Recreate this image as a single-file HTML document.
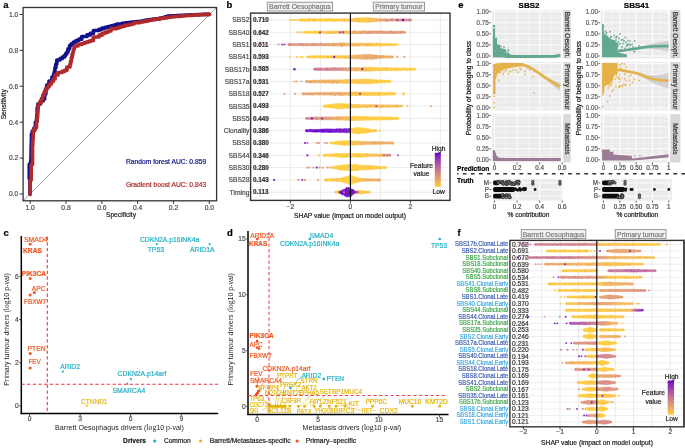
<!DOCTYPE html>
<html><head><meta charset="utf-8"><style>
html,body{margin:0;padding:0;background:#fff;}
svg{display:block;font-family:"Liberation Sans",sans-serif;will-change:transform;}
</style></head><body>
<svg width="685" height="448" viewBox="0 0 685 448">
<rect width="685" height="448" fill="#fff"/>
<text x="3.2" y="8.12" font-size="9.5" stroke="#000" stroke-width="0.2" font-weight="bold">a</text>
<line x1="23.1" y1="200.8" x2="216.6" y2="7.5" stroke="#a0a0a0" stroke-width="1" />
<path d="M30,194 L30,191.67 L30,191.67 L30,189.33 L30,189.33 L30,187 L30,187 L30,184.67 L30,184.67 L30,182.33 L30,182.33 L30,180 L30,180 L30,178.5 L29.3,178.5 L29.3,175.8 L29.3,175.8 L29.3,173.1 L29.3,173.1 L29.3,170.4 L29.3,170.4 L29.3,167.7 L29.3,167.7 L29.3,165 L29.3,165 L29.3,164 L30.8,164 L30.8,160 L31,160 L31,158 L31.04,158 L31.04,156 L31.08,156 L31.08,154 L31.12,154 L31.12,152 L31.16,152 L31.16,150 L31.2,150 L31.2,148 L31.26,148 L31.26,146 L31.32,146 L31.32,144 L31.38,144 L31.38,142 L31.44,142 L31.44,140 L31.5,140 L31.5,134 L32.3,134 L32.3,131 L34,131 L34,128 L35.5,128 L35.5,122 L36.5,122 L36.5,119.33 L36.73,119.33 L36.73,116.67 L36.97,116.67 L36.97,114 L37.2,114 L37.2,108 L37.8,108 L37.8,104 L40.5,104 L40.5,101 L43,101 L43,99 L44.6,99 L44.6,94 L45.8,94 L45.8,88.5 L46.8,88.5 L46.8,85 L49,85 L49,81 L52,81 L52,77 L53.5,77 L53.5,75 L54,75 L54,73 L54.5,73 L54.5,71 L55,71 L55,67.5 L55.9,67.5 L55.9,64 L56.8,64 L56.8,60 L60,60 L60,58.5 L62.3,58.5 L62.3,57 L64.6,57 L64.6,55.33 L65.73,55.33 L65.73,53.67 L66.87,53.67 L66.87,52 L68,52 L68,48.75 L69.6,48.75 L69.6,45.5 L71.2,45.5 L71.2,43.75 L73.6,43.75 L73.6,42 L76,42 L76,40.6 L78.85,40.6 L78.85,39.2 L81.7,39.2 L81.7,36.5 L87,36.5 L87,34.95 L90.2,34.95 L90.2,33.4 L93.4,33.4 L93.4,30.5 L99,30.5 L99,29.3 L102,29.3 L102,28.1 L105,28.1 L105,27.3 L108,27.3 L108,26.5 L111,26.5 L111,25.85 L113.85,25.85 L113.85,25.2 L116.7,25.2 L116.7,24 L122,24 L122,23.4 L125.2,23.4 L125.2,22.8 L128.4,22.8 L128.4,22.5 L131.2,22.5 L131.2,22.2 L134,22.2 L134,21.95 L137,21.95 L137,21.7 L140,21.7 L140,21.25 L142.35,21.25 L142.35,20.8 L144.7,20.8 L144.7,20.35 L147.05,20.35 L147.05,19.9 L149.4,19.9 L149.4,19.53 L152.93,19.53 L152.93,19.17 L156.47,19.17 L156.47,18.8 L160,18.8 L160,18.15 L162.5,18.15 L162.5,17.5 L165,17.5 L165,16.85 L167.5,16.85 L167.5,16.2 L170,16.2 L170,15.97 L173.33,15.97 L173.33,15.73 L176.67,15.73 L176.67,15.5 L180,15.5 L180,15.38 L182.5,15.38 L182.5,15.25 L185,15.25 L185,15.12 L187.5,15.12 L187.5,15 L190,15 L190,14.87 L193.33,14.87 L193.33,14.73 L196.67,14.73 L196.67,14.6 L200,14.6 L200,14.5 L203.17,14.5 L203.17,14.4 L206.33,14.4 L206.33,14.3 L209.5,14.3" stroke="#10108c" stroke-width="3.7" fill="none" stroke-linejoin="round" stroke-linecap="round"/>
<path d="M30.2,194.3 L30.2,190.98 L30.2,190.98 L30.2,187.65 L30.2,187.65 L30.2,184.32 L30.2,184.32 L30.2,181 L30.2,181 L30.2,180 L31.2,180 L31.2,176.5 L31.2,176.5 L31.2,173 L31.2,173 L31.2,169.5 L31.2,169.5 L31.2,166 L31.2,166 L31.2,164.5 L32.5,164.5 L32.5,160.88 L32.5,160.88 L32.5,157.25 L32.5,157.25 L32.5,153.62 L32.5,153.62 L32.5,150 L32.5,150 L32.5,145.5 L32.75,145.5 L32.75,141 L33,141 L33,139 L33.08,139 L33.08,137 L33.15,137 L33.15,135 L33.22,135 L33.22,133 L33.3,133 L33.3,130 L35,130 L35,127.5 L36.5,127.5 L36.5,122 L37,122 L37,118 L37.5,118 L37.5,116 L37.64,116 L37.64,114 L37.78,114 L37.78,112 L37.92,112 L37.92,110 L38.06,110 L38.06,108 L38.2,108 L38.2,104 L40,104 L40,102 L41.5,102 L41.5,98.5 L42.75,98.5 L42.75,95 L44,95 L44,92.5 L45,92.5 L45,90.25 L46.5,90.25 L46.5,88 L48,88 L48,86 L49.65,86 L49.65,84 L51.3,84 L51.3,81.5 L53.15,81.5 L53.15,79 L55,79 L55,75 L58,75 L58,72.5 L62,72.5 L62,71.4 L64.45,71.4 L64.45,70.3 L66.9,70.3 L66.9,67 L70,67 L70,64.15 L70.65,64.15 L70.65,61.3 L71.3,61.3 L71.3,57.65 L72.15,57.65 L72.15,54 L73,54 L73,51.8 L73.57,51.8 L73.57,49.6 L74.13,49.6 L74.13,47.4 L74.7,47.4 L74.7,46 L78,46 L78,44.5 L81.7,44.5 L81.7,43.5 L84.35,43.5 L84.35,42.5 L87,42.5 L87,41.8 L89.13,41.8 L89.13,41.1 L91.27,41.1 L91.27,40.4 L93.4,40.4 L93.4,37 L99,37 L99,35.2 L102,35.2 L102,33.4 L105,33.4 L105,32.2 L108,32.2 L108,31 L111,31 L111,28.7 L116.7,28.7 L116.7,27.85 L119.35,27.85 L119.35,27 L122,27 L122,26.1 L125.2,26.1 L125.2,25.2 L128.4,25.2 L128.4,24.6 L131.2,24.6 L131.2,24 L134,24 L134,22.6 L140,22.6 L140,22 L142.93,22 L142.93,21.4 L145.85,21.4 L145.85,20.8 L148.77,20.8 L148.77,20.2 L151.7,20.2 L151.7,19.6 L155.6,19.6 L155.6,19 L159.5,19 L159.5,18.4 L163.4,18.4 L163.4,17.83 L167.27,17.83 L167.27,17.27 L171.13,17.27 L171.13,16.7 L175,16.7 L175,16.5 L177.34,16.5 L177.34,16.3 L179.68,16.3 L179.68,16.1 L182.02,16.1 L182.02,15.9 L184.36,15.9 L184.36,15.7 L186.7,15.7 L186.7,15.5 L189.62,15.5 L189.62,15.3 L192.55,15.3 L192.55,15.1 L195.47,15.1 L195.47,14.9 L198.4,14.9 L198.4,14.78 L200.62,14.78 L200.62,14.66 L202.84,14.66 L202.84,14.54 L205.06,14.54 L205.06,14.42 L207.28,14.42 L207.28,14.3 L209.5,14.3" stroke="#b0292b" stroke-width="3.7" fill="none" stroke-linejoin="round" stroke-linecap="round"/>
<rect x="23.1" y="7.5" width="193.5" height="193.3" fill="none" stroke="#333" stroke-width="1.3" />
<line x1="19.6" y1="194" x2="23.1" y2="194" stroke="#333" stroke-width="1" />
<text x="18.2" y="196.41" font-size="6.7" text-anchor="end" fill="#4d4d4d" stroke="#4d4d4d" stroke-width="0.2">0.0</text>
<line x1="19.6" y1="158.08" x2="23.1" y2="158.08" stroke="#333" stroke-width="1" />
<text x="18.2" y="160.49" font-size="6.7" text-anchor="end" fill="#4d4d4d" stroke="#4d4d4d" stroke-width="0.2">0.2</text>
<line x1="19.6" y1="122.16" x2="23.1" y2="122.16" stroke="#333" stroke-width="1" />
<text x="18.2" y="124.57" font-size="6.7" text-anchor="end" fill="#4d4d4d" stroke="#4d4d4d" stroke-width="0.2">0.4</text>
<line x1="19.6" y1="86.24" x2="23.1" y2="86.24" stroke="#333" stroke-width="1" />
<text x="18.2" y="88.65" font-size="6.7" text-anchor="end" fill="#4d4d4d" stroke="#4d4d4d" stroke-width="0.2">0.6</text>
<line x1="19.6" y1="50.32" x2="23.1" y2="50.32" stroke="#333" stroke-width="1" />
<text x="18.2" y="52.73" font-size="6.7" text-anchor="end" fill="#4d4d4d" stroke="#4d4d4d" stroke-width="0.2">0.8</text>
<line x1="19.6" y1="14.4" x2="23.1" y2="14.4" stroke="#333" stroke-width="1" />
<text x="18.2" y="16.81" font-size="6.7" text-anchor="end" fill="#4d4d4d" stroke="#4d4d4d" stroke-width="0.2">1.0</text>
<line x1="30.2" y1="200.8" x2="30.2" y2="203.9" stroke="#333" stroke-width="1" />
<text x="30.2" y="210.11" font-size="6.7" text-anchor="middle" fill="#4d4d4d" stroke="#4d4d4d" stroke-width="0.2">1.0</text>
<line x1="66.02" y1="200.8" x2="66.02" y2="203.9" stroke="#333" stroke-width="1" />
<text x="66.02" y="210.11" font-size="6.7" text-anchor="middle" fill="#4d4d4d" stroke="#4d4d4d" stroke-width="0.2">0.8</text>
<line x1="101.84" y1="200.8" x2="101.84" y2="203.9" stroke="#333" stroke-width="1" />
<text x="101.84" y="210.11" font-size="6.7" text-anchor="middle" fill="#4d4d4d" stroke="#4d4d4d" stroke-width="0.2">0.6</text>
<line x1="137.66" y1="200.8" x2="137.66" y2="203.9" stroke="#333" stroke-width="1" />
<text x="137.66" y="210.11" font-size="6.7" text-anchor="middle" fill="#4d4d4d" stroke="#4d4d4d" stroke-width="0.2">0.4</text>
<line x1="173.48" y1="200.8" x2="173.48" y2="203.9" stroke="#333" stroke-width="1" />
<text x="173.48" y="210.11" font-size="6.7" text-anchor="middle" fill="#4d4d4d" stroke="#4d4d4d" stroke-width="0.2">0.2</text>
<line x1="209.3" y1="200.8" x2="209.3" y2="203.9" stroke="#333" stroke-width="1" />
<text x="209.3" y="210.11" font-size="6.7" text-anchor="middle" fill="#4d4d4d" stroke="#4d4d4d" stroke-width="0.2">0.0</text>
<text x="121" y="217.21" font-size="6.7" text-anchor="middle" fill="#222" stroke="#222" stroke-width="0.2">Specificity</text>
<text transform="translate(3.3,104.3) rotate(-90)" x="0" y="2.41" font-size="6.7" text-anchor="middle" fill="#222" stroke="#222" stroke-width="0.2">Sensitivity</text>
<text x="125.9" y="164.11" font-size="6.7" fill="#10108c" stroke="#10108c" stroke-width="0.2" textLength="80.3" lengthAdjust="spacingAndGlyphs">Random forest AUC: 0.859</text>
<text x="125.9" y="187.31" font-size="6.7" fill="#b0292b" stroke="#b0292b" stroke-width="0.2" textLength="80.3" lengthAdjust="spacingAndGlyphs">Gradient boost AUC: 0.843</text>
<text x="226.5" y="8.12" font-size="9.5" stroke="#000" stroke-width="0.2" font-weight="bold">b</text>
<line x1="260.4" y1="13.1" x2="260.4" y2="200.4" stroke="#e3e3e3" stroke-width="0.7" />
<line x1="290.4" y1="13.1" x2="290.4" y2="200.4" stroke="#e3e3e3" stroke-width="0.7" />
<line x1="320.4" y1="13.1" x2="320.4" y2="200.4" stroke="#e3e3e3" stroke-width="0.7" />
<line x1="350.4" y1="13.1" x2="350.4" y2="200.4" stroke="#e3e3e3" stroke-width="0.7" />
<line x1="380.4" y1="13.1" x2="380.4" y2="200.4" stroke="#e3e3e3" stroke-width="0.7" />
<line x1="410.4" y1="13.1" x2="410.4" y2="200.4" stroke="#e3e3e3" stroke-width="0.7" />
<line x1="440.4" y1="13.1" x2="440.4" y2="200.4" stroke="#e3e3e3" stroke-width="0.7" />
<line x1="250.6" y1="20" x2="450" y2="20" stroke="#e3e3e3" stroke-width="0.7" />
<line x1="250.6" y1="32.3" x2="450" y2="32.3" stroke="#e3e3e3" stroke-width="0.7" />
<line x1="250.6" y1="44.6" x2="450" y2="44.6" stroke="#e3e3e3" stroke-width="0.7" />
<line x1="250.6" y1="56.9" x2="450" y2="56.9" stroke="#e3e3e3" stroke-width="0.7" />
<line x1="250.6" y1="69.2" x2="450" y2="69.2" stroke="#e3e3e3" stroke-width="0.7" />
<line x1="250.6" y1="81.5" x2="450" y2="81.5" stroke="#e3e3e3" stroke-width="0.7" />
<line x1="250.6" y1="93.8" x2="450" y2="93.8" stroke="#e3e3e3" stroke-width="0.7" />
<line x1="250.6" y1="106.1" x2="450" y2="106.1" stroke="#e3e3e3" stroke-width="0.7" />
<line x1="250.6" y1="118.4" x2="450" y2="118.4" stroke="#e3e3e3" stroke-width="0.7" />
<line x1="250.6" y1="130.7" x2="450" y2="130.7" stroke="#e3e3e3" stroke-width="0.7" />
<line x1="250.6" y1="143" x2="450" y2="143" stroke="#e3e3e3" stroke-width="0.7" />
<line x1="250.6" y1="155.3" x2="450" y2="155.3" stroke="#e3e3e3" stroke-width="0.7" />
<line x1="250.6" y1="167.6" x2="450" y2="167.6" stroke="#e3e3e3" stroke-width="0.7" />
<line x1="250.6" y1="179.9" x2="450" y2="179.9" stroke="#e3e3e3" stroke-width="0.7" />
<line x1="250.6" y1="192.2" x2="450" y2="192.2" stroke="#e3e3e3" stroke-width="0.7" />
<rect x="267.3" y="2.2" width="65.3" height="8.8" fill="#f2f2f2" stroke="#8c8c8c" stroke-width="0.9" />
<text x="299.95" y="9.28" font-size="6.9" text-anchor="middle" fill="#7a7a7a" stroke="#7a7a7a" stroke-width="0.2">Barrett Oesophagus</text>
<rect x="373.3" y="2.2" width="51.2" height="8.8" fill="#f2f2f2" stroke="#8c8c8c" stroke-width="0.9" />
<text x="398.9" y="9.28" font-size="6.9" text-anchor="middle" fill="#7a7a7a" stroke="#7a7a7a" stroke-width="0.2">Primary tumour</text>
<circle cx="289.9" cy="20" r="1.1" fill="#fdc83a" fill-opacity="0.85"/>
<circle cx="292" cy="20" r="1.1" fill="#fdc83a" fill-opacity="0.85"/>
<circle cx="294" cy="20" r="1.1" fill="#fdc83a" fill-opacity="0.85"/>
<circle cx="296" cy="20" r="1.1" fill="#fdc83a" fill-opacity="0.85"/>
<circle cx="298" cy="20" r="1.1" fill="#fdc83a" fill-opacity="0.85"/>
<linearGradient id="g1" x1="300" x2="411" y1="0" y2="0" gradientUnits="userSpaceOnUse"><stop offset="0" stop-color="#ffcc33"/><stop offset="0.44" stop-color="#fdc83a"/><stop offset="0.47" stop-color="#f7bd4a"/><stop offset="0.59" stop-color="#fbc53f"/><stop offset="0.71" stop-color="#f4b653"/><stop offset="0.74" stop-color="#e19673"/><stop offset="0.9" stop-color="#d58482"/><stop offset="1" stop-color="#ce7b89"/></linearGradient>
<path d="M300,18.89 300.99,18.72 301.98,18.78 302.97,19.02 303.96,19.03 304.96,19.02 305.95,18.84 306.94,18.99 307.93,18.74 308.92,18.76 309.91,18.56 310.9,18.62 311.89,18.98 312.88,18.9 313.88,18.96 314.87,18.73 315.86,18.78 316.85,19.02 317.84,18.71 318.83,18.89 319.82,18.82 320.81,18.65 321.8,18.93 322.79,18.79 323.79,18.69 324.78,18.56 325.77,18.84 326.76,18.97 327.75,19.03 328.74,18.67 329.73,18.61 330.72,18.7 331.71,18.76 332.71,18.63 333.7,18.81 334.69,19.02 335.68,18.73 336.67,18.64 337.66,18.86 338.65,19.04 339.64,18.97 340.63,19.02 341.62,18.99 342.62,18.85 343.61,19.01 344.6,18.78 345.59,18.64 346.58,18.91 347.57,18.87 348.56,18.57 349.55,18.93 350.54,18.72 351.54,18.38 352.53,18.64 353.52,18.44 354.51,18.1 355.5,18.26 356.49,18.1 357.48,17.9 358.47,17.82 359.46,17.96 360.46,18 361.45,17.93 362.44,17.78 363.43,17.65 364.42,17.78 365.41,17.7 366.4,17.74 367.39,17.47 368.38,17.71 369.38,17.74 370.37,17.6 371.36,17.92 372.35,18.24 373.34,18.24 374.33,18.12 375.32,18.64 376.31,18.47 377.3,18.53 378.29,18.58 379.29,18.43 380.28,18.87 381.27,19.11 382.26,18.98 383.25,19.09 384.24,18.84 385.23,18.82 386.22,18.84 387.21,19.14 388.21,19.07 389.2,19.24 390.19,19.12 391.18,18.77 392.17,18.78 393.16,18.77 394.15,19.14 395.14,19.15 396.13,18.94 397.12,18.83 398.12,18.92 399.11,19.21 400.1,18.8 401.09,18.88 402.08,19.17 403.07,19.1 404.06,18.79 405.05,19.09 406.04,18.95 407.04,19.26 408.03,18.88 409.02,19.27 410.01,18.86 411,19.17 411,20.92 410.01,20.98 409.02,21.07 408.03,21.07 407.04,20.75 406.04,20.78 405.05,21.18 404.06,20.92 403.07,21.13 402.08,21.14 401.09,20.99 400.1,21.14 399.11,21.08 398.12,21.15 397.12,20.99 396.13,21.2 395.14,20.85 394.15,20.86 393.16,20.93 392.17,21.24 391.18,20.97 390.19,21.1 389.2,20.89 388.21,20.76 387.21,21.01 386.22,21.12 385.23,21.15 384.24,21.24 383.25,20.86 382.26,21.14 381.27,21.19 380.28,21.18 379.29,21.49 378.29,21.65 377.3,21.21 376.31,21.34 375.32,21.83 374.33,21.55 373.34,21.72 372.35,21.77 371.36,22.09 370.37,22.47 369.38,22.14 368.38,22.33 367.39,22.29 366.4,22.68 365.41,22.43 364.42,22.3 363.43,22.2 362.44,22.19 361.45,22.07 360.46,22.26 359.46,22.05 358.47,22.15 357.48,22.04 356.49,21.59 355.5,21.79 354.51,21.76 353.52,21.66 352.53,21.56 351.54,21.46 350.54,21.4 349.55,21.1 348.56,21.03 347.57,21.39 346.58,21.16 345.59,21.38 344.6,21.39 343.61,21.17 342.62,21.39 341.62,21.07 340.63,21.33 339.64,21.01 338.65,21.18 337.66,21.28 336.67,21.09 335.68,21.45 334.69,21.3 333.7,21.28 332.71,21.42 331.71,21.18 330.72,21.25 329.73,21.11 328.74,21.24 327.75,21.28 326.76,21.19 325.77,21.33 324.78,21.01 323.79,21.09 322.79,21.39 321.8,21.24 320.81,21.3 319.82,21.1 318.83,21.24 317.84,21.16 316.85,21.05 315.86,20.98 314.87,21.14 313.88,21.24 312.88,21.36 311.89,21.01 310.9,21.09 309.91,20.97 308.92,21.15 307.93,21.42 306.94,21.06 305.95,21.36 304.96,21 303.96,21.17 302.97,21.2 301.98,21.13 300.99,20.99 300,21.03Z" fill="url(#g1)" fill-opacity="0.9" stroke="url(#g1)" stroke-width="0.6" stroke-linejoin="round"/>
<circle cx="300" cy="20" r="1.2" fill="#ffcc33" />
<circle cx="411" cy="20" r="0.9" fill="#ce7b89" />
<circle cx="314.54" cy="19.01" r="0.95" fill="#f4b653" fill-opacity="0.6"/>
<circle cx="358.45" cy="21.47" r="0.95" fill="#fbc53f" fill-opacity="0.6"/>
<circle cx="348.15" cy="20.76" r="0.95" fill="#fbc441" fill-opacity="0.6"/>
<circle cx="327.95" cy="19.58" r="0.95" fill="#ffcc33" fill-opacity="0.6"/>
<circle cx="326.7" cy="20.18" r="0.95" fill="#fecb35" fill-opacity="0.6"/>
<circle cx="314.55" cy="20.84" r="0.95" fill="#f7bc4c" fill-opacity="0.6"/>
<circle cx="339.27" cy="19.91" r="0.95" fill="#ffcc33" fill-opacity="0.6"/>
<circle cx="346.69" cy="20.85" r="0.95" fill="#ffcc33" fill-opacity="0.6"/>
<circle cx="355.68" cy="20.09" r="0.95" fill="#fac243" fill-opacity="0.6"/>
<circle cx="348.85" cy="19.35" r="0.95" fill="#fdc939" fill-opacity="0.6"/>
<circle cx="300.44" cy="20.61" r="0.95" fill="#fbc440" fill-opacity="0.6"/>
<circle cx="380.5" cy="20.12" r="0.95" fill="#e29871" fill-opacity="0.6"/>
<circle cx="336.18" cy="20.04" r="0.95" fill="#ffcc33" fill-opacity="0.6"/>
<circle cx="311.78" cy="20.12" r="0.95" fill="#ffcc33" fill-opacity="0.6"/>
<circle cx="327.58" cy="19.54" r="0.95" fill="#fdc73b" fill-opacity="0.6"/>
<circle cx="362.35" cy="21.04" r="0.95" fill="#ffcc33" fill-opacity="0.6"/>
<circle cx="401.29" cy="19.9" r="0.95" fill="#dd9078" fill-opacity="0.6"/>
<circle cx="356.85" cy="20.6" r="0.95" fill="#ffcb34" fill-opacity="0.6"/>
<circle cx="350.21" cy="20.08" r="0.95" fill="#ffcc33" fill-opacity="0.6"/>
<circle cx="377.61" cy="20.92" r="0.95" fill="#f2b356" fill-opacity="0.6"/>
<circle cx="404.58" cy="19.61" r="0.95" fill="#e7a06a" fill-opacity="0.6"/>
<circle cx="393.24" cy="19.38" r="0.95" fill="#e19772" fill-opacity="0.6"/>
<circle cx="313.5" cy="19.88" r="0.95" fill="#fac145" fill-opacity="0.6"/>
<circle cx="308.12" cy="20.35" r="0.95" fill="#fcc73c" fill-opacity="0.6"/>
<circle cx="387.02" cy="20.67" r="0.95" fill="#d58482" fill-opacity="0.6"/>
<circle cx="373.29" cy="18.88" r="0.95" fill="#ecaa60" fill-opacity="0.6"/>
<circle cx="397.99" cy="20.79" r="0.95" fill="#d27f85" fill-opacity="0.6"/>
<circle cx="344.21" cy="19.97" r="0.95" fill="#eaa664" fill-opacity="0.6"/>
<circle cx="409.88" cy="20.51" r="0.95" fill="#c9748e" fill-opacity="0.6"/>
<circle cx="357.23" cy="19.49" r="0.95" fill="#f2b356" fill-opacity="0.6"/>
<circle cx="321.73" cy="19.63" r="0.95" fill="#fecb35" fill-opacity="0.6"/>
<circle cx="361.5" cy="19.77" r="0.95" fill="#fcc53f" fill-opacity="0.6"/>
<circle cx="302.01" cy="19.66" r="0.95" fill="#ffcc33" fill-opacity="0.6"/>
<circle cx="307.14" cy="20.99" r="0.95" fill="#ffcc33" fill-opacity="0.6"/>
<circle cx="387.51" cy="20.8" r="0.95" fill="#d7877f" fill-opacity="0.6"/>
<circle cx="304.39" cy="20.57" r="0.95" fill="#fbc53f" fill-opacity="0.6"/>
<circle cx="330.02" cy="19.24" r="0.95" fill="#ffcc33" fill-opacity="0.6"/>
<circle cx="390.91" cy="19.59" r="0.95" fill="#d17e86" fill-opacity="0.6"/>
<circle cx="316.58" cy="20.86" r="0.95" fill="#ffcc33" fill-opacity="0.6"/>
<circle cx="309.93" cy="19.1" r="0.95" fill="#ffcc33" fill-opacity="0.6"/>
<circle cx="376.39" cy="19.81" r="0.95" fill="#e39a6f" fill-opacity="0.6"/>
<circle cx="370.42" cy="21.14" r="0.95" fill="#f1b159" fill-opacity="0.6"/>
<circle cx="309.3" cy="20.73" r="0.95" fill="#f1b159" fill-opacity="0.6"/>
<circle cx="350.37" cy="19.62" r="0.95" fill="#f4b851" fill-opacity="0.6"/>
<circle cx="403" cy="20" r="1.3" fill="#6600cc" fill-opacity="0.85"/>
<circle cx="397" cy="20" r="1.1" fill="#9839b5" fill-opacity="0.85"/>
<circle cx="297.6" cy="32.3" r="1.1" fill="#fac342" fill-opacity="0.85"/>
<circle cx="299.5" cy="32.3" r="1.1" fill="#fac342" fill-opacity="0.85"/>
<circle cx="301.5" cy="32.3" r="1.1" fill="#fac342" fill-opacity="0.85"/>
<linearGradient id="g2" x1="304" x2="405" y1="0" y2="0" gradientUnits="userSpaceOnUse"><stop offset="0" stop-color="#ffcc33"/><stop offset="0.21" stop-color="#fac342"/><stop offset="0.46" stop-color="#f1b159"/><stop offset="0.65" stop-color="#e19673"/><stop offset="0.9" stop-color="#de9276"/><stop offset="1" stop-color="#e19673"/></linearGradient>
<path d="M304,31.27 304.99,31.41 305.98,31.28 306.97,31.49 307.96,31.51 308.95,31.37 309.94,31.13 310.93,31.25 311.92,31.31 312.91,31.35 313.9,31.09 314.89,31.35 315.88,30.96 316.87,31.01 317.86,31.15 318.85,31.19 319.84,31.03 320.83,31.2 321.82,31.01 322.81,31.15 323.8,31.32 324.79,31.31 325.78,31.22 326.77,31.31 327.76,30.91 328.75,31.2 329.75,31.19 330.74,31.26 331.73,31.2 332.72,30.84 333.71,31.2 334.7,31.16 335.69,31.31 336.68,31.07 337.67,31.2 338.66,31.29 339.65,31.24 340.64,31.26 341.63,31.12 342.62,30.98 343.61,30.89 344.6,30.9 345.59,31.06 346.58,30.76 347.57,30.89 348.56,31.23 349.55,30.8 350.54,30.88 351.53,31.18 352.52,31 353.51,30.85 354.5,30.96 355.49,30.91 356.48,31.14 357.47,31.18 358.46,31.2 359.45,30.97 360.44,30.94 361.43,31.01 362.42,30.85 363.41,31 364.4,30.92 365.39,30.88 366.38,31.21 367.37,30.89 368.36,30.88 369.35,31 370.34,31.01 371.33,30.87 372.32,30.93 373.31,31.18 374.3,30.89 375.29,30.99 376.28,31.25 377.27,30.95 378.26,30.96 379.25,31.05 380.25,31.09 381.24,30.89 382.23,30.86 383.22,31.35 384.21,30.96 385.2,31.16 386.19,31.29 387.18,31.3 388.17,31.34 389.16,30.95 390.15,31.02 391.14,31 392.13,31.33 393.12,31.2 394.11,31.45 395.1,31.22 396.09,31.38 397.08,31.3 398.07,31.47 399.06,31.07 400.05,31.04 401.04,31.07 402.03,31.34 403.02,31.04 404.01,31.37 405,31.41 405,33.07 404.01,33.27 403.02,33.35 402.03,33.27 401.04,33.23 400.05,33.46 399.06,33.17 398.07,33.5 397.08,33.56 396.09,33.32 395.1,33.3 394.11,33.4 393.12,33.17 392.13,33.61 391.14,33.51 390.15,33.42 389.16,33.24 388.17,33.45 387.18,33.49 386.19,33.68 385.2,33.35 384.21,33.71 383.22,33.47 382.23,33.72 381.24,33.37 380.25,33.34 379.25,33.52 378.26,33.45 377.27,33.66 376.28,33.45 375.29,33.33 374.3,33.49 373.31,33.47 372.32,33.38 371.33,33.66 370.34,33.69 369.35,33.54 368.36,33.84 367.37,33.45 366.38,33.48 365.39,33.48 364.4,33.38 363.41,33.62 362.42,33.72 361.43,33.35 360.44,33.69 359.45,33.66 358.46,33.77 357.47,33.53 356.48,33.37 355.49,33.7 354.5,33.8 353.51,33.76 352.52,33.77 351.53,33.61 350.54,33.76 349.55,33.66 348.56,33.77 347.57,33.67 346.58,33.42 345.59,33.51 344.6,33.78 343.61,33.66 342.62,33.59 341.63,33.44 340.64,33.33 339.65,33.51 338.66,33.44 337.67,33.55 336.68,33.55 335.69,33.48 334.7,33.46 333.71,33.76 332.72,33.55 331.73,33.75 330.74,33.49 329.75,33.49 328.75,33.38 327.76,33.59 326.77,33.67 325.78,33.33 324.79,33.62 323.8,33.31 322.81,33.42 321.82,33.56 320.83,33.65 319.84,33.71 318.85,33.46 317.86,33.62 316.87,33.4 315.88,33.22 314.89,33.39 313.9,33.42 312.91,33.13 311.92,33.12 310.93,33.19 309.94,33.23 308.95,33.23 307.96,33.17 306.97,33.14 305.98,33.17 304.99,33.12 304,33.51Z" fill="url(#g2)" fill-opacity="0.9" stroke="url(#g2)" stroke-width="0.6" stroke-linejoin="round"/>
<circle cx="304" cy="32.3" r="1" fill="#ffcc33" />
<circle cx="405" cy="32.3" r="1" fill="#e19673" />
<circle cx="314.27" cy="32.92" r="0.95" fill="#ffcc33" fill-opacity="0.6"/>
<circle cx="329.18" cy="31.82" r="0.95" fill="#e69f6b" fill-opacity="0.6"/>
<circle cx="355.61" cy="31.61" r="0.95" fill="#fac343" fill-opacity="0.6"/>
<circle cx="393.31" cy="32.88" r="0.95" fill="#cd798a" fill-opacity="0.6"/>
<circle cx="367.72" cy="33.21" r="0.95" fill="#d8887e" fill-opacity="0.6"/>
<circle cx="376.68" cy="31.33" r="0.95" fill="#e49b6e" fill-opacity="0.6"/>
<circle cx="377.97" cy="32.2" r="0.95" fill="#e09474" fill-opacity="0.6"/>
<circle cx="332.91" cy="31.36" r="0.95" fill="#ffcc33" fill-opacity="0.6"/>
<circle cx="397.6" cy="31.61" r="0.95" fill="#e7a06a" fill-opacity="0.6"/>
<circle cx="334.07" cy="32.8" r="0.95" fill="#f6ba4e" fill-opacity="0.6"/>
<circle cx="402.61" cy="31.89" r="0.95" fill="#e49c6e" fill-opacity="0.6"/>
<circle cx="360.29" cy="32.07" r="0.95" fill="#eead5d" fill-opacity="0.6"/>
<circle cx="320.9" cy="31.62" r="0.95" fill="#f7bc4b" fill-opacity="0.6"/>
<circle cx="354.2" cy="31.68" r="0.95" fill="#db8d7a" fill-opacity="0.6"/>
<circle cx="395.53" cy="33.23" r="0.95" fill="#e39a6f" fill-opacity="0.6"/>
<circle cx="323.43" cy="31.47" r="0.95" fill="#f9c145" fill-opacity="0.6"/>
<circle cx="338.54" cy="31.43" r="0.95" fill="#f5b850" fill-opacity="0.6"/>
<circle cx="361.53" cy="33.16" r="0.95" fill="#e19673" fill-opacity="0.6"/>
<circle cx="379.72" cy="32.12" r="0.95" fill="#e9a366" fill-opacity="0.6"/>
<circle cx="342.06" cy="31.95" r="0.95" fill="#efae5c" fill-opacity="0.6"/>
<circle cx="310.27" cy="31.91" r="0.95" fill="#fac244" fill-opacity="0.6"/>
<circle cx="354.84" cy="32.59" r="0.95" fill="#eeac5e" fill-opacity="0.6"/>
<circle cx="391.15" cy="31.76" r="0.95" fill="#e09474" fill-opacity="0.6"/>
<circle cx="344.38" cy="32.18" r="0.95" fill="#edaa60" fill-opacity="0.6"/>
<circle cx="400.35" cy="32.92" r="0.95" fill="#de9276" fill-opacity="0.6"/>
<circle cx="307.26" cy="32.66" r="0.95" fill="#ffcc33" fill-opacity="0.6"/>
<circle cx="394.47" cy="32.25" r="0.95" fill="#de9376" fill-opacity="0.6"/>
<circle cx="343.54" cy="33.23" r="0.95" fill="#f3b653" fill-opacity="0.6"/>
<circle cx="387.38" cy="32.99" r="0.95" fill="#d8897e" fill-opacity="0.6"/>
<circle cx="315.01" cy="31.65" r="0.95" fill="#fec938" fill-opacity="0.6"/>
<circle cx="356.76" cy="32.7" r="0.95" fill="#de9276" fill-opacity="0.6"/>
<circle cx="369.38" cy="32.89" r="0.95" fill="#e69f6b" fill-opacity="0.6"/>
<circle cx="350.19" cy="32.41" r="0.95" fill="#e29871" fill-opacity="0.6"/>
<circle cx="327.49" cy="33.16" r="0.95" fill="#f6bb4d" fill-opacity="0.6"/>
<circle cx="369.2" cy="31.87" r="0.95" fill="#dc8f78" fill-opacity="0.6"/>
<circle cx="368.27" cy="32.74" r="0.95" fill="#dd9078" fill-opacity="0.6"/>
<circle cx="315.33" cy="31.49" r="0.95" fill="#ffcc33" fill-opacity="0.6"/>
<circle cx="343.2" cy="31.7" r="0.95" fill="#f5b950" fill-opacity="0.6"/>
<circle cx="364.71" cy="31.22" r="0.95" fill="#e8a268" fill-opacity="0.6"/>
<circle cx="400.85" cy="32.55" r="0.95" fill="#d68581" fill-opacity="0.6"/>
<circle cx="320" cy="32.3" r="1.1" fill="#8223c0" fill-opacity="0.85"/>
<circle cx="340" cy="32.3" r="1.1" fill="#8223c0" fill-opacity="0.85"/>
<circle cx="343" cy="32.3" r="1.1" fill="#9839b5" fill-opacity="0.85"/>
<circle cx="278.5" cy="44.6" r="1.1" fill="#db8d7a" fill-opacity="0.85"/>
<circle cx="282.4" cy="44.6" r="1.1" fill="#8223c0" fill-opacity="0.85"/>
<circle cx="284.6" cy="44.6" r="1.1" fill="#aa4da9" fill-opacity="0.85"/>
<linearGradient id="g3" x1="288.7" x2="396" y1="0" y2="0" gradientUnits="userSpaceOnUse"><stop offset="0" stop-color="#d7877f"/><stop offset="0.29" stop-color="#de9276"/><stop offset="0.52" stop-color="#f1b159"/><stop offset="0.8" stop-color="#f9c145"/><stop offset="1" stop-color="#fdc83a"/></linearGradient>
<path d="M288.7,43.41 289.69,43.73 290.69,43.37 291.68,43.69 292.67,43.59 293.67,43.63 294.66,43.5 295.65,43.71 296.65,43.65 297.64,43.47 298.64,43.41 299.63,43.54 300.62,43.3 301.62,43.37 302.61,43.66 303.6,43.61 304.6,43.5 305.59,43.63 306.58,43.4 307.58,43.64 308.57,43.6 309.56,43.63 310.56,43.66 311.55,43.23 312.54,43.31 313.54,43.2 314.53,43.57 315.52,43.29 316.52,43.32 317.51,43.47 318.51,43.57 319.5,43.51 320.49,43.17 321.49,43.17 322.48,43.47 323.47,43.23 324.47,43.61 325.46,43.44 326.45,43.52 327.45,43.16 328.44,43.39 329.43,43.2 330.43,43.56 331.42,43.1 332.41,43.18 333.41,43.37 334.4,43.05 335.4,43.38 336.39,43.34 337.38,43.49 338.38,43.02 339.37,43 340.36,43.35 341.36,42.98 342.35,43.26 343.34,43.24 344.34,42.99 345.33,43.05 346.32,43.04 347.32,43.15 348.31,43.29 349.3,43.06 350.3,43.36 351.29,43.34 352.29,43.45 353.28,43.3 354.27,43.03 355.27,43.34 356.26,43.43 357.25,43.13 358.25,43.37 359.24,43.19 360.23,43.13 361.23,43.17 362.22,43.09 363.21,43.23 364.21,43.15 365.2,43.4 366.19,43.45 367.19,43.25 368.18,43.34 369.18,43.29 370.17,43.14 371.16,43.05 372.16,43.31 373.15,43.13 374.14,43.53 375.14,43.49 376.13,43.07 377.12,43.09 378.12,43.13 379.11,43.45 380.1,43.12 381.1,43.31 382.09,43.52 383.08,43.58 384.08,43.54 385.07,43.36 386.06,43.71 387.06,43.4 388.05,43.6 389.05,43.38 390.04,43.76 391.03,43.61 392.03,43.5 393.02,43.75 394.01,43.64 395.01,43.69 396,43.69 396,45.63 395.01,45.83 394.01,45.5 393.02,45.71 392.03,45.42 391.03,45.66 390.04,45.46 389.05,45.7 388.05,45.55 387.06,45.56 386.06,45.65 385.07,45.61 384.08,45.83 383.08,45.66 382.09,45.76 381.1,45.9 380.1,45.66 379.11,46.01 378.12,45.86 377.12,45.83 376.13,45.94 375.14,45.74 374.14,45.8 373.15,46.11 372.16,46.06 371.16,45.71 370.17,45.98 369.18,45.77 368.18,46.16 367.19,45.83 366.19,46.11 365.2,45.8 364.21,45.78 363.21,45.87 362.22,45.84 361.23,45.75 360.23,46.12 359.24,46.04 358.25,45.92 357.25,45.94 356.26,45.97 355.27,45.77 354.27,46.22 353.28,46.22 352.29,46.01 351.29,45.77 350.3,46.12 349.3,45.78 348.31,45.93 347.32,45.91 346.32,46.14 345.33,46.12 344.34,45.84 343.34,45.99 342.35,45.87 341.36,46.22 340.36,45.97 339.37,45.74 338.38,46.03 337.38,46.09 336.39,45.83 335.4,46.04 334.4,45.98 333.41,45.8 332.41,46.1 331.42,45.76 330.43,45.66 329.43,45.63 328.44,46.01 327.45,45.61 326.45,45.76 325.46,46.03 324.47,45.8 323.47,45.78 322.48,45.97 321.49,45.66 320.49,45.61 319.5,45.73 318.51,45.55 317.51,45.71 316.52,45.73 315.52,45.56 314.53,46 313.54,45.69 312.54,46.02 311.55,45.96 310.56,45.71 309.56,45.53 308.57,45.98 307.58,45.68 306.58,45.95 305.59,45.67 304.6,45.55 303.6,45.92 302.61,45.81 301.62,45.54 300.62,45.57 299.63,45.51 298.64,45.77 297.64,45.49 296.65,45.59 295.65,45.39 294.66,45.83 293.67,45.49 292.67,45.7 291.68,45.37 290.69,45.7 289.69,45.47 288.7,45.59Z" fill="url(#g3)" fill-opacity="0.9" stroke="url(#g3)" stroke-width="0.6" stroke-linejoin="round"/>
<circle cx="288.7" cy="44.6" r="1" fill="#d7877f" />
<circle cx="396" cy="44.6" r="1" fill="#fdc83a" />
<circle cx="327.03" cy="44.42" r="0.95" fill="#ce7b89" fill-opacity="0.6"/>
<circle cx="327.73" cy="43.96" r="0.95" fill="#f9c046" fill-opacity="0.6"/>
<circle cx="366.82" cy="43.94" r="0.95" fill="#e59e6c" fill-opacity="0.6"/>
<circle cx="334.17" cy="45.32" r="0.95" fill="#e8a268" fill-opacity="0.6"/>
<circle cx="332.29" cy="45.44" r="0.95" fill="#ecaa60" fill-opacity="0.6"/>
<circle cx="290.29" cy="44.69" r="0.95" fill="#d68680" fill-opacity="0.6"/>
<circle cx="357.44" cy="45.55" r="0.95" fill="#eba764" fill-opacity="0.6"/>
<circle cx="328.49" cy="44.61" r="0.95" fill="#de9276" fill-opacity="0.6"/>
<circle cx="304.35" cy="44.19" r="0.95" fill="#efad5d" fill-opacity="0.6"/>
<circle cx="300.37" cy="44.58" r="0.95" fill="#dd9078" fill-opacity="0.6"/>
<circle cx="375.06" cy="45.63" r="0.95" fill="#f8bf48" fill-opacity="0.6"/>
<circle cx="389.89" cy="45.46" r="0.95" fill="#f8bf48" fill-opacity="0.6"/>
<circle cx="340.5" cy="43.55" r="0.95" fill="#e69e6b" fill-opacity="0.6"/>
<circle cx="385.72" cy="44.83" r="0.95" fill="#ffcb34" fill-opacity="0.6"/>
<circle cx="377.17" cy="43.85" r="0.95" fill="#f9bf47" fill-opacity="0.6"/>
<circle cx="332.1" cy="45.36" r="0.95" fill="#edab5f" fill-opacity="0.6"/>
<circle cx="377.67" cy="43.91" r="0.95" fill="#f8bf48" fill-opacity="0.6"/>
<circle cx="344.27" cy="44.32" r="0.95" fill="#e8a268" fill-opacity="0.6"/>
<circle cx="301.9" cy="44.14" r="0.95" fill="#dd9177" fill-opacity="0.6"/>
<circle cx="293.11" cy="44.71" r="0.95" fill="#eba763" fill-opacity="0.6"/>
<circle cx="369.98" cy="43.57" r="0.95" fill="#f6bb4d" fill-opacity="0.6"/>
<circle cx="353.03" cy="44.72" r="0.95" fill="#f6bb4d" fill-opacity="0.6"/>
<circle cx="355.98" cy="44.15" r="0.95" fill="#fdc83b" fill-opacity="0.6"/>
<circle cx="334.38" cy="44.96" r="0.95" fill="#e49b6f" fill-opacity="0.6"/>
<circle cx="336.64" cy="44.46" r="0.95" fill="#df9376" fill-opacity="0.6"/>
<circle cx="341.22" cy="43.97" r="0.95" fill="#eca961" fill-opacity="0.6"/>
<circle cx="370.63" cy="45.22" r="0.95" fill="#fdc83b" fill-opacity="0.6"/>
<circle cx="339.48" cy="43.68" r="0.95" fill="#eba862" fill-opacity="0.6"/>
<circle cx="302.48" cy="44.47" r="0.95" fill="#d27f85" fill-opacity="0.6"/>
<circle cx="343.44" cy="43.51" r="0.95" fill="#eba664" fill-opacity="0.6"/>
<circle cx="356.99" cy="43.63" r="0.95" fill="#f6ba4e" fill-opacity="0.6"/>
<circle cx="343.58" cy="43.54" r="0.95" fill="#fdc83a" fill-opacity="0.6"/>
<circle cx="342.77" cy="44.31" r="0.95" fill="#eba763" fill-opacity="0.6"/>
<circle cx="380.66" cy="45.65" r="0.95" fill="#fcc53e" fill-opacity="0.6"/>
<circle cx="367.25" cy="45.3" r="0.95" fill="#efaf5b" fill-opacity="0.6"/>
<circle cx="341.48" cy="45.68" r="0.95" fill="#d68680" fill-opacity="0.6"/>
<circle cx="386.99" cy="43.96" r="0.95" fill="#f7bd4a" fill-opacity="0.6"/>
<circle cx="295.73" cy="44.34" r="0.95" fill="#edaa60" fill-opacity="0.6"/>
<circle cx="369.84" cy="43.84" r="0.95" fill="#f3b554" fill-opacity="0.6"/>
<circle cx="376.22" cy="43.81" r="0.95" fill="#fdc939" fill-opacity="0.6"/>
<circle cx="342.59" cy="45.6" r="0.95" fill="#edab5f" fill-opacity="0.6"/>
<circle cx="342.99" cy="44.17" r="0.95" fill="#e9a366" fill-opacity="0.6"/>
<circle cx="398" cy="44.6" r="1.1" fill="#fdc83a" fill-opacity="0.85"/>
<circle cx="289.9" cy="56.9" r="1.1" fill="#fdc83a" fill-opacity="0.85"/>
<circle cx="296.9" cy="56.9" r="1.1" fill="#fdc83a" fill-opacity="0.85"/>
<circle cx="300.4" cy="56.9" r="1.1" fill="#fdc83a" fill-opacity="0.85"/>
<circle cx="302.7" cy="56.9" r="1.1" fill="#fdc83a" fill-opacity="0.85"/>
<linearGradient id="g4" x1="307.4" x2="392.7" y1="0" y2="0" gradientUnits="userSpaceOnUse"><stop offset="0" stop-color="#ffcc33"/><stop offset="0.44" stop-color="#fbc53f"/><stop offset="0.52" stop-color="#f1b159"/><stop offset="0.71" stop-color="#e9a466"/><stop offset="0.87" stop-color="#eba862"/><stop offset="1" stop-color="#eeab5f"/></linearGradient>
<path d="M307.4,56.13 308.39,56.07 309.38,55.81 310.38,56.06 311.37,56.08 312.36,55.82 313.35,55.7 314.34,55.84 315.33,56.07 316.33,55.8 317.32,55.7 318.31,55.6 319.3,55.9 320.29,55.85 321.29,55.69 322.28,55.64 323.27,55.72 324.26,55.73 325.25,55.86 326.25,55.98 327.24,55.68 328.23,55.72 329.22,55.9 330.21,55.62 331.2,55.94 332.2,55.87 333.19,55.81 334.18,55.61 335.17,55.59 336.16,55.82 337.16,55.76 338.15,55.83 339.14,55.43 340.13,55.66 341.12,55.85 342.12,55.57 343.11,55.53 344.1,55.38 345.09,55.73 346.08,55.8 347.07,55.57 348.07,55.66 349.06,55.59 350.05,55.05 351.04,55.37 352.03,55.2 353.03,55.04 354.02,55.27 355.01,55.37 356,54.96 356.99,55.29 357.98,54.86 358.98,54.8 359.97,54.99 360.96,54.92 361.95,54.8 362.94,54.56 363.94,54.5 364.93,54.53 365.92,54.38 366.91,54.63 367.9,54.27 368.9,54.32 369.89,54.67 370.88,54.49 371.87,54.57 372.86,54.61 373.85,55.04 374.85,54.97 375.84,55.07 376.83,55.28 377.82,55.28 378.81,55.5 379.81,55.5 380.8,55.72 381.79,55.81 382.78,55.78 383.77,55.82 384.77,55.72 385.76,55.92 386.75,55.63 387.74,55.67 388.73,56.03 389.72,55.91 390.72,55.72 391.71,56.11 392.7,55.69 392.7,58.12 391.71,58.09 390.72,58.12 389.72,58.11 388.73,58.04 387.74,58.15 386.75,58.14 385.76,57.89 384.77,57.97 383.77,58.39 382.78,57.96 381.79,58.41 380.8,58.28 379.81,58.17 378.81,58.45 377.82,58.6 376.83,58.7 375.84,58.89 374.85,58.87 373.85,59.09 372.86,58.92 371.87,59.02 370.88,59.41 369.89,59.12 368.9,59.05 367.9,59.16 366.91,59.36 365.92,59.28 364.93,59.21 363.94,59.08 362.94,59.31 361.95,59.21 360.96,58.79 359.97,58.75 358.98,58.86 357.98,58.8 356.99,58.93 356,58.81 355.01,58.85 354.02,58.53 353.03,58.44 352.03,58.67 351.04,58.64 350.05,58.35 349.06,58.48 348.07,58.5 347.07,58.15 346.08,58.24 345.09,58.4 344.1,58.32 343.11,58.17 342.12,58.12 341.12,58.26 340.13,58.07 339.14,58.32 338.15,58.25 337.16,57.99 336.16,58.38 335.17,58.14 334.18,57.99 333.19,58.17 332.2,58.05 331.2,58.04 330.21,57.86 329.22,57.95 328.23,58.27 327.24,58.03 326.25,57.88 325.25,57.79 324.26,58.11 323.27,58.26 322.28,57.88 321.29,57.76 320.29,57.82 319.3,58.1 318.31,58 317.32,57.83 316.33,57.89 315.33,58.18 314.34,58.12 313.35,57.95 312.36,57.84 311.37,57.92 310.38,58.05 309.38,58.1 308.39,58.12 307.4,57.74Z" fill="url(#g4)" fill-opacity="0.9" stroke="url(#g4)" stroke-width="0.6" stroke-linejoin="round"/>
<circle cx="307.4" cy="56.9" r="1" fill="#ffcc33" />
<circle cx="392.7" cy="56.9" r="1" fill="#eeab5f" />
<circle cx="316.54" cy="56.38" r="0.95" fill="#fdc73b" fill-opacity="0.6"/>
<circle cx="379.71" cy="57.63" r="0.95" fill="#eaa565" fill-opacity="0.6"/>
<circle cx="361.49" cy="58.09" r="0.95" fill="#f1b158" fill-opacity="0.6"/>
<circle cx="315.92" cy="56.19" r="0.95" fill="#ffcc33" fill-opacity="0.6"/>
<circle cx="372" cy="55.8" r="0.95" fill="#eeac5e" fill-opacity="0.6"/>
<circle cx="309.18" cy="56.49" r="0.95" fill="#f8be49" fill-opacity="0.6"/>
<circle cx="331.51" cy="57.35" r="0.95" fill="#ffcc33" fill-opacity="0.6"/>
<circle cx="389.63" cy="56.91" r="0.95" fill="#e7a169" fill-opacity="0.6"/>
<circle cx="380.02" cy="57.17" r="0.95" fill="#e29970" fill-opacity="0.6"/>
<circle cx="344.63" cy="57.5" r="0.95" fill="#fac244" fill-opacity="0.6"/>
<circle cx="336.98" cy="57.34" r="0.95" fill="#ffcc33" fill-opacity="0.6"/>
<circle cx="380.95" cy="55.99" r="0.95" fill="#edaa60" fill-opacity="0.6"/>
<circle cx="377.33" cy="56.02" r="0.95" fill="#e59d6d" fill-opacity="0.6"/>
<circle cx="372.41" cy="58.65" r="0.95" fill="#eaa565" fill-opacity="0.6"/>
<circle cx="307.77" cy="56.88" r="0.95" fill="#ffcc33" fill-opacity="0.6"/>
<circle cx="323.14" cy="56.89" r="0.95" fill="#fdc83b" fill-opacity="0.6"/>
<circle cx="337.01" cy="57.62" r="0.95" fill="#fdc939" fill-opacity="0.6"/>
<circle cx="331.6" cy="56.31" r="0.95" fill="#eaa565" fill-opacity="0.6"/>
<circle cx="367.07" cy="56.89" r="0.95" fill="#e09574" fill-opacity="0.6"/>
<circle cx="314.3" cy="57.4" r="0.95" fill="#f7bd4a" fill-opacity="0.6"/>
<circle cx="366.87" cy="58.07" r="0.95" fill="#efae5b" fill-opacity="0.6"/>
<circle cx="341.63" cy="56.67" r="0.95" fill="#ffcc33" fill-opacity="0.6"/>
<circle cx="383.35" cy="55.99" r="0.95" fill="#eaa664" fill-opacity="0.6"/>
<circle cx="324.98" cy="56.44" r="0.95" fill="#fecb35" fill-opacity="0.6"/>
<circle cx="384.27" cy="56.9" r="0.95" fill="#f8be49" fill-opacity="0.6"/>
<circle cx="327.32" cy="56.82" r="0.95" fill="#f2b456" fill-opacity="0.6"/>
<circle cx="352.74" cy="57.64" r="0.95" fill="#f0b05a" fill-opacity="0.6"/>
<circle cx="337.13" cy="56.53" r="0.95" fill="#ffcc33" fill-opacity="0.6"/>
<circle cx="320.65" cy="57.53" r="0.95" fill="#ffcc33" fill-opacity="0.6"/>
<circle cx="321.86" cy="56.79" r="0.95" fill="#ffcc33" fill-opacity="0.6"/>
<circle cx="373.37" cy="57.18" r="0.95" fill="#e39a6f" fill-opacity="0.6"/>
<circle cx="382.9" cy="56.32" r="0.95" fill="#e59d6d" fill-opacity="0.6"/>
<circle cx="323.74" cy="56.52" r="0.95" fill="#ffcc33" fill-opacity="0.6"/>
<circle cx="320.59" cy="56.27" r="0.95" fill="#ffcc33" fill-opacity="0.6"/>
<circle cx="334.3" cy="56.9" r="1.1" fill="#6600cc" fill-opacity="0.85"/>
<circle cx="397.3" cy="56.9" r="1.1" fill="#e69f6b" fill-opacity="0.85"/>
<circle cx="404.3" cy="56.9" r="1.1" fill="#e69f6b" fill-opacity="0.85"/>
<circle cx="294.5" cy="69.2" r="1.3" fill="#6600cc" fill-opacity="0.85"/>
<linearGradient id="g5" x1="314.4" x2="414.9" y1="0" y2="0" gradientUnits="userSpaceOnUse"><stop offset="0" stop-color="#c8728f"/><stop offset="0.25" stop-color="#d58482"/><stop offset="0.37" stop-color="#eeab5f"/><stop offset="0.53" stop-color="#f9c145"/><stop offset="0.67" stop-color="#fdc83a"/><stop offset="1" stop-color="#ffcc33"/></linearGradient>
<path d="M314.4,68.23 315.4,68.09 316.39,68.18 317.39,67.86 318.38,68.29 319.38,68.28 320.37,67.83 321.37,67.95 322.36,68.21 323.36,68.24 324.35,68.09 325.35,68.07 326.34,67.91 327.34,67.93 328.33,68.17 329.33,68.02 330.32,67.76 331.32,67.91 332.31,67.98 333.31,67.82 334.3,67.79 335.3,67.74 336.29,67.84 337.29,68 338.28,68.1 339.28,67.76 340.27,67.83 341.27,67.93 342.26,67.81 343.26,67.76 344.25,67.97 345.25,67.64 346.24,67.75 347.24,67.93 348.23,67.84 349.23,67.42 350.22,67.82 351.22,67.58 352.21,67.59 353.21,67.43 354.2,67.63 355.2,67.72 356.19,67.61 357.19,67.72 358.18,67.57 359.18,67.59 360.17,67.69 361.17,67.46 362.16,67.46 363.16,67.5 364.15,67.12 365.15,67.46 366.14,67.36 367.14,67.49 368.13,67.15 369.13,67.32 370.12,67.46 371.12,67.43 372.11,67.24 373.11,67.46 374.1,67.48 375.1,67.39 376.09,67.44 377.09,67.72 378.08,67.75 379.08,68 380.07,67.89 381.07,67.89 382.06,67.84 383.06,67.72 384.05,67.59 385.05,68.03 386.04,67.61 387.04,68 388.03,67.77 389.03,68.09 390.02,67.78 391.02,68.07 392.01,68.02 393.01,67.98 394,67.72 395,68.1 395.99,67.9 396.99,67.89 397.98,67.85 398.98,68.16 399.97,68.01 400.97,68.08 401.96,68.04 402.96,68.22 403.95,68.1 404.95,68.13 405.94,68.14 406.94,68.13 407.93,68.4 408.93,68.18 409.92,68.1 410.92,68.25 411.91,67.96 412.91,68.13 413.9,68.43 414.9,68.11 414.9,70.42 413.9,70.26 412.91,70.27 411.91,70 410.92,70.17 409.92,70.39 408.93,70.26 407.93,70.41 406.94,70.44 405.94,70.27 404.95,70.11 403.95,70.08 402.96,70.14 401.96,70.22 400.97,70.54 399.97,70.49 398.98,70.49 397.98,70.58 396.99,70.62 395.99,70.59 395,70.66 394,70.63 393.01,70.33 392.01,70.65 391.02,70.35 390.02,70.42 389.03,70.78 388.03,70.33 387.04,70.74 386.04,70.73 385.05,70.76 384.05,70.77 383.06,70.53 382.06,70.67 381.07,70.6 380.07,70.5 379.08,70.76 378.08,70.53 377.09,70.61 376.09,70.67 375.1,70.77 374.1,70.71 373.11,70.85 372.11,71.16 371.12,71.11 370.12,71.3 369.13,71.12 368.13,71.17 367.14,71.24 366.14,70.95 365.15,71.23 364.15,71.07 363.16,71.16 362.16,70.89 361.17,71.08 360.17,70.91 359.18,70.88 358.18,70.68 357.19,71.11 356.19,70.98 355.2,70.92 354.2,71.04 353.21,70.82 352.21,70.87 351.22,70.91 350.22,70.82 349.23,70.77 348.23,70.87 347.24,70.72 346.24,70.9 345.25,70.56 344.25,70.66 343.26,70.77 342.26,70.48 341.27,70.49 340.27,70.38 339.28,70.61 338.28,70.46 337.29,70.56 336.29,70.47 335.3,70.57 334.3,70.58 333.31,70.66 332.31,70.32 331.32,70.57 330.32,70.4 329.33,70.55 328.33,70.47 327.34,70.38 326.34,70.39 325.35,70.52 324.35,70.13 323.36,70.21 322.36,70.41 321.37,70.3 320.37,70.47 319.38,70.26 318.38,70.54 317.39,70.42 316.39,70.15 315.4,70.13 314.4,70.21Z" fill="url(#g5)" fill-opacity="0.9" stroke="url(#g5)" stroke-width="0.6" stroke-linejoin="round"/>
<circle cx="314.4" cy="69.2" r="1.1" fill="#c8728f" />
<circle cx="414.9" cy="69.2" r="1" fill="#ffcc33" />
<circle cx="347.61" cy="70.44" r="0.95" fill="#efad5d" fill-opacity="0.6"/>
<circle cx="404.6" cy="68.34" r="0.95" fill="#ffcc33" fill-opacity="0.6"/>
<circle cx="386.58" cy="69.49" r="0.95" fill="#ffcc33" fill-opacity="0.6"/>
<circle cx="351.2" cy="69.13" r="0.95" fill="#dd9077" fill-opacity="0.6"/>
<circle cx="367.22" cy="70.07" r="0.95" fill="#f7bc4b" fill-opacity="0.6"/>
<circle cx="356.85" cy="69.35" r="0.95" fill="#e9a367" fill-opacity="0.6"/>
<circle cx="397.49" cy="68.77" r="0.95" fill="#fac342" fill-opacity="0.6"/>
<circle cx="365.03" cy="68.47" r="0.95" fill="#feca36" fill-opacity="0.6"/>
<circle cx="365.3" cy="70.72" r="0.95" fill="#ffcc33" fill-opacity="0.6"/>
<circle cx="347.66" cy="68.73" r="0.95" fill="#f1b258" fill-opacity="0.6"/>
<circle cx="344.47" cy="69.4" r="0.95" fill="#e9a367" fill-opacity="0.6"/>
<circle cx="318.43" cy="69.62" r="0.95" fill="#d7887f" fill-opacity="0.6"/>
<circle cx="403.4" cy="69.29" r="0.95" fill="#f8bf48" fill-opacity="0.6"/>
<circle cx="315.02" cy="68.62" r="0.95" fill="#c56f92" fill-opacity="0.6"/>
<circle cx="407" cy="69.39" r="0.95" fill="#ffcc33" fill-opacity="0.6"/>
<circle cx="405.84" cy="69.4" r="0.95" fill="#ffcc33" fill-opacity="0.6"/>
<circle cx="376.38" cy="69.54" r="0.95" fill="#ffcc33" fill-opacity="0.6"/>
<circle cx="382.84" cy="68.52" r="0.95" fill="#ffcc33" fill-opacity="0.6"/>
<circle cx="381.43" cy="69.1" r="0.95" fill="#fdc73b" fill-opacity="0.6"/>
<circle cx="332.62" cy="68.21" r="0.95" fill="#d68581" fill-opacity="0.6"/>
<circle cx="392.24" cy="70.12" r="0.95" fill="#ffcc33" fill-opacity="0.6"/>
<circle cx="397.07" cy="69.8" r="0.95" fill="#ffcc33" fill-opacity="0.6"/>
<circle cx="370.89" cy="68.44" r="0.95" fill="#fdc73b" fill-opacity="0.6"/>
<circle cx="346.41" cy="69.03" r="0.95" fill="#d98b7c" fill-opacity="0.6"/>
<circle cx="378.9" cy="70.28" r="0.95" fill="#f3b554" fill-opacity="0.6"/>
<circle cx="318.36" cy="68.48" r="0.95" fill="#c56e92" fill-opacity="0.6"/>
<circle cx="395.84" cy="69.36" r="0.95" fill="#f7bc4b" fill-opacity="0.6"/>
<circle cx="315.82" cy="68.99" r="0.95" fill="#ce7a89" fill-opacity="0.6"/>
<circle cx="373.89" cy="70.47" r="0.95" fill="#f2b455" fill-opacity="0.6"/>
<circle cx="355.85" cy="68.09" r="0.95" fill="#f2b357" fill-opacity="0.6"/>
<circle cx="379.17" cy="68.49" r="0.95" fill="#fcc53e" fill-opacity="0.6"/>
<circle cx="314.88" cy="69.54" r="0.95" fill="#c77091" fill-opacity="0.6"/>
<circle cx="326.63" cy="70.15" r="0.95" fill="#bb619b" fill-opacity="0.6"/>
<circle cx="327.36" cy="68.21" r="0.95" fill="#c36c94" fill-opacity="0.6"/>
<circle cx="386.69" cy="68.6" r="0.95" fill="#feca37" fill-opacity="0.6"/>
<circle cx="319.44" cy="69.72" r="0.95" fill="#d17f86" fill-opacity="0.6"/>
<circle cx="386.11" cy="70.04" r="0.95" fill="#feca37" fill-opacity="0.6"/>
<circle cx="377.58" cy="69.74" r="0.95" fill="#ffcc33" fill-opacity="0.6"/>
<circle cx="360.69" cy="70.5" r="0.95" fill="#f5b851" fill-opacity="0.6"/>
<circle cx="386.48" cy="68.05" r="0.95" fill="#e9a366" fill-opacity="0.6"/>
<circle cx="362.3" cy="69.2" r="1.1" fill="#6600cc" fill-opacity="0.85"/>
<circle cx="294.5" cy="81.5" r="1.1" fill="#e69f6b" fill-opacity="0.85"/>
<circle cx="296.9" cy="81.5" r="1.1" fill="#e69f6b" fill-opacity="0.85"/>
<circle cx="301.5" cy="81.5" r="1.1" fill="#e69f6b" fill-opacity="0.85"/>
<linearGradient id="g6" x1="306.2" x2="390.3" y1="0" y2="0" gradientUnits="userSpaceOnUse"><stop offset="0" stop-color="#e9a466"/><stop offset="0.34" stop-color="#f1b159"/><stop offset="0.52" stop-color="#fac342"/><stop offset="0.7" stop-color="#fdc83a"/><stop offset="0.94" stop-color="#ffcc33"/><stop offset="1" stop-color="#ffcc33"/></linearGradient>
<path d="M306.2,80.64 307.19,80.24 308.18,80.49 309.17,80.56 310.16,80.39 311.15,80.44 312.14,80.39 313.13,80.52 314.12,80.4 315.1,80.25 316.09,80.35 317.08,80.05 318.07,80.22 319.06,80.45 320.05,80.11 321.04,80.27 322.03,79.93 323.02,80.1 324.01,80.16 325,80.17 325.99,80.04 326.98,79.92 327.97,80.31 328.96,80.08 329.95,79.87 330.94,80.25 331.92,79.86 332.91,79.97 333.9,79.83 334.89,79.91 335.88,80.07 336.87,79.96 337.86,80.11 338.85,79.72 339.84,79.85 340.83,79.89 341.82,79.95 342.81,79.64 343.8,79.95 344.79,79.57 345.78,79.63 346.77,79.45 347.76,79.63 348.74,79.76 349.73,79.76 350.72,79.67 351.71,79.64 352.7,79.74 353.69,79.29 354.68,79.71 355.67,79.33 356.66,79.39 357.65,79.38 358.64,79.59 359.63,79.13 360.62,79.24 361.61,79.11 362.6,79 363.59,79.05 364.58,79.32 365.56,79.35 366.55,79.42 367.54,79.21 368.53,79.3 369.52,79.12 370.51,79.33 371.5,79.63 372.49,79.63 373.48,79.51 374.47,79.57 375.46,79.76 376.45,79.58 377.44,80.03 378.43,80.08 379.42,79.82 380.41,79.91 381.4,79.98 382.38,80.09 383.37,80.41 384.36,80.07 385.35,80.11 386.34,80.2 387.33,80.52 388.32,80.53 389.31,80.48 390.3,80.63 390.3,82.32 389.31,82.36 388.32,82.4 387.33,82.59 386.34,82.88 385.35,82.7 384.36,83.02 383.37,82.64 382.38,83.08 381.4,82.98 380.41,82.7 379.42,83.18 378.43,82.97 377.44,82.88 376.45,83.43 375.46,83.09 374.47,83.29 373.48,83.65 372.49,83.52 371.5,83.79 370.51,83.57 369.52,83.46 368.53,83.95 367.54,83.95 366.55,83.56 365.56,83.64 364.58,83.57 363.59,84.02 362.6,83.91 361.61,83.71 360.62,83.6 359.63,83.68 358.64,83.89 357.65,83.37 356.66,83.49 355.67,83.35 354.68,83.56 353.69,83.39 352.7,83.2 351.71,83.42 350.72,83.43 349.73,83.5 348.74,83.24 347.76,83.42 346.77,83.37 345.78,83.53 344.79,83.16 343.8,83.41 342.81,83.19 341.82,83.3 340.83,82.98 339.84,83.18 338.85,82.93 337.86,83.16 336.87,83.16 335.88,82.8 334.89,83.21 333.9,83.15 332.91,82.88 331.92,83.17 330.94,83.15 329.95,83.16 328.96,83 327.97,82.83 326.98,82.82 325.99,83.11 325,82.98 324.01,83.07 323.02,82.76 322.03,83 321.04,82.86 320.05,82.95 319.06,83 318.07,82.64 317.08,82.87 316.09,82.85 315.1,82.65 314.12,82.74 313.13,82.8 312.14,82.73 311.15,82.67 310.16,82.4 309.17,82.79 308.18,82.72 307.19,82.39 306.2,82.68Z" fill="url(#g6)" fill-opacity="0.9" stroke="url(#g6)" stroke-width="0.6" stroke-linejoin="round"/>
<circle cx="306.2" cy="81.5" r="1.1" fill="#e9a466" />
<circle cx="390.3" cy="81.5" r="1" fill="#ffcc33" />
<circle cx="363.19" cy="79.61" r="0.95" fill="#feca37" fill-opacity="0.6"/>
<circle cx="309.23" cy="82.31" r="0.95" fill="#efaf5b" fill-opacity="0.6"/>
<circle cx="324.75" cy="82.52" r="0.95" fill="#e29871" fill-opacity="0.6"/>
<circle cx="317.95" cy="81.39" r="0.95" fill="#f9c047" fill-opacity="0.6"/>
<circle cx="314.36" cy="82.36" r="0.95" fill="#e59d6d" fill-opacity="0.6"/>
<circle cx="344.24" cy="81.02" r="0.95" fill="#ffcc33" fill-opacity="0.6"/>
<circle cx="375.42" cy="81.43" r="0.95" fill="#ffcc33" fill-opacity="0.6"/>
<circle cx="324.84" cy="80.45" r="0.95" fill="#f1b258" fill-opacity="0.6"/>
<circle cx="366.22" cy="81.71" r="0.95" fill="#f4b752" fill-opacity="0.6"/>
<circle cx="328.6" cy="81.28" r="0.95" fill="#e19772" fill-opacity="0.6"/>
<circle cx="319.29" cy="81.01" r="0.95" fill="#e9a367" fill-opacity="0.6"/>
<circle cx="320.31" cy="81.48" r="0.95" fill="#f3b554" fill-opacity="0.6"/>
<circle cx="332.95" cy="82.52" r="0.95" fill="#de9276" fill-opacity="0.6"/>
<circle cx="310.98" cy="82.26" r="0.95" fill="#da8c7b" fill-opacity="0.6"/>
<circle cx="362.4" cy="80.38" r="0.95" fill="#ffcc33" fill-opacity="0.6"/>
<circle cx="327.88" cy="80.77" r="0.95" fill="#eeac5e" fill-opacity="0.6"/>
<circle cx="336.84" cy="82.76" r="0.95" fill="#de9276" fill-opacity="0.6"/>
<circle cx="314.41" cy="81.08" r="0.95" fill="#eca862" fill-opacity="0.6"/>
<circle cx="381.57" cy="80.47" r="0.95" fill="#ffcc33" fill-opacity="0.6"/>
<circle cx="388.5" cy="80.61" r="0.95" fill="#ffcc33" fill-opacity="0.6"/>
<circle cx="374.07" cy="80.99" r="0.95" fill="#fec938" fill-opacity="0.6"/>
<circle cx="376.19" cy="81.58" r="0.95" fill="#feca37" fill-opacity="0.6"/>
<circle cx="321.83" cy="81.35" r="0.95" fill="#e8a268" fill-opacity="0.6"/>
<circle cx="354.25" cy="80.29" r="0.95" fill="#feca37" fill-opacity="0.6"/>
<circle cx="321.35" cy="82.11" r="0.95" fill="#eead5d" fill-opacity="0.6"/>
<circle cx="312.87" cy="80.69" r="0.95" fill="#f0b059" fill-opacity="0.6"/>
<circle cx="357.38" cy="81.48" r="0.95" fill="#fdc73c" fill-opacity="0.6"/>
<circle cx="357.71" cy="82.24" r="0.95" fill="#f7bc4c" fill-opacity="0.6"/>
<circle cx="374.45" cy="81.76" r="0.95" fill="#fdc939" fill-opacity="0.6"/>
<circle cx="367.82" cy="81.15" r="0.95" fill="#fbc441" fill-opacity="0.6"/>
<circle cx="366.89" cy="79.78" r="0.95" fill="#fbc441" fill-opacity="0.6"/>
<circle cx="377" cy="82.52" r="0.95" fill="#ffcc33" fill-opacity="0.6"/>
<circle cx="347.66" cy="79.95" r="0.95" fill="#f1b258" fill-opacity="0.6"/>
<circle cx="284.5" cy="93.8" r="1.1" fill="#e19673" fill-opacity="0.85"/>
<circle cx="295.2" cy="93.8" r="1.1" fill="#e19673" fill-opacity="0.85"/>
<linearGradient id="g7" x1="302.7" x2="395" y1="0" y2="0" gradientUnits="userSpaceOnUse"><stop offset="0" stop-color="#e69f6b"/><stop offset="0.46" stop-color="#eba862"/><stop offset="0.57" stop-color="#fbc53f"/><stop offset="0.78" stop-color="#fdc83a"/><stop offset="1" stop-color="#ffcc33"/></linearGradient>
<path d="M302.7,92.51 303.69,92.86 304.68,92.76 305.68,92.76 306.67,92.94 307.66,92.72 308.65,92.88 309.65,92.52 310.64,92.76 311.63,92.73 312.62,92.88 313.62,92.43 314.61,92.64 315.6,92.62 316.59,92.39 317.59,92.78 318.58,92.73 319.57,92.83 320.56,92.49 321.56,92.82 322.55,92.53 323.54,92.45 324.53,92.36 325.53,92.76 326.52,92.52 327.51,92.62 328.5,92.55 329.5,92.44 330.49,92.66 331.48,92.35 332.47,92.3 333.47,92.51 334.46,92.27 335.45,92.49 336.44,92.29 337.44,92.55 338.43,92.45 339.42,92.26 340.41,92.25 341.41,92.63 342.4,92.17 343.39,92.53 344.38,92.33 345.38,92.38 346.37,92.42 347.36,92.6 348.35,92.09 349.35,92.06 350.34,92.08 351.33,92 352.32,92.08 353.32,92.03 354.31,92.08 355.3,92.04 356.29,92.09 357.29,91.88 358.28,92.2 359.27,92.3 360.26,91.89 361.26,92.24 362.25,92.11 363.24,92.32 364.23,92.25 365.23,92.26 366.22,92.37 367.21,92 368.2,92.14 369.2,92.33 370.19,92.21 371.18,92.13 372.17,92.29 373.17,92.34 374.16,92.26 375.15,92.44 376.14,92.02 377.14,92.19 378.13,92.34 379.12,92.36 380.11,92.46 381.11,92.14 382.1,92.59 383.09,92.44 384.08,92.65 385.08,92.27 386.07,92.72 387.06,92.67 388.05,92.58 389.05,92.52 390.04,92.59 391.03,92.61 392.02,92.63 393.02,92.58 394.01,92.61 395,92.67 395,94.84 394.01,94.56 393.02,94.63 392.02,94.94 391.03,94.84 390.04,95.01 389.05,94.93 388.05,95.14 387.06,95.09 386.07,94.97 385.08,95.22 384.08,95.01 383.09,95.31 382.1,95.18 381.11,95.24 380.11,95.09 379.12,95.48 378.13,95.61 377.14,95.38 376.14,95.26 375.15,95.33 374.16,95.44 373.17,95.41 372.17,95.28 371.18,95.39 370.19,95.44 369.2,95.52 368.2,95.5 367.21,95.49 366.22,95.46 365.23,95.32 364.23,95.41 363.24,95.28 362.25,95.3 361.26,95.46 360.26,95.49 359.27,95.54 358.28,95.57 357.29,95.39 356.29,95.47 355.3,95.38 354.31,95.71 353.32,95.37 352.32,95.33 351.33,95.18 350.34,95.56 349.35,95.39 348.35,95.41 347.36,95.06 346.37,95.22 345.38,94.99 344.38,95.13 343.39,95.16 342.4,95.41 341.41,95.2 340.41,95.37 339.42,95.39 338.43,95.42 337.44,95.09 336.44,95.09 335.45,95.38 334.46,95.17 333.47,95.11 332.47,95.36 331.48,94.96 330.49,95.16 329.5,95.29 328.5,94.92 327.51,94.9 326.52,95.08 325.53,94.88 324.53,95.17 323.54,94.85 322.55,95.05 321.56,95.07 320.56,94.86 319.57,94.8 318.58,95.15 317.59,94.78 316.59,94.83 315.6,94.72 314.61,94.97 313.62,94.94 312.62,95.13 311.63,95.06 310.64,95.03 309.65,95.1 308.65,95.02 307.66,94.92 306.67,94.92 305.68,94.95 304.68,94.73 303.69,95.07 302.7,94.78Z" fill="url(#g7)" fill-opacity="0.9" stroke="url(#g7)" stroke-width="0.6" stroke-linejoin="round"/>
<circle cx="302.7" cy="93.8" r="1.1" fill="#e69f6b" />
<circle cx="395" cy="93.8" r="1" fill="#ffcc33" />
<circle cx="348.65" cy="94.97" r="0.95" fill="#f6bb4d" fill-opacity="0.6"/>
<circle cx="355.49" cy="93.56" r="0.95" fill="#f8bf48" fill-opacity="0.6"/>
<circle cx="358.76" cy="93.45" r="0.95" fill="#ffcc33" fill-opacity="0.6"/>
<circle cx="344.45" cy="93.7" r="0.95" fill="#edaa60" fill-opacity="0.6"/>
<circle cx="338.76" cy="93.93" r="0.95" fill="#f1b257" fill-opacity="0.6"/>
<circle cx="338.19" cy="93.38" r="0.95" fill="#e7a06a" fill-opacity="0.6"/>
<circle cx="348.81" cy="93.66" r="0.95" fill="#ffcc33" fill-opacity="0.6"/>
<circle cx="319.7" cy="93.4" r="0.95" fill="#e19772" fill-opacity="0.6"/>
<circle cx="356.38" cy="92.61" r="0.95" fill="#f3b653" fill-opacity="0.6"/>
<circle cx="387.63" cy="93.45" r="0.95" fill="#f6bb4d" fill-opacity="0.6"/>
<circle cx="391.19" cy="93.27" r="0.95" fill="#ffcc33" fill-opacity="0.6"/>
<circle cx="342.06" cy="94.77" r="0.95" fill="#e8a367" fill-opacity="0.6"/>
<circle cx="354.84" cy="93.79" r="0.95" fill="#fbc441" fill-opacity="0.6"/>
<circle cx="387.64" cy="94.35" r="0.95" fill="#ffcc33" fill-opacity="0.6"/>
<circle cx="350.46" cy="93.85" r="0.95" fill="#fbc441" fill-opacity="0.6"/>
<circle cx="365.95" cy="93.49" r="0.95" fill="#ffcc33" fill-opacity="0.6"/>
<circle cx="335.11" cy="94.84" r="0.95" fill="#e19772" fill-opacity="0.6"/>
<circle cx="365.14" cy="93.87" r="0.95" fill="#f6bb4d" fill-opacity="0.6"/>
<circle cx="339.7" cy="93.94" r="0.95" fill="#e69f6b" fill-opacity="0.6"/>
<circle cx="355.69" cy="94.9" r="0.95" fill="#f3b555" fill-opacity="0.6"/>
<circle cx="343.33" cy="94.1" r="0.95" fill="#edab5f" fill-opacity="0.6"/>
<circle cx="394.64" cy="93.53" r="0.95" fill="#ffcc33" fill-opacity="0.6"/>
<circle cx="318.46" cy="93.43" r="0.95" fill="#eba763" fill-opacity="0.6"/>
<circle cx="393.01" cy="94.36" r="0.95" fill="#ffcc33" fill-opacity="0.6"/>
<circle cx="385.26" cy="94.22" r="0.95" fill="#fecb35" fill-opacity="0.6"/>
<circle cx="378.44" cy="95.1" r="0.95" fill="#f7bd4a" fill-opacity="0.6"/>
<circle cx="317.14" cy="93.38" r="0.95" fill="#eeac5e" fill-opacity="0.6"/>
<circle cx="349.92" cy="93.81" r="0.95" fill="#f1b257" fill-opacity="0.6"/>
<circle cx="360.86" cy="94.09" r="0.95" fill="#f7bd4a" fill-opacity="0.6"/>
<circle cx="335.3" cy="94.94" r="0.95" fill="#eca962" fill-opacity="0.6"/>
<circle cx="340.67" cy="94.48" r="0.95" fill="#edaa60" fill-opacity="0.6"/>
<circle cx="331.01" cy="94.23" r="0.95" fill="#e29871" fill-opacity="0.6"/>
<circle cx="380.43" cy="94.02" r="0.95" fill="#fec938" fill-opacity="0.6"/>
<circle cx="364.37" cy="92.95" r="0.95" fill="#ffcc33" fill-opacity="0.6"/>
<circle cx="327.25" cy="94.12" r="0.95" fill="#e9a466" fill-opacity="0.6"/>
<circle cx="351.76" cy="95.18" r="0.95" fill="#fdc939" fill-opacity="0.6"/>
<circle cx="403.6" cy="93.8" r="1.5" fill="#fcc73d" fill-opacity="0.85"/>
<circle cx="360" cy="93.8" r="1.1" fill="#8223c0" fill-opacity="0.85"/>
<linearGradient id="g8" x1="324.2" x2="402" y1="0" y2="0" gradientUnits="userSpaceOnUse"><stop offset="0" stop-color="#ffcc33"/><stop offset="0.2" stop-color="#ffcc33"/><stop offset="0.33" stop-color="#fcc73d"/><stop offset="0.49" stop-color="#f7bd4a"/><stop offset="1" stop-color="#f6ba4e"/></linearGradient>
<path d="M324.2,105.09 325.2,104.76 326.19,105.05 327.19,104.77 328.19,104.63 329.19,104.8 330.18,104.32 331.18,104.22 332.18,104.35 333.18,104.25 334.17,103.88 335.17,103.82 336.17,103.92 337.17,103.57 338.16,103.58 339.16,103.64 340.16,103.28 341.16,103.61 342.15,103.41 343.15,103.58 344.15,103.72 345.15,103.94 346.14,103.8 347.14,104.08 348.14,104.06 349.14,104.22 350.13,104.17 351.13,103.88 352.13,104.11 353.13,104.18 354.12,104.31 355.12,104.52 356.12,104.48 357.12,104.64 358.11,104.69 359.11,104.54 360.11,104.84 361.11,104.9 362.1,104.53 363.1,104.73 364.1,104.55 365.09,104.78 366.09,104.77 367.09,104.86 368.09,104.72 369.08,104.75 370.08,104.64 371.08,104.55 372.08,104.83 373.07,104.72 374.07,104.6 375.07,104.79 376.07,104.92 377.06,104.88 378.06,104.81 379.06,104.91 380.06,105.03 381.05,104.97 382.05,105.1 383.05,104.99 384.05,105.03 385.04,105.04 386.04,105.15 387.04,105.09 388.04,104.79 389.03,104.81 390.03,105.2 391.03,105.27 392.03,104.96 393.02,105.1 394.02,104.96 395.02,104.9 396.02,105.01 397.01,105.28 398.01,104.97 399.01,105.32 400.01,105.27 401,105.2 402,105.33 402,107.01 401,107.04 400.01,106.95 399.01,106.88 398.01,107.22 397.01,107.32 396.02,106.96 395.02,107.06 394.02,107.01 393.02,107.23 392.03,107.08 391.03,107.26 390.03,107.07 389.03,107.38 388.04,107.35 387.04,107.17 386.04,107.35 385.04,107.12 384.05,107.05 383.05,107.28 382.05,107.33 381.05,107.4 380.06,107.51 379.06,107.14 378.06,107.27 377.06,107.45 376.07,107.53 375.07,107.42 374.07,107.23 373.07,107.29 372.08,107.31 371.08,107.5 370.08,107.34 369.08,107.29 368.09,107.34 367.09,107.71 366.09,107.72 365.09,107.61 364.1,107.33 363.1,107.67 362.1,107.31 361.11,107.39 360.11,107.64 359.11,107.5 358.11,107.41 357.12,107.61 356.12,107.66 355.12,108.03 354.12,107.72 353.13,107.95 352.13,107.86 351.13,107.98 350.13,107.94 349.14,107.95 348.14,108.3 347.14,108.4 346.14,108.16 345.15,108.33 344.15,108.7 343.15,108.79 342.15,108.54 341.16,108.88 340.16,108.88 339.16,108.46 338.16,108.71 337.17,108.82 336.17,108.7 335.17,108.34 334.17,108.21 333.18,108.35 332.18,107.89 331.18,107.8 330.18,107.65 329.19,107.37 328.19,107.66 327.19,107.58 326.19,107.19 325.2,107.12 324.2,107.13Z" fill="url(#g8)" fill-opacity="0.9" stroke="url(#g8)" stroke-width="0.6" stroke-linejoin="round"/>
<circle cx="324.2" cy="106.1" r="1.2" fill="#ffcc33" />
<circle cx="402" cy="106.1" r="1" fill="#f6ba4e" />
<circle cx="373.86" cy="105.38" r="0.95" fill="#fac342" fill-opacity="0.6"/>
<circle cx="389.51" cy="106.23" r="0.95" fill="#f7bd4a" fill-opacity="0.6"/>
<circle cx="358.04" cy="106.58" r="0.95" fill="#ffcb34" fill-opacity="0.6"/>
<circle cx="351.36" cy="104.42" r="0.95" fill="#f5b950" fill-opacity="0.6"/>
<circle cx="346.48" cy="104.42" r="0.95" fill="#ffcc33" fill-opacity="0.6"/>
<circle cx="390.65" cy="106.3" r="0.95" fill="#f0b059" fill-opacity="0.6"/>
<circle cx="332.85" cy="107.09" r="0.95" fill="#fdc939" fill-opacity="0.6"/>
<circle cx="340.55" cy="107.93" r="0.95" fill="#ffcc34" fill-opacity="0.6"/>
<circle cx="378.25" cy="105.87" r="0.95" fill="#fac243" fill-opacity="0.6"/>
<circle cx="382.36" cy="106.77" r="0.95" fill="#f7bd4a" fill-opacity="0.6"/>
<circle cx="397.83" cy="105.97" r="0.95" fill="#f2b455" fill-opacity="0.6"/>
<circle cx="396.57" cy="106.43" r="0.95" fill="#f7bc4b" fill-opacity="0.6"/>
<circle cx="373.07" cy="105.99" r="0.95" fill="#ffcc33" fill-opacity="0.6"/>
<circle cx="328.42" cy="106.58" r="0.95" fill="#ffcc33" fill-opacity="0.6"/>
<circle cx="396.41" cy="105.45" r="0.95" fill="#f2b357" fill-opacity="0.6"/>
<circle cx="383.48" cy="105.19" r="0.95" fill="#fbc342" fill-opacity="0.6"/>
<circle cx="344.52" cy="106.28" r="0.95" fill="#ffcc33" fill-opacity="0.6"/>
<circle cx="399.62" cy="106.33" r="0.95" fill="#fbc53f" fill-opacity="0.6"/>
<circle cx="328.82" cy="105.74" r="0.95" fill="#ffcc33" fill-opacity="0.6"/>
<circle cx="356.23" cy="105.25" r="0.95" fill="#fbc53f" fill-opacity="0.6"/>
<circle cx="379.2" cy="106.46" r="0.95" fill="#f3b555" fill-opacity="0.6"/>
<circle cx="342.71" cy="105" r="0.95" fill="#ffcc33" fill-opacity="0.6"/>
<circle cx="397.01" cy="105.84" r="0.95" fill="#f7bc4c" fill-opacity="0.6"/>
<circle cx="347.49" cy="107.47" r="0.95" fill="#f7bc4b" fill-opacity="0.6"/>
<circle cx="350.15" cy="107.17" r="0.95" fill="#f4b851" fill-opacity="0.6"/>
<circle cx="366.85" cy="106.71" r="0.95" fill="#f2b357" fill-opacity="0.6"/>
<circle cx="370.78" cy="106.01" r="0.95" fill="#edaa60" fill-opacity="0.6"/>
<circle cx="383.81" cy="106.76" r="0.95" fill="#f1b257" fill-opacity="0.6"/>
<circle cx="352.25" cy="105.13" r="0.95" fill="#f7bd4a" fill-opacity="0.6"/>
<circle cx="328.89" cy="105.55" r="0.95" fill="#fbc540" fill-opacity="0.6"/>
<circle cx="359.06" cy="105.12" r="0.95" fill="#edaa60" fill-opacity="0.6"/>
<circle cx="376.3" cy="106.1" r="1.1" fill="#9839b5" fill-opacity="0.85"/>
<circle cx="407.4" cy="106.1" r="1.1" fill="#fac342" fill-opacity="0.85"/>
<circle cx="431" cy="106.1" r="1.1" fill="#e69f6b" fill-opacity="0.85"/>
<linearGradient id="g9" x1="306.2" x2="397.3" y1="0" y2="0" gradientUnits="userSpaceOnUse"><stop offset="0" stop-color="#ce7b89"/><stop offset="0.26" stop-color="#e69f6b"/><stop offset="0.54" stop-color="#fdc83a"/><stop offset="0.86" stop-color="#ffcc33"/><stop offset="1" stop-color="#ffcc33"/></linearGradient>
<path d="M306.2,117.49 307.19,117.47 308.18,117.61 309.17,117.14 310.16,117.58 311.15,117.12 312.14,117.54 313.13,117.35 314.12,117.28 315.11,117.07 316.1,117.19 317.09,117.15 318.08,117.33 319.07,117.41 320.06,116.98 321.05,117.28 322.04,116.93 323.03,117.24 324.02,116.89 325.01,117.13 326,116.86 326.99,117.08 327.98,117.07 328.98,117.13 329.97,116.97 330.96,116.84 331.95,116.79 332.94,116.98 333.93,117.14 334.92,116.9 335.91,116.83 336.9,116.92 337.89,117.07 338.88,116.86 339.87,116.69 340.86,116.59 341.85,116.58 342.84,116.8 343.83,116.64 344.82,116.69 345.81,116.5 346.8,116.34 347.79,116.62 348.78,116.46 349.77,116.61 350.76,116.53 351.75,116.19 352.74,116.23 353.73,116.17 354.72,116.24 355.71,116.31 356.7,116.51 357.69,116.18 358.68,116.34 359.67,116.51 360.66,116.68 361.65,116.37 362.64,116.68 363.63,116.56 364.62,116.56 365.61,116.51 366.6,116.76 367.59,116.39 368.58,116.81 369.57,116.76 370.56,116.65 371.55,116.7 372.54,116.85 373.53,116.93 374.52,116.72 375.52,116.83 376.51,116.84 377.5,116.8 378.49,116.72 379.48,116.61 380.47,117.07 381.46,116.94 382.45,116.66 383.44,116.76 384.43,116.76 385.42,117.03 386.41,117.16 387.4,117.09 388.39,116.88 389.38,116.85 390.37,116.91 391.36,116.95 392.35,117.39 393.34,117.36 394.33,117.24 395.32,117.56 396.31,117.27 397.3,117.29 397.3,119.17 396.31,119.63 395.32,119.37 394.33,119.63 393.34,119.65 392.35,119.7 391.36,119.82 390.37,119.73 389.38,119.82 388.39,119.78 387.4,119.75 386.41,119.93 385.42,119.83 384.43,119.68 383.44,119.72 382.45,119.94 381.46,119.75 380.47,120.09 379.48,120.05 378.49,119.76 377.5,120.08 376.51,120.17 375.52,119.8 374.52,119.83 373.53,120.07 372.54,120.12 371.55,120.14 370.56,120.01 369.57,119.96 368.58,120.37 367.59,120.24 366.6,120.08 365.61,120.21 364.62,120.3 363.63,120.35 362.64,120.4 361.65,120.32 360.66,120.2 359.67,120.56 358.68,120.28 357.69,120.38 356.7,120.43 355.71,120.45 354.72,120.18 353.73,120.46 352.74,120.63 351.75,120.58 350.76,120.34 349.77,120.13 348.78,120.24 347.79,120.26 346.8,120.09 345.81,120.38 344.82,120.16 343.83,120.11 342.84,120.19 341.85,120.04 340.86,120.22 339.87,119.75 338.88,119.81 337.89,119.71 336.9,120.14 335.91,119.71 334.92,119.65 333.93,119.74 332.94,119.82 331.95,120.03 330.96,119.9 329.97,119.86 328.98,119.57 327.98,119.96 326.99,119.81 326,119.68 325.01,119.6 324.02,119.86 323.03,119.86 322.04,119.91 321.05,119.75 320.06,119.55 319.07,119.76 318.08,119.42 317.09,119.45 316.1,119.77 315.11,119.6 314.12,119.25 313.13,119.32 312.14,119.45 311.15,119.47 310.16,119.54 309.17,119.54 308.18,119.16 307.19,119.24 306.2,119.38Z" fill="url(#g9)" fill-opacity="0.9" stroke="url(#g9)" stroke-width="0.6" stroke-linejoin="round"/>
<circle cx="306.2" cy="118.4" r="1" fill="#ce7b89" />
<circle cx="397.3" cy="118.4" r="1" fill="#ffcc33" />
<circle cx="361.21" cy="117.07" r="0.95" fill="#ffcc33" fill-opacity="0.6"/>
<circle cx="316.49" cy="119.24" r="0.95" fill="#de9276" fill-opacity="0.6"/>
<circle cx="367.71" cy="117.65" r="0.95" fill="#fbc440" fill-opacity="0.6"/>
<circle cx="382.56" cy="118.61" r="0.95" fill="#f7bd4a" fill-opacity="0.6"/>
<circle cx="316.55" cy="117.46" r="0.95" fill="#cb778c" fill-opacity="0.6"/>
<circle cx="323.08" cy="118.52" r="0.95" fill="#d58482" fill-opacity="0.6"/>
<circle cx="332.62" cy="118.85" r="0.95" fill="#eca961" fill-opacity="0.6"/>
<circle cx="385.95" cy="118.5" r="0.95" fill="#fcc73d" fill-opacity="0.6"/>
<circle cx="369.02" cy="119.33" r="0.95" fill="#fdc83b" fill-opacity="0.6"/>
<circle cx="337.39" cy="117.5" r="0.95" fill="#eeac5e" fill-opacity="0.6"/>
<circle cx="351.91" cy="119.65" r="0.95" fill="#fac244" fill-opacity="0.6"/>
<circle cx="322.81" cy="119.11" r="0.95" fill="#e29871" fill-opacity="0.6"/>
<circle cx="368.1" cy="118.07" r="0.95" fill="#ffcc33" fill-opacity="0.6"/>
<circle cx="383.19" cy="118.13" r="0.95" fill="#fecb36" fill-opacity="0.6"/>
<circle cx="385.73" cy="118.68" r="0.95" fill="#f9c046" fill-opacity="0.6"/>
<circle cx="325.91" cy="119.32" r="0.95" fill="#df9376" fill-opacity="0.6"/>
<circle cx="359.88" cy="116.87" r="0.95" fill="#fac243" fill-opacity="0.6"/>
<circle cx="348.81" cy="118.65" r="0.95" fill="#f1b258" fill-opacity="0.6"/>
<circle cx="341.54" cy="117.99" r="0.95" fill="#e69f6b" fill-opacity="0.6"/>
<circle cx="336.61" cy="117.18" r="0.95" fill="#eca961" fill-opacity="0.6"/>
<circle cx="348.05" cy="119.97" r="0.95" fill="#f3b554" fill-opacity="0.6"/>
<circle cx="367.33" cy="117.7" r="0.95" fill="#fdc83b" fill-opacity="0.6"/>
<circle cx="331.1" cy="118.4" r="0.95" fill="#e8a268" fill-opacity="0.6"/>
<circle cx="354.31" cy="119.95" r="0.95" fill="#f3b455" fill-opacity="0.6"/>
<circle cx="396.59" cy="117.6" r="0.95" fill="#ffcc33" fill-opacity="0.6"/>
<circle cx="385.67" cy="119.1" r="0.95" fill="#ffcc33" fill-opacity="0.6"/>
<circle cx="363.88" cy="118.83" r="0.95" fill="#ffcc33" fill-opacity="0.6"/>
<circle cx="378.65" cy="119.38" r="0.95" fill="#fac243" fill-opacity="0.6"/>
<circle cx="391.71" cy="118.77" r="0.95" fill="#ffcc33" fill-opacity="0.6"/>
<circle cx="373.57" cy="118.43" r="0.95" fill="#f2b356" fill-opacity="0.6"/>
<circle cx="364.07" cy="117.92" r="0.95" fill="#ffcc33" fill-opacity="0.6"/>
<circle cx="311.71" cy="118.11" r="0.95" fill="#d7887f" fill-opacity="0.6"/>
<circle cx="335.64" cy="119.62" r="0.95" fill="#f3b653" fill-opacity="0.6"/>
<circle cx="328.38" cy="117.77" r="0.95" fill="#e49b6f" fill-opacity="0.6"/>
<circle cx="338.02" cy="117.45" r="0.95" fill="#dc8f79" fill-opacity="0.6"/>
<circle cx="347.48" cy="118.23" r="0.95" fill="#f6ba4e" fill-opacity="0.6"/>
<circle cx="398.5" cy="118.4" r="1.1" fill="#fcc73d" fill-opacity="0.85"/>
<circle cx="312" cy="118.4" r="1.1" fill="#6600cc" fill-opacity="0.85"/>
<circle cx="322" cy="118.4" r="1.1" fill="#8223c0" fill-opacity="0.85"/>
<linearGradient id="g10" x1="306.2" x2="376.3" y1="0" y2="0" gradientUnits="userSpaceOnUse"><stop offset="0" stop-color="#6600cc"/><stop offset="0.34" stop-color="#6600cc"/><stop offset="0.62" stop-color="#6f0ec9"/><stop offset="0.63" stop-color="#fac342"/><stop offset="0.72" stop-color="#ffcc33"/><stop offset="1" stop-color="#fdc83a"/></linearGradient>
<path d="M306.2,129.57 307.19,129.76 308.17,129.69 309.16,129.47 310.15,129.35 311.14,129.34 312.12,129.74 313.11,129.46 314.1,129.55 315.09,129.48 316.07,129.63 317.06,129.18 318.05,129.47 319.04,129.49 320.02,129.19 321.01,129.31 322,129.18 322.98,129.13 323.97,129.06 324.96,129.1 325.95,128.98 326.93,129.2 327.92,129.27 328.91,128.91 329.9,128.89 330.88,129.18 331.87,129.02 332.86,128.99 333.85,129.28 334.83,129.27 335.82,129.1 336.81,128.94 337.79,128.98 338.78,128.72 339.77,128.66 340.76,128.81 341.74,128.92 342.73,128.98 343.72,128.65 344.71,128.6 345.69,128.72 346.68,128.69 347.67,128.66 348.65,128.58 349.64,128.59 350.63,128.56 351.62,128.48 352.6,128.44 353.59,128.13 354.58,128.05 355.57,127.65 356.55,127.38 357.54,127.26 358.53,127.41 359.52,127.83 360.5,127.89 361.49,127.75 362.48,127.69 363.46,128.23 364.45,128.1 365.44,128.55 366.43,128.42 367.41,128.5 368.4,128.84 369.39,128.92 370.38,129.32 371.36,129.56 372.35,129.7 373.34,129.62 374.33,129.86 375.31,129.73 376.3,129.48 376.3,131.76 375.31,131.92 374.33,131.79 373.34,132.01 372.35,131.99 371.36,132.15 370.38,132.37 369.39,132.31 368.4,132.41 367.41,132.66 366.43,132.71 365.44,132.78 364.45,133.4 363.46,133.18 362.48,133.42 361.49,133.46 360.5,133.73 359.52,133.63 358.53,133.66 357.54,133.76 356.55,133.82 355.57,133.84 354.58,133.29 353.59,133.47 352.6,132.87 351.62,133.02 350.63,132.61 349.64,132.83 348.65,132.58 347.67,132.61 346.68,132.76 345.69,132.71 344.71,132.6 343.72,132.41 342.73,132.41 341.74,132.36 340.76,132.64 339.77,132.28 338.78,132.5 337.79,132.19 336.81,132.29 335.82,132.38 334.83,132.42 333.85,132.29 332.86,132.24 331.87,132.26 330.88,132.43 329.9,132.16 328.91,132.37 327.92,132.31 326.93,132.1 325.95,132.45 324.96,132.04 323.97,132.46 322.98,132.05 322,132.36 321.01,131.99 320.02,131.97 319.04,131.96 318.05,131.81 317.06,131.9 316.07,131.98 315.09,132.14 314.1,132.06 313.11,132.14 312.12,131.71 311.14,131.89 310.15,131.75 309.16,131.84 308.17,131.71 307.19,131.59 306.2,131.7Z" fill="url(#g10)" fill-opacity="0.9" stroke="url(#g10)" stroke-width="0.6" stroke-linejoin="round"/>
<circle cx="306.2" cy="130.7" r="1.1" fill="#6600cc" />
<circle cx="376.3" cy="130.7" r="1" fill="#fdc83a" />
<circle cx="321.91" cy="130.08" r="0.95" fill="#6803cb" fill-opacity="0.6"/>
<circle cx="322.42" cy="129.95" r="0.95" fill="#6600cc" fill-opacity="0.6"/>
<circle cx="359.42" cy="131.46" r="0.95" fill="#ffcc33" fill-opacity="0.6"/>
<circle cx="321.38" cy="130.87" r="0.95" fill="#6600cc" fill-opacity="0.6"/>
<circle cx="317.19" cy="131.51" r="0.95" fill="#6600cc" fill-opacity="0.6"/>
<circle cx="358.88" cy="132.43" r="0.95" fill="#ffcc33" fill-opacity="0.6"/>
<circle cx="326.01" cy="130.25" r="0.95" fill="#9133b8" fill-opacity="0.6"/>
<circle cx="317.53" cy="131.11" r="0.95" fill="#6600cc" fill-opacity="0.6"/>
<circle cx="348.09" cy="130.54" r="0.95" fill="#9234b8" fill-opacity="0.6"/>
<circle cx="320.91" cy="131.64" r="0.95" fill="#7d1ec3" fill-opacity="0.6"/>
<circle cx="331.46" cy="131.46" r="0.95" fill="#6600cc" fill-opacity="0.6"/>
<circle cx="366.76" cy="132.45" r="0.95" fill="#ffcc33" fill-opacity="0.6"/>
<circle cx="327.06" cy="129.42" r="0.95" fill="#6600cc" fill-opacity="0.6"/>
<circle cx="306.86" cy="131.47" r="0.95" fill="#6600cc" fill-opacity="0.6"/>
<circle cx="316.77" cy="131.22" r="0.95" fill="#6600cc" fill-opacity="0.6"/>
<circle cx="354.06" cy="128.83" r="0.95" fill="#fac342" fill-opacity="0.6"/>
<circle cx="330" cy="131.84" r="0.95" fill="#7110c8" fill-opacity="0.6"/>
<circle cx="374.87" cy="129.88" r="0.95" fill="#ffcc33" fill-opacity="0.6"/>
<circle cx="322.65" cy="131.44" r="0.95" fill="#6904cb" fill-opacity="0.6"/>
<circle cx="341.59" cy="129.85" r="0.95" fill="#7211c8" fill-opacity="0.6"/>
<circle cx="336.38" cy="129.56" r="0.95" fill="#6600cc" fill-opacity="0.6"/>
<circle cx="328.39" cy="131.73" r="0.95" fill="#6600cc" fill-opacity="0.6"/>
<circle cx="314.64" cy="130.67" r="0.95" fill="#6600cc" fill-opacity="0.6"/>
<circle cx="318.75" cy="131.13" r="0.95" fill="#6600cc" fill-opacity="0.6"/>
<circle cx="316.57" cy="131.23" r="0.95" fill="#7211c7" fill-opacity="0.6"/>
<circle cx="330.99" cy="130.69" r="0.95" fill="#6701cc" fill-opacity="0.6"/>
<circle cx="370.6" cy="130.33" r="0.95" fill="#f9c145" fill-opacity="0.6"/>
<circle cx="368.11" cy="131.42" r="0.95" fill="#eaa565" fill-opacity="0.6"/>
<circle cx="379.8" cy="130.7" r="1.1" fill="#fac342" fill-opacity="0.85"/>
<circle cx="305" cy="143" r="1.1" fill="#6600cc" fill-opacity="0.85"/>
<circle cx="307.4" cy="143" r="1.1" fill="#ba609c" fill-opacity="0.85"/>
<circle cx="316.7" cy="143" r="1.1" fill="#db8d7a" fill-opacity="0.85"/>
<circle cx="319" cy="143" r="1.1" fill="#db8d7a" fill-opacity="0.85"/>
<circle cx="325" cy="143" r="1.1" fill="#e19673" fill-opacity="0.85"/>
<circle cx="327.2" cy="143" r="1.1" fill="#e19673" fill-opacity="0.85"/>
<linearGradient id="g11" x1="330.7" x2="393" y1="0" y2="0" gradientUnits="userSpaceOnUse"><stop offset="0" stop-color="#ffcc33"/><stop offset="0.23" stop-color="#ffcc33"/><stop offset="0.34" stop-color="#f9c145"/><stop offset="0.63" stop-color="#eeab5f"/><stop offset="1" stop-color="#eba862"/></linearGradient>
<path d="M330.7,142.11 331.69,142.1 332.68,142.17 333.67,141.91 334.66,141.84 335.64,141.56 336.63,141.5 337.62,141.29 338.61,141.05 339.6,141.16 340.59,141.02 341.58,140.93 342.57,140.84 343.56,140.48 344.54,140.65 345.53,140.83 346.52,140.8 347.51,140.94 348.5,140.68 349.49,140.71 350.48,140.87 351.47,140.92 352.46,141.09 353.44,141.26 354.43,140.85 355.42,141.01 356.41,141.22 357.4,141 358.39,141.06 359.38,141.2 360.37,141.18 361.36,141.25 362.34,141.51 363.33,141.54 364.32,141.48 365.31,141.49 366.3,141.68 367.29,141.35 368.28,141.57 369.27,141.44 370.26,141.76 371.24,141.62 372.23,141.45 373.22,141.44 374.21,141.69 375.2,141.49 376.19,141.84 377.18,141.89 378.17,141.56 379.16,141.76 380.14,141.82 381.13,141.69 382.12,141.83 383.11,141.71 384.1,141.78 385.09,141.88 386.08,141.98 387.07,142 388.06,142.11 389.04,142.19 390.03,141.87 391.02,142.08 392.01,141.83 393,141.93 393,144.18 392.01,143.8 391.02,143.88 390.03,143.9 389.04,143.87 388.06,144.08 387.07,143.82 386.08,144 385.09,143.97 384.1,144.06 383.11,143.98 382.12,144.33 381.13,144.18 380.14,144.49 379.16,144.06 378.17,144.3 377.18,144.24 376.19,144.21 375.2,144.16 374.21,144.53 373.22,144.15 372.23,144.59 371.24,144.47 370.26,144.56 369.27,144.27 368.28,144.43 367.29,144.45 366.3,144.28 365.31,144.48 364.32,144.65 363.33,144.79 362.34,144.69 361.36,144.7 360.37,144.64 359.38,144.84 358.39,144.78 357.4,144.82 356.41,144.98 355.42,145.2 354.43,144.98 353.44,145.11 352.46,145.23 351.47,145.03 350.48,144.95 349.49,144.86 348.5,145.29 347.51,145.02 346.52,145.14 345.53,145.35 344.54,145.51 343.56,145.02 342.57,145.03 341.58,145.07 340.59,145.25 339.6,144.8 338.61,144.87 337.62,144.86 336.63,144.5 335.64,144.42 334.66,143.99 333.67,144.16 332.68,144.06 331.69,143.8 330.7,143.84Z" fill="url(#g11)" fill-opacity="0.9" stroke="url(#g11)" stroke-width="0.6" stroke-linejoin="round"/>
<circle cx="330.7" cy="143" r="1" fill="#ffcc33" />
<circle cx="393" cy="143" r="1" fill="#eba862" />
<circle cx="343.26" cy="142.71" r="0.95" fill="#fcc73c" fill-opacity="0.6"/>
<circle cx="353.85" cy="141.46" r="0.95" fill="#ffcc33" fill-opacity="0.6"/>
<circle cx="358.27" cy="142.59" r="0.95" fill="#f7bc4b" fill-opacity="0.6"/>
<circle cx="356.11" cy="143.49" r="0.95" fill="#fdc83a" fill-opacity="0.6"/>
<circle cx="381.21" cy="142.7" r="0.95" fill="#f4b851" fill-opacity="0.6"/>
<circle cx="388.32" cy="142.45" r="0.95" fill="#e49c6d" fill-opacity="0.6"/>
<circle cx="391.22" cy="143.36" r="0.95" fill="#f4b752" fill-opacity="0.6"/>
<circle cx="351.22" cy="141.53" r="0.95" fill="#f2b356" fill-opacity="0.6"/>
<circle cx="377.8" cy="142.73" r="0.95" fill="#f6bb4d" fill-opacity="0.6"/>
<circle cx="386.85" cy="143.47" r="0.95" fill="#eeab5f" fill-opacity="0.6"/>
<circle cx="332.29" cy="143.16" r="0.95" fill="#ffcc33" fill-opacity="0.6"/>
<circle cx="383.01" cy="142.83" r="0.95" fill="#eaa664" fill-opacity="0.6"/>
<circle cx="360.21" cy="144.16" r="0.95" fill="#fcc73c" fill-opacity="0.6"/>
<circle cx="362.58" cy="143.89" r="0.95" fill="#efae5c" fill-opacity="0.6"/>
<circle cx="372.46" cy="143.57" r="0.95" fill="#efae5b" fill-opacity="0.6"/>
<circle cx="373.05" cy="143.13" r="0.95" fill="#eca962" fill-opacity="0.6"/>
<circle cx="378.62" cy="143.59" r="0.95" fill="#e8a367" fill-opacity="0.6"/>
<circle cx="335.51" cy="143.72" r="0.95" fill="#fbc53f" fill-opacity="0.6"/>
<circle cx="337.04" cy="141.93" r="0.95" fill="#ffcc34" fill-opacity="0.6"/>
<circle cx="334.13" cy="143.36" r="0.95" fill="#ffcc33" fill-opacity="0.6"/>
<circle cx="375" cy="142.96" r="0.95" fill="#e19673" fill-opacity="0.6"/>
<circle cx="356.74" cy="143.27" r="0.95" fill="#f2b455" fill-opacity="0.6"/>
<circle cx="392.88" cy="143.54" r="0.95" fill="#e8a268" fill-opacity="0.6"/>
<circle cx="351.53" cy="143.06" r="0.95" fill="#fdc83b" fill-opacity="0.6"/>
<circle cx="307.4" cy="155.3" r="1.1" fill="#6600cc" fill-opacity="0.85"/>
<circle cx="319" cy="155.3" r="1.1" fill="#fcc73d" fill-opacity="0.85"/>
<linearGradient id="g12" x1="323.7" x2="390.3" y1="0" y2="0" gradientUnits="userSpaceOnUse"><stop offset="0" stop-color="#ffcc33"/><stop offset="0.32" stop-color="#ffcc33"/><stop offset="0.55" stop-color="#fdc83a"/><stop offset="0.85" stop-color="#f4b653"/><stop offset="1" stop-color="#db8d7a"/></linearGradient>
<path d="M323.7,154.55 324.69,154.41 325.69,154.37 326.68,154.08 327.68,154.22 328.67,154.41 329.66,153.95 330.66,153.9 331.65,154.17 332.65,153.94 333.64,153.91 334.63,153.79 335.63,153.61 336.62,153.49 337.62,153.87 338.61,153.57 339.6,153.5 340.6,153.6 341.59,153.56 342.59,153.28 343.58,153.43 344.57,153.43 345.57,153.62 346.56,153.33 347.56,153.23 348.55,153.37 349.54,153.21 350.54,153.28 351.53,153.35 352.53,153.55 353.52,153.29 354.51,153.26 355.51,153.68 356.5,153.35 357.5,153.54 358.49,153.62 359.49,153.41 360.48,153.72 361.47,153.74 362.47,153.63 363.46,153.51 364.46,153.55 365.45,153.41 366.44,153.49 367.44,153.56 368.43,153.82 369.43,153.88 370.42,154.01 371.41,154.13 372.41,153.87 373.4,153.94 374.4,153.91 375.39,153.9 376.38,153.93 377.38,154.28 378.37,154.06 379.37,153.98 380.36,154.21 381.35,154.16 382.35,154.42 383.34,154.34 384.34,154.07 385.33,154.04 386.32,154.22 387.32,154.36 388.31,154.21 389.31,154.38 390.3,154.43 390.3,156.42 389.31,156.28 388.31,156.08 387.32,156.54 386.32,156.57 385.33,156.11 384.34,156.23 383.34,156.57 382.35,156.21 381.35,156.42 380.36,156.58 379.37,156.2 378.37,156.41 377.38,156.35 376.38,156.47 375.39,156.74 374.4,156.34 373.4,156.38 372.41,156.59 371.41,156.66 370.42,156.75 369.43,156.85 368.43,156.6 367.44,157.13 366.44,156.76 365.45,156.89 364.46,156.84 363.46,156.96 362.47,156.94 361.47,157.26 360.48,157.2 359.49,156.93 358.49,157.31 357.5,157.19 356.5,157.34 355.51,156.92 354.51,156.98 353.52,156.96 352.53,157.01 351.53,157.25 350.54,157.17 349.54,157.21 348.55,157.03 347.56,156.98 346.56,156.97 345.57,157.17 344.57,157.39 343.58,157.41 342.59,157.22 341.59,157.25 340.6,157.26 339.6,156.98 338.61,156.97 337.62,156.87 336.62,156.93 335.63,156.68 334.63,156.7 333.64,156.7 332.65,156.58 331.65,156.35 330.66,156.4 329.66,156.61 328.67,156.32 327.68,156.34 326.68,156.37 325.69,156.2 324.69,156.19 323.7,156.54Z" fill="url(#g12)" fill-opacity="0.9" stroke="url(#g12)" stroke-width="0.6" stroke-linejoin="round"/>
<circle cx="323.7" cy="155.3" r="1" fill="#ffcc33" />
<circle cx="390.3" cy="155.3" r="1" fill="#db8d7a" />
<circle cx="335.61" cy="156.05" r="0.95" fill="#ffcc33" fill-opacity="0.6"/>
<circle cx="360.94" cy="154.07" r="0.95" fill="#fac243" fill-opacity="0.6"/>
<circle cx="360.43" cy="156.18" r="0.95" fill="#ffcc33" fill-opacity="0.6"/>
<circle cx="325.95" cy="155.32" r="0.95" fill="#ffcc33" fill-opacity="0.6"/>
<circle cx="330.18" cy="155.6" r="0.95" fill="#f8bf48" fill-opacity="0.6"/>
<circle cx="347.2" cy="154.9" r="0.95" fill="#f7bd4a" fill-opacity="0.6"/>
<circle cx="367.87" cy="154.41" r="0.95" fill="#f0b159" fill-opacity="0.6"/>
<circle cx="345.79" cy="156.41" r="0.95" fill="#efae5c" fill-opacity="0.6"/>
<circle cx="381.87" cy="155.26" r="0.95" fill="#edab5f" fill-opacity="0.6"/>
<circle cx="382.25" cy="154.59" r="0.95" fill="#eca862" fill-opacity="0.6"/>
<circle cx="356.74" cy="155.41" r="0.95" fill="#f7bd4a" fill-opacity="0.6"/>
<circle cx="334.62" cy="155.39" r="0.95" fill="#f9c145" fill-opacity="0.6"/>
<circle cx="357.45" cy="154.89" r="0.95" fill="#fbc440" fill-opacity="0.6"/>
<circle cx="337.25" cy="154.26" r="0.95" fill="#f8be49" fill-opacity="0.6"/>
<circle cx="339.68" cy="156.42" r="0.95" fill="#ffcc33" fill-opacity="0.6"/>
<circle cx="324.71" cy="156.06" r="0.95" fill="#ffcc33" fill-opacity="0.6"/>
<circle cx="356.23" cy="156.2" r="0.95" fill="#ffcc33" fill-opacity="0.6"/>
<circle cx="338.97" cy="156.04" r="0.95" fill="#ffcc33" fill-opacity="0.6"/>
<circle cx="333.93" cy="154.73" r="0.95" fill="#f8be49" fill-opacity="0.6"/>
<circle cx="358.21" cy="154.66" r="0.95" fill="#fcc63d" fill-opacity="0.6"/>
<circle cx="383.01" cy="154.54" r="0.95" fill="#f2b356" fill-opacity="0.6"/>
<circle cx="363.35" cy="156.15" r="0.95" fill="#feca36" fill-opacity="0.6"/>
<circle cx="371.04" cy="154.26" r="0.95" fill="#f8be49" fill-opacity="0.6"/>
<circle cx="389.16" cy="154.52" r="0.95" fill="#d17e86" fill-opacity="0.6"/>
<circle cx="364.88" cy="155.86" r="0.95" fill="#f8bf48" fill-opacity="0.6"/>
<circle cx="377.68" cy="155.23" r="0.95" fill="#fbc540" fill-opacity="0.6"/>
<circle cx="384" cy="155.3" r="1.1" fill="#c16996" fill-opacity="0.85"/>
<circle cx="387" cy="155.3" r="1.1" fill="#c8728f" fill-opacity="0.85"/>
<circle cx="398" cy="155.3" r="1.1" fill="#aa4da9" fill-opacity="0.85"/>
<circle cx="307.4" cy="167.6" r="1.1" fill="#e19673" fill-opacity="0.85"/>
<circle cx="309.3" cy="167.6" r="1.1" fill="#e19673" fill-opacity="0.85"/>
<circle cx="313.2" cy="167.6" r="1.1" fill="#e19673" fill-opacity="0.85"/>
<circle cx="316.7" cy="167.6" r="1.1" fill="#6600cc" fill-opacity="0.85"/>
<circle cx="319.5" cy="167.6" r="1.1" fill="#e19673" fill-opacity="0.85"/>
<circle cx="322.6" cy="167.6" r="1.1" fill="#e19673" fill-opacity="0.85"/>
<circle cx="327.2" cy="167.6" r="1.1" fill="#e39970" fill-opacity="0.85"/>
<circle cx="329.6" cy="167.6" r="1.1" fill="#e69f6b" fill-opacity="0.85"/>
<linearGradient id="g13" x1="331.9" x2="385.7" y1="0" y2="0" gradientUnits="userSpaceOnUse"><stop offset="0" stop-color="#fcc73d"/><stop offset="0.19" stop-color="#ffcc33"/><stop offset="0.34" stop-color="#ffcc33"/><stop offset="0.62" stop-color="#fdc83a"/><stop offset="1" stop-color="#fcc73d"/></linearGradient>
<path d="M331.9,166.39 332.9,166.35 333.89,166.52 334.89,166.45 335.89,166.04 336.88,165.99 337.88,165.85 338.87,165.59 339.87,165.1 340.87,165.25 341.86,165.06 342.86,165.05 343.86,165.25 344.85,164.8 345.85,165.03 346.84,164.75 347.84,164.3 348.84,164.32 349.83,164.24 350.83,164.21 351.83,164.27 352.82,164.44 353.82,164.39 354.81,164.45 355.81,164.5 356.81,164.6 357.8,164.7 358.8,165.16 359.8,165.27 360.79,165.24 361.79,165.29 362.79,165.25 363.78,165.44 364.78,165.25 365.77,165.18 366.77,165.47 367.77,165.38 368.76,165.58 369.76,165.38 370.76,165.86 371.75,165.93 372.75,165.61 373.74,165.8 374.74,166.03 375.74,166.11 376.73,166.07 377.73,166.42 378.73,166.19 379.72,166.29 380.72,166.63 381.71,166.72 382.71,166.7 383.71,166.34 384.7,166.73 385.7,166.54 385.7,168.8 384.7,168.8 383.71,168.56 382.71,168.55 381.71,168.87 380.72,168.85 379.72,168.98 378.73,168.88 377.73,168.87 376.73,168.97 375.74,169.34 374.74,169.11 373.74,169.32 372.75,169.39 371.75,169.32 370.76,169.58 369.76,169.8 368.76,169.75 367.77,169.92 366.77,169.57 365.77,169.96 364.78,169.89 363.78,169.96 362.79,169.96 361.79,170.11 360.79,169.85 359.8,169.92 358.8,170.33 357.8,170.41 356.81,170.18 355.81,170.49 354.81,170.47 353.82,170.79 352.82,170.68 351.83,170.91 350.83,170.91 349.83,171.02 348.84,170.58 347.84,170.75 346.84,170.36 345.85,170.48 344.85,170.37 343.86,170.16 342.86,170.09 341.86,170.2 340.87,169.96 339.87,170 338.87,169.93 337.88,169.36 336.88,169.11 335.89,168.9 334.89,169 333.89,168.52 332.9,168.59 331.9,168.36Z" fill="url(#g13)" fill-opacity="0.9" stroke="url(#g13)" stroke-width="0.6" stroke-linejoin="round"/>
<circle cx="331.9" cy="167.6" r="1" fill="#fcc73d" />
<circle cx="385.7" cy="167.6" r="1" fill="#fcc73d" />
<circle cx="353.12" cy="167.6" r="0.95" fill="#f6bb4d" fill-opacity="0.6"/>
<circle cx="385.08" cy="167.07" r="0.95" fill="#ffcb34" fill-opacity="0.6"/>
<circle cx="376.59" cy="166.75" r="0.95" fill="#fdc83b" fill-opacity="0.6"/>
<circle cx="341.33" cy="169.4" r="0.95" fill="#ffcc34" fill-opacity="0.6"/>
<circle cx="356.36" cy="169.08" r="0.95" fill="#fecb36" fill-opacity="0.6"/>
<circle cx="337.33" cy="167.76" r="0.95" fill="#f7bc4c" fill-opacity="0.6"/>
<circle cx="378.29" cy="167.63" r="0.95" fill="#ffcc33" fill-opacity="0.6"/>
<circle cx="379.99" cy="167.94" r="0.95" fill="#f0b05a" fill-opacity="0.6"/>
<circle cx="335.98" cy="167.91" r="0.95" fill="#ffcc33" fill-opacity="0.6"/>
<circle cx="351.37" cy="168.47" r="0.95" fill="#f8bf48" fill-opacity="0.6"/>
<circle cx="365.9" cy="167.14" r="0.95" fill="#ffcc33" fill-opacity="0.6"/>
<circle cx="380.71" cy="167.6" r="0.95" fill="#feca37" fill-opacity="0.6"/>
<circle cx="351.47" cy="170.17" r="0.95" fill="#f1b258" fill-opacity="0.6"/>
<circle cx="368.67" cy="167.81" r="0.95" fill="#f8be49" fill-opacity="0.6"/>
<circle cx="355.99" cy="168.82" r="0.95" fill="#f5b850" fill-opacity="0.6"/>
<circle cx="372.24" cy="166.12" r="0.95" fill="#ffcc33" fill-opacity="0.6"/>
<circle cx="349.4" cy="165.63" r="0.95" fill="#efaf5b" fill-opacity="0.6"/>
<circle cx="339.68" cy="167.93" r="0.95" fill="#ffcc33" fill-opacity="0.6"/>
<circle cx="362.93" cy="165.87" r="0.95" fill="#ffcc33" fill-opacity="0.6"/>
<circle cx="366.41" cy="166.79" r="0.95" fill="#f5b94f" fill-opacity="0.6"/>
<circle cx="372.92" cy="166.96" r="0.95" fill="#ffcc33" fill-opacity="0.6"/>
<circle cx="274.2" cy="179.9" r="1.1" fill="#6600cc" fill-opacity="0.85"/>
<circle cx="298.5" cy="179.9" r="1.1" fill="#db8d7a" fill-opacity="0.85"/>
<circle cx="302.2" cy="179.9" r="1.1" fill="#8d2fbb" fill-opacity="0.85"/>
<circle cx="305" cy="179.9" r="1.1" fill="#db8d7a" fill-opacity="0.85"/>
<circle cx="317.9" cy="179.9" r="1.1" fill="#e19673" fill-opacity="0.85"/>
<linearGradient id="g14" x1="324.9" x2="379.8" y1="0" y2="0" gradientUnits="userSpaceOnUse"><stop offset="0" stop-color="#fcc73d"/><stop offset="0.24" stop-color="#fdc83a"/><stop offset="0.38" stop-color="#ffcc33"/><stop offset="0.47" stop-color="#ffcc33"/><stop offset="0.55" stop-color="#fdc83a"/><stop offset="0.68" stop-color="#fac342"/><stop offset="0.75" stop-color="#f1b159"/><stop offset="1" stop-color="#eba862"/></linearGradient>
<path d="M324.9,178.66 325.9,178.74 326.9,178.93 327.89,178.73 328.89,178.91 329.89,178.7 330.89,178.54 331.89,178.8 332.89,178.38 333.88,178.39 334.88,178.56 335.88,178.53 336.88,178.18 337.88,178.56 338.87,178.13 339.87,178.3 340.87,178.17 341.87,177.74 342.87,177.17 343.87,177.3 344.86,177 345.86,176.83 346.86,176.82 347.86,176.04 348.86,175.46 349.85,174.87 350.85,175 351.85,175.3 352.85,175.9 353.85,176.46 354.85,176.73 355.84,177.03 356.84,177.28 357.84,177.68 358.84,177.69 359.84,178.2 360.83,178.59 361.83,178.43 362.83,178.45 363.83,178.45 364.83,178.44 365.83,178.78 366.82,178.55 367.82,178.87 368.82,178.7 369.82,178.65 370.82,178.94 371.81,178.99 372.81,178.8 373.81,178.74 374.81,178.89 375.81,178.97 376.81,178.73 377.8,179.06 378.8,178.77 379.8,178.7 379.8,181.1 378.8,180.9 377.8,181 376.81,181.09 375.81,181.11 374.81,180.99 373.81,181.02 372.81,181.18 371.81,180.98 370.82,180.97 369.82,181.27 368.82,181.09 367.82,181.28 366.82,181.02 365.83,181.05 364.83,181.26 363.83,181.16 362.83,181.38 361.83,181.54 360.83,181.31 359.84,181.8 358.84,182.07 357.84,182.36 356.84,182.51 355.84,183.06 354.85,182.94 353.85,182.98 352.85,183.71 351.85,184.38 350.85,185.08 349.85,184.69 348.86,184.4 347.86,183.61 346.86,182.9 345.86,183.04 344.86,183 343.87,182.86 342.87,182.28 341.87,182.05 340.87,181.71 339.87,181.56 338.87,181.29 337.88,181.3 336.88,181.62 335.88,181.31 334.88,181.11 333.88,181.12 332.89,181.07 331.89,181.18 330.89,181.04 329.89,181.22 328.89,180.84 327.89,181.06 326.9,181.16 325.9,181 324.9,180.97Z" fill="url(#g14)" fill-opacity="0.9" stroke="url(#g14)" stroke-width="0.6" stroke-linejoin="round"/>
<circle cx="324.9" cy="179.9" r="1" fill="#fcc73d" />
<circle cx="379.8" cy="179.9" r="1" fill="#eba862" />
<circle cx="365.69" cy="180.56" r="0.95" fill="#f4b653" fill-opacity="0.6"/>
<circle cx="360.52" cy="180.91" r="0.95" fill="#f3b554" fill-opacity="0.6"/>
<circle cx="363.54" cy="180.16" r="0.95" fill="#eeab5f" fill-opacity="0.6"/>
<circle cx="340" cy="178.63" r="0.95" fill="#ffcc33" fill-opacity="0.6"/>
<circle cx="339.89" cy="179.07" r="0.95" fill="#ffcc33" fill-opacity="0.6"/>
<circle cx="337.19" cy="178.87" r="0.95" fill="#ffcc33" fill-opacity="0.6"/>
<circle cx="368.94" cy="179.62" r="0.95" fill="#ffcc33" fill-opacity="0.6"/>
<circle cx="363.3" cy="178.92" r="0.95" fill="#f4b653" fill-opacity="0.6"/>
<circle cx="325.09" cy="180.12" r="0.95" fill="#ffcc33" fill-opacity="0.6"/>
<circle cx="332.52" cy="179.4" r="0.95" fill="#f5b950" fill-opacity="0.6"/>
<circle cx="355.36" cy="181.46" r="0.95" fill="#fac243" fill-opacity="0.6"/>
<circle cx="327.07" cy="180.48" r="0.95" fill="#f8bf48" fill-opacity="0.6"/>
<circle cx="359.46" cy="179.39" r="0.95" fill="#f8be49" fill-opacity="0.6"/>
<circle cx="343.07" cy="180.2" r="0.95" fill="#fcc53e" fill-opacity="0.6"/>
<circle cx="336.37" cy="180.75" r="0.95" fill="#f0af5b" fill-opacity="0.6"/>
<circle cx="369.3" cy="179.97" r="0.95" fill="#e19673" fill-opacity="0.6"/>
<circle cx="326.46" cy="179.91" r="0.95" fill="#fac244" fill-opacity="0.6"/>
<circle cx="348.17" cy="176.97" r="0.95" fill="#ffcc33" fill-opacity="0.6"/>
<circle cx="357.01" cy="179.44" r="0.95" fill="#ffcc33" fill-opacity="0.6"/>
<circle cx="353.01" cy="180.48" r="0.95" fill="#fcc63e" fill-opacity="0.6"/>
<circle cx="379.56" cy="180.42" r="0.95" fill="#da8b7c" fill-opacity="0.6"/>
<linearGradient id="g15" x1="335.4" x2="369.3" y1="0" y2="0" gradientUnits="userSpaceOnUse"><stop offset="0" stop-color="#fcc73d"/><stop offset="0.14" stop-color="#fac342"/><stop offset="0.49" stop-color="#fac342"/><stop offset="0.73" stop-color="#fcc73d"/><stop offset="1" stop-color="#fdc83a"/></linearGradient>
<path d="M335.4,190.97 336.4,190.91 337.39,191.05 338.39,190.93 339.39,190.71 340.39,190.88 341.38,190.84 342.38,190.93 343.38,190.76 344.37,190.89 345.37,190.87 346.37,190.66 347.36,190.43 348.36,190.42 349.36,190.51 350.36,190.83 351.35,190.84 352.35,190.49 353.35,190.72 354.34,190.77 355.34,190.35 356.34,190.83 357.34,190.67 358.33,190.45 359.33,190.8 360.33,190.77 361.32,190.64 362.32,190.48 363.32,190.78 364.31,191.05 365.31,190.93 366.31,191.2 367.31,191.37 368.3,191.08 369.3,190.96 369.3,193.17 368.3,193.44 367.31,193.47 366.31,193.22 365.31,193.44 364.31,193.34 363.32,193.79 362.32,193.86 361.32,194.02 360.33,193.94 359.33,193.6 358.33,193.78 357.34,194 356.34,193.64 355.34,193.7 354.34,193.87 353.35,193.73 352.35,193.87 351.35,193.98 350.36,193.64 349.36,193.89 348.36,193.97 347.36,193.86 346.37,193.81 345.37,193.57 344.37,193.76 343.38,193.61 342.38,193.74 341.38,193.5 340.39,193.45 339.39,193.56 338.39,193.58 337.39,193.18 336.4,193.03 335.4,193.11Z" fill="url(#g15)" fill-opacity="0.9" stroke="url(#g15)" stroke-width="0.6" stroke-linejoin="round"/>
<circle cx="335.4" cy="192.2" r="1" fill="#fcc73d" />
<circle cx="369.3" cy="192.2" r="1" fill="#fdc83a" />
<circle cx="360.23" cy="191.89" r="0.95" fill="#f7bc4c" fill-opacity="0.6"/>
<circle cx="339.94" cy="191.04" r="0.95" fill="#ffcc33" fill-opacity="0.6"/>
<circle cx="342.66" cy="192.41" r="0.95" fill="#fbc440" fill-opacity="0.6"/>
<circle cx="363.55" cy="192.89" r="0.95" fill="#fcc63e" fill-opacity="0.6"/>
<circle cx="351.12" cy="190.96" r="0.95" fill="#f3b554" fill-opacity="0.6"/>
<circle cx="337.81" cy="191.84" r="0.95" fill="#ffcc33" fill-opacity="0.6"/>
<circle cx="356.57" cy="193.25" r="0.95" fill="#ffcc33" fill-opacity="0.6"/>
<circle cx="342.37" cy="191.58" r="0.95" fill="#f9c145" fill-opacity="0.6"/>
<circle cx="366.11" cy="191.97" r="0.95" fill="#f5b850" fill-opacity="0.6"/>
<circle cx="339.68" cy="191.49" r="0.95" fill="#f4b751" fill-opacity="0.6"/>
<circle cx="350.87" cy="192.43" r="0.95" fill="#ffcc33" fill-opacity="0.6"/>
<circle cx="350.3" cy="191.03" r="0.95" fill="#ffcc33" fill-opacity="0.6"/>
<circle cx="359.96" cy="190.99" r="0.95" fill="#ffcc33" fill-opacity="0.6"/>
<linearGradient id="g16" x1="339.5" x2="355.5" y1="0" y2="0" gradientUnits="userSpaceOnUse"><stop offset="0" stop-color="#7515c6"/><stop offset="0.22" stop-color="#6600cc"/><stop offset="0.5" stop-color="#6600cc"/><stop offset="0.69" stop-color="#6600cc"/><stop offset="0.84" stop-color="#6600cc"/><stop offset="1" stop-color="#7515c6"/></linearGradient>
<path d="M339.5,191.19 340.44,191.41 341.38,190.16 342.32,190.19 343.26,189.46 344.21,189.56 345.15,188.95 346.09,187.62 347.03,187.4 347.97,188.08 348.91,187.11 349.85,188.41 350.79,188.28 351.74,189.17 352.68,189.21 353.62,189.53 354.56,191.32 355.5,191.09 355.5,192.52 354.56,192.92 353.62,194.09 352.68,194.84 351.74,195.77 350.79,196.95 349.85,196 348.91,197.08 347.97,196.39 347.03,197.13 346.09,196.82 345.15,195.65 344.21,195.73 343.26,194.29 342.32,195.13 341.38,193.97 340.44,193.48 339.5,193.26Z" fill="url(#g16)" fill-opacity="0.9" stroke="url(#g16)" stroke-width="0.6" stroke-linejoin="round"/>
<circle cx="339.5" cy="192.2" r="0.9" fill="#7515c6" />
<circle cx="355.5" cy="192.2" r="0.9" fill="#7515c6" />
<circle cx="355.07" cy="192.53" r="0.95" fill="#6e0dc9" fill-opacity="0.6"/>
<circle cx="342.49" cy="193.51" r="0.95" fill="#6600cc" fill-opacity="0.6"/>
<circle cx="341.19" cy="193.01" r="0.95" fill="#6600cc" fill-opacity="0.6"/>
<circle cx="356" cy="192.2" r="1.1" fill="#9839b5" fill-opacity="0.85"/>
<circle cx="358" cy="192.2" r="1.1" fill="#aa4da9" fill-opacity="0.85"/>
<circle cx="344" cy="192.2" r="1" fill="#e19673" fill-opacity="0.85"/>
<line x1="350.4" y1="13.1" x2="350.4" y2="200.4" stroke="#000" stroke-width="1.1" />
<rect x="250.6" y="13.1" width="199.4" height="187.3" fill="none" stroke="#333" stroke-width="1.4" />
<text x="249.4" y="22.41" font-size="6.7" text-anchor="end" fill="#4d4d4d" stroke="#4d4d4d" stroke-width="0.2">SBS2</text>
<text x="253" y="22.27" font-size="6.3" fill="#333" stroke="#333" stroke-width="0.2" font-weight="bold">0.710</text>
<text x="249.4" y="34.71" font-size="6.7" text-anchor="end" fill="#4d4d4d" stroke="#4d4d4d" stroke-width="0.2">SBS40</text>
<text x="253" y="34.57" font-size="6.3" fill="#333" stroke="#333" stroke-width="0.2" font-weight="bold">0.642</text>
<text x="249.4" y="47.01" font-size="6.7" text-anchor="end" fill="#4d4d4d" stroke="#4d4d4d" stroke-width="0.2">SBS1</text>
<text x="253" y="46.87" font-size="6.3" fill="#333" stroke="#333" stroke-width="0.2" font-weight="bold">0.611</text>
<text x="249.4" y="59.31" font-size="6.7" text-anchor="end" fill="#4d4d4d" stroke="#4d4d4d" stroke-width="0.2">SBS41</text>
<text x="253" y="59.17" font-size="6.3" fill="#333" stroke="#333" stroke-width="0.2" font-weight="bold">0.593</text>
<text x="249.4" y="71.61" font-size="6.7" text-anchor="end" fill="#4d4d4d" stroke="#4d4d4d" stroke-width="0.2">SBS17b</text>
<text x="253" y="71.47" font-size="6.3" fill="#333" stroke="#333" stroke-width="0.2" font-weight="bold">0.585</text>
<text x="249.4" y="83.91" font-size="6.7" text-anchor="end" fill="#4d4d4d" stroke="#4d4d4d" stroke-width="0.2">SBS17a</text>
<text x="253" y="83.77" font-size="6.3" fill="#333" stroke="#333" stroke-width="0.2" font-weight="bold">0.531</text>
<text x="249.4" y="96.21" font-size="6.7" text-anchor="end" fill="#4d4d4d" stroke="#4d4d4d" stroke-width="0.2">SBS18</text>
<text x="253" y="96.07" font-size="6.3" fill="#333" stroke="#333" stroke-width="0.2" font-weight="bold">0.527</text>
<text x="249.4" y="108.51" font-size="6.7" text-anchor="end" fill="#4d4d4d" stroke="#4d4d4d" stroke-width="0.2">SBS35</text>
<text x="253" y="108.37" font-size="6.3" fill="#333" stroke="#333" stroke-width="0.2" font-weight="bold">0.493</text>
<text x="249.4" y="120.81" font-size="6.7" text-anchor="end" fill="#4d4d4d" stroke="#4d4d4d" stroke-width="0.2">SBS5</text>
<text x="253" y="120.67" font-size="6.3" fill="#333" stroke="#333" stroke-width="0.2" font-weight="bold">0.449</text>
<text x="249.4" y="133.11" font-size="6.7" text-anchor="end" fill="#4d4d4d" stroke="#4d4d4d" stroke-width="0.2">Clonality</text>
<text x="253" y="132.97" font-size="6.3" fill="#333" stroke="#333" stroke-width="0.2" font-weight="bold">0.386</text>
<text x="249.4" y="145.41" font-size="6.7" text-anchor="end" fill="#4d4d4d" stroke="#4d4d4d" stroke-width="0.2">SBS8</text>
<text x="253" y="145.27" font-size="6.3" fill="#333" stroke="#333" stroke-width="0.2" font-weight="bold">0.380</text>
<text x="249.4" y="157.71" font-size="6.7" text-anchor="end" fill="#4d4d4d" stroke="#4d4d4d" stroke-width="0.2">SBS44</text>
<text x="253" y="157.57" font-size="6.3" fill="#333" stroke="#333" stroke-width="0.2" font-weight="bold">0.346</text>
<text x="249.4" y="170.01" font-size="6.7" text-anchor="end" fill="#4d4d4d" stroke="#4d4d4d" stroke-width="0.2">SBS30</text>
<text x="253" y="169.87" font-size="6.3" fill="#333" stroke="#333" stroke-width="0.2" font-weight="bold">0.280</text>
<text x="249.4" y="182.31" font-size="6.7" text-anchor="end" fill="#4d4d4d" stroke="#4d4d4d" stroke-width="0.2">SBS28</text>
<text x="253" y="182.17" font-size="6.3" fill="#333" stroke="#333" stroke-width="0.2" font-weight="bold">0.143</text>
<text x="249.4" y="194.61" font-size="6.7" text-anchor="end" fill="#4d4d4d" stroke="#4d4d4d" stroke-width="0.2">Timing</text>
<text x="253" y="194.47" font-size="6.3" fill="#333" stroke="#333" stroke-width="0.2" font-weight="bold">0.113</text>
<circle cx="258.8" cy="44.6" r="1.1" fill="#ba609c" fill-opacity="0.85"/>
<circle cx="263.6" cy="44.6" r="1.1" fill="#db8d7a" fill-opacity="0.85"/>
<circle cx="265.6" cy="44.6" r="1.1" fill="#ce7b89" fill-opacity="0.85"/>
<line x1="290.4" y1="200.4" x2="290.4" y2="203.4" stroke="#333" stroke-width="0.9" />
<text x="290.4" y="209.01" font-size="6.7" text-anchor="middle" fill="#4d4d4d" stroke="#4d4d4d" stroke-width="0.2">−2</text>
<line x1="350.4" y1="200.4" x2="350.4" y2="203.4" stroke="#333" stroke-width="0.9" />
<text x="350.4" y="209.01" font-size="6.7" text-anchor="middle" fill="#4d4d4d" stroke="#4d4d4d" stroke-width="0.2">0</text>
<line x1="410.4" y1="200.4" x2="410.4" y2="203.4" stroke="#333" stroke-width="0.9" />
<text x="410.4" y="209.01" font-size="6.7" text-anchor="middle" fill="#4d4d4d" stroke="#4d4d4d" stroke-width="0.2">2</text>
<text x="350" y="217.61" font-size="6.7" text-anchor="middle" fill="#222" stroke="#222" stroke-width="0.2">SHAP value (impact on model output)</text>
<linearGradient id="cb" x1="0" y1="0" x2="0" y2="1"><stop offset="0.0" stop-color="#6600cc"/><stop offset="0.1" stop-color="#8223c0"/><stop offset="0.2" stop-color="#9839b5"/><stop offset="0.3" stop-color="#aa4da9"/><stop offset="0.4" stop-color="#ba609c"/><stop offset="0.5" stop-color="#c8728f"/><stop offset="0.6" stop-color="#d58482"/><stop offset="0.7" stop-color="#e19673"/><stop offset="0.8" stop-color="#eba862"/><stop offset="0.9" stop-color="#f6ba4e"/><stop offset="1.0" stop-color="#ffcc33"/></linearGradient>
<rect x="434.8" y="152.8" width="6" height="34" fill="url(#cb)" />
<text x="438.6" y="151.11" font-size="6.7" text-anchor="middle" fill="#222" stroke="#222" stroke-width="0.2">High</text>
<text x="438.6" y="193.91" font-size="6.7" text-anchor="middle" fill="#222" stroke="#222" stroke-width="0.2">Low</text>
<text x="421.5" y="167.81" font-size="6.7" text-anchor="middle" fill="#222" stroke="#222" stroke-width="0.2">Feature</text>
<text x="421.5" y="175.81" font-size="6.7" text-anchor="middle" fill="#222" stroke="#222" stroke-width="0.2">value</text>
<text x="458.2" y="8.12" font-size="9.5" stroke="#000" stroke-width="0.2" font-weight="bold">e</text>
<text x="529" y="7.68" font-size="8" text-anchor="middle" stroke="#000" stroke-width="0.2" font-weight="bold">SBS2</text>
<text x="636.5" y="7.68" font-size="8" text-anchor="middle" stroke="#000" stroke-width="0.2" font-weight="bold">SBS41</text>
<rect x="491.6" y="10.1" width="69.7" height="48.4" fill="#ebebeb" />
<line x1="491.6" y1="50.46" x2="561.3" y2="50.46" stroke="#fff" stroke-width="0.45" />
<line x1="491.6" y1="39.39" x2="561.3" y2="39.39" stroke="#fff" stroke-width="0.45" />
<line x1="491.6" y1="28.31" x2="561.3" y2="28.31" stroke="#fff" stroke-width="0.45" />
<line x1="491.6" y1="17.24" x2="561.3" y2="17.24" stroke="#fff" stroke-width="0.45" />
<line x1="505.78" y1="10.1" x2="505.78" y2="58.5" stroke="#fff" stroke-width="0.45" />
<line x1="528.34" y1="10.1" x2="528.34" y2="58.5" stroke="#fff" stroke-width="0.45" />
<line x1="550.9" y1="10.1" x2="550.9" y2="58.5" stroke="#fff" stroke-width="0.45" />
<line x1="491.6" y1="56" x2="561.3" y2="56" stroke="#fff" stroke-width="0.9" />
<line x1="491.6" y1="44.92" x2="561.3" y2="44.92" stroke="#fff" stroke-width="0.9" />
<line x1="491.6" y1="33.85" x2="561.3" y2="33.85" stroke="#fff" stroke-width="0.9" />
<line x1="491.6" y1="22.78" x2="561.3" y2="22.78" stroke="#fff" stroke-width="0.9" />
<line x1="491.6" y1="11.7" x2="561.3" y2="11.7" stroke="#fff" stroke-width="0.9" />
<line x1="494.5" y1="10.1" x2="494.5" y2="58.5" stroke="#fff" stroke-width="0.9" />
<line x1="517.06" y1="10.1" x2="517.06" y2="58.5" stroke="#fff" stroke-width="0.9" />
<line x1="539.62" y1="10.1" x2="539.62" y2="58.5" stroke="#fff" stroke-width="0.9" />
<line x1="562.18" y1="10.1" x2="562.18" y2="58.5" stroke="#fff" stroke-width="0.9" />
<rect x="563.2" y="10.1" width="7.6" height="48.4" fill="#d9d9d9" />
<text transform="translate(567.2,34.9) rotate(90)" x="0" y="2.38" font-size="6.6" text-anchor="middle" fill="#333" stroke="#333" stroke-width="0.2">Barrett Oesoph.</text>
<line x1="489.1" y1="56" x2="490.9" y2="56" stroke="#444" stroke-width="0.8" />
<text x="488.7" y="58.27" font-size="6.3" text-anchor="end" fill="#5e5e5e" stroke="#5e5e5e" stroke-width="0.2">0.00</text>
<line x1="489.1" y1="44.92" x2="490.9" y2="44.92" stroke="#444" stroke-width="0.8" />
<text x="488.7" y="47.19" font-size="6.3" text-anchor="end" fill="#5e5e5e" stroke="#5e5e5e" stroke-width="0.2">0.25</text>
<line x1="489.1" y1="33.85" x2="490.9" y2="33.85" stroke="#444" stroke-width="0.8" />
<text x="488.7" y="36.12" font-size="6.3" text-anchor="end" fill="#5e5e5e" stroke="#5e5e5e" stroke-width="0.2">0.50</text>
<line x1="489.1" y1="22.78" x2="490.9" y2="22.78" stroke="#444" stroke-width="0.8" />
<text x="488.7" y="25.04" font-size="6.3" text-anchor="end" fill="#5e5e5e" stroke="#5e5e5e" stroke-width="0.2">0.75</text>
<line x1="489.1" y1="11.7" x2="490.9" y2="11.7" stroke="#444" stroke-width="0.8" />
<text x="488.7" y="13.97" font-size="6.3" text-anchor="end" fill="#5e5e5e" stroke="#5e5e5e" stroke-width="0.2">1.00</text>
<rect x="600.8" y="10.1" width="68.2" height="48.4" fill="#ebebeb" />
<line x1="600.8" y1="50.46" x2="669" y2="50.46" stroke="#fff" stroke-width="0.45" />
<line x1="600.8" y1="39.39" x2="669" y2="39.39" stroke="#fff" stroke-width="0.45" />
<line x1="600.8" y1="28.31" x2="669" y2="28.31" stroke="#fff" stroke-width="0.45" />
<line x1="600.8" y1="17.24" x2="669" y2="17.24" stroke="#fff" stroke-width="0.45" />
<line x1="611.66" y1="10.1" x2="611.66" y2="58.5" stroke="#fff" stroke-width="0.45" />
<line x1="627.99" y1="10.1" x2="627.99" y2="58.5" stroke="#fff" stroke-width="0.45" />
<line x1="644.31" y1="10.1" x2="644.31" y2="58.5" stroke="#fff" stroke-width="0.45" />
<line x1="660.64" y1="10.1" x2="660.64" y2="58.5" stroke="#fff" stroke-width="0.45" />
<line x1="600.8" y1="56" x2="669" y2="56" stroke="#fff" stroke-width="0.9" />
<line x1="600.8" y1="44.92" x2="669" y2="44.92" stroke="#fff" stroke-width="0.9" />
<line x1="600.8" y1="33.85" x2="669" y2="33.85" stroke="#fff" stroke-width="0.9" />
<line x1="600.8" y1="22.78" x2="669" y2="22.78" stroke="#fff" stroke-width="0.9" />
<line x1="600.8" y1="11.7" x2="669" y2="11.7" stroke="#fff" stroke-width="0.9" />
<line x1="603.5" y1="10.1" x2="603.5" y2="58.5" stroke="#fff" stroke-width="0.9" />
<line x1="619.83" y1="10.1" x2="619.83" y2="58.5" stroke="#fff" stroke-width="0.9" />
<line x1="636.15" y1="10.1" x2="636.15" y2="58.5" stroke="#fff" stroke-width="0.9" />
<line x1="652.48" y1="10.1" x2="652.48" y2="58.5" stroke="#fff" stroke-width="0.9" />
<line x1="668.8" y1="10.1" x2="668.8" y2="58.5" stroke="#fff" stroke-width="0.9" />
<rect x="670.2" y="10.1" width="10.2" height="48.4" fill="#d9d9d9" />
<text transform="translate(675.5,34.9) rotate(90)" x="0" y="2.38" font-size="6.6" text-anchor="middle" fill="#333" stroke="#333" stroke-width="0.2">Barrett Oesoph.</text>
<line x1="598.4" y1="56" x2="600.2" y2="56" stroke="#444" stroke-width="0.8" />
<text x="598" y="58.27" font-size="6.3" text-anchor="end" fill="#5e5e5e" stroke="#5e5e5e" stroke-width="0.2">0.00</text>
<line x1="598.4" y1="44.92" x2="600.2" y2="44.92" stroke="#444" stroke-width="0.8" />
<text x="598" y="47.19" font-size="6.3" text-anchor="end" fill="#5e5e5e" stroke="#5e5e5e" stroke-width="0.2">0.25</text>
<line x1="598.4" y1="33.85" x2="600.2" y2="33.85" stroke="#444" stroke-width="0.8" />
<text x="598" y="36.12" font-size="6.3" text-anchor="end" fill="#5e5e5e" stroke="#5e5e5e" stroke-width="0.2">0.50</text>
<line x1="598.4" y1="22.78" x2="600.2" y2="22.78" stroke="#444" stroke-width="0.8" />
<text x="598" y="25.04" font-size="6.3" text-anchor="end" fill="#5e5e5e" stroke="#5e5e5e" stroke-width="0.2">0.75</text>
<line x1="598.4" y1="11.7" x2="600.2" y2="11.7" stroke="#444" stroke-width="0.8" />
<text x="598" y="13.97" font-size="6.3" text-anchor="end" fill="#5e5e5e" stroke="#5e5e5e" stroke-width="0.2">1.00</text>
<rect x="491.6" y="62.1" width="69.7" height="48.4" fill="#ebebeb" />
<line x1="491.6" y1="102.36" x2="561.3" y2="102.36" stroke="#fff" stroke-width="0.45" />
<line x1="491.6" y1="91.29" x2="561.3" y2="91.29" stroke="#fff" stroke-width="0.45" />
<line x1="491.6" y1="80.21" x2="561.3" y2="80.21" stroke="#fff" stroke-width="0.45" />
<line x1="491.6" y1="69.14" x2="561.3" y2="69.14" stroke="#fff" stroke-width="0.45" />
<line x1="505.78" y1="62.1" x2="505.78" y2="110.5" stroke="#fff" stroke-width="0.45" />
<line x1="528.34" y1="62.1" x2="528.34" y2="110.5" stroke="#fff" stroke-width="0.45" />
<line x1="550.9" y1="62.1" x2="550.9" y2="110.5" stroke="#fff" stroke-width="0.45" />
<line x1="491.6" y1="107.9" x2="561.3" y2="107.9" stroke="#fff" stroke-width="0.9" />
<line x1="491.6" y1="96.83" x2="561.3" y2="96.83" stroke="#fff" stroke-width="0.9" />
<line x1="491.6" y1="85.75" x2="561.3" y2="85.75" stroke="#fff" stroke-width="0.9" />
<line x1="491.6" y1="74.68" x2="561.3" y2="74.68" stroke="#fff" stroke-width="0.9" />
<line x1="491.6" y1="63.6" x2="561.3" y2="63.6" stroke="#fff" stroke-width="0.9" />
<line x1="494.5" y1="62.1" x2="494.5" y2="110.5" stroke="#fff" stroke-width="0.9" />
<line x1="517.06" y1="62.1" x2="517.06" y2="110.5" stroke="#fff" stroke-width="0.9" />
<line x1="539.62" y1="62.1" x2="539.62" y2="110.5" stroke="#fff" stroke-width="0.9" />
<line x1="562.18" y1="62.1" x2="562.18" y2="110.5" stroke="#fff" stroke-width="0.9" />
<rect x="563.2" y="62.1" width="7.6" height="48.4" fill="#d9d9d9" />
<text transform="translate(567.2,86.9) rotate(90)" x="0" y="2.38" font-size="6.6" text-anchor="middle" fill="#333" stroke="#333" stroke-width="0.2">Primary tumour</text>
<line x1="489.1" y1="107.9" x2="490.9" y2="107.9" stroke="#444" stroke-width="0.8" />
<text x="488.7" y="110.17" font-size="6.3" text-anchor="end" fill="#5e5e5e" stroke="#5e5e5e" stroke-width="0.2">0.00</text>
<line x1="489.1" y1="96.83" x2="490.9" y2="96.83" stroke="#444" stroke-width="0.8" />
<text x="488.7" y="99.09" font-size="6.3" text-anchor="end" fill="#5e5e5e" stroke="#5e5e5e" stroke-width="0.2">0.25</text>
<line x1="489.1" y1="85.75" x2="490.9" y2="85.75" stroke="#444" stroke-width="0.8" />
<text x="488.7" y="88.02" font-size="6.3" text-anchor="end" fill="#5e5e5e" stroke="#5e5e5e" stroke-width="0.2">0.50</text>
<line x1="489.1" y1="74.68" x2="490.9" y2="74.68" stroke="#444" stroke-width="0.8" />
<text x="488.7" y="76.94" font-size="6.3" text-anchor="end" fill="#5e5e5e" stroke="#5e5e5e" stroke-width="0.2">0.75</text>
<line x1="489.1" y1="63.6" x2="490.9" y2="63.6" stroke="#444" stroke-width="0.8" />
<text x="488.7" y="65.87" font-size="6.3" text-anchor="end" fill="#5e5e5e" stroke="#5e5e5e" stroke-width="0.2">1.00</text>
<rect x="600.8" y="62.1" width="68.2" height="48.4" fill="#ebebeb" />
<line x1="600.8" y1="102.36" x2="669" y2="102.36" stroke="#fff" stroke-width="0.45" />
<line x1="600.8" y1="91.29" x2="669" y2="91.29" stroke="#fff" stroke-width="0.45" />
<line x1="600.8" y1="80.21" x2="669" y2="80.21" stroke="#fff" stroke-width="0.45" />
<line x1="600.8" y1="69.14" x2="669" y2="69.14" stroke="#fff" stroke-width="0.45" />
<line x1="611.66" y1="62.1" x2="611.66" y2="110.5" stroke="#fff" stroke-width="0.45" />
<line x1="627.99" y1="62.1" x2="627.99" y2="110.5" stroke="#fff" stroke-width="0.45" />
<line x1="644.31" y1="62.1" x2="644.31" y2="110.5" stroke="#fff" stroke-width="0.45" />
<line x1="660.64" y1="62.1" x2="660.64" y2="110.5" stroke="#fff" stroke-width="0.45" />
<line x1="600.8" y1="107.9" x2="669" y2="107.9" stroke="#fff" stroke-width="0.9" />
<line x1="600.8" y1="96.83" x2="669" y2="96.83" stroke="#fff" stroke-width="0.9" />
<line x1="600.8" y1="85.75" x2="669" y2="85.75" stroke="#fff" stroke-width="0.9" />
<line x1="600.8" y1="74.68" x2="669" y2="74.68" stroke="#fff" stroke-width="0.9" />
<line x1="600.8" y1="63.6" x2="669" y2="63.6" stroke="#fff" stroke-width="0.9" />
<line x1="603.5" y1="62.1" x2="603.5" y2="110.5" stroke="#fff" stroke-width="0.9" />
<line x1="619.83" y1="62.1" x2="619.83" y2="110.5" stroke="#fff" stroke-width="0.9" />
<line x1="636.15" y1="62.1" x2="636.15" y2="110.5" stroke="#fff" stroke-width="0.9" />
<line x1="652.48" y1="62.1" x2="652.48" y2="110.5" stroke="#fff" stroke-width="0.9" />
<line x1="668.8" y1="62.1" x2="668.8" y2="110.5" stroke="#fff" stroke-width="0.9" />
<rect x="670.2" y="62.1" width="10.2" height="48.4" fill="#d9d9d9" />
<text transform="translate(675.5,86.9) rotate(90)" x="0" y="2.38" font-size="6.6" text-anchor="middle" fill="#333" stroke="#333" stroke-width="0.2">Primary tumour</text>
<line x1="598.4" y1="107.9" x2="600.2" y2="107.9" stroke="#444" stroke-width="0.8" />
<text x="598" y="110.17" font-size="6.3" text-anchor="end" fill="#5e5e5e" stroke="#5e5e5e" stroke-width="0.2">0.00</text>
<line x1="598.4" y1="96.83" x2="600.2" y2="96.83" stroke="#444" stroke-width="0.8" />
<text x="598" y="99.09" font-size="6.3" text-anchor="end" fill="#5e5e5e" stroke="#5e5e5e" stroke-width="0.2">0.25</text>
<line x1="598.4" y1="85.75" x2="600.2" y2="85.75" stroke="#444" stroke-width="0.8" />
<text x="598" y="88.02" font-size="6.3" text-anchor="end" fill="#5e5e5e" stroke="#5e5e5e" stroke-width="0.2">0.50</text>
<line x1="598.4" y1="74.68" x2="600.2" y2="74.68" stroke="#444" stroke-width="0.8" />
<text x="598" y="76.94" font-size="6.3" text-anchor="end" fill="#5e5e5e" stroke="#5e5e5e" stroke-width="0.2">0.75</text>
<line x1="598.4" y1="63.6" x2="600.2" y2="63.6" stroke="#444" stroke-width="0.8" />
<text x="598" y="65.87" font-size="6.3" text-anchor="end" fill="#5e5e5e" stroke="#5e5e5e" stroke-width="0.2">1.00</text>
<rect x="491.6" y="114.1" width="69.7" height="48.4" fill="#ebebeb" />
<line x1="491.6" y1="154.26" x2="561.3" y2="154.26" stroke="#fff" stroke-width="0.45" />
<line x1="491.6" y1="143.19" x2="561.3" y2="143.19" stroke="#fff" stroke-width="0.45" />
<line x1="491.6" y1="132.11" x2="561.3" y2="132.11" stroke="#fff" stroke-width="0.45" />
<line x1="491.6" y1="121.04" x2="561.3" y2="121.04" stroke="#fff" stroke-width="0.45" />
<line x1="505.78" y1="114.1" x2="505.78" y2="162.5" stroke="#fff" stroke-width="0.45" />
<line x1="528.34" y1="114.1" x2="528.34" y2="162.5" stroke="#fff" stroke-width="0.45" />
<line x1="550.9" y1="114.1" x2="550.9" y2="162.5" stroke="#fff" stroke-width="0.45" />
<line x1="491.6" y1="159.8" x2="561.3" y2="159.8" stroke="#fff" stroke-width="0.9" />
<line x1="491.6" y1="148.73" x2="561.3" y2="148.73" stroke="#fff" stroke-width="0.9" />
<line x1="491.6" y1="137.65" x2="561.3" y2="137.65" stroke="#fff" stroke-width="0.9" />
<line x1="491.6" y1="126.58" x2="561.3" y2="126.58" stroke="#fff" stroke-width="0.9" />
<line x1="491.6" y1="115.5" x2="561.3" y2="115.5" stroke="#fff" stroke-width="0.9" />
<line x1="494.5" y1="114.1" x2="494.5" y2="162.5" stroke="#fff" stroke-width="0.9" />
<line x1="517.06" y1="114.1" x2="517.06" y2="162.5" stroke="#fff" stroke-width="0.9" />
<line x1="539.62" y1="114.1" x2="539.62" y2="162.5" stroke="#fff" stroke-width="0.9" />
<line x1="562.18" y1="114.1" x2="562.18" y2="162.5" stroke="#fff" stroke-width="0.9" />
<rect x="563.2" y="114.1" width="7.6" height="48.4" fill="#d9d9d9" />
<text transform="translate(567.2,138.9) rotate(90)" x="0" y="2.38" font-size="6.6" text-anchor="middle" fill="#333" stroke="#333" stroke-width="0.2">Metastasis</text>
<line x1="489.1" y1="159.8" x2="490.9" y2="159.8" stroke="#444" stroke-width="0.8" />
<text x="488.7" y="162.07" font-size="6.3" text-anchor="end" fill="#5e5e5e" stroke="#5e5e5e" stroke-width="0.2">0.00</text>
<line x1="489.1" y1="148.73" x2="490.9" y2="148.73" stroke="#444" stroke-width="0.8" />
<text x="488.7" y="150.99" font-size="6.3" text-anchor="end" fill="#5e5e5e" stroke="#5e5e5e" stroke-width="0.2">0.25</text>
<line x1="489.1" y1="137.65" x2="490.9" y2="137.65" stroke="#444" stroke-width="0.8" />
<text x="488.7" y="139.92" font-size="6.3" text-anchor="end" fill="#5e5e5e" stroke="#5e5e5e" stroke-width="0.2">0.50</text>
<line x1="489.1" y1="126.58" x2="490.9" y2="126.58" stroke="#444" stroke-width="0.8" />
<text x="488.7" y="128.84" font-size="6.3" text-anchor="end" fill="#5e5e5e" stroke="#5e5e5e" stroke-width="0.2">0.75</text>
<line x1="489.1" y1="115.5" x2="490.9" y2="115.5" stroke="#444" stroke-width="0.8" />
<text x="488.7" y="117.77" font-size="6.3" text-anchor="end" fill="#5e5e5e" stroke="#5e5e5e" stroke-width="0.2">1.00</text>
<rect x="600.8" y="114.1" width="68.2" height="48.4" fill="#ebebeb" />
<line x1="600.8" y1="154.26" x2="669" y2="154.26" stroke="#fff" stroke-width="0.45" />
<line x1="600.8" y1="143.19" x2="669" y2="143.19" stroke="#fff" stroke-width="0.45" />
<line x1="600.8" y1="132.11" x2="669" y2="132.11" stroke="#fff" stroke-width="0.45" />
<line x1="600.8" y1="121.04" x2="669" y2="121.04" stroke="#fff" stroke-width="0.45" />
<line x1="611.66" y1="114.1" x2="611.66" y2="162.5" stroke="#fff" stroke-width="0.45" />
<line x1="627.99" y1="114.1" x2="627.99" y2="162.5" stroke="#fff" stroke-width="0.45" />
<line x1="644.31" y1="114.1" x2="644.31" y2="162.5" stroke="#fff" stroke-width="0.45" />
<line x1="660.64" y1="114.1" x2="660.64" y2="162.5" stroke="#fff" stroke-width="0.45" />
<line x1="600.8" y1="159.8" x2="669" y2="159.8" stroke="#fff" stroke-width="0.9" />
<line x1="600.8" y1="148.73" x2="669" y2="148.73" stroke="#fff" stroke-width="0.9" />
<line x1="600.8" y1="137.65" x2="669" y2="137.65" stroke="#fff" stroke-width="0.9" />
<line x1="600.8" y1="126.58" x2="669" y2="126.58" stroke="#fff" stroke-width="0.9" />
<line x1="600.8" y1="115.5" x2="669" y2="115.5" stroke="#fff" stroke-width="0.9" />
<line x1="603.5" y1="114.1" x2="603.5" y2="162.5" stroke="#fff" stroke-width="0.9" />
<line x1="619.83" y1="114.1" x2="619.83" y2="162.5" stroke="#fff" stroke-width="0.9" />
<line x1="636.15" y1="114.1" x2="636.15" y2="162.5" stroke="#fff" stroke-width="0.9" />
<line x1="652.48" y1="114.1" x2="652.48" y2="162.5" stroke="#fff" stroke-width="0.9" />
<line x1="668.8" y1="114.1" x2="668.8" y2="162.5" stroke="#fff" stroke-width="0.9" />
<rect x="670.2" y="114.1" width="10.2" height="48.4" fill="#d9d9d9" />
<text transform="translate(675.5,138.9) rotate(90)" x="0" y="2.38" font-size="6.6" text-anchor="middle" fill="#333" stroke="#333" stroke-width="0.2">Metastasis</text>
<line x1="598.4" y1="159.8" x2="600.2" y2="159.8" stroke="#444" stroke-width="0.8" />
<text x="598" y="162.07" font-size="6.3" text-anchor="end" fill="#5e5e5e" stroke="#5e5e5e" stroke-width="0.2">0.00</text>
<line x1="598.4" y1="148.73" x2="600.2" y2="148.73" stroke="#444" stroke-width="0.8" />
<text x="598" y="150.99" font-size="6.3" text-anchor="end" fill="#5e5e5e" stroke="#5e5e5e" stroke-width="0.2">0.25</text>
<line x1="598.4" y1="137.65" x2="600.2" y2="137.65" stroke="#444" stroke-width="0.8" />
<text x="598" y="139.92" font-size="6.3" text-anchor="end" fill="#5e5e5e" stroke="#5e5e5e" stroke-width="0.2">0.50</text>
<line x1="598.4" y1="126.58" x2="600.2" y2="126.58" stroke="#444" stroke-width="0.8" />
<text x="598" y="128.84" font-size="6.3" text-anchor="end" fill="#5e5e5e" stroke="#5e5e5e" stroke-width="0.2">0.75</text>
<line x1="598.4" y1="115.5" x2="600.2" y2="115.5" stroke="#444" stroke-width="0.8" />
<text x="598" y="117.77" font-size="6.3" text-anchor="end" fill="#5e5e5e" stroke="#5e5e5e" stroke-width="0.2">1.00</text>
<path d="M492.9,57.2 492.9,24.9 495.1,24.9 495.1,37.7 497,37.7 497,44.5 500,44.5 500,47.5 503,48.8 506,49.5 506,52.4 509,52.8 510,54.6 515,55.2 515,57.6Z" fill="#62a88f"/>
<rect x="492.9" y="27.2" width="2.2" height="1.1" fill="#ebebeb"/>
<path d="M505,56.4 L530,56.5 L555,56.3 L560.5,55.2" stroke="#62a88f" stroke-width="3" fill="none" stroke-linejoin="round" />
<rect x="497.25" y="45.25" width="1.5" height="1.5" fill="#62a88f"/>
<rect x="500.25" y="45.75" width="1.5" height="1.5" fill="#62a88f"/>
<rect x="503.25" y="46.55" width="1.5" height="1.5" fill="#62a88f"/>
<rect x="506.75" y="50.25" width="1.5" height="1.5" fill="#62a88f"/>
<rect x="507.75" y="49.45" width="1.5" height="1.5" fill="#62a88f"/>
<path d="M493.1,64.2 496,63.4 500,63 510,62.9 518,62.9 524.1,63.2 524.5,65.5 521.7,66.2 512.1,67.6 502.5,70 497.6,73.7 495.5,79.7 495.5,94.1 493.1,94.1Z" fill="#e7b14a"/>
<rect x="498.05" y="79.55" width="1.5" height="1.5" fill="#e7b14a"/>
<rect x="507.75" y="73.25" width="1.5" height="1.5" fill="#e7b14a"/>
<rect x="509.25" y="70.75" width="1.5" height="1.5" fill="#e7b14a"/>
<rect x="515.25" y="69.25" width="1.5" height="1.5" fill="#e7b14a"/>
<rect x="517.25" y="71.55" width="1.5" height="1.5" fill="#e7b14a"/>
<rect x="520.25" y="68.75" width="1.5" height="1.5" fill="#e7b14a"/>
<rect x="524.25" y="70.25" width="1.5" height="1.5" fill="#e7b14a"/>
<rect x="524.25" y="73.75" width="1.5" height="1.5" fill="#e7b14a"/>
<rect x="532.25" y="75.65" width="1.5" height="1.5" fill="#e7b14a"/>
<rect x="533.05" y="92.05" width="1.5" height="1.5" fill="#e7b14a"/>
<rect x="559.25" y="84.45" width="1.5" height="1.5" fill="#e7b14a"/>
<rect x="493.55" y="95.55" width="1.5" height="1.5" fill="#e7b14a"/>
<rect x="493.55" y="101.85" width="1.5" height="1.5" fill="#e7b14a"/>
<rect x="493.55" y="106.65" width="1.5" height="1.5" fill="#e7b14a"/>
<rect x="503.25" y="71.25" width="1.5" height="1.5" fill="#e7b14a"/>
<rect x="505.25" y="69.75" width="1.5" height="1.5" fill="#e7b14a"/>
<rect x="512.25" y="69.05" width="1.5" height="1.5" fill="#e7b14a"/>
<rect x="519.25" y="67.75" width="1.5" height="1.5" fill="#e7b14a"/>
<rect x="526.25" y="67.25" width="1.5" height="1.5" fill="#e7b14a"/>
<rect x="528.75" y="68.75" width="1.5" height="1.5" fill="#e7b14a"/>
<rect x="502.25" y="73.75" width="1.5" height="1.5" fill="#e7b14a"/>
<rect x="499.25" y="71.75" width="1.5" height="1.5" fill="#e7b14a"/>
<path d="M521,64.36 524,64.88 527.8,66 532,68.04 536.2,70.58 541,73.56 545.8,76.46 550.5,78.92 555.5,81.02 559.7,82.92 559.7,91.2 555.5,87.5 550.5,83.6 545.8,79.7 541,75.9 536.2,72.2 532,69.3 527.8,66.9 524,65.6 521,64.9Z" fill="#c8c8c8" fill-opacity="0.8"/>
<path d="M521,64.6 L524,65.2 L527.8,66.4 L532,68.6 L536.2,71.3 L541,74.6 L545.8,77.9 L550.5,81 L555.5,83.9 L559.7,86.6" stroke="#e7b14a" stroke-width="2.7" fill="none" stroke-linejoin="round" />
<path d="M492.9,160.6 492.9,150.2 494.8,150.2 495.5,152.5 496.5,155.5 498,157.2 500,157.8 505,158 560.8,158 560.8,161 492.9,161Z" fill="#9b7b95"/>
<path d="M602.1,57.2 602.1,24 603.8,24 603.8,34.5 606,35.5 609,37.5 612,39.4 615,41 617.7,43 617.7,52 622,53.5 626.9,54.5 626.9,57.2Z" fill="#62a88f"/>
<rect x="609.97" y="42.28" width="1.4" height="1.4" fill="#62a88f"/>
<rect x="611.75" y="42.84" width="1.4" height="1.4" fill="#62a88f"/>
<rect x="603.83" y="41.29" width="1.4" height="1.4" fill="#62a88f"/>
<rect x="616.23" y="47.06" width="1.4" height="1.4" fill="#62a88f"/>
<rect x="602.75" y="37.02" width="1.4" height="1.4" fill="#62a88f"/>
<rect x="602.73" y="47.4" width="1.4" height="1.4" fill="#62a88f"/>
<rect x="633.28" y="50.58" width="1.4" height="1.4" fill="#62a88f"/>
<rect x="617.2" y="43.42" width="1.4" height="1.4" fill="#62a88f"/>
<rect x="603.91" y="35.76" width="1.4" height="1.4" fill="#62a88f"/>
<rect x="602.36" y="40.31" width="1.4" height="1.4" fill="#62a88f"/>
<rect x="609.62" y="48.07" width="1.4" height="1.4" fill="#62a88f"/>
<rect x="612.13" y="43.93" width="1.4" height="1.4" fill="#62a88f"/>
<rect x="611.48" y="44.38" width="1.4" height="1.4" fill="#62a88f"/>
<rect x="610.13" y="36.5" width="1.4" height="1.4" fill="#62a88f"/>
<rect x="634.17" y="51.21" width="1.4" height="1.4" fill="#62a88f"/>
<rect x="625.69" y="45.31" width="1.4" height="1.4" fill="#62a88f"/>
<rect x="606.31" y="35.51" width="1.4" height="1.4" fill="#62a88f"/>
<rect x="605.73" y="32.24" width="1.4" height="1.4" fill="#62a88f"/>
<rect x="622.12" y="39.01" width="1.4" height="1.4" fill="#62a88f"/>
<rect x="631.92" y="48.17" width="1.4" height="1.4" fill="#62a88f"/>
<rect x="602.3" y="35.1" width="1.4" height="1.4" fill="#62a88f"/>
<rect x="629.32" y="40.43" width="1.4" height="1.4" fill="#62a88f"/>
<rect x="602.59" y="43.7" width="1.4" height="1.4" fill="#62a88f"/>
<rect x="602.7" y="37.62" width="1.4" height="1.4" fill="#62a88f"/>
<rect x="632.26" y="46.34" width="1.4" height="1.4" fill="#62a88f"/>
<rect x="602.98" y="35.85" width="1.4" height="1.4" fill="#62a88f"/>
<rect x="602.82" y="32.03" width="1.4" height="1.4" fill="#62a88f"/>
<rect x="613.54" y="39.97" width="1.4" height="1.4" fill="#62a88f"/>
<rect x="603.92" y="45.8" width="1.4" height="1.4" fill="#62a88f"/>
<rect x="603.12" y="44" width="1.4" height="1.4" fill="#62a88f"/>
<rect x="602.97" y="39.43" width="1.4" height="1.4" fill="#62a88f"/>
<rect x="604.28" y="36.33" width="1.4" height="1.4" fill="#62a88f"/>
<rect x="632.65" y="47.27" width="1.4" height="1.4" fill="#62a88f"/>
<rect x="606.06" y="48.94" width="1.4" height="1.4" fill="#62a88f"/>
<rect x="604.24" y="38.88" width="1.4" height="1.4" fill="#62a88f"/>
<rect x="626.41" y="43.96" width="1.4" height="1.4" fill="#62a88f"/>
<rect x="602.81" y="51.08" width="1.4" height="1.4" fill="#62a88f"/>
<rect x="604.28" y="36.09" width="1.4" height="1.4" fill="#62a88f"/>
<rect x="605.88" y="32.3" width="1.4" height="1.4" fill="#62a88f"/>
<rect x="602.72" y="42.75" width="1.4" height="1.4" fill="#62a88f"/>
<rect x="604.81" y="43.13" width="1.4" height="1.4" fill="#62a88f"/>
<rect x="607.69" y="40.09" width="1.4" height="1.4" fill="#62a88f"/>
<rect x="614.1" y="48.56" width="1.4" height="1.4" fill="#62a88f"/>
<rect x="603.8" y="33.96" width="1.4" height="1.4" fill="#62a88f"/>
<rect x="629.22" y="47.56" width="1.4" height="1.4" fill="#62a88f"/>
<rect x="604.93" y="34.69" width="1.4" height="1.4" fill="#62a88f"/>
<rect x="620.88" y="50.08" width="1.4" height="1.4" fill="#62a88f"/>
<rect x="604.01" y="50.28" width="1.4" height="1.4" fill="#62a88f"/>
<rect x="627.84" y="43.17" width="1.4" height="1.4" fill="#62a88f"/>
<rect x="602.39" y="50.53" width="1.4" height="1.4" fill="#62a88f"/>
<rect x="604.72" y="45.24" width="1.4" height="1.4" fill="#62a88f"/>
<rect x="605.07" y="47.69" width="1.4" height="1.4" fill="#62a88f"/>
<rect x="614.92" y="36.82" width="1.4" height="1.4" fill="#62a88f"/>
<rect x="603.69" y="45.57" width="1.4" height="1.4" fill="#62a88f"/>
<rect x="602.56" y="35.48" width="1.4" height="1.4" fill="#62a88f"/>
<rect x="613.55" y="48.27" width="1.4" height="1.4" fill="#62a88f"/>
<rect x="615.61" y="36.54" width="1.4" height="1.4" fill="#62a88f"/>
<rect x="602.32" y="36.32" width="1.4" height="1.4" fill="#62a88f"/>
<rect x="609.25" y="31.05" width="1.5" height="1.5" fill="#62a88f"/>
<rect x="619.25" y="33.15" width="1.5" height="1.5" fill="#62a88f"/>
<rect x="624.55" y="36.75" width="1.5" height="1.5" fill="#62a88f"/>
<rect x="623.25" y="40.25" width="1.5" height="1.5" fill="#62a88f"/>
<rect x="633.85" y="40.25" width="1.5" height="1.5" fill="#62a88f"/>
<rect x="631.45" y="43.75" width="1.5" height="1.5" fill="#62a88f"/>
<rect x="638.25" y="45.05" width="1.5" height="1.5" fill="#62a88f"/>
<rect x="626.25" y="45.05" width="1.5" height="1.5" fill="#62a88f"/>
<rect x="619.25" y="43.25" width="1.5" height="1.5" fill="#62a88f"/>
<rect x="628.25" y="44.05" width="1.5" height="1.5" fill="#62a88f"/>
<rect x="629.75" y="44.05" width="1.5" height="1.5" fill="#62a88f"/>
<rect x="621.25" y="46.25" width="1.5" height="1.5" fill="#62a88f"/>
<rect x="617.25" y="45.25" width="1.5" height="1.5" fill="#62a88f"/>
<rect x="602.25" y="26.25" width="1.5" height="1.5" fill="#62a88f"/>
<rect x="610.45" y="35.75" width="1.5" height="1.5" fill="#62a88f"/>
<rect x="604.75" y="30.75" width="1.5" height="1.5" fill="#62a88f"/>
<rect x="616.25" y="35.75" width="1.5" height="1.5" fill="#62a88f"/>
<rect x="618.25" y="37.75" width="1.5" height="1.5" fill="#62a88f"/>
<rect x="620.75" y="39.25" width="1.5" height="1.5" fill="#62a88f"/>
<rect x="622.25" y="42.75" width="1.5" height="1.5" fill="#62a88f"/>
<rect x="625.25" y="41.75" width="1.5" height="1.5" fill="#62a88f"/>
<rect x="627.25" y="39.75" width="1.5" height="1.5" fill="#62a88f"/>
<rect x="615.25" y="39.25" width="1.5" height="1.5" fill="#62a88f"/>
<rect x="613.25" y="34.75" width="1.5" height="1.5" fill="#62a88f"/>
<rect x="617.75" y="41.25" width="1.5" height="1.5" fill="#62a88f"/>
<rect x="624.25" y="47.75" width="1.5" height="1.5" fill="#62a88f"/>
<rect x="620.25" y="49.25" width="1.5" height="1.5" fill="#62a88f"/>
<rect x="626.25" y="49.05" width="1.5" height="1.5" fill="#62a88f"/>
<path d="M617.7,50.4 625,49.7 632,48.5 640,46.9 648,44.8 655,43 662,41.7 668.5,40.7 668.5,51.5 662,50.3 655,49.4 648,48.8 640,48.9 632,49.9 625,50.9 617.7,51.6Z" fill="#c8c8c8" fill-opacity="0.8"/>
<path d="M617.7,51 L625,50.3 L632,49.2 L640,47.9 L648,46.8 L655,46.2 L662,46 L668.5,46.1" stroke="#62a88f" stroke-width="2.6" fill="none" stroke-linejoin="round" />
<path d="M602.1,62.9 617.7,62.9 617.7,73.5 614,75.5 613,80 609,84 604.5,86.5 604,93.6 602.1,93.6Z" fill="#e7b14a"/>
<rect x="610.44" y="66.63" width="1.4" height="1.4" fill="#e7b14a"/>
<rect x="604.92" y="73.41" width="1.4" height="1.4" fill="#e7b14a"/>
<rect x="613.94" y="68.19" width="1.4" height="1.4" fill="#e7b14a"/>
<rect x="608.42" y="84.9" width="1.4" height="1.4" fill="#e7b14a"/>
<rect x="628.49" y="79.75" width="1.4" height="1.4" fill="#e7b14a"/>
<rect x="617.7" y="78.16" width="1.4" height="1.4" fill="#e7b14a"/>
<rect x="604.42" y="66.07" width="1.4" height="1.4" fill="#e7b14a"/>
<rect x="603.34" y="85.32" width="1.4" height="1.4" fill="#e7b14a"/>
<rect x="618.03" y="86.48" width="1.4" height="1.4" fill="#e7b14a"/>
<rect x="603.35" y="79.3" width="1.4" height="1.4" fill="#e7b14a"/>
<rect x="611.39" y="81.37" width="1.4" height="1.4" fill="#e7b14a"/>
<rect x="607.48" y="87.29" width="1.4" height="1.4" fill="#e7b14a"/>
<rect x="603.71" y="77.31" width="1.4" height="1.4" fill="#e7b14a"/>
<rect x="619.26" y="85.1" width="1.4" height="1.4" fill="#e7b14a"/>
<rect x="619.26" y="80.78" width="1.4" height="1.4" fill="#e7b14a"/>
<rect x="621.25" y="85.43" width="1.4" height="1.4" fill="#e7b14a"/>
<rect x="608.19" y="80.37" width="1.4" height="1.4" fill="#e7b14a"/>
<rect x="625.3" y="84.46" width="1.4" height="1.4" fill="#e7b14a"/>
<rect x="609.72" y="82.69" width="1.4" height="1.4" fill="#e7b14a"/>
<rect x="623.86" y="77.9" width="1.4" height="1.4" fill="#e7b14a"/>
<rect x="615.56" y="73.71" width="1.4" height="1.4" fill="#e7b14a"/>
<rect x="614.26" y="78.7" width="1.4" height="1.4" fill="#e7b14a"/>
<rect x="603.76" y="79.37" width="1.4" height="1.4" fill="#e7b14a"/>
<rect x="629.02" y="84.66" width="1.4" height="1.4" fill="#e7b14a"/>
<rect x="618.95" y="73.85" width="1.4" height="1.4" fill="#e7b14a"/>
<rect x="619.19" y="78.08" width="1.4" height="1.4" fill="#e7b14a"/>
<rect x="610.3" y="83.74" width="1.4" height="1.4" fill="#e7b14a"/>
<rect x="603.79" y="81.8" width="1.4" height="1.4" fill="#e7b14a"/>
<rect x="603.39" y="78.53" width="1.4" height="1.4" fill="#e7b14a"/>
<rect x="611.36" y="70.36" width="1.4" height="1.4" fill="#e7b14a"/>
<rect x="617.94" y="76.24" width="1.4" height="1.4" fill="#e7b14a"/>
<rect x="615.23" y="85.55" width="1.4" height="1.4" fill="#e7b14a"/>
<rect x="606.24" y="65.55" width="1.4" height="1.4" fill="#e7b14a"/>
<rect x="607.11" y="80.22" width="1.4" height="1.4" fill="#e7b14a"/>
<rect x="605.32" y="69.03" width="1.4" height="1.4" fill="#e7b14a"/>
<rect x="625.49" y="79.82" width="1.4" height="1.4" fill="#e7b14a"/>
<rect x="610.34" y="84.92" width="1.4" height="1.4" fill="#e7b14a"/>
<rect x="607.65" y="79.95" width="1.4" height="1.4" fill="#e7b14a"/>
<rect x="605.26" y="74.78" width="1.4" height="1.4" fill="#e7b14a"/>
<rect x="621.71" y="85.41" width="1.4" height="1.4" fill="#e7b14a"/>
<rect x="624.5" y="73.76" width="1.4" height="1.4" fill="#e7b14a"/>
<rect x="614.27" y="72.26" width="1.4" height="1.4" fill="#e7b14a"/>
<rect x="604.37" y="76.22" width="1.4" height="1.4" fill="#e7b14a"/>
<rect x="622.86" y="83.97" width="1.4" height="1.4" fill="#e7b14a"/>
<rect x="618.37" y="86.2" width="1.4" height="1.4" fill="#e7b14a"/>
<rect x="606.63" y="69.02" width="1.4" height="1.4" fill="#e7b14a"/>
<rect x="610.56" y="71.35" width="1.4" height="1.4" fill="#e7b14a"/>
<rect x="605.51" y="74.41" width="1.4" height="1.4" fill="#e7b14a"/>
<rect x="615.58" y="76.17" width="1.4" height="1.4" fill="#e7b14a"/>
<rect x="607.4" y="83.76" width="1.4" height="1.4" fill="#e7b14a"/>
<rect x="628.56" y="75.25" width="1.4" height="1.4" fill="#e7b14a"/>
<rect x="603.71" y="65.99" width="1.4" height="1.4" fill="#e7b14a"/>
<rect x="618.28" y="77.85" width="1.4" height="1.4" fill="#e7b14a"/>
<rect x="607.27" y="82.71" width="1.4" height="1.4" fill="#e7b14a"/>
<rect x="602.25" y="94.05" width="1.5" height="1.5" fill="#e7b14a"/>
<rect x="609.25" y="95.25" width="1.5" height="1.5" fill="#e7b14a"/>
<rect x="606.75" y="100.85" width="1.5" height="1.5" fill="#e7b14a"/>
<rect x="602.25" y="106.05" width="1.5" height="1.5" fill="#e7b14a"/>
<rect x="611.25" y="90.35" width="1.5" height="1.5" fill="#e7b14a"/>
<rect x="612.75" y="89.15" width="1.5" height="1.5" fill="#e7b14a"/>
<rect x="619.25" y="84.85" width="1.5" height="1.5" fill="#e7b14a"/>
<rect x="624.25" y="84.25" width="1.5" height="1.5" fill="#e7b14a"/>
<rect x="631.75" y="81.55" width="1.5" height="1.5" fill="#e7b14a"/>
<rect x="633.75" y="78.75" width="1.5" height="1.5" fill="#e7b14a"/>
<rect x="638.25" y="79.75" width="1.5" height="1.5" fill="#e7b14a"/>
<rect x="630.25" y="74.25" width="1.5" height="1.5" fill="#e7b14a"/>
<rect x="624.25" y="73.25" width="1.5" height="1.5" fill="#e7b14a"/>
<rect x="620.25" y="67.25" width="1.5" height="1.5" fill="#e7b14a"/>
<rect x="623.75" y="63.25" width="1.5" height="1.5" fill="#e7b14a"/>
<rect x="625.25" y="66.25" width="1.5" height="1.5" fill="#e7b14a"/>
<rect x="621.25" y="62.75" width="1.5" height="1.5" fill="#e7b14a"/>
<rect x="619.25" y="64.25" width="1.5" height="1.5" fill="#e7b14a"/>
<path d="M617.7,69.1 625,70.2 632,71.4 636.6,72.2 641,73.1 645,74.2 650,75 655,75.2 662,74.4 668.5,72.7 668.5,88.7 662,86.4 655,83.8 650,81.4 645,78.6 641,76.3 636.6,74.4 632,73.2 625,71.6 617.7,70.3Z" fill="#c8c8c8" fill-opacity="0.8"/>
<path d="M617.7,69.7 L625,70.9 L632,72.3 L636.6,73.3 L641,74.7 L645,76.4 L650,78.2 L655,79.5 L662,80.4 L668.5,80.7" stroke="#e7b14a" stroke-width="2.7" fill="none" stroke-linejoin="round" />
<path d="M602.1,160.6 602.1,149.5 609.7,149.5 609.7,151.7 613.4,151.7 613.4,154.5 622,155.3 632,156.2 632,158.4 640,157.8 668.5,154.2 668.5,157.3 640,159.9 630,160.6Z" fill="#9b7b95"/>
<rect x="614.4" y="155.2" width="1.2" height="1.2" fill="#9b7b95"/>
<rect x="617.4" y="155.2" width="1.2" height="1.2" fill="#9b7b95"/>
<rect x="620.4" y="155.2" width="1.2" height="1.2" fill="#9b7b95"/>
<rect x="623.4" y="155.2" width="1.2" height="1.2" fill="#9b7b95"/>
<rect x="626.4" y="155.2" width="1.2" height="1.2" fill="#9b7b95"/>
<rect x="629.4" y="155.2" width="1.2" height="1.2" fill="#9b7b95"/>
<rect x="634.4" y="155.2" width="1.2" height="1.2" fill="#9b7b95"/>
<rect x="639.4" y="155.2" width="1.2" height="1.2" fill="#9b7b95"/>
<line x1="494.5" y1="162.4" x2="494.5" y2="164.6" stroke="#333" stroke-width="0.8" />
<text x="494.5" y="169.67" font-size="6.3" text-anchor="middle" fill="#4d4d4d" stroke="#4d4d4d" stroke-width="0.2">0</text>
<line x1="517.06" y1="162.4" x2="517.06" y2="164.6" stroke="#333" stroke-width="0.8" />
<text x="517.06" y="169.67" font-size="6.3" text-anchor="middle" fill="#4d4d4d" stroke="#4d4d4d" stroke-width="0.2">0.2</text>
<line x1="539.62" y1="162.4" x2="539.62" y2="164.6" stroke="#333" stroke-width="0.8" />
<text x="539.62" y="169.67" font-size="6.3" text-anchor="middle" fill="#4d4d4d" stroke="#4d4d4d" stroke-width="0.2">0.4</text>
<line x1="562.18" y1="162.4" x2="562.18" y2="164.6" stroke="#333" stroke-width="0.8" />
<text x="562.18" y="169.67" font-size="6.3" text-anchor="middle" fill="#4d4d4d" stroke="#4d4d4d" stroke-width="0.2">0.6</text>
<line x1="603.5" y1="162.4" x2="603.5" y2="164.6" stroke="#333" stroke-width="0.8" />
<text x="603.5" y="169.67" font-size="6.3" text-anchor="middle" fill="#4d4d4d" stroke="#4d4d4d" stroke-width="0.2">0</text>
<line x1="619.83" y1="162.4" x2="619.83" y2="164.6" stroke="#333" stroke-width="0.8" />
<text x="619.83" y="169.67" font-size="6.3" text-anchor="middle" fill="#4d4d4d" stroke="#4d4d4d" stroke-width="0.2">0.25</text>
<line x1="636.15" y1="162.4" x2="636.15" y2="164.6" stroke="#333" stroke-width="0.8" />
<text x="636.15" y="169.67" font-size="6.3" text-anchor="middle" fill="#4d4d4d" stroke="#4d4d4d" stroke-width="0.2">0.50</text>
<line x1="652.48" y1="162.4" x2="652.48" y2="164.6" stroke="#333" stroke-width="0.8" />
<text x="652.48" y="169.67" font-size="6.3" text-anchor="middle" fill="#4d4d4d" stroke="#4d4d4d" stroke-width="0.2">0.75</text>
<line x1="668.8" y1="162.4" x2="668.8" y2="164.6" stroke="#333" stroke-width="0.8" />
<text x="668.8" y="169.67" font-size="6.3" text-anchor="middle" fill="#4d4d4d" stroke="#4d4d4d" stroke-width="0.2">1</text>
<text transform="translate(468.7,88.05) rotate(-90)" x="0" y="2.38" font-size="6.6" text-anchor="middle" fill="#1a1a1a" stroke="#1a1a1a" stroke-width="0.2" textLength="94.3" lengthAdjust="spacingAndGlyphs">Probability of belonging to class</text>
<text transform="translate(578.7,88.05) rotate(-90)" x="0" y="2.38" font-size="6.6" text-anchor="middle" fill="#1a1a1a" stroke="#1a1a1a" stroke-width="0.2" textLength="94.3" lengthAdjust="spacingAndGlyphs">Probability of belonging to class</text>
<text x="457" y="171.18" font-size="6.6" stroke="#000" stroke-width="0.2" font-weight="bold">Prediction</text>
<line x1="457" y1="173.8" x2="685" y2="173.8" stroke="#333" stroke-width="1.4" stroke-dasharray="3.7,4.4" stroke-dashoffset="2.3"/>
<text x="457" y="182.78" font-size="6.6" stroke="#000" stroke-width="0.2" font-weight="bold">Truth</text>
<rect x="492.9" y="178.9" width="70.1" height="21.7" fill="#ebebeb" />
<line x1="494.5" y1="178.9" x2="494.5" y2="200.6" stroke="#fff" stroke-width="0.9" />
<line x1="517.06" y1="178.9" x2="517.06" y2="200.6" stroke="#fff" stroke-width="0.9" />
<line x1="539.62" y1="178.9" x2="539.62" y2="200.6" stroke="#fff" stroke-width="0.9" />
<line x1="562.18" y1="178.9" x2="562.18" y2="200.6" stroke="#fff" stroke-width="0.9" />
<line x1="492.9" y1="182.8" x2="563" y2="182.8" stroke="#fff" stroke-width="0.9" />
<line x1="492.9" y1="189.5" x2="563" y2="189.5" stroke="#fff" stroke-width="0.9" />
<line x1="492.9" y1="196.2" x2="563" y2="196.2" stroke="#fff" stroke-width="0.9" />
<text x="489" y="185.07" font-size="6.3" text-anchor="end" fill="#4d4d4d" stroke="#4d4d4d" stroke-width="0.2">M</text>
<line x1="489.4" y1="182.8" x2="491.4" y2="182.8" stroke="#333" stroke-width="0.7" />
<text x="489" y="191.77" font-size="6.3" text-anchor="end" fill="#4d4d4d" stroke="#4d4d4d" stroke-width="0.2">P</text>
<line x1="489.4" y1="189.5" x2="491.4" y2="189.5" stroke="#333" stroke-width="0.7" />
<text x="489" y="198.47" font-size="6.3" text-anchor="end" fill="#4d4d4d" stroke="#4d4d4d" stroke-width="0.2">B</text>
<line x1="489.4" y1="196.2" x2="491.4" y2="196.2" stroke="#333" stroke-width="0.7" />
<line x1="494.5" y1="200.6" x2="494.5" y2="202.6" stroke="#333" stroke-width="0.8" />
<text x="494.5" y="208.57" font-size="6.3" text-anchor="middle" fill="#4d4d4d" stroke="#4d4d4d" stroke-width="0.2">0</text>
<line x1="517.06" y1="200.6" x2="517.06" y2="202.6" stroke="#333" stroke-width="0.8" />
<text x="517.06" y="208.57" font-size="6.3" text-anchor="middle" fill="#4d4d4d" stroke="#4d4d4d" stroke-width="0.2">0.2</text>
<line x1="539.62" y1="200.6" x2="539.62" y2="202.6" stroke="#333" stroke-width="0.8" />
<text x="539.62" y="208.57" font-size="6.3" text-anchor="middle" fill="#4d4d4d" stroke="#4d4d4d" stroke-width="0.2">0.4</text>
<line x1="562.18" y1="200.6" x2="562.18" y2="202.6" stroke="#333" stroke-width="0.8" />
<text x="562.18" y="208.57" font-size="6.3" text-anchor="middle" fill="#4d4d4d" stroke="#4d4d4d" stroke-width="0.2">0.6</text>
<rect x="600.9" y="178.9" width="71" height="21.7" fill="#ebebeb" />
<line x1="603.5" y1="178.9" x2="603.5" y2="200.6" stroke="#fff" stroke-width="0.9" />
<line x1="619.83" y1="178.9" x2="619.83" y2="200.6" stroke="#fff" stroke-width="0.9" />
<line x1="636.15" y1="178.9" x2="636.15" y2="200.6" stroke="#fff" stroke-width="0.9" />
<line x1="652.48" y1="178.9" x2="652.48" y2="200.6" stroke="#fff" stroke-width="0.9" />
<line x1="668.8" y1="178.9" x2="668.8" y2="200.6" stroke="#fff" stroke-width="0.9" />
<line x1="600.9" y1="182.8" x2="671.9" y2="182.8" stroke="#fff" stroke-width="0.9" />
<line x1="600.9" y1="189.5" x2="671.9" y2="189.5" stroke="#fff" stroke-width="0.9" />
<line x1="600.9" y1="196.2" x2="671.9" y2="196.2" stroke="#fff" stroke-width="0.9" />
<text x="598" y="185.07" font-size="6.3" text-anchor="end" fill="#4d4d4d" stroke="#4d4d4d" stroke-width="0.2">M</text>
<line x1="598.4" y1="182.8" x2="600.4" y2="182.8" stroke="#333" stroke-width="0.7" />
<text x="598" y="191.77" font-size="6.3" text-anchor="end" fill="#4d4d4d" stroke="#4d4d4d" stroke-width="0.2">P</text>
<line x1="598.4" y1="189.5" x2="600.4" y2="189.5" stroke="#333" stroke-width="0.7" />
<text x="598" y="198.47" font-size="6.3" text-anchor="end" fill="#4d4d4d" stroke="#4d4d4d" stroke-width="0.2">B</text>
<line x1="598.4" y1="196.2" x2="600.4" y2="196.2" stroke="#333" stroke-width="0.7" />
<line x1="603.5" y1="200.6" x2="603.5" y2="202.6" stroke="#333" stroke-width="0.8" />
<text x="603.5" y="208.57" font-size="6.3" text-anchor="middle" fill="#4d4d4d" stroke="#4d4d4d" stroke-width="0.2">0</text>
<line x1="619.83" y1="200.6" x2="619.83" y2="202.6" stroke="#333" stroke-width="0.8" />
<text x="619.83" y="208.57" font-size="6.3" text-anchor="middle" fill="#4d4d4d" stroke="#4d4d4d" stroke-width="0.2">0.25</text>
<line x1="636.15" y1="200.6" x2="636.15" y2="202.6" stroke="#333" stroke-width="0.8" />
<text x="636.15" y="208.57" font-size="6.3" text-anchor="middle" fill="#4d4d4d" stroke="#4d4d4d" stroke-width="0.2">0.50</text>
<line x1="652.48" y1="200.6" x2="652.48" y2="202.6" stroke="#333" stroke-width="0.8" />
<text x="652.48" y="208.57" font-size="6.3" text-anchor="middle" fill="#4d4d4d" stroke="#4d4d4d" stroke-width="0.2">0.75</text>
<line x1="668.8" y1="200.6" x2="668.8" y2="202.6" stroke="#333" stroke-width="0.8" />
<text x="668.8" y="208.57" font-size="6.3" text-anchor="middle" fill="#4d4d4d" stroke="#4d4d4d" stroke-width="0.2">1</text>
<text x="528.5" y="217.38" font-size="6.6" text-anchor="middle" fill="#1a1a1a" stroke="#1a1a1a" stroke-width="0.2">% contribution</text>
<text x="637.3" y="217.38" font-size="6.6" text-anchor="middle" fill="#1a1a1a" stroke="#1a1a1a" stroke-width="0.2">% contribution</text>
<rect x="493.1" y="180.4" width="6.18" height="4.8" fill="#0d0d0d" rx="1.6"/>
<circle cx="498.29" cy="181.6" r="1.3" fill="#8a8a8a" stroke="#1a1a1a" stroke-width="0.7"/>
<circle cx="506.57" cy="181.6" r="1.3" fill="#8a8a8a" stroke="#1a1a1a" stroke-width="0.7"/>
<circle cx="498.41" cy="182.8" r="1.3" fill="#8a8a8a" stroke="#1a1a1a" stroke-width="0.7"/>
<circle cx="502.97" cy="181.6" r="1.3" fill="#8a8a8a" stroke="#1a1a1a" stroke-width="0.7"/>
<circle cx="514.96" cy="184" r="1.3" fill="#8a8a8a" stroke="#1a1a1a" stroke-width="0.7"/>
<circle cx="500.36" cy="181.6" r="1.3" fill="#8a8a8a" stroke="#1a1a1a" stroke-width="0.7"/>
<circle cx="511.39" cy="184" r="1.3" fill="#8a8a8a" stroke="#1a1a1a" stroke-width="0.7"/>
<circle cx="511.6" cy="182.8" r="1.3" fill="#8a8a8a" stroke="#1a1a1a" stroke-width="0.7"/>
<circle cx="518.43" cy="184" r="1.3" fill="#8a8a8a" stroke="#1a1a1a" stroke-width="0.7"/>
<circle cx="502.13" cy="182.8" r="1.3" fill="#8a8a8a" stroke="#1a1a1a" stroke-width="0.7"/>
<circle cx="503.37" cy="184" r="1.3" fill="#8a8a8a" stroke="#1a1a1a" stroke-width="0.7"/>
<circle cx="498.11" cy="182.8" r="1.3" fill="#8a8a8a" stroke="#1a1a1a" stroke-width="0.7"/>
<circle cx="509.35" cy="181.6" r="1.3" fill="#8a8a8a" stroke="#1a1a1a" stroke-width="0.7"/>
<circle cx="501.72" cy="182.8" r="1.3" fill="#8a8a8a" stroke="#1a1a1a" stroke-width="0.7"/>
<circle cx="514.57" cy="184" r="1.3" fill="#8a8a8a" stroke="#1a1a1a" stroke-width="0.7"/>
<circle cx="512.83" cy="184" r="1.3" fill="#8a8a8a" stroke="#1a1a1a" stroke-width="0.7"/>
<circle cx="508.61" cy="181.6" r="1.3" fill="#8a8a8a" stroke="#1a1a1a" stroke-width="0.7"/>
<circle cx="506.32" cy="184" r="1.3" fill="#8a8a8a" stroke="#1a1a1a" stroke-width="0.7"/>
<circle cx="517.31" cy="181.6" r="1.3" fill="#8a8a8a" stroke="#1a1a1a" stroke-width="0.7"/>
<circle cx="506.68" cy="184" r="1.3" fill="#8a8a8a" stroke="#1a1a1a" stroke-width="0.7"/>
<circle cx="506.2" cy="182.8" r="1.3" fill="#8a8a8a" stroke="#1a1a1a" stroke-width="0.7"/>
<circle cx="507.6" cy="184" r="1.3" fill="#8a8a8a" stroke="#1a1a1a" stroke-width="0.7"/>
<circle cx="516.9" cy="181.6" r="1.3" fill="#8a8a8a" stroke="#1a1a1a" stroke-width="0.7"/>
<circle cx="505.96" cy="184" r="1.3" fill="#8a8a8a" stroke="#1a1a1a" stroke-width="0.7"/>
<circle cx="511.87" cy="184" r="1.3" fill="#8a8a8a" stroke="#1a1a1a" stroke-width="0.7"/>
<circle cx="514.96" cy="182.8" r="1.3" fill="#8a8a8a" stroke="#1a1a1a" stroke-width="0.7"/>
<circle cx="507.82" cy="184" r="1.3" fill="#8a8a8a" stroke="#1a1a1a" stroke-width="0.7"/>
<circle cx="518.94" cy="181.6" r="1.3" fill="#8a8a8a" stroke="#1a1a1a" stroke-width="0.7"/>
<circle cx="513.36" cy="184" r="1.3" fill="#8a8a8a" stroke="#1a1a1a" stroke-width="0.7"/>
<circle cx="517.69" cy="181.6" r="1.3" fill="#8a8a8a" stroke="#1a1a1a" stroke-width="0.7"/>
<circle cx="502.46" cy="182.8" r="1.3" fill="#8a8a8a" stroke="#1a1a1a" stroke-width="0.7"/>
<circle cx="518.9" cy="182.8" r="1.3" fill="#8a8a8a" stroke="#1a1a1a" stroke-width="0.7"/>
<circle cx="509.39" cy="182.8" r="1.3" fill="#8a8a8a" stroke="#1a1a1a" stroke-width="0.7"/>
<circle cx="503.5" cy="184" r="1.3" fill="#8a8a8a" stroke="#1a1a1a" stroke-width="0.7"/>
<circle cx="532.85" cy="181.6" r="1.3" fill="#8a8a8a" stroke="#1a1a1a" stroke-width="0.7"/>
<circle cx="532.85" cy="184" r="1.3" fill="#8a8a8a" stroke="#1a1a1a" stroke-width="0.7"/>
<circle cx="559.92" cy="181.6" r="1.3" fill="#8a8a8a" stroke="#1a1a1a" stroke-width="0.7"/>
<circle cx="559.92" cy="184" r="1.3" fill="#8a8a8a" stroke="#1a1a1a" stroke-width="0.7"/>
<rect x="493.1" y="187.1" width="21.98" height="4.8" fill="#0d0d0d" rx="1.6"/>
<circle cx="524.29" cy="189.14" r="1.4" fill="#111" />
<circle cx="514.7" cy="189.36" r="1.4" fill="#111" />
<circle cx="520.5" cy="190.14" r="1.4" fill="#111" />
<circle cx="519.72" cy="188.37" r="1.4" fill="#111" />
<circle cx="523.72" cy="188.45" r="1.4" fill="#111" />
<circle cx="523.6" cy="188.71" r="1.4" fill="#111" />
<circle cx="517.83" cy="190.19" r="1.4" fill="#111" />
<circle cx="515.42" cy="188.66" r="1.4" fill="#111" />
<circle cx="520.09" cy="190.04" r="1.4" fill="#111" />
<circle cx="524.1" cy="189.95" r="1.4" fill="#111" />
<circle cx="525.41" cy="189.48" r="1.4" fill="#111" />
<circle cx="525.45" cy="188.51" r="1.4" fill="#111" />
<circle cx="516.42" cy="189.56" r="1.4" fill="#111" />
<circle cx="517.28" cy="190.05" r="1.4" fill="#111" />
<circle cx="521.6" cy="189.55" r="1.4" fill="#111" />
<circle cx="524.14" cy="189.64" r="1.4" fill="#111" />
<circle cx="535.11" cy="189.5" r="1.4" fill="#111" />
<rect x="493.1" y="193.8" width="9.57" height="4.8" fill="#0d0d0d" rx="1.6"/>
<circle cx="504.08" cy="196.2" r="1.3" fill="#8a8a8a" stroke="#1a1a1a" stroke-width="0.7"/>
<circle cx="509.88" cy="197.4" r="1.3" fill="#8a8a8a" stroke="#1a1a1a" stroke-width="0.7"/>
<circle cx="503.15" cy="195" r="1.3" fill="#8a8a8a" stroke="#1a1a1a" stroke-width="0.7"/>
<circle cx="510.01" cy="197.4" r="1.3" fill="#8a8a8a" stroke="#1a1a1a" stroke-width="0.7"/>
<circle cx="503.73" cy="196.2" r="1.3" fill="#8a8a8a" stroke="#1a1a1a" stroke-width="0.7"/>
<circle cx="503.08" cy="197.4" r="1.3" fill="#8a8a8a" stroke="#1a1a1a" stroke-width="0.7"/>
<circle cx="502.3" cy="195" r="1.3" fill="#8a8a8a" stroke="#1a1a1a" stroke-width="0.7"/>
<circle cx="506.73" cy="195" r="1.3" fill="#8a8a8a" stroke="#1a1a1a" stroke-width="0.7"/>
<circle cx="506.13" cy="195" r="1.3" fill="#8a8a8a" stroke="#1a1a1a" stroke-width="0.7"/>
<circle cx="505.92" cy="196.2" r="1.3" fill="#8a8a8a" stroke="#1a1a1a" stroke-width="0.7"/>
<circle cx="506.18" cy="197.4" r="1.3" fill="#8a8a8a" stroke="#1a1a1a" stroke-width="0.7"/>
<circle cx="502.37" cy="195" r="1.3" fill="#8a8a8a" stroke="#1a1a1a" stroke-width="0.7"/>
<circle cx="509.16" cy="195" r="1.3" fill="#8a8a8a" stroke="#1a1a1a" stroke-width="0.7"/>
<circle cx="509.16" cy="197.4" r="1.3" fill="#8a8a8a" stroke="#1a1a1a" stroke-width="0.7"/>
<rect x="602.1" y="180.4" width="8.02" height="4.8" fill="#0d0d0d" rx="1.6"/>
<circle cx="613.24" cy="181.6" r="1.3" fill="#8a8a8a" stroke="#1a1a1a" stroke-width="0.7"/>
<circle cx="614.8" cy="182.8" r="1.3" fill="#8a8a8a" stroke="#1a1a1a" stroke-width="0.7"/>
<circle cx="611.43" cy="182.8" r="1.3" fill="#8a8a8a" stroke="#1a1a1a" stroke-width="0.7"/>
<circle cx="610.48" cy="182.8" r="1.3" fill="#8a8a8a" stroke="#1a1a1a" stroke-width="0.7"/>
<circle cx="611.94" cy="182.8" r="1.3" fill="#8a8a8a" stroke="#1a1a1a" stroke-width="0.7"/>
<circle cx="611.56" cy="182.8" r="1.3" fill="#8a8a8a" stroke="#1a1a1a" stroke-width="0.7"/>
<circle cx="612.15" cy="181.6" r="1.3" fill="#8a8a8a" stroke="#1a1a1a" stroke-width="0.7"/>
<circle cx="609.97" cy="184" r="1.3" fill="#8a8a8a" stroke="#1a1a1a" stroke-width="0.7"/>
<circle cx="608.92" cy="182.8" r="1.3" fill="#8a8a8a" stroke="#1a1a1a" stroke-width="0.7"/>
<circle cx="609.57" cy="181.6" r="1.3" fill="#8a8a8a" stroke="#1a1a1a" stroke-width="0.7"/>
<circle cx="625.05" cy="181.6" r="1.3" fill="#8a8a8a" stroke="#1a1a1a" stroke-width="0.7"/>
<circle cx="625.05" cy="184" r="1.3" fill="#8a8a8a" stroke="#1a1a1a" stroke-width="0.7"/>
<rect x="602.1" y="187.1" width="22.39" height="4.8" fill="#0d0d0d" rx="1.6"/>
<circle cx="623.23" cy="188.67" r="1.4" fill="#111" />
<circle cx="623.14" cy="188.98" r="1.4" fill="#111" />
<circle cx="625.93" cy="188.89" r="1.4" fill="#111" />
<circle cx="625.04" cy="189.5" r="1.4" fill="#111" />
<circle cx="625.37" cy="190.34" r="1.4" fill="#111" />
<circle cx="625.53" cy="190.02" r="1.4" fill="#111" />
<circle cx="630.93" cy="189.5" r="1.4" fill="#111" />
<circle cx="632.23" cy="189.5" r="1.4" fill="#111" />
<circle cx="654.43" cy="189.5" r="1.4" fill="#111" />
<circle cx="668.8" cy="189.5" r="1.4" fill="#111" />
<rect x="602.1" y="193.8" width="17.17" height="4.8" fill="#0d0d0d" rx="1.6"/>
<circle cx="622.9" cy="196.2" r="1.3" fill="#8a8a8a" stroke="#1a1a1a" stroke-width="0.7"/>
<circle cx="618.03" cy="197.4" r="1.3" fill="#8a8a8a" stroke="#1a1a1a" stroke-width="0.7"/>
<circle cx="620.84" cy="197.4" r="1.3" fill="#8a8a8a" stroke="#1a1a1a" stroke-width="0.7"/>
<circle cx="622.29" cy="197.4" r="1.3" fill="#8a8a8a" stroke="#1a1a1a" stroke-width="0.7"/>
<circle cx="619.33" cy="197.4" r="1.3" fill="#8a8a8a" stroke="#1a1a1a" stroke-width="0.7"/>
<circle cx="621.7" cy="195" r="1.3" fill="#8a8a8a" stroke="#1a1a1a" stroke-width="0.7"/>
<circle cx="621.67" cy="197.4" r="1.3" fill="#8a8a8a" stroke="#1a1a1a" stroke-width="0.7"/>
<circle cx="622.26" cy="195" r="1.3" fill="#8a8a8a" stroke="#1a1a1a" stroke-width="0.7"/>
<circle cx="619.54" cy="197.4" r="1.3" fill="#8a8a8a" stroke="#1a1a1a" stroke-width="0.7"/>
<circle cx="622.38" cy="196.2" r="1.3" fill="#8a8a8a" stroke="#1a1a1a" stroke-width="0.7"/>
<circle cx="639.41" cy="195" r="1.3" fill="#8a8a8a" stroke="#1a1a1a" stroke-width="0.7"/>
<circle cx="639.41" cy="197.4" r="1.3" fill="#8a8a8a" stroke="#1a1a1a" stroke-width="0.7"/>
<text x="3.5" y="236.42" font-size="9.5" stroke="#000" stroke-width="0.2" font-weight="bold">c</text>
<line x1="21.3" y1="235.9" x2="21.3" y2="414.3" stroke="#000" stroke-width="1.5" />
<line x1="20.6" y1="413.6" x2="218.2" y2="413.6" stroke="#000" stroke-width="1.5" />
<line x1="19.2" y1="405.9" x2="21.3" y2="405.9" stroke="#333" stroke-width="0.9" />
<text x="18.8" y="408.31" font-size="6.7" text-anchor="end" fill="#4d4d4d" stroke="#4d4d4d" stroke-width="0.2">0</text>
<line x1="19.2" y1="362.7" x2="21.3" y2="362.7" stroke="#333" stroke-width="0.9" />
<text x="18.8" y="365.11" font-size="6.7" text-anchor="end" fill="#4d4d4d" stroke="#4d4d4d" stroke-width="0.2">2</text>
<line x1="19.2" y1="319.5" x2="21.3" y2="319.5" stroke="#333" stroke-width="0.9" />
<text x="18.8" y="321.91" font-size="6.7" text-anchor="end" fill="#4d4d4d" stroke="#4d4d4d" stroke-width="0.2">4</text>
<line x1="19.2" y1="276.3" x2="21.3" y2="276.3" stroke="#333" stroke-width="0.9" />
<text x="18.8" y="278.71" font-size="6.7" text-anchor="end" fill="#4d4d4d" stroke="#4d4d4d" stroke-width="0.2">6</text>
<line x1="29.6" y1="413.6" x2="29.6" y2="416.4" stroke="#333" stroke-width="0.9" />
<text x="29.6" y="421.01" font-size="6.7" text-anchor="middle" fill="#4d4d4d" stroke="#4d4d4d" stroke-width="0.2">0</text>
<line x1="80.15" y1="413.6" x2="80.15" y2="416.4" stroke="#333" stroke-width="0.9" />
<text x="80.15" y="421.01" font-size="6.7" text-anchor="middle" fill="#4d4d4d" stroke="#4d4d4d" stroke-width="0.2">3</text>
<line x1="130.7" y1="413.6" x2="130.7" y2="416.4" stroke="#333" stroke-width="0.9" />
<text x="130.7" y="421.01" font-size="6.7" text-anchor="middle" fill="#4d4d4d" stroke="#4d4d4d" stroke-width="0.2">6</text>
<line x1="181.25" y1="413.6" x2="181.25" y2="416.4" stroke="#333" stroke-width="0.9" />
<text x="181.25" y="421.01" font-size="6.7" text-anchor="middle" fill="#4d4d4d" stroke="#4d4d4d" stroke-width="0.2">9</text>
<text transform="translate(7,329.4) rotate(-90)" x="0" y="2.41" font-size="6.7" text-anchor="middle" fill="#1a1a1a" textLength="112.5" lengthAdjust="spacingAndGlyphs">Primary tumour drivers (<tspan font-family="Liberation Serif" font-size="7.2">log</tspan>10 p-val)</text>
<line x1="30.2" y1="244.3" x2="33.6" y2="241.6" stroke="#f3541b" stroke-width="0.6" />
<circle cx="30.2" cy="244.3" r="1.4" fill="#f3541b" />
<circle cx="30.2" cy="278.6" r="1.5" fill="#f3541b" />
<circle cx="34.3" cy="292.5" r="1.5" fill="#f3541b" />
<circle cx="30.2" cy="295" r="1.5" fill="#f3541b" />
<circle cx="30.2" cy="353.6" r="1.5" fill="#f3541b" />
<circle cx="30.1" cy="367.9" r="1.5" fill="#f3541b" />
<circle cx="62.9" cy="371.6" r="1.1" fill="#1fb0c4" />
<circle cx="86.7" cy="405.7" r="1.1" fill="#e2b50f" />
<circle cx="156.8" cy="244.1" r="1.1" fill="#1fb0c4" />
<circle cx="209.6" cy="244.1" r="1.1" fill="#1fb0c4" />
<circle cx="130.9" cy="379.1" r="1.1" fill="#1fb0c4" />
<path d="M125.9,384.6 L127.3,382.1 L128.7,384.6Z" fill="#1fb0c4"/>
<text x="24" y="241.61" font-size="6.7" fill="#f3541b" stroke="#f3541b" stroke-width="0.2" textLength="23.7" lengthAdjust="spacingAndGlyphs">SMAD4</text>
<text x="23" y="252.91" font-size="6.7" fill="#f3541b" stroke="#f3541b" stroke-width="0.2" font-weight="bold" textLength="18.9" lengthAdjust="spacingAndGlyphs">KRAS</text>
<text x="21.8" y="276.31" font-size="6.7" fill="#f3541b" stroke="#f3541b" stroke-width="0.2" font-weight="bold" textLength="24.2" lengthAdjust="spacingAndGlyphs">PIK3CA</text>
<text x="31.8" y="290.71" font-size="6.7" fill="#f3541b" stroke="#f3541b" stroke-width="0.2" textLength="13.4" lengthAdjust="spacingAndGlyphs">APC</text>
<text x="24" y="303.81" font-size="6.7" fill="#f3541b" stroke="#f3541b" stroke-width="0.2" textLength="22" lengthAdjust="spacingAndGlyphs">FBXW7</text>
<text x="27.6" y="351.41" font-size="6.7" fill="#f3541b" stroke="#f3541b" stroke-width="0.2" textLength="18" lengthAdjust="spacingAndGlyphs">PTEN</text>
<text x="28.4" y="364.41" font-size="6.7" fill="#f3541b" stroke="#f3541b" stroke-width="0.2" textLength="12.4" lengthAdjust="spacingAndGlyphs">FEV</text>
<text x="60.2" y="368.81" font-size="6.7" fill="#1fb0c4" stroke="#1fb0c4" stroke-width="0.2" textLength="19.7" lengthAdjust="spacingAndGlyphs">ARID2</text>
<text x="81" y="404.11" font-size="6.7" fill="#e2b50f" stroke="#e2b50f" stroke-width="0.2" textLength="26.5" lengthAdjust="spacingAndGlyphs">CTNND1</text>
<text x="139.9" y="241.81" font-size="6.7" fill="#1fb0c4" stroke="#1fb0c4" stroke-width="0.2" textLength="59.4" lengthAdjust="spacingAndGlyphs">CDKN2A.p16INK4a</text>
<text x="147.7" y="252.21" font-size="6.7" fill="#1fb0c4" stroke="#1fb0c4" stroke-width="0.2" textLength="16.3" lengthAdjust="spacingAndGlyphs">TP53</text>
<text x="190.1" y="252.21" font-size="6.7" fill="#1fb0c4" stroke="#1fb0c4" stroke-width="0.2" textLength="24.4" lengthAdjust="spacingAndGlyphs">ARID1A</text>
<text x="117.6" y="375.71" font-size="6.7" fill="#1fb0c4" stroke="#1fb0c4" stroke-width="0.2" textLength="48.7" lengthAdjust="spacingAndGlyphs">CDKN2A.p14arf</text>
<text x="112.5" y="392.61" font-size="6.7" fill="#1fb0c4" stroke="#1fb0c4" stroke-width="0.2" textLength="32.8" lengthAdjust="spacingAndGlyphs">SMARCA4</text>
<text x="55.1" y="430.01" font-size="6.7" fill="#1a1a1a" textLength="128.8" lengthAdjust="spacingAndGlyphs">Barrett Oesophagus drivers (<tspan font-family="Liberation Serif" font-size="7.2">log</tspan>10 p-val)</text>
<line x1="47.29" y1="236.6" x2="47.29" y2="413.6" stroke="#ee3344" stroke-width="1.1" stroke-dasharray="3.3,2.4"/>
<line x1="21.3" y1="384.3" x2="218.2" y2="384.3" stroke="#ee3344" stroke-width="1.1" stroke-dasharray="3.3,2.4"/>
<text x="227" y="236.42" font-size="9.5" stroke="#000" stroke-width="0.2" font-weight="bold">d</text>
<line x1="248" y1="231.1" x2="248" y2="415" stroke="#000" stroke-width="1.5" />
<line x1="247.3" y1="414.4" x2="448.6" y2="414.4" stroke="#000" stroke-width="1.5" />
<line x1="246.2" y1="406.3" x2="248" y2="406.3" stroke="#333" stroke-width="0.9" />
<text x="245.8" y="408.71" font-size="6.7" text-anchor="end" fill="#4d4d4d" stroke="#4d4d4d" stroke-width="0.2">0</text>
<line x1="257.2" y1="414.4" x2="257.2" y2="417.2" stroke="#333" stroke-width="0.9" />
<text x="257.2" y="421.81" font-size="6.7" text-anchor="middle" fill="#4d4d4d" stroke="#4d4d4d" stroke-width="0.2">0</text>
<line x1="246.2" y1="350.5" x2="248" y2="350.5" stroke="#333" stroke-width="0.9" />
<text x="245.8" y="352.91" font-size="6.7" text-anchor="end" fill="#4d4d4d" stroke="#4d4d4d" stroke-width="0.2">5</text>
<line x1="318" y1="414.4" x2="318" y2="417.2" stroke="#333" stroke-width="0.9" />
<text x="318" y="421.81" font-size="6.7" text-anchor="middle" fill="#4d4d4d" stroke="#4d4d4d" stroke-width="0.2">5</text>
<line x1="246.2" y1="294.7" x2="248" y2="294.7" stroke="#333" stroke-width="0.9" />
<text x="245.8" y="297.11" font-size="6.7" text-anchor="end" fill="#4d4d4d" stroke="#4d4d4d" stroke-width="0.2">10</text>
<line x1="378.8" y1="414.4" x2="378.8" y2="417.2" stroke="#333" stroke-width="0.9" />
<text x="378.8" y="421.81" font-size="6.7" text-anchor="middle" fill="#4d4d4d" stroke="#4d4d4d" stroke-width="0.2">10</text>
<line x1="246.2" y1="238.9" x2="248" y2="238.9" stroke="#333" stroke-width="0.9" />
<text x="245.8" y="241.31" font-size="6.7" text-anchor="end" fill="#4d4d4d" stroke="#4d4d4d" stroke-width="0.2">15</text>
<line x1="439.6" y1="414.4" x2="439.6" y2="417.2" stroke="#333" stroke-width="0.9" />
<text x="439.6" y="421.81" font-size="6.7" text-anchor="middle" fill="#4d4d4d" stroke="#4d4d4d" stroke-width="0.2">15</text>
<text x="302.6" y="429.81" font-size="6.7" fill="#1a1a1a" textLength="98.6" lengthAdjust="spacingAndGlyphs">Metastasis drivers (<tspan font-family="Liberation Serif" font-size="7.2">log</tspan>10 p-val)</text>
<line x1="262" y1="398.5" x2="272" y2="406.4" stroke="#e2b50f" stroke-width="0.6" />
<line x1="268" y1="404.5" x2="272" y2="406.4" stroke="#e2b50f" stroke-width="0.6" />
<line x1="262" y1="410" x2="270" y2="406.4" stroke="#e2b50f" stroke-width="0.6" />
<line x1="278" y1="410.5" x2="276" y2="406.4" stroke="#e2b50f" stroke-width="0.6" />
<line x1="290" y1="410.5" x2="282" y2="406.4" stroke="#e2b50f" stroke-width="0.6" />
<line x1="283" y1="401" x2="279" y2="406.4" stroke="#e2b50f" stroke-width="0.6" />
<line x1="296" y1="401" x2="290" y2="406.4" stroke="#e2b50f" stroke-width="0.6" />
<line x1="300" y1="411.5" x2="298.4" y2="406.4" stroke="#e2b50f" stroke-width="0.6" />
<line x1="310" y1="401.5" x2="304.6" y2="406.4" stroke="#e2b50f" stroke-width="0.6" />
<line x1="316" y1="411" x2="314.2" y2="406.4" stroke="#e2b50f" stroke-width="0.6" />
<line x1="323" y1="401.5" x2="320.3" y2="406.4" stroke="#e2b50f" stroke-width="0.6" />
<line x1="333" y1="411" x2="329.1" y2="406.4" stroke="#e2b50f" stroke-width="0.6" />
<line x1="348.5" y1="404" x2="336" y2="406.4" stroke="#e2b50f" stroke-width="0.6" />
<line x1="362" y1="410.5" x2="345" y2="406.4" stroke="#e2b50f" stroke-width="0.6" />
<line x1="372.5" y1="410.5" x2="376" y2="410.5" stroke="#e2b50f" stroke-width="0.6" />
<line x1="315" y1="391.5" x2="300" y2="406.4" stroke="#e2b50f" stroke-width="0.6" />
<line x1="280" y1="392.5" x2="277" y2="406.4" stroke="#e2b50f" stroke-width="0.6" />
<line x1="300" y1="385" x2="283" y2="406.4" stroke="#e2b50f" stroke-width="0.6" />
<line x1="278" y1="387.5" x2="275" y2="406.4" stroke="#e2b50f" stroke-width="0.6" />
<line x1="285" y1="384" x2="280" y2="406.4" stroke="#e2b50f" stroke-width="0.6" />
<line x1="265" y1="392.5" x2="272" y2="406.4" stroke="#e2b50f" stroke-width="0.6" />
<line x1="330" y1="392" x2="310" y2="406.4" stroke="#e2b50f" stroke-width="0.6" />
<circle cx="269.5" cy="406.3" r="1.45" fill="#e2b50f" />
<circle cx="271" cy="406.3" r="1.45" fill="#e2b50f" />
<circle cx="272.5" cy="406.3" r="1.45" fill="#e2b50f" />
<circle cx="274" cy="406.3" r="1.45" fill="#e2b50f" />
<circle cx="275.5" cy="406.3" r="1.45" fill="#e2b50f" />
<circle cx="277" cy="406.3" r="1.45" fill="#e2b50f" />
<circle cx="278.5" cy="406.3" r="1.45" fill="#e2b50f" />
<circle cx="280" cy="406.3" r="1.45" fill="#e2b50f" />
<circle cx="281.5" cy="406.3" r="1.45" fill="#e2b50f" />
<circle cx="283" cy="406.3" r="1.45" fill="#e2b50f" />
<circle cx="284.5" cy="406.3" r="1.45" fill="#e2b50f" />
<circle cx="285.3" cy="406.3" r="1.45" fill="#e2b50f" />
<circle cx="289.7" cy="406.3" r="1.45" fill="#e2b50f" />
<circle cx="298.4" cy="406.3" r="1.45" fill="#e2b50f" />
<circle cx="304.6" cy="406.3" r="1.45" fill="#e2b50f" />
<circle cx="314.2" cy="406.3" r="1.45" fill="#e2b50f" />
<circle cx="320.3" cy="406.3" r="1.45" fill="#e2b50f" />
<circle cx="329.1" cy="406.3" r="1.45" fill="#e2b50f" />
<circle cx="336" cy="406.3" r="1.45" fill="#e2b50f" />
<circle cx="345" cy="406.3" r="1.45" fill="#e2b50f" />
<circle cx="372.5" cy="406.3" r="1.45" fill="#e2b50f" />
<circle cx="412.3" cy="406.3" r="1.45" fill="#e2b50f" />
<circle cx="439.7" cy="406.3" r="1.45" fill="#e2b50f" />
<rect x="268.5" y="405.2" width="17" height="2.3" fill="#e2b50f"/>
<circle cx="257.3" cy="239" r="1.4" fill="#f3541b" />
<circle cx="257.1" cy="341.1" r="1.4" fill="#f3541b" />
<circle cx="257.1" cy="347.6" r="1.4" fill="#f3541b" />
<circle cx="259" cy="348.6" r="1.4" fill="#f3541b" />
<circle cx="256.9" cy="386.3" r="1.4" fill="#f3541b" />
<circle cx="258" cy="392.4" r="1.4" fill="#f3541b" />
<circle cx="257.2" cy="393.5" r="1.4" fill="#f3541b" />
<circle cx="258.5" cy="391.2" r="1.4" fill="#f3541b" />
<circle cx="256.5" cy="394.5" r="1.4" fill="#f3541b" />
<line x1="258.3" y1="376.2" x2="257.2" y2="385.5" stroke="#f3541b" stroke-width="0.6" />
<line x1="263" y1="383.2" x2="258.6" y2="391.5" stroke="#f3541b" stroke-width="0.6" />
<line x1="255.5" y1="395" x2="260.5" y2="389.5" stroke="#f3541b" stroke-width="1.6" />
<circle cx="309.8" cy="239" r="1.3" fill="#1fb0c4" />
<circle cx="439.7" cy="239" r="1.3" fill="#1fb0c4" />
<circle cx="323.8" cy="378.9" r="1.3" fill="#1fb0c4" />
<circle cx="290.5" cy="388" r="1.3" fill="#1fb0c4" />
<line x1="290.5" y1="388" x2="301" y2="376.6" stroke="#1fb0c4" stroke-width="0.6" />
<text x="250.3" y="237.91" font-size="6.7" fill="#f3541b" stroke="#f3541b" stroke-width="0.2" textLength="23.9" lengthAdjust="spacingAndGlyphs">ARID1A</text>
<text x="249.1" y="246.11" font-size="6.7" fill="#f3541b" stroke="#f3541b" stroke-width="0.2" font-weight="bold" textLength="18.1" lengthAdjust="spacingAndGlyphs">KRAS</text>
<text x="309.8" y="237.91" font-size="6.7" fill="#1fb0c4" stroke="#1fb0c4" stroke-width="0.2" textLength="23.4" lengthAdjust="spacingAndGlyphs">SMAD4</text>
<text x="280" y="245.71" font-size="6.7" fill="#1fb0c4" stroke="#1fb0c4" stroke-width="0.2" textLength="59.3" lengthAdjust="spacingAndGlyphs">CDKN2A.p16INK4a</text>
<text x="431" y="247.81" font-size="6.7" fill="#1fb0c4" stroke="#1fb0c4" stroke-width="0.2" textLength="16" lengthAdjust="spacingAndGlyphs">TP53</text>
<text x="249.6" y="338.31" font-size="6.7" fill="#f3541b" stroke="#f3541b" stroke-width="0.2" font-weight="bold" textLength="24.1" lengthAdjust="spacingAndGlyphs">PIK3CA</text>
<text x="249.6" y="347.01" font-size="6.7" fill="#f3541b" stroke="#f3541b" stroke-width="0.2" textLength="12.9" lengthAdjust="spacingAndGlyphs">APC</text>
<text x="249.6" y="357.51" font-size="6.7" fill="#f3541b" stroke="#f3541b" stroke-width="0.2" textLength="22.2" lengthAdjust="spacingAndGlyphs">FBXW7</text>
<text x="262.5" y="371.21" font-size="6.7" fill="#f3541b" stroke="#f3541b" stroke-width="0.2" textLength="48.2" lengthAdjust="spacingAndGlyphs">CDKN2A.p14arf</text>
<text x="249.9" y="375.51" font-size="6.7" fill="#f3541b" stroke="#f3541b" stroke-width="0.2" textLength="12.7" lengthAdjust="spacingAndGlyphs">FEV</text>
<text x="276.9" y="377.81" font-size="6.7" fill="#e2b50f" stroke="#e2b50f" stroke-width="0.2" textLength="20.7" lengthAdjust="spacingAndGlyphs">PTPRT</text>
<text x="301.4" y="377.81" font-size="6.7" fill="#1fb0c4" stroke="#1fb0c4" stroke-width="0.2" textLength="19.8" lengthAdjust="spacingAndGlyphs">ARID2</text>
<text x="326.5" y="381.31" font-size="6.7" fill="#1fb0c4" stroke="#1fb0c4" stroke-width="0.2" textLength="17.5" lengthAdjust="spacingAndGlyphs">PTEN</text>
<text x="249.9" y="383.11" font-size="6.7" fill="#f3541b" stroke="#f3541b" stroke-width="0.2" textLength="32.2" lengthAdjust="spacingAndGlyphs">SMARCA4</text>
<text x="300.2" y="383.41" font-size="6.7" fill="#e2b50f" stroke="#e2b50f" stroke-width="0.2" textLength="17.5" lengthAdjust="spacingAndGlyphs">STRN</text>
<text x="280" y="386.91" font-size="6.7" fill="#e2b50f" stroke="#e2b50f" stroke-width="0.2" textLength="21" lengthAdjust="spacingAndGlyphs">PREX2</text>
<text x="258.1" y="389.61" font-size="6.7" fill="#e2b50f" stroke="#e2b50f" stroke-width="0.2" textLength="21.1" lengthAdjust="spacingAndGlyphs">SFRP4</text>
<text x="301.4" y="390.11" font-size="6.7" fill="#e2b50f" stroke="#e2b50f" stroke-width="0.2" textLength="15.4" lengthAdjust="spacingAndGlyphs">AKT2</text>
<text x="265" y="394.81" font-size="6.7" fill="#e2b50f" stroke="#e2b50f" stroke-width="0.2" textLength="22" lengthAdjust="spacingAndGlyphs">NOTCH1</text>
<text x="283" y="394.81" font-size="6.7" fill="#e2b50f" stroke="#e2b50f" stroke-width="0.2" textLength="20" lengthAdjust="spacingAndGlyphs">KMT2C</text>
<text x="299" y="394.81" font-size="6.7" fill="#e2b50f" stroke="#e2b50f" stroke-width="0.2" textLength="20" lengthAdjust="spacingAndGlyphs">EPHA5</text>
<text x="319.5" y="393.91" font-size="6.7" fill="#e2b50f" stroke="#e2b50f" stroke-width="0.2" textLength="24.5" lengthAdjust="spacingAndGlyphs">SETBP1</text>
<text x="344" y="393.91" font-size="6.7" fill="#e2b50f" stroke="#e2b50f" stroke-width="0.2" textLength="18" lengthAdjust="spacingAndGlyphs">MUC4</text>
<text x="249.4" y="400.61" font-size="6.7" fill="#e2b50f" stroke="#e2b50f" stroke-width="0.2" textLength="14.9" lengthAdjust="spacingAndGlyphs">TP63</text>
<text x="281.8" y="403.01" font-size="6.7" fill="#e2b50f" stroke="#e2b50f" stroke-width="0.2" textLength="19.2" lengthAdjust="spacingAndGlyphs">CSF3R</text>
<text x="309.8" y="403.61" font-size="6.7" fill="#e2b50f" stroke="#e2b50f" stroke-width="0.2" textLength="12.2" lengthAdjust="spacingAndGlyphs">FAT1</text>
<text x="323" y="403.61" font-size="6.7" fill="#e2b50f" stroke="#e2b50f" stroke-width="0.2" textLength="23.6" lengthAdjust="spacingAndGlyphs">ZNF521</text>
<text x="348.4" y="406.21" font-size="6.7" fill="#e2b50f" stroke="#e2b50f" stroke-width="0.2" textLength="10.5" lengthAdjust="spacingAndGlyphs">KIT</text>
<text x="365.4" y="404.41" font-size="6.7" fill="#e2b50f" stroke="#e2b50f" stroke-width="0.2" textLength="21.6" lengthAdjust="spacingAndGlyphs">PPP6C</text>
<text x="398.7" y="404.41" font-size="6.7" fill="#e2b50f" stroke="#e2b50f" stroke-width="0.2" textLength="22.5" lengthAdjust="spacingAndGlyphs">MUC16</text>
<text x="425.2" y="404.41" font-size="6.7" fill="#e2b50f" stroke="#e2b50f" stroke-width="0.2" textLength="22.7" lengthAdjust="spacingAndGlyphs">KMT2D</text>
<line x1="269" y1="232" x2="269" y2="414.3" stroke="#ee3344" stroke-width="1.1" stroke-opacity="0.9" stroke-dasharray="3.3,2.4"/>
<line x1="248" y1="395.47" x2="447.5" y2="395.47" stroke="#ee3344" stroke-width="1.1" stroke-opacity="0.9" stroke-dasharray="3.3,2.4"/>
<text x="249.4" y="407.11" font-size="6.7" fill="#e2b50f" stroke="#e2b50f" stroke-width="0.2" textLength="18.4" lengthAdjust="spacingAndGlyphs">CDC73</text>
<text x="249.4" y="413.21" font-size="6.7" fill="#e2b50f" stroke="#e2b50f" stroke-width="0.2" textLength="8.7" lengthAdjust="spacingAndGlyphs">SKI</text>
<text x="266.9" y="413.21" font-size="6.7" fill="#e2b50f" stroke="#e2b50f" stroke-width="0.2" textLength="24.5" lengthAdjust="spacingAndGlyphs">BCL11B</text>
<text x="296.7" y="414.11" font-size="6.7" fill="#e2b50f" stroke="#e2b50f" stroke-width="0.2" textLength="14.5" lengthAdjust="spacingAndGlyphs">FAT4</text>
<text x="316" y="413.41" font-size="6.7" fill="#e2b50f" stroke="#e2b50f" stroke-width="0.2" textLength="17.5" lengthAdjust="spacingAndGlyphs">PHOX2B</text>
<text x="333.5" y="413.41" font-size="6.7" fill="#e2b50f" stroke="#e2b50f" stroke-width="0.2" textLength="21" lengthAdjust="spacingAndGlyphs">BIRC3</text>
<text x="362" y="412.61" font-size="6.7" fill="#e2b50f" stroke="#e2b50f" stroke-width="0.2" textLength="10.5" lengthAdjust="spacingAndGlyphs">RET</text>
<text x="379.5" y="413.01" font-size="6.7" fill="#e2b50f" stroke="#e2b50f" stroke-width="0.2" textLength="18.3" lengthAdjust="spacingAndGlyphs">CDX2</text>
<text transform="translate(230.6,329.3) rotate(-90)" x="0" y="2.41" font-size="6.7" text-anchor="middle" fill="#1a1a1a" textLength="112.5" lengthAdjust="spacingAndGlyphs">Primary tumour drivers (<tspan font-family="Liberation Serif" font-size="7.2">log</tspan>10 p-val)</text>
<text x="123.1" y="443.41" font-size="6.7" fill="#1a1a1a" stroke="#1a1a1a" stroke-width="0.2" font-weight="bold" textLength="22.9" lengthAdjust="spacingAndGlyphs">Drivers</text>
<circle cx="154.7" cy="441" r="1.6" fill="#1fb0c4" />
<text x="163.9" y="443.41" font-size="6.7" fill="#1a1a1a" stroke="#1a1a1a" stroke-width="0.2" textLength="26.8" lengthAdjust="spacingAndGlyphs">Common</text>
<circle cx="200.6" cy="441" r="1.6" fill="#e2b50f" />
<text x="209.8" y="443.41" font-size="6.7" fill="#1a1a1a" stroke="#1a1a1a" stroke-width="0.2" textLength="80.7" lengthAdjust="spacingAndGlyphs">Barrett/Metastases-specific</text>
<circle cx="297.1" cy="441" r="1.6" fill="#f3541b" />
<text x="305.7" y="443.41" font-size="6.7" fill="#1a1a1a" stroke="#1a1a1a" stroke-width="0.2" textLength="50.5" lengthAdjust="spacingAndGlyphs">Primary–specific</text>
<text x="457.5" y="235.82" font-size="9.5" stroke="#000" stroke-width="0.2" font-weight="bold">f</text>
<line x1="523.3" y1="240.4" x2="523.3" y2="426.8" stroke="#e3e3e3" stroke-width="0.7" />
<line x1="541.67" y1="240.4" x2="541.67" y2="426.8" stroke="#e3e3e3" stroke-width="0.7" />
<line x1="560.05" y1="240.4" x2="560.05" y2="426.8" stroke="#e3e3e3" stroke-width="0.7" />
<line x1="578.42" y1="240.4" x2="578.42" y2="426.8" stroke="#e3e3e3" stroke-width="0.7" />
<line x1="596.8" y1="240.4" x2="596.8" y2="426.8" stroke="#e3e3e3" stroke-width="0.7" />
<line x1="615.17" y1="240.4" x2="615.17" y2="426.8" stroke="#e3e3e3" stroke-width="0.7" />
<line x1="633.55" y1="240.4" x2="633.55" y2="426.8" stroke="#e3e3e3" stroke-width="0.7" />
<line x1="651.92" y1="240.4" x2="651.92" y2="426.8" stroke="#e3e3e3" stroke-width="0.7" />
<line x1="670.3" y1="240.4" x2="670.3" y2="426.8" stroke="#e3e3e3" stroke-width="0.7" />
<line x1="509.9" y1="244.4" x2="683.8" y2="244.4" stroke="#e3e3e3" stroke-width="0.6" />
<line x1="509.9" y1="250.98" x2="683.8" y2="250.98" stroke="#e3e3e3" stroke-width="0.6" />
<line x1="509.9" y1="257.56" x2="683.8" y2="257.56" stroke="#e3e3e3" stroke-width="0.6" />
<line x1="509.9" y1="264.14" x2="683.8" y2="264.14" stroke="#e3e3e3" stroke-width="0.6" />
<line x1="509.9" y1="270.72" x2="683.8" y2="270.72" stroke="#e3e3e3" stroke-width="0.6" />
<line x1="509.9" y1="277.3" x2="683.8" y2="277.3" stroke="#e3e3e3" stroke-width="0.6" />
<line x1="509.9" y1="283.88" x2="683.8" y2="283.88" stroke="#e3e3e3" stroke-width="0.6" />
<line x1="509.9" y1="290.46" x2="683.8" y2="290.46" stroke="#e3e3e3" stroke-width="0.6" />
<line x1="509.9" y1="297.04" x2="683.8" y2="297.04" stroke="#e3e3e3" stroke-width="0.6" />
<line x1="509.9" y1="303.62" x2="683.8" y2="303.62" stroke="#e3e3e3" stroke-width="0.6" />
<line x1="509.9" y1="310.2" x2="683.8" y2="310.2" stroke="#e3e3e3" stroke-width="0.6" />
<line x1="509.9" y1="316.78" x2="683.8" y2="316.78" stroke="#e3e3e3" stroke-width="0.6" />
<line x1="509.9" y1="323.36" x2="683.8" y2="323.36" stroke="#e3e3e3" stroke-width="0.6" />
<line x1="509.9" y1="329.94" x2="683.8" y2="329.94" stroke="#e3e3e3" stroke-width="0.6" />
<line x1="509.9" y1="336.52" x2="683.8" y2="336.52" stroke="#e3e3e3" stroke-width="0.6" />
<line x1="509.9" y1="343.1" x2="683.8" y2="343.1" stroke="#e3e3e3" stroke-width="0.6" />
<line x1="509.9" y1="349.68" x2="683.8" y2="349.68" stroke="#e3e3e3" stroke-width="0.6" />
<line x1="509.9" y1="356.26" x2="683.8" y2="356.26" stroke="#e3e3e3" stroke-width="0.6" />
<line x1="509.9" y1="362.84" x2="683.8" y2="362.84" stroke="#e3e3e3" stroke-width="0.6" />
<line x1="509.9" y1="369.42" x2="683.8" y2="369.42" stroke="#e3e3e3" stroke-width="0.6" />
<line x1="509.9" y1="376" x2="683.8" y2="376" stroke="#e3e3e3" stroke-width="0.6" />
<line x1="509.9" y1="382.58" x2="683.8" y2="382.58" stroke="#e3e3e3" stroke-width="0.6" />
<line x1="509.9" y1="389.16" x2="683.8" y2="389.16" stroke="#e3e3e3" stroke-width="0.6" />
<line x1="509.9" y1="395.74" x2="683.8" y2="395.74" stroke="#e3e3e3" stroke-width="0.6" />
<line x1="509.9" y1="402.32" x2="683.8" y2="402.32" stroke="#e3e3e3" stroke-width="0.6" />
<line x1="509.9" y1="408.9" x2="683.8" y2="408.9" stroke="#e3e3e3" stroke-width="0.6" />
<line x1="509.9" y1="415.48" x2="683.8" y2="415.48" stroke="#e3e3e3" stroke-width="0.6" />
<line x1="509.9" y1="422.06" x2="683.8" y2="422.06" stroke="#e3e3e3" stroke-width="0.6" />
<rect x="521.3" y="229.6" width="64.5" height="8.8" fill="#f2f2f2" stroke="#8c8c8c" stroke-width="0.9" />
<text x="553.55" y="236.68" font-size="6.9" text-anchor="middle" fill="#7a7a7a" stroke="#7a7a7a" stroke-width="0.2">Barrett Oesophagus</text>
<rect x="615.3" y="229.6" width="50.7" height="8.8" fill="#f2f2f2" stroke="#8c8c8c" stroke-width="0.9" />
<text x="640.65" y="236.68" font-size="6.9" text-anchor="middle" fill="#7a7a7a" stroke="#7a7a7a" stroke-width="0.2">Primary tumour</text>
<linearGradient id="g17" x1="535" x2="660" y1="0" y2="0" gradientUnits="userSpaceOnUse"><stop offset="0" stop-color="#ce7b89"/><stop offset="0.2" stop-color="#ce7b89"/><stop offset="0.48" stop-color="#d58482"/><stop offset="0.5" stop-color="#f6ba4e"/><stop offset="0.76" stop-color="#fbc53f"/><stop offset="1" stop-color="#fdc83a"/></linearGradient>
<path d="M535,243.38 535.99,243.56 536.98,243.58 537.98,243.38 538.97,243.57 539.96,243.56 540.95,243.39 541.94,243.4 542.94,243.51 543.93,243.62 544.92,243.41 545.91,243.32 546.9,243.45 547.9,243.45 548.89,243.53 549.88,243.55 550.87,243.41 551.87,243.4 552.86,243.51 553.85,243.31 554.84,243.28 555.83,243.54 556.83,243.42 557.82,243.45 558.81,243.4 559.8,243.37 560.79,243.34 561.79,243.49 562.78,243.33 563.77,243.49 564.76,243.39 565.75,243.28 566.75,243.33 567.74,243.35 568.73,243.36 569.72,243.24 570.71,243.45 571.71,243.3 572.7,243.28 573.69,243.25 574.68,243.3 575.67,243.28 576.67,243.29 577.66,243.4 578.65,243.49 579.64,243.3 580.63,243.42 581.63,243.28 582.62,243.28 583.61,243.31 584.6,243.17 585.6,243.26 586.59,243.17 587.58,243.28 588.57,243.38 589.56,243.44 590.56,243.34 591.55,243.38 592.54,243.29 593.53,243.16 594.52,243.15 595.52,243.2 596.51,243.22 597.5,243.34 598.49,243.3 599.48,243.3 600.48,243.17 601.47,243.07 602.46,243.2 603.45,243.25 604.44,243.16 605.44,243.28 606.43,243.28 607.42,243.3 608.41,243.33 609.4,243.26 610.4,243.16 611.39,243.09 612.38,243.37 613.37,243.27 614.37,243.11 615.36,243.25 616.35,243.19 617.34,243.12 618.33,243.24 619.33,243.24 620.32,243.37 621.31,243.27 622.3,243.3 623.29,243.3 624.29,243.27 625.28,243.21 626.27,243.15 627.26,243.23 628.25,243.42 629.25,243.21 630.24,243.34 631.23,243.25 632.22,243.28 633.21,243.23 634.21,243.38 635.2,243.19 636.19,243.46 637.18,243.4 638.17,243.3 639.17,243.33 640.16,243.48 641.15,243.35 642.14,243.41 643.13,243.47 644.13,243.32 645.12,243.53 646.11,243.32 647.1,243.34 648.1,243.45 649.09,243.35 650.08,243.4 651.07,243.51 652.06,243.39 653.06,243.5 654.05,243.6 655.04,243.61 656.03,243.47 657.02,243.44 658.02,243.42 659.01,243.59 660,243.63 660,245.24 659.01,245.35 658.02,245.17 657.02,245.24 656.03,245.3 655.04,245.19 654.05,245.43 653.06,245.29 652.06,245.46 651.07,245.36 650.08,245.5 649.09,245.32 648.1,245.3 647.1,245.29 646.11,245.43 645.12,245.28 644.13,245.51 643.13,245.37 642.14,245.42 641.15,245.48 640.16,245.5 639.17,245.33 638.17,245.35 637.18,245.45 636.19,245.35 635.2,245.6 634.21,245.63 633.21,245.4 632.22,245.54 631.23,245.52 630.24,245.43 629.25,245.54 628.25,245.62 627.26,245.42 626.27,245.64 625.28,245.51 624.29,245.48 623.29,245.44 622.3,245.56 621.31,245.4 620.32,245.39 619.33,245.51 618.33,245.41 617.34,245.63 616.35,245.53 615.36,245.67 614.37,245.47 613.37,245.55 612.38,245.68 611.39,245.7 610.4,245.43 609.4,245.69 608.41,245.65 607.42,245.44 606.43,245.44 605.44,245.65 604.44,245.61 603.45,245.53 602.46,245.62 601.47,245.57 600.48,245.47 599.48,245.6 598.49,245.59 597.5,245.72 596.51,245.63 595.52,245.38 594.52,245.54 593.53,245.52 592.54,245.5 591.55,245.62 590.56,245.38 589.56,245.4 588.57,245.46 587.58,245.56 586.59,245.34 585.6,245.56 584.6,245.52 583.61,245.44 582.62,245.49 581.63,245.42 580.63,245.6 579.64,245.5 578.65,245.41 577.66,245.44 576.67,245.32 575.67,245.41 574.68,245.52 573.69,245.55 572.7,245.4 571.71,245.51 570.71,245.54 569.72,245.51 568.73,245.42 567.74,245.38 566.75,245.52 565.75,245.5 564.76,245.26 563.77,245.3 562.78,245.37 561.79,245.39 560.79,245.5 559.8,245.25 558.81,245.38 557.82,245.39 556.83,245.48 555.83,245.53 554.84,245.27 553.85,245.53 552.86,245.29 551.87,245.27 550.87,245.38 549.88,245.23 548.89,245.23 547.9,245.41 546.9,245.42 545.91,245.22 544.92,245.46 543.93,245.24 542.94,245.38 541.94,245.21 540.95,245.29 539.96,245.19 538.97,245.37 537.98,245.19 536.98,245.45 535.99,245.43 535,245.24Z" fill="url(#g17)" fill-opacity="0.9" stroke="url(#g17)" stroke-width="0.6" stroke-linejoin="round"/>
<circle cx="535" cy="244.4" r="0.9" fill="#ce7b89" />
<circle cx="660" cy="244.4" r="0.9" fill="#fdc83a" />
<circle cx="625.62" cy="244.76" r="0.8" fill="#fbc53f" fill-opacity="0.6"/>
<circle cx="579.73" cy="244.81" r="0.8" fill="#cd788b" fill-opacity="0.6"/>
<circle cx="580.8" cy="243.71" r="0.8" fill="#d58581" fill-opacity="0.6"/>
<circle cx="649.82" cy="245.11" r="0.8" fill="#ffcc33" fill-opacity="0.6"/>
<circle cx="649.17" cy="244.3" r="0.8" fill="#fac342" fill-opacity="0.6"/>
<circle cx="574.7" cy="244.22" r="0.8" fill="#d98a7d" fill-opacity="0.6"/>
<circle cx="651.83" cy="245.03" r="0.8" fill="#fdc73b" fill-opacity="0.6"/>
<circle cx="580.7" cy="244.15" r="0.8" fill="#c8738f" fill-opacity="0.6"/>
<circle cx="584.45" cy="244.19" r="0.8" fill="#ce7b89" fill-opacity="0.6"/>
<circle cx="634.64" cy="244.48" r="0.8" fill="#f2b456" fill-opacity="0.6"/>
<circle cx="639.55" cy="244.51" r="0.8" fill="#f6bb4d" fill-opacity="0.6"/>
<circle cx="645.11" cy="244.03" r="0.8" fill="#f0b159" fill-opacity="0.6"/>
<circle cx="537.78" cy="244.42" r="0.8" fill="#db8d7a" fill-opacity="0.6"/>
<circle cx="655.8" cy="244.63" r="0.8" fill="#ffcc33" fill-opacity="0.6"/>
<circle cx="635.54" cy="243.6" r="0.8" fill="#ffcc33" fill-opacity="0.6"/>
<circle cx="545.51" cy="243.73" r="0.8" fill="#d48283" fill-opacity="0.6"/>
<circle cx="627.13" cy="245.15" r="0.8" fill="#f1b258" fill-opacity="0.6"/>
<circle cx="552.98" cy="244.81" r="0.8" fill="#c77090" fill-opacity="0.6"/>
<circle cx="616.13" cy="243.91" r="0.8" fill="#f6bb4c" fill-opacity="0.6"/>
<circle cx="600.19" cy="244.94" r="0.8" fill="#e8a268" fill-opacity="0.6"/>
<circle cx="584.3" cy="244.1" r="0.8" fill="#c46c94" fill-opacity="0.6"/>
<circle cx="596.71" cy="244.47" r="0.8" fill="#eba763" fill-opacity="0.6"/>
<circle cx="625.12" cy="244.79" r="0.8" fill="#f4b653" fill-opacity="0.6"/>
<circle cx="638.28" cy="244.7" r="0.8" fill="#ffcc33" fill-opacity="0.6"/>
<circle cx="641.69" cy="244.94" r="0.8" fill="#f4b752" fill-opacity="0.6"/>
<circle cx="654.72" cy="244.62" r="0.8" fill="#ffcc33" fill-opacity="0.6"/>
<circle cx="600.48" cy="244.83" r="0.8" fill="#f3b653" fill-opacity="0.6"/>
<circle cx="587.56" cy="243.74" r="0.8" fill="#dd9078" fill-opacity="0.6"/>
<circle cx="627.65" cy="245.32" r="0.8" fill="#feca36" fill-opacity="0.6"/>
<circle cx="560.55" cy="244.27" r="0.8" fill="#ca758d" fill-opacity="0.6"/>
<circle cx="571.5" cy="245.22" r="0.8" fill="#c8728f" fill-opacity="0.6"/>
<circle cx="549.35" cy="244.64" r="0.8" fill="#cb768c" fill-opacity="0.6"/>
<circle cx="631.99" cy="243.8" r="0.8" fill="#f3b653" fill-opacity="0.6"/>
<circle cx="608.01" cy="245.22" r="0.8" fill="#f4b752" fill-opacity="0.6"/>
<circle cx="539.55" cy="243.8" r="0.8" fill="#cc778c" fill-opacity="0.6"/>
<circle cx="564.43" cy="244.77" r="0.8" fill="#c9738f" fill-opacity="0.6"/>
<circle cx="609.35" cy="243.85" r="0.8" fill="#f5b950" fill-opacity="0.6"/>
<circle cx="556.56" cy="244.84" r="0.8" fill="#c77091" fill-opacity="0.6"/>
<circle cx="573.97" cy="244.48" r="0.8" fill="#cc788b" fill-opacity="0.6"/>
<circle cx="567.56" cy="245.07" r="0.8" fill="#da8c7b" fill-opacity="0.6"/>
<circle cx="649.28" cy="244.14" r="0.8" fill="#ffcc33" fill-opacity="0.6"/>
<circle cx="595.33" cy="243.88" r="0.8" fill="#e09474" fill-opacity="0.6"/>
<circle cx="541.21" cy="245.1" r="0.8" fill="#cb768c" fill-opacity="0.6"/>
<circle cx="667" cy="244.4" r="1.2" fill="#fcc73d" fill-opacity="0.85"/>
<linearGradient id="g18" x1="547" x2="588" y1="0" y2="0" gradientUnits="userSpaceOnUse"><stop offset="0" stop-color="#fdc83a"/><stop offset="1" stop-color="#fcc73d"/></linearGradient>
<path d="M547,249.97 547.98,250.05 548.95,249.93 549.93,250.13 550.9,250.02 551.88,249.92 552.86,250.08 553.83,250.03 554.81,249.87 555.79,249.94 556.76,250.05 557.74,250.08 558.71,250.13 559.69,249.88 560.67,250.11 561.64,249.92 562.62,249.99 563.6,249.84 564.57,249.87 565.55,249.89 566.52,249.85 567.5,249.88 568.48,249.97 569.45,250.08 570.43,250.04 571.4,250.11 572.38,249.99 573.36,250.02 574.33,250.1 575.31,249.99 576.29,249.88 577.26,250.13 578.24,249.92 579.21,249.96 580.19,250.13 581.17,249.89 582.14,249.95 583.12,250.02 584.1,250.04 585.07,250.01 586.05,250.05 587.02,249.91 588,249.85 588,252 587.02,251.93 586.05,251.89 585.07,252.03 584.1,251.93 583.12,251.99 582.14,251.92 581.17,251.89 580.19,252.13 579.21,251.97 578.24,251.9 577.26,251.94 576.29,252.03 575.31,252.12 574.33,251.95 573.36,252.04 572.38,252.04 571.4,251.92 570.43,251.92 569.45,252.08 568.48,251.99 567.5,251.89 566.52,251.86 565.55,251.96 564.57,251.92 563.6,252.01 562.62,251.97 561.64,251.86 560.67,251.91 559.69,252.08 558.71,252.08 557.74,252.06 556.76,251.99 555.79,252.13 554.81,251.98 553.83,251.91 552.86,251.88 551.88,252.01 550.9,252.07 549.93,251.97 548.95,251.9 547.98,252.13 547,251.98Z" fill="url(#g18)" fill-opacity="0.9" stroke="url(#g18)" stroke-width="0.6" stroke-linejoin="round"/>
<circle cx="547" cy="250.98" r="1" fill="#fdc83a" />
<circle cx="588" cy="250.98" r="1" fill="#fcc73d" />
<circle cx="576.68" cy="250.69" r="0.8" fill="#ffcc33" fill-opacity="0.6"/>
<circle cx="580.9" cy="250.29" r="0.8" fill="#fac342" fill-opacity="0.6"/>
<circle cx="574.79" cy="251.33" r="0.8" fill="#fac243" fill-opacity="0.6"/>
<circle cx="554.37" cy="250.81" r="0.8" fill="#f8be49" fill-opacity="0.6"/>
<circle cx="550.69" cy="250.52" r="0.8" fill="#ffcc33" fill-opacity="0.6"/>
<circle cx="553.44" cy="250.34" r="0.8" fill="#ffcc33" fill-opacity="0.6"/>
<circle cx="584.75" cy="250.86" r="0.8" fill="#fbc441" fill-opacity="0.6"/>
<circle cx="567.97" cy="251.23" r="0.8" fill="#fbc540" fill-opacity="0.6"/>
<circle cx="562.82" cy="250.69" r="0.8" fill="#ffcc33" fill-opacity="0.6"/>
<circle cx="563.9" cy="250.16" r="0.8" fill="#ffcc33" fill-opacity="0.6"/>
<circle cx="587.26" cy="251.47" r="0.8" fill="#f5b94f" fill-opacity="0.6"/>
<circle cx="574.07" cy="251.16" r="0.8" fill="#f6ba4e" fill-opacity="0.6"/>
<circle cx="561.03" cy="251.24" r="0.8" fill="#fcc63d" fill-opacity="0.6"/>
<circle cx="551.36" cy="250.77" r="0.8" fill="#ffcc33" fill-opacity="0.6"/>
<circle cx="591" cy="250.98" r="0.95" fill="#fcc73d" fill-opacity="0.85"/>
<circle cx="594.3" cy="250.98" r="0.95" fill="#fcc73d" fill-opacity="0.85"/>
<circle cx="600" cy="250.98" r="0.95" fill="#6600cc" fill-opacity="0.85"/>
<linearGradient id="g19" x1="607" x2="640.3" y1="0" y2="0" gradientUnits="userSpaceOnUse"><stop offset="0" stop-color="#e69f6b"/><stop offset="0.39" stop-color="#e9a466"/><stop offset="1" stop-color="#e19673"/></linearGradient>
<path d="M607,249.88 607.98,250.07 608.96,249.82 609.94,249.93 610.92,249.92 611.9,249.59 612.88,249.58 613.86,249.64 614.84,249.42 615.81,249.49 616.79,249.27 617.77,249.29 618.75,249.24 619.73,249.29 620.71,249.29 621.69,249.18 622.67,249.2 623.65,249.12 624.63,249.18 625.61,249.43 626.59,249.43 627.57,249.5 628.55,249.38 629.53,249.53 630.51,249.74 631.49,249.52 632.46,249.67 633.44,249.72 634.42,249.86 635.4,249.78 636.38,250 637.36,250.05 638.34,249.94 639.32,249.97 640.3,249.96 640.3,251.93 639.32,251.91 638.34,251.9 637.36,251.99 636.38,252.04 635.4,251.94 634.42,252.16 633.44,252.26 632.46,252.18 631.49,252.43 630.51,252.26 629.53,252.29 628.55,252.38 627.57,252.56 626.59,252.71 625.61,252.74 624.63,252.71 623.65,252.87 622.67,252.68 621.69,252.78 620.71,252.9 619.73,252.92 618.75,252.75 617.77,252.85 616.79,252.72 615.81,252.52 614.84,252.42 613.86,252.55 612.88,252.42 611.9,252.23 610.92,252.21 609.94,252.08 608.96,252.04 607.98,252.07 607,252.01Z" fill="url(#g19)" fill-opacity="0.9" stroke="url(#g19)" stroke-width="0.6" stroke-linejoin="round"/>
<circle cx="607" cy="250.98" r="1" fill="#e69f6b" />
<circle cx="640.3" cy="250.98" r="1" fill="#e19673" />
<circle cx="628.37" cy="249.79" r="0.8" fill="#e7a06a" fill-opacity="0.6"/>
<circle cx="629.34" cy="250.1" r="0.8" fill="#d98b7c" fill-opacity="0.6"/>
<circle cx="622.65" cy="250.71" r="0.8" fill="#eba763" fill-opacity="0.6"/>
<circle cx="627.77" cy="251.48" r="0.8" fill="#e59e6c" fill-opacity="0.6"/>
<circle cx="623.18" cy="252.45" r="0.8" fill="#f6ba4e" fill-opacity="0.6"/>
<circle cx="634.91" cy="251.66" r="0.8" fill="#eba764" fill-opacity="0.6"/>
<circle cx="625.85" cy="252.11" r="0.8" fill="#e29871" fill-opacity="0.6"/>
<circle cx="624.51" cy="251.05" r="0.8" fill="#f7bd4a" fill-opacity="0.6"/>
<circle cx="617.68" cy="249.66" r="0.8" fill="#e19672" fill-opacity="0.6"/>
<circle cx="631.16" cy="251.89" r="0.8" fill="#e69e6b" fill-opacity="0.6"/>
<circle cx="632.04" cy="250.55" r="0.8" fill="#f0af5b" fill-opacity="0.6"/>
<circle cx="630" cy="250.98" r="0.95" fill="#6600cc" fill-opacity="0.85"/>
<linearGradient id="g20" x1="529" x2="654.4" y1="0" y2="0" gradientUnits="userSpaceOnUse"><stop offset="0" stop-color="#c8728f"/><stop offset="0.29" stop-color="#c8728f"/><stop offset="0.53" stop-color="#db8d7a"/><stop offset="0.69" stop-color="#f1b159"/><stop offset="1" stop-color="#f7bd4a"/></linearGradient>
<path d="M529,256.63 530,256.77 530.99,256.66 531.99,256.79 532.98,256.65 533.98,256.71 534.97,256.73 535.97,256.53 536.96,256.6 537.96,256.67 538.95,256.73 539.95,256.62 540.94,256.76 541.94,256.74 542.93,256.49 543.93,256.7 544.92,256.67 545.92,256.5 546.91,256.64 547.91,256.58 548.9,256.74 549.9,256.66 550.9,256.46 551.89,256.6 552.89,256.65 553.88,256.46 554.88,256.48 555.87,256.58 556.87,256.46 557.86,256.66 558.86,256.66 559.85,256.7 560.85,256.5 561.84,256.44 562.84,256.5 563.83,256.5 564.83,256.58 565.82,256.64 566.82,256.5 567.81,256.65 568.81,256.5 569.8,256.59 570.8,256.43 571.8,256.62 572.79,256.4 573.79,256.59 574.78,256.64 575.78,256.52 576.77,256.49 577.77,256.46 578.76,256.55 579.76,256.59 580.75,256.38 581.75,256.51 582.74,256.53 583.74,256.28 584.73,256.43 585.73,256.44 586.72,256.4 587.72,256.38 588.71,256.43 589.71,256.29 590.7,256.37 591.7,256.31 592.7,256.23 593.69,256.28 594.69,256.33 595.68,256.38 596.68,256.27 597.67,256.44 598.67,256.44 599.66,256.36 600.66,256.33 601.65,256.34 602.65,256.46 603.64,256.5 604.64,256.38 605.63,256.43 606.63,256.49 607.62,256.34 608.62,256.27 609.61,256.47 610.61,256.5 611.6,256.32 612.6,256.43 613.6,256.48 614.59,256.46 615.59,256.46 616.58,256.26 617.58,256.49 618.57,256.41 619.57,256.23 620.56,256.38 621.56,256.23 622.55,256.4 623.55,256.53 624.54,256.28 625.54,256.44 626.53,256.44 627.53,256.57 628.52,256.36 629.52,256.53 630.51,256.45 631.51,256.48 632.5,256.52 633.5,256.35 634.5,256.65 635.49,256.47 636.49,256.58 637.48,256.43 638.48,256.44 639.47,256.6 640.47,256.61 641.46,256.67 642.46,256.69 643.45,256.71 644.45,256.7 645.44,256.68 646.44,256.48 647.43,256.53 648.43,256.68 649.42,256.59 650.42,256.72 651.41,256.75 652.41,256.69 653.4,256.59 654.4,256.7 654.4,258.36 653.4,258.39 652.41,258.59 651.41,258.39 650.42,258.32 649.42,258.43 648.43,258.35 647.43,258.39 646.44,258.54 645.44,258.48 644.45,258.5 643.45,258.42 642.46,258.54 641.46,258.49 640.47,258.63 639.47,258.66 638.48,258.55 637.48,258.6 636.49,258.65 635.49,258.47 634.5,258.58 633.5,258.66 632.5,258.59 631.51,258.78 630.51,258.58 629.52,258.6 628.52,258.75 627.53,258.84 626.53,258.57 625.54,258.65 624.54,258.61 623.55,258.65 622.55,258.81 621.56,258.63 620.56,258.82 619.57,258.61 618.57,258.67 617.58,258.73 616.58,258.84 615.59,258.82 614.59,258.69 613.6,258.86 612.6,258.79 611.6,258.77 610.61,258.7 609.61,258.7 608.62,258.68 607.62,258.77 606.63,258.88 605.63,258.85 604.64,258.74 603.64,258.76 602.65,258.66 601.65,258.87 600.66,258.82 599.66,258.62 598.67,258.78 597.67,258.76 596.68,258.85 595.68,258.84 594.69,258.68 593.69,258.66 592.7,258.66 591.7,258.76 590.7,258.85 589.71,258.75 588.71,258.78 587.72,258.77 586.72,258.62 585.73,258.84 584.73,258.78 583.74,258.55 582.74,258.8 581.75,258.69 580.75,258.59 579.76,258.59 578.76,258.73 577.77,258.57 576.77,258.49 575.78,258.62 574.78,258.75 573.79,258.64 572.79,258.64 571.8,258.52 570.8,258.6 569.8,258.62 568.81,258.65 567.81,258.48 566.82,258.47 565.82,258.5 564.83,258.43 563.83,258.69 562.84,258.45 561.84,258.67 560.85,258.5 559.85,258.44 558.86,258.67 557.86,258.59 556.87,258.7 555.87,258.45 554.88,258.5 553.88,258.45 552.89,258.66 551.89,258.44 550.9,258.67 549.9,258.52 548.9,258.64 547.91,258.38 546.91,258.47 545.92,258.6 544.92,258.37 543.93,258.44 542.93,258.34 541.94,258.5 540.94,258.57 539.95,258.6 538.95,258.55 537.96,258.57 536.96,258.58 535.97,258.61 534.97,258.34 533.98,258.43 532.98,258.38 531.99,258.52 530.99,258.43 530,258.44 529,258.33Z" fill="url(#g20)" fill-opacity="0.9" stroke="url(#g20)" stroke-width="0.6" stroke-linejoin="round"/>
<circle cx="529" cy="257.56" r="0.9" fill="#c8728f" />
<circle cx="654.4" cy="257.56" r="0.9" fill="#f7bd4a" />
<circle cx="646.45" cy="257.34" r="0.8" fill="#f5b950" fill-opacity="0.6"/>
<circle cx="642.75" cy="256.78" r="0.8" fill="#ffcc33" fill-opacity="0.6"/>
<circle cx="569.39" cy="257.36" r="0.8" fill="#b65c9f" fill-opacity="0.6"/>
<circle cx="569.79" cy="258.03" r="0.8" fill="#c06797" fill-opacity="0.6"/>
<circle cx="594.12" cy="256.65" r="0.8" fill="#df9375" fill-opacity="0.6"/>
<circle cx="534.12" cy="257.02" r="0.8" fill="#c36b94" fill-opacity="0.6"/>
<circle cx="603.66" cy="256.6" r="0.8" fill="#e8a169" fill-opacity="0.6"/>
<circle cx="597.22" cy="256.82" r="0.8" fill="#d38184" fill-opacity="0.6"/>
<circle cx="617.61" cy="257.07" r="0.8" fill="#f3b554" fill-opacity="0.6"/>
<circle cx="547.46" cy="257.08" r="0.8" fill="#d7877f" fill-opacity="0.6"/>
<circle cx="564.16" cy="257.92" r="0.8" fill="#d07e87" fill-opacity="0.6"/>
<circle cx="637.59" cy="257.09" r="0.8" fill="#f0b05a" fill-opacity="0.6"/>
<circle cx="565.63" cy="257.3" r="0.8" fill="#c87190" fill-opacity="0.6"/>
<circle cx="532.08" cy="257.76" r="0.8" fill="#c56e92" fill-opacity="0.6"/>
<circle cx="599.97" cy="258.19" r="0.8" fill="#d8887e" fill-opacity="0.6"/>
<circle cx="613.08" cy="258.41" r="0.8" fill="#f0af5b" fill-opacity="0.6"/>
<circle cx="556.11" cy="257.88" r="0.8" fill="#d58482" fill-opacity="0.6"/>
<circle cx="637.89" cy="257.1" r="0.8" fill="#ffcc33" fill-opacity="0.6"/>
<circle cx="608.32" cy="256.72" r="0.8" fill="#f1b159" fill-opacity="0.6"/>
<circle cx="536.54" cy="257.38" r="0.8" fill="#c36b94" fill-opacity="0.6"/>
<circle cx="570.15" cy="257.56" r="0.8" fill="#cc788b" fill-opacity="0.6"/>
<circle cx="579.47" cy="257.51" r="0.8" fill="#cb768c" fill-opacity="0.6"/>
<circle cx="549.91" cy="257.83" r="0.8" fill="#c87190" fill-opacity="0.6"/>
<circle cx="571.87" cy="257.42" r="0.8" fill="#c87190" fill-opacity="0.6"/>
<circle cx="547.91" cy="257.69" r="0.8" fill="#cc778b" fill-opacity="0.6"/>
<circle cx="616.8" cy="256.59" r="0.8" fill="#fac342" fill-opacity="0.6"/>
<circle cx="578.08" cy="257.31" r="0.8" fill="#c67091" fill-opacity="0.6"/>
<circle cx="535.85" cy="257.55" r="0.8" fill="#c46c93" fill-opacity="0.6"/>
<circle cx="602.47" cy="257.5" r="0.8" fill="#e69e6c" fill-opacity="0.6"/>
<circle cx="531.95" cy="257.33" r="0.8" fill="#c06896" fill-opacity="0.6"/>
<circle cx="640.83" cy="257.67" r="0.8" fill="#f6bb4d" fill-opacity="0.6"/>
<circle cx="552.32" cy="257.51" r="0.8" fill="#b75c9e" fill-opacity="0.6"/>
<circle cx="606.15" cy="258.49" r="0.8" fill="#eeac5e" fill-opacity="0.6"/>
<circle cx="647.17" cy="257.99" r="0.8" fill="#eead5d" fill-opacity="0.6"/>
<circle cx="607.67" cy="257.81" r="0.8" fill="#f0b05a" fill-opacity="0.6"/>
<circle cx="563.63" cy="258.12" r="0.8" fill="#c26a95" fill-opacity="0.6"/>
<circle cx="639.32" cy="257.36" r="0.8" fill="#f3b554" fill-opacity="0.6"/>
<circle cx="546.04" cy="257.57" r="0.8" fill="#c9748e" fill-opacity="0.6"/>
<circle cx="567.7" cy="257.32" r="0.8" fill="#c46c94" fill-opacity="0.6"/>
<circle cx="553.13" cy="257.11" r="0.8" fill="#c9738e" fill-opacity="0.6"/>
<circle cx="614.29" cy="257.02" r="0.8" fill="#e59d6c" fill-opacity="0.6"/>
<circle cx="578.4" cy="257.08" r="0.8" fill="#d07d87" fill-opacity="0.6"/>
<circle cx="590.9" cy="257.86" r="0.8" fill="#e49c6e" fill-opacity="0.6"/>
<circle cx="535.5" cy="264.14" r="0.95" fill="#e19673" fill-opacity="0.85"/>
<circle cx="538" cy="264.14" r="0.95" fill="#e19673" fill-opacity="0.85"/>
<circle cx="541" cy="264.14" r="0.95" fill="#e19673" fill-opacity="0.85"/>
<linearGradient id="g21" x1="545" x2="642.9" y1="0" y2="0" gradientUnits="userSpaceOnUse"><stop offset="0" stop-color="#e69f6b"/><stop offset="0.36" stop-color="#f1b159"/><stop offset="0.66" stop-color="#f6ba4e"/><stop offset="1" stop-color="#fac342"/></linearGradient>
<path d="M545,263.22 546,263.1 547,263.28 548,263.29 549,263.18 549.99,263.09 550.99,263.33 551.99,263.22 552.99,263.25 553.99,263.13 554.99,263.28 555.99,263.25 556.99,263.18 557.99,263.31 558.99,263.29 559.98,263.28 560.98,263.07 561.98,263.25 562.98,263.02 563.98,263.2 564.98,263.03 565.98,263.04 566.98,263.04 567.98,263.14 568.98,262.98 569.97,263.06 570.97,263.01 571.97,262.97 572.97,263.17 573.97,263 574.97,263.14 575.97,263.02 576.97,262.9 577.97,262.99 578.97,263 579.96,262.91 580.96,263.17 581.96,263.15 582.96,263.09 583.96,262.87 584.96,263.06 585.96,262.98 586.96,263.01 587.96,262.87 588.96,263 589.95,262.88 590.95,262.75 591.95,262.81 592.95,262.75 593.95,262.91 594.95,262.66 595.95,262.77 596.95,262.79 597.95,262.69 598.94,262.65 599.94,262.75 600.94,262.68 601.94,262.76 602.94,262.49 603.94,262.72 604.94,262.58 605.94,262.65 606.94,262.56 607.94,262.45 608.93,262.67 609.93,262.49 610.93,262.61 611.93,262.44 612.93,262.57 613.93,262.5 614.93,262.72 615.93,262.71 616.93,262.66 617.93,262.69 618.92,262.81 619.92,262.55 620.92,262.71 621.92,262.66 622.92,262.8 623.92,262.71 624.92,262.69 625.92,262.74 626.92,262.84 627.92,262.82 628.91,262.95 629.91,263.04 630.91,262.99 631.91,263.1 632.91,263.14 633.91,263 634.91,263.26 635.91,263.09 636.91,263.11 637.91,263.15 638.9,263.33 639.9,263.27 640.9,263.38 641.9,263.27 642.9,263.23 642.9,265.18 641.9,264.99 640.9,265.05 639.9,265.03 638.9,264.96 637.91,264.98 636.91,265.11 635.91,265.03 634.91,265.09 633.91,265.11 632.91,265.12 631.91,265.26 630.91,265.34 629.91,265.24 628.91,265.23 627.92,265.2 626.92,265.3 625.92,265.38 624.92,265.32 623.92,265.55 622.92,265.6 621.92,265.61 620.92,265.66 619.92,265.45 618.92,265.53 617.93,265.65 616.93,265.74 615.93,265.56 614.93,265.6 613.93,265.62 612.93,265.83 611.93,265.88 610.93,265.87 609.93,265.78 608.93,265.75 607.94,265.7 606.94,265.7 605.94,265.83 604.94,265.85 603.94,265.6 602.94,265.62 601.94,265.53 600.94,265.56 599.94,265.61 598.94,265.52 597.95,265.46 596.95,265.4 595.95,265.4 594.95,265.41 593.95,265.34 592.95,265.33 591.95,265.43 590.95,265.35 589.95,265.44 588.96,265.31 587.96,265.42 586.96,265.25 585.96,265.28 584.96,265.13 583.96,265.15 582.96,265.32 581.96,265.11 580.96,265.31 579.96,265.39 578.97,265.21 577.97,265.21 576.97,265.13 575.97,265.37 574.97,265.08 573.97,265.15 572.97,265.18 571.97,265.31 570.97,265.25 569.97,265.18 568.98,265.29 567.98,265.26 566.98,265.13 565.98,265.1 564.98,265.13 563.98,265.16 562.98,265.01 561.98,265.25 560.98,265.12 559.98,265.1 558.99,265.17 557.99,264.97 556.99,264.98 555.99,264.99 554.99,265 553.99,265.08 552.99,265 551.99,265.08 550.99,265.09 549.99,265.15 549,265.1 548,265.11 547,265.16 546,264.99 545,265.14Z" fill="url(#g21)" fill-opacity="0.9" stroke="url(#g21)" stroke-width="0.6" stroke-linejoin="round"/>
<circle cx="545" cy="264.14" r="0.9" fill="#e69f6b" />
<circle cx="642.9" cy="264.14" r="0.9" fill="#fac342" />
<circle cx="565.04" cy="264.8" r="0.8" fill="#f0af5b" fill-opacity="0.6"/>
<circle cx="576.42" cy="264.61" r="0.8" fill="#db8e7a" fill-opacity="0.6"/>
<circle cx="587.11" cy="265.06" r="0.8" fill="#e29871" fill-opacity="0.6"/>
<circle cx="566.5" cy="263.98" r="0.8" fill="#eeac5e" fill-opacity="0.6"/>
<circle cx="571.76" cy="264.46" r="0.8" fill="#f3b554" fill-opacity="0.6"/>
<circle cx="637.78" cy="263.86" r="0.8" fill="#f7bc4c" fill-opacity="0.6"/>
<circle cx="641.87" cy="263.6" r="0.8" fill="#f4b653" fill-opacity="0.6"/>
<circle cx="607.14" cy="263.81" r="0.8" fill="#f8bf48" fill-opacity="0.6"/>
<circle cx="605.33" cy="265.18" r="0.8" fill="#f9c046" fill-opacity="0.6"/>
<circle cx="628.84" cy="264.4" r="0.8" fill="#ffcc33" fill-opacity="0.6"/>
<circle cx="556.17" cy="264.68" r="0.8" fill="#eaa565" fill-opacity="0.6"/>
<circle cx="612.54" cy="264.01" r="0.8" fill="#fac243" fill-opacity="0.6"/>
<circle cx="582.66" cy="263.63" r="0.8" fill="#f8bf48" fill-opacity="0.6"/>
<circle cx="603.81" cy="264.33" r="0.8" fill="#f7bc4c" fill-opacity="0.6"/>
<circle cx="606.42" cy="264" r="0.8" fill="#f5b94f" fill-opacity="0.6"/>
<circle cx="603.09" cy="264.39" r="0.8" fill="#f0b059" fill-opacity="0.6"/>
<circle cx="590.88" cy="265.18" r="0.8" fill="#f4b851" fill-opacity="0.6"/>
<circle cx="617.25" cy="263.66" r="0.8" fill="#f9bf47" fill-opacity="0.6"/>
<circle cx="584.37" cy="264.84" r="0.8" fill="#ffcc33" fill-opacity="0.6"/>
<circle cx="557.4" cy="264.94" r="0.8" fill="#f0b05a" fill-opacity="0.6"/>
<circle cx="627.26" cy="264.45" r="0.8" fill="#f8be49" fill-opacity="0.6"/>
<circle cx="636.8" cy="264.68" r="0.8" fill="#f7bc4c" fill-opacity="0.6"/>
<circle cx="642.28" cy="263.47" r="0.8" fill="#ffcc33" fill-opacity="0.6"/>
<circle cx="630.18" cy="264.55" r="0.8" fill="#f9bf47" fill-opacity="0.6"/>
<circle cx="589.45" cy="264.21" r="0.8" fill="#e39a70" fill-opacity="0.6"/>
<circle cx="629.74" cy="263.55" r="0.8" fill="#fac342" fill-opacity="0.6"/>
<circle cx="552.2" cy="264.23" r="0.8" fill="#dc8e79" fill-opacity="0.6"/>
<circle cx="622.06" cy="264.12" r="0.8" fill="#f7bc4c" fill-opacity="0.6"/>
<circle cx="628.71" cy="264.68" r="0.8" fill="#eaa565" fill-opacity="0.6"/>
<circle cx="598.77" cy="265.14" r="0.8" fill="#f2b455" fill-opacity="0.6"/>
<circle cx="580.82" cy="263.39" r="0.8" fill="#f5b950" fill-opacity="0.6"/>
<circle cx="548.6" cy="263.9" r="0.8" fill="#dc8f79" fill-opacity="0.6"/>
<circle cx="556.49" cy="263.63" r="0.8" fill="#f5b94f" fill-opacity="0.6"/>
<circle cx="583.05" cy="264.8" r="0.8" fill="#fdc939" fill-opacity="0.6"/>
<circle cx="565" cy="264.14" r="0.95" fill="#6600cc" fill-opacity="0.85"/>
<linearGradient id="g22" x1="562.4" x2="596.9" y1="0" y2="0" gradientUnits="userSpaceOnUse"><stop offset="0" stop-color="#fdc83a"/><stop offset="1" stop-color="#fac342"/></linearGradient>
<path d="M562.4,269.85 563.39,269.81 564.37,269.61 565.36,269.81 566.34,269.74 567.33,269.76 568.31,269.67 569.3,269.68 570.29,269.8 571.27,269.65 572.26,269.81 573.24,269.57 574.23,269.74 575.21,269.54 576.2,269.61 577.19,269.74 578.17,269.78 579.16,269.69 580.14,269.7 581.13,269.66 582.11,269.7 583.1,269.73 584.09,269.71 585.07,269.71 586.06,269.59 587.04,269.51 588.03,269.56 589.01,269.65 590,269.65 590.99,269.64 591.97,269.69 592.96,269.57 593.94,269.65 594.93,269.5 595.91,269.64 596.9,269.52 596.9,271.93 595.91,271.77 594.93,271.74 593.94,271.71 592.96,271.74 591.97,271.87 590.99,271.95 590,271.74 589.01,271.68 588.03,271.83 587.04,271.77 586.06,271.78 585.07,271.9 584.09,271.9 583.1,271.81 582.11,271.84 581.13,271.91 580.14,271.76 579.16,271.86 578.17,271.8 577.19,271.73 576.2,271.71 575.21,271.81 574.23,271.66 573.24,271.78 572.26,271.62 571.27,271.73 570.29,271.62 569.3,271.79 568.31,271.66 567.33,271.67 566.34,271.58 565.36,271.77 564.37,271.79 563.39,271.76 562.4,271.87Z" fill="url(#g22)" fill-opacity="0.9" stroke="url(#g22)" stroke-width="0.6" stroke-linejoin="round"/>
<circle cx="562.4" cy="270.72" r="1" fill="#fdc83a" />
<circle cx="596.9" cy="270.72" r="1.1" fill="#fac342" />
<circle cx="582.78" cy="270.8" r="0.8" fill="#ffcc33" fill-opacity="0.6"/>
<circle cx="565.83" cy="271.4" r="0.8" fill="#f7bc4c" fill-opacity="0.6"/>
<circle cx="575.32" cy="271.11" r="0.8" fill="#f8bf48" fill-opacity="0.6"/>
<circle cx="585.49" cy="270.43" r="0.8" fill="#eca862" fill-opacity="0.6"/>
<circle cx="563.2" cy="270.95" r="0.8" fill="#ffcc33" fill-opacity="0.6"/>
<circle cx="578.59" cy="270.47" r="0.8" fill="#ffcc33" fill-opacity="0.6"/>
<circle cx="585.54" cy="270.91" r="0.8" fill="#fac244" fill-opacity="0.6"/>
<circle cx="595.88" cy="271.61" r="0.8" fill="#f3b555" fill-opacity="0.6"/>
<circle cx="590.99" cy="271" r="0.8" fill="#fbc540" fill-opacity="0.6"/>
<circle cx="586.59" cy="271.63" r="0.8" fill="#f3b653" fill-opacity="0.6"/>
<circle cx="576.24" cy="270.99" r="0.8" fill="#f9c047" fill-opacity="0.6"/>
<circle cx="569.92" cy="271.56" r="0.8" fill="#fbc441" fill-opacity="0.6"/>
<linearGradient id="g23" x1="608.4" x2="655.6" y1="0" y2="0" gradientUnits="userSpaceOnUse"><stop offset="0" stop-color="#c8728f"/><stop offset="0.46" stop-color="#ba609c"/><stop offset="1" stop-color="#c16996"/></linearGradient>
<path d="M608.4,269.83 609.38,269.65 610.37,269.82 611.35,269.67 612.33,269.78 613.32,269.63 614.3,269.8 615.28,269.82 616.27,269.53 617.25,269.79 618.23,269.62 619.22,269.74 620.2,269.67 621.18,269.7 622.17,269.69 623.15,269.56 624.13,269.47 625.12,269.57 626.1,269.62 627.08,269.51 628.07,269.42 629.05,269.42 630.03,269.38 631.02,269.55 632,269.42 632.98,269.56 633.97,269.64 634.95,269.48 635.93,269.66 636.92,269.71 637.9,269.64 638.88,269.56 639.87,269.75 640.85,269.76 641.83,269.77 642.82,269.72 643.8,269.64 644.78,269.57 645.77,269.72 646.75,269.77 647.73,269.68 648.72,269.81 649.7,269.79 650.68,269.81 651.67,269.94 652.65,269.94 653.63,269.8 654.62,269.9 655.6,269.86 655.6,271.56 654.62,271.5 653.63,271.59 652.65,271.64 651.67,271.74 650.68,271.63 649.7,271.62 648.72,271.65 647.73,271.61 646.75,271.64 645.77,271.84 644.78,271.75 643.8,271.87 642.82,271.77 641.83,271.91 640.85,271.73 639.87,271.8 638.88,271.94 637.9,271.99 636.92,271.75 635.93,271.89 634.95,271.96 633.97,272 632.98,271.76 632,272.05 631.02,271.95 630.03,271.93 629.05,271.82 628.07,271.8 627.08,271.9 626.1,271.89 625.12,271.76 624.13,271.81 623.15,271.81 622.17,271.74 621.18,271.87 620.2,271.84 619.22,271.91 618.23,271.82 617.25,271.75 616.27,271.9 615.28,271.87 614.3,271.75 613.32,271.83 612.33,271.83 611.35,271.8 610.37,271.77 609.38,271.6 608.4,271.69Z" fill="url(#g23)" fill-opacity="0.9" stroke="url(#g23)" stroke-width="0.6" stroke-linejoin="round"/>
<circle cx="608.4" cy="270.72" r="1" fill="#c8728f" />
<circle cx="655.6" cy="270.72" r="0.9" fill="#c16996" />
<circle cx="631.25" cy="270.17" r="0.8" fill="#ae52a5" fill-opacity="0.6"/>
<circle cx="643.77" cy="270.7" r="0.8" fill="#b155a3" fill-opacity="0.6"/>
<circle cx="654.01" cy="269.96" r="0.8" fill="#c06797" fill-opacity="0.6"/>
<circle cx="636.41" cy="271.63" r="0.8" fill="#c66f91" fill-opacity="0.6"/>
<circle cx="625.81" cy="270.32" r="0.8" fill="#b054a4" fill-opacity="0.6"/>
<circle cx="637.15" cy="270.89" r="0.8" fill="#c16996" fill-opacity="0.6"/>
<circle cx="632.76" cy="271.23" r="0.8" fill="#ad51a6" fill-opacity="0.6"/>
<circle cx="610.9" cy="270.02" r="0.8" fill="#c67091" fill-opacity="0.6"/>
<circle cx="645.95" cy="270.59" r="0.8" fill="#b55aa0" fill-opacity="0.6"/>
<circle cx="648.99" cy="270.56" r="0.8" fill="#c36b94" fill-opacity="0.6"/>
<circle cx="612.43" cy="271.56" r="0.8" fill="#b459a1" fill-opacity="0.6"/>
<circle cx="647.65" cy="270.44" r="0.8" fill="#c77190" fill-opacity="0.6"/>
<circle cx="645.61" cy="270.96" r="0.8" fill="#a94ca9" fill-opacity="0.6"/>
<circle cx="611.08" cy="271.17" r="0.8" fill="#b75c9f" fill-opacity="0.6"/>
<circle cx="634.46" cy="271.58" r="0.8" fill="#b65b9f" fill-opacity="0.6"/>
<circle cx="638.55" cy="269.81" r="0.8" fill="#a94ca9" fill-opacity="0.6"/>
<circle cx="553.4" cy="277.3" r="0.95" fill="#e19673" fill-opacity="0.85"/>
<circle cx="558.5" cy="277.3" r="0.95" fill="#6600cc" fill-opacity="0.85"/>
<linearGradient id="g24" x1="561" x2="641.6" y1="0" y2="0" gradientUnits="userSpaceOnUse"><stop offset="0" stop-color="#d58482"/><stop offset="0.43" stop-color="#e19673"/><stop offset="0.61" stop-color="#fac342"/><stop offset="1" stop-color="#fcc73d"/></linearGradient>
<path d="M561,276.28 562,276.23 562.99,276.25 563.99,276.17 564.98,276.21 565.98,276.22 566.97,276.31 567.97,276.41 568.96,276.22 569.96,276.4 570.95,276.23 571.95,276.39 572.94,276.33 573.94,276.25 574.93,276.35 575.93,276.25 576.92,276.37 577.92,276.26 578.91,276.27 579.91,276.19 580.9,276.24 581.9,276.27 582.89,276.35 583.89,276.33 584.88,276.31 585.88,276.32 586.87,276.19 587.87,276.25 588.86,276.11 589.86,276.18 590.85,276.06 591.85,276.14 592.84,276.27 593.84,276.18 594.83,276.33 595.83,276.24 596.82,276.22 597.82,276.18 598.81,276.07 599.81,276.19 600.8,276.1 601.8,276.22 602.79,276.29 603.79,276.12 604.78,276.18 605.78,275.99 606.77,276.02 607.77,276.02 608.76,276.19 609.76,276.07 610.75,276.02 611.75,275.98 612.74,276.05 613.74,275.97 614.73,276.18 615.73,276.06 616.72,276.21 617.72,276.13 618.71,276.21 619.71,276.28 620.7,276.25 621.7,276.26 622.69,276.09 623.69,276.11 624.68,276.2 625.68,276.18 626.67,276.22 627.67,276.2 628.66,276.43 629.66,276.35 630.65,276.4 631.65,276.37 632.64,276.21 633.64,276.34 634.63,276.45 635.63,276.49 636.62,276.33 637.62,276.27 638.61,276.37 639.61,276.25 640.6,276.29 641.6,276.35 641.6,278.07 640.6,278.07 639.61,278.15 638.61,278.09 637.62,278.09 636.62,278.09 635.63,278.36 634.63,278.37 633.64,278.2 632.64,278.26 631.65,278.34 630.65,278.27 629.66,278.38 628.66,278.44 627.67,278.25 626.67,278.46 625.68,278.36 624.68,278.38 623.69,278.49 622.69,278.29 621.7,278.41 620.7,278.36 619.71,278.43 618.71,278.37 617.72,278.38 616.72,278.32 615.73,278.41 614.73,278.59 613.74,278.56 612.74,278.45 611.75,278.62 610.75,278.52 609.76,278.39 608.76,278.51 607.77,278.41 606.77,278.37 605.78,278.56 604.78,278.36 603.79,278.47 602.79,278.51 601.8,278.54 600.8,278.31 599.81,278.34 598.81,278.4 597.82,278.55 596.82,278.44 595.83,278.46 594.83,278.5 593.84,278.33 592.84,278.47 591.85,278.32 590.85,278.34 589.86,278.39 588.86,278.35 587.87,278.41 586.87,278.39 585.88,278.34 584.88,278.33 583.89,278.4 582.89,278.44 581.9,278.45 580.9,278.42 579.91,278.48 578.91,278.32 577.92,278.21 576.92,278.46 575.93,278.44 574.93,278.31 573.94,278.46 572.94,278.46 571.95,278.21 570.95,278.33 569.96,278.42 568.96,278.18 567.97,278.26 566.97,278.29 565.98,278.27 564.98,278.29 563.99,278.17 562.99,278.45 562,278.28 561,278.15Z" fill="url(#g24)" fill-opacity="0.9" stroke="url(#g24)" stroke-width="0.6" stroke-linejoin="round"/>
<circle cx="561" cy="277.3" r="1" fill="#d58482" />
<circle cx="641.6" cy="277.3" r="0.9" fill="#fcc73d" />
<circle cx="563.39" cy="277.42" r="0.8" fill="#dc8f79" fill-opacity="0.6"/>
<circle cx="640.21" cy="277.58" r="0.8" fill="#f4b752" fill-opacity="0.6"/>
<circle cx="603.01" cy="276.47" r="0.8" fill="#f9c046" fill-opacity="0.6"/>
<circle cx="603.48" cy="276.68" r="0.8" fill="#f6bb4d" fill-opacity="0.6"/>
<circle cx="601.22" cy="276.72" r="0.8" fill="#eca961" fill-opacity="0.6"/>
<circle cx="617.83" cy="277.14" r="0.8" fill="#feca37" fill-opacity="0.6"/>
<circle cx="600.25" cy="277.41" r="0.8" fill="#e9a367" fill-opacity="0.6"/>
<circle cx="639.39" cy="277.39" r="0.8" fill="#f8be49" fill-opacity="0.6"/>
<circle cx="588.05" cy="277.67" r="0.8" fill="#d8897e" fill-opacity="0.6"/>
<circle cx="636.67" cy="278.04" r="0.8" fill="#eba763" fill-opacity="0.6"/>
<circle cx="630.21" cy="278.03" r="0.8" fill="#ffcc33" fill-opacity="0.6"/>
<circle cx="562.63" cy="277.28" r="0.8" fill="#e19772" fill-opacity="0.6"/>
<circle cx="610.39" cy="277.53" r="0.8" fill="#ffcc33" fill-opacity="0.6"/>
<circle cx="636.22" cy="276.65" r="0.8" fill="#ffcc33" fill-opacity="0.6"/>
<circle cx="563.57" cy="276.64" r="0.8" fill="#d98a7d" fill-opacity="0.6"/>
<circle cx="631.05" cy="278.06" r="0.8" fill="#fac244" fill-opacity="0.6"/>
<circle cx="627.88" cy="277.63" r="0.8" fill="#fbc440" fill-opacity="0.6"/>
<circle cx="602.89" cy="277.46" r="0.8" fill="#edab5f" fill-opacity="0.6"/>
<circle cx="561.05" cy="276.57" r="0.8" fill="#e69e6c" fill-opacity="0.6"/>
<circle cx="625.01" cy="278.16" r="0.8" fill="#f7bd4a" fill-opacity="0.6"/>
<circle cx="588.04" cy="277.02" r="0.8" fill="#e69e6b" fill-opacity="0.6"/>
<circle cx="562.21" cy="277.76" r="0.8" fill="#d68680" fill-opacity="0.6"/>
<circle cx="603.4" cy="276.98" r="0.8" fill="#e39a6f" fill-opacity="0.6"/>
<circle cx="615.4" cy="277.21" r="0.8" fill="#f9c146" fill-opacity="0.6"/>
<circle cx="575.16" cy="276.68" r="0.8" fill="#c56d92" fill-opacity="0.6"/>
<circle cx="581.43" cy="277.26" r="0.8" fill="#da8c7c" fill-opacity="0.6"/>
<circle cx="580.2" cy="277.58" r="0.8" fill="#e39a6f" fill-opacity="0.6"/>
<circle cx="581.98" cy="277.34" r="0.8" fill="#dd9078" fill-opacity="0.6"/>
<linearGradient id="g25" x1="548.3" x2="632.6" y1="0" y2="0" gradientUnits="userSpaceOnUse"><stop offset="0" stop-color="#fdc83a"/><stop offset="0.57" stop-color="#fcc73d"/><stop offset="0.67" stop-color="#f1b159"/><stop offset="1" stop-color="#eba862"/></linearGradient>
<path d="M548.3,282.97 549.29,282.94 550.28,282.81 551.28,282.79 552.27,283 553.26,282.95 554.25,282.9 555.24,282.91 556.23,282.75 557.23,282.91 558.22,282.78 559.21,282.92 560.2,282.9 561.19,282.84 562.18,282.87 563.18,283 564.17,282.89 565.16,282.73 566.15,282.94 567.14,282.71 568.14,282.89 569.13,282.95 570.12,282.7 571.11,282.94 572.1,282.72 573.09,282.69 574.09,282.86 575.08,282.89 576.07,282.95 577.06,282.86 578.05,282.87 579.04,282.92 580.04,282.79 581.03,282.72 582.02,282.67 583.01,282.88 584,282.85 585,282.67 585.99,282.89 586.98,282.77 587.97,282.7 588.96,282.8 589.95,282.68 590.95,282.88 591.94,282.64 592.93,282.7 593.92,282.91 594.91,282.88 595.9,282.87 596.9,282.85 597.89,282.72 598.88,282.65 599.87,282.69 600.86,282.58 601.86,282.31 602.85,282.27 603.84,282.26 604.83,282.07 605.82,282.21 606.81,282.2 607.81,282.07 608.8,282.08 609.79,282.12 610.78,282.25 611.77,282.34 612.76,282.24 613.76,282.31 614.75,282.24 615.74,282.53 616.73,282.49 617.72,282.49 618.72,282.52 619.71,282.72 620.7,282.67 621.69,282.6 622.68,282.8 623.67,282.72 624.67,282.61 625.66,282.79 626.65,282.71 627.64,282.73 628.63,282.92 629.62,282.86 630.62,282.85 631.61,282.88 632.6,282.94 632.6,284.98 631.61,284.88 630.62,285.02 629.62,284.88 628.63,285.04 627.64,285.02 626.65,284.88 625.66,284.86 624.67,284.95 623.67,285.09 622.68,285.08 621.69,285.11 620.7,285.18 619.71,285.19 618.72,285.2 617.72,285.4 616.73,285.33 615.74,285.41 614.75,285.32 613.76,285.32 612.76,285.37 611.77,285.38 610.78,285.65 609.79,285.43 608.8,285.65 607.81,285.48 606.81,285.52 605.82,285.59 604.83,285.6 603.84,285.51 602.85,285.54 601.86,285.38 600.86,285.25 599.87,285.16 598.88,285.02 597.89,285.09 596.9,285.08 595.9,284.84 594.91,285.05 593.92,284.88 592.93,284.95 591.94,284.84 590.95,285.11 589.95,284.97 588.96,285.01 587.97,285.11 586.98,284.91 585.99,284.92 585,284.97 584,285.04 583.01,284.84 582.02,284.83 581.03,284.97 580.04,284.98 579.04,284.96 578.05,284.85 577.06,284.81 576.07,284.85 575.08,285.07 574.09,284.82 573.09,284.92 572.1,285 571.11,284.98 570.12,284.83 569.13,284.98 568.14,285.05 567.14,285.04 566.15,285.02 565.16,284.8 564.17,284.77 563.18,284.9 562.18,284.99 561.19,284.97 560.2,284.83 559.21,284.98 558.22,284.97 557.23,284.78 556.23,285.03 555.24,284.84 554.25,285.03 553.26,284.8 552.27,284.96 551.28,284.89 550.28,284.93 549.29,284.83 548.3,284.8Z" fill="url(#g25)" fill-opacity="0.9" stroke="url(#g25)" stroke-width="0.6" stroke-linejoin="round"/>
<circle cx="548.3" cy="283.88" r="1" fill="#fdc83a" />
<circle cx="632.6" cy="283.88" r="1" fill="#eba862" />
<circle cx="590.7" cy="283.59" r="0.8" fill="#eca961" fill-opacity="0.6"/>
<circle cx="564.86" cy="283.38" r="0.8" fill="#f6bb4d" fill-opacity="0.6"/>
<circle cx="630.8" cy="284.59" r="0.8" fill="#f8bf48" fill-opacity="0.6"/>
<circle cx="606.06" cy="284.74" r="0.8" fill="#f4b752" fill-opacity="0.6"/>
<circle cx="615.85" cy="283.07" r="0.8" fill="#fcc73c" fill-opacity="0.6"/>
<circle cx="616.98" cy="283.4" r="0.8" fill="#eeac5e" fill-opacity="0.6"/>
<circle cx="550.23" cy="283.9" r="0.8" fill="#eba862" fill-opacity="0.6"/>
<circle cx="577.23" cy="284.41" r="0.8" fill="#ffcc33" fill-opacity="0.6"/>
<circle cx="626.91" cy="284.14" r="0.8" fill="#f8be49" fill-opacity="0.6"/>
<circle cx="553.74" cy="284.17" r="0.8" fill="#eca862" fill-opacity="0.6"/>
<circle cx="621.76" cy="283.48" r="0.8" fill="#de9177" fill-opacity="0.6"/>
<circle cx="563.97" cy="284.22" r="0.8" fill="#fcc63e" fill-opacity="0.6"/>
<circle cx="600.81" cy="282.97" r="0.8" fill="#ffcc33" fill-opacity="0.6"/>
<circle cx="609.56" cy="282.64" r="0.8" fill="#e69f6b" fill-opacity="0.6"/>
<circle cx="614.51" cy="284.84" r="0.8" fill="#f9c046" fill-opacity="0.6"/>
<circle cx="596.28" cy="284.71" r="0.8" fill="#ffcc33" fill-opacity="0.6"/>
<circle cx="580.71" cy="283.61" r="0.8" fill="#ffcc33" fill-opacity="0.6"/>
<circle cx="550.23" cy="283.3" r="0.8" fill="#fcc53f" fill-opacity="0.6"/>
<circle cx="603.4" cy="284.65" r="0.8" fill="#f8bf48" fill-opacity="0.6"/>
<circle cx="606.84" cy="283.93" r="0.8" fill="#f3b554" fill-opacity="0.6"/>
<circle cx="564.09" cy="284.14" r="0.8" fill="#f7bd4a" fill-opacity="0.6"/>
<circle cx="606.15" cy="285.16" r="0.8" fill="#f9c146" fill-opacity="0.6"/>
<circle cx="625.14" cy="283.48" r="0.8" fill="#db8d7a" fill-opacity="0.6"/>
<circle cx="628.56" cy="284.09" r="0.8" fill="#dd9177" fill-opacity="0.6"/>
<circle cx="576.4" cy="283.48" r="0.8" fill="#ffcc33" fill-opacity="0.6"/>
<circle cx="592.35" cy="283.86" r="0.8" fill="#edaa60" fill-opacity="0.6"/>
<circle cx="593.44" cy="283.83" r="0.8" fill="#f9c046" fill-opacity="0.6"/>
<circle cx="611.07" cy="283.19" r="0.8" fill="#eca961" fill-opacity="0.6"/>
<circle cx="568.64" cy="283.58" r="0.8" fill="#f3b654" fill-opacity="0.6"/>
<circle cx="554.7" cy="290.46" r="0.95" fill="#fcc73d" fill-opacity="0.85"/>
<linearGradient id="g26" x1="558.5" x2="596.9" y1="0" y2="0" gradientUnits="userSpaceOnUse"><stop offset="0" stop-color="#fdc83a"/><stop offset="1" stop-color="#fac342"/></linearGradient>
<path d="M558.5,289.59 559.48,289.5 560.47,289.32 561.45,289.48 562.44,289.54 563.42,289.32 564.41,289.47 565.39,289.37 566.38,289.41 567.36,289.33 568.35,289.43 569.33,289.43 570.32,289.36 571.3,289.54 572.28,289.5 573.27,289.36 574.25,289.34 575.24,289.36 576.22,289.44 577.21,289.42 578.19,289.29 579.18,289.53 580.16,289.34 581.15,289.51 582.13,289.37 583.12,289.42 584.1,289.33 585.08,289.52 586.07,289.49 587.05,289.38 588.04,289.5 589.02,289.38 590.01,289.23 590.99,289.37 591.98,289.42 592.96,289.48 593.95,289.45 594.93,289.36 595.92,289.39 596.9,289.43 596.9,291.65 595.92,291.68 594.93,291.53 593.95,291.67 592.96,291.5 591.98,291.7 590.99,291.58 590.01,291.66 589.02,291.43 588.04,291.51 587.05,291.4 586.07,291.41 585.08,291.6 584.1,291.57 583.12,291.58 582.13,291.6 581.15,291.5 580.16,291.5 579.18,291.45 578.19,291.38 577.21,291.64 576.22,291.39 575.24,291.49 574.25,291.54 573.27,291.44 572.28,291.55 571.3,291.5 570.32,291.35 569.33,291.39 568.35,291.62 567.36,291.4 566.38,291.6 565.39,291.48 564.41,291.52 563.42,291.35 562.44,291.45 561.45,291.43 560.47,291.5 559.48,291.47 558.5,291.33Z" fill="url(#g26)" fill-opacity="0.9" stroke="url(#g26)" stroke-width="0.6" stroke-linejoin="round"/>
<circle cx="558.5" cy="290.46" r="1" fill="#fdc83a" />
<circle cx="596.9" cy="290.46" r="1.1" fill="#fac342" />
<circle cx="585.69" cy="290.37" r="0.8" fill="#ffcc33" fill-opacity="0.6"/>
<circle cx="575.9" cy="290.13" r="0.8" fill="#f6ba4e" fill-opacity="0.6"/>
<circle cx="582.46" cy="290.3" r="0.8" fill="#ffcc33" fill-opacity="0.6"/>
<circle cx="575.98" cy="290.41" r="0.8" fill="#efae5c" fill-opacity="0.6"/>
<circle cx="592.27" cy="290.38" r="0.8" fill="#ffcc33" fill-opacity="0.6"/>
<circle cx="595.99" cy="290.99" r="0.8" fill="#efad5d" fill-opacity="0.6"/>
<circle cx="573.92" cy="290.76" r="0.8" fill="#fcc73c" fill-opacity="0.6"/>
<circle cx="586.3" cy="291.29" r="0.8" fill="#ffcc33" fill-opacity="0.6"/>
<circle cx="583.68" cy="290.77" r="0.8" fill="#ffcc33" fill-opacity="0.6"/>
<circle cx="567.18" cy="290.93" r="0.8" fill="#f8bf48" fill-opacity="0.6"/>
<circle cx="579.2" cy="291.32" r="0.8" fill="#ffcc33" fill-opacity="0.6"/>
<circle cx="559.14" cy="290.32" r="0.8" fill="#f3b554" fill-opacity="0.6"/>
<circle cx="587.93" cy="290.02" r="0.8" fill="#ffcc33" fill-opacity="0.6"/>
<linearGradient id="g27" x1="600" x2="645.4" y1="0" y2="0" gradientUnits="userSpaceOnUse"><stop offset="0" stop-color="#e69f6b"/><stop offset="0.66" stop-color="#de9276"/><stop offset="1" stop-color="#d7877f"/></linearGradient>
<path d="M600,289.49 600.99,289.55 601.97,289.59 602.96,289.36 603.95,289.48 604.93,289.38 605.92,289.37 606.91,289.51 607.9,289.41 608.88,289.27 609.87,289.33 610.86,289.33 611.84,289.46 612.83,289.37 613.82,289.47 614.8,289.24 615.79,289.41 616.78,289.37 617.77,289.3 618.75,289.31 619.74,289.29 620.73,289.35 621.71,289.42 622.7,289.23 623.69,289.18 624.67,289.34 625.66,289.26 626.65,289.3 627.63,289.37 628.62,289.15 629.61,289.34 630.6,289.38 631.58,289.18 632.57,289.35 633.56,289.24 634.54,289.22 635.53,289.43 636.52,289.31 637.5,289.29 638.49,289.44 639.48,289.48 640.47,289.47 641.45,289.37 642.44,289.62 643.43,289.65 644.41,289.6 645.4,289.58 645.4,291.46 644.41,291.35 643.43,291.51 642.44,291.42 641.45,291.32 640.47,291.46 639.48,291.55 638.49,291.43 637.5,291.43 636.52,291.5 635.53,291.64 634.54,291.71 633.56,291.48 632.57,291.64 631.58,291.72 630.6,291.53 629.61,291.56 628.62,291.79 627.63,291.6 626.65,291.7 625.66,291.51 624.67,291.6 623.69,291.6 622.7,291.69 621.71,291.56 620.73,291.69 619.74,291.74 618.75,291.75 617.77,291.58 616.78,291.47 615.79,291.66 614.8,291.61 613.82,291.59 612.83,291.54 611.84,291.55 610.86,291.65 609.87,291.46 608.88,291.39 607.9,291.51 606.91,291.55 605.92,291.5 604.93,291.55 603.95,291.5 602.96,291.57 601.97,291.49 600.99,291.58 600,291.61Z" fill="url(#g27)" fill-opacity="0.9" stroke="url(#g27)" stroke-width="0.6" stroke-linejoin="round"/>
<circle cx="600" cy="290.46" r="1" fill="#e69f6b" />
<circle cx="645.4" cy="290.46" r="0.9" fill="#d7877f" />
<circle cx="641.56" cy="290.74" r="0.8" fill="#dd9177" fill-opacity="0.6"/>
<circle cx="607.78" cy="290.21" r="0.8" fill="#e69e6b" fill-opacity="0.6"/>
<circle cx="640.07" cy="291.08" r="0.8" fill="#e09574" fill-opacity="0.6"/>
<circle cx="610.28" cy="290.22" r="0.8" fill="#e29771" fill-opacity="0.6"/>
<circle cx="602.14" cy="290.79" r="0.8" fill="#d7877f" fill-opacity="0.6"/>
<circle cx="602.84" cy="291.04" r="0.8" fill="#f0b05a" fill-opacity="0.6"/>
<circle cx="604.32" cy="289.68" r="0.8" fill="#e8a268" fill-opacity="0.6"/>
<circle cx="616.03" cy="291.38" r="0.8" fill="#f0af5b" fill-opacity="0.6"/>
<circle cx="602.84" cy="289.78" r="0.8" fill="#efae5b" fill-opacity="0.6"/>
<circle cx="600.95" cy="290.8" r="0.8" fill="#e39970" fill-opacity="0.6"/>
<circle cx="630.28" cy="290.86" r="0.8" fill="#d7887f" fill-opacity="0.6"/>
<circle cx="614.64" cy="290.4" r="0.8" fill="#e59d6c" fill-opacity="0.6"/>
<circle cx="616.16" cy="290.2" r="0.8" fill="#d68680" fill-opacity="0.6"/>
<circle cx="611.3" cy="290.08" r="0.8" fill="#e39a6f" fill-opacity="0.6"/>
<circle cx="614.09" cy="290.63" r="0.8" fill="#e19672" fill-opacity="0.6"/>
<circle cx="649" cy="290.46" r="0.95" fill="#ce7b89" fill-opacity="0.85"/>
<circle cx="561" cy="297.04" r="0.95" fill="#fcc73d" fill-opacity="0.85"/>
<circle cx="565" cy="297.04" r="0.95" fill="#fcc73d" fill-opacity="0.85"/>
<linearGradient id="g28" x1="567.5" x2="595" y1="0" y2="0" gradientUnits="userSpaceOnUse"><stop offset="0" stop-color="#fcc73d"/><stop offset="1" stop-color="#fcc73d"/></linearGradient>
<path d="M567.5,296.11 568.48,295.94 569.46,296.03 570.45,295.92 571.43,295.99 572.41,295.97 573.39,296.04 574.38,296.01 575.36,295.99 576.34,295.91 577.32,296.07 578.3,296.03 579.29,295.87 580.27,296.02 581.25,295.83 582.23,295.87 583.21,295.84 584.2,295.94 585.18,295.78 586.16,295.76 587.14,296.01 588.12,295.73 589.11,295.86 590.09,295.75 591.07,295.7 592.05,295.7 593.04,295.95 594.02,295.8 595,295.82 595,298.37 594.02,298.12 593.04,298.2 592.05,298.09 591.07,298.1 590.09,298.23 589.11,298.16 588.12,298.22 587.14,298.13 586.16,298.29 585.18,298.33 584.2,298.19 583.21,298.15 582.23,298.21 581.25,298.24 580.27,298.04 579.29,298.15 578.3,297.97 577.32,297.95 576.34,298.2 575.36,298.09 574.38,298.06 573.39,298.03 572.41,298.06 571.43,298.1 570.45,298.12 569.46,297.99 568.48,298.03 567.5,297.92Z" fill="url(#g28)" fill-opacity="0.9" stroke="url(#g28)" stroke-width="0.6" stroke-linejoin="round"/>
<circle cx="567.5" cy="297.04" r="1" fill="#fcc73d" />
<circle cx="595" cy="297.04" r="1.2" fill="#fcc73d" />
<circle cx="579.48" cy="297.52" r="0.8" fill="#ffcc33" fill-opacity="0.6"/>
<circle cx="572.26" cy="296.98" r="0.8" fill="#ffcc33" fill-opacity="0.6"/>
<circle cx="592.26" cy="297.39" r="0.8" fill="#fbc342" fill-opacity="0.6"/>
<circle cx="582.45" cy="296.73" r="0.8" fill="#f4b752" fill-opacity="0.6"/>
<circle cx="583.39" cy="297.29" r="0.8" fill="#f7bc4b" fill-opacity="0.6"/>
<circle cx="585.56" cy="296.48" r="0.8" fill="#fcc53e" fill-opacity="0.6"/>
<circle cx="569.5" cy="297.49" r="0.8" fill="#ffcc33" fill-opacity="0.6"/>
<circle cx="582.87" cy="296.28" r="0.8" fill="#eba763" fill-opacity="0.6"/>
<circle cx="585.01" cy="296.58" r="0.8" fill="#f7bd4a" fill-opacity="0.6"/>
<circle cx="595.6" cy="297.04" r="0.95" fill="#6600cc" fill-opacity="0.85"/>
<linearGradient id="g29" x1="600" x2="622.4" y1="0" y2="0" gradientUnits="userSpaceOnUse"><stop offset="0" stop-color="#e69f6b"/><stop offset="0.45" stop-color="#e19673"/><stop offset="1" stop-color="#e39970"/></linearGradient>
<path d="M600,295.96 600.97,296.16 601.95,296.06 602.92,295.98 603.9,295.72 604.87,295.61 605.84,295.31 606.82,295.23 607.79,295.03 608.77,295.06 609.74,294.94 610.71,294.98 611.69,295.09 612.66,295.23 613.63,295.11 614.61,295.47 615.58,295.54 616.56,295.48 617.53,295.56 618.5,295.78 619.48,295.84 620.45,296.11 621.43,296.06 622.4,296.18 622.4,297.9 621.43,298.06 620.45,298.1 619.48,298.17 618.5,298.23 617.53,298.43 616.56,298.56 615.58,298.55 614.61,298.64 613.63,298.89 612.66,298.86 611.69,299.14 610.71,298.94 609.74,298.96 608.77,298.97 607.79,298.79 606.82,298.84 605.84,298.58 604.87,298.45 603.9,298.51 602.92,298.14 601.95,298.04 600.97,298.15 600,297.91Z" fill="url(#g29)" fill-opacity="0.9" stroke="url(#g29)" stroke-width="0.6" stroke-linejoin="round"/>
<circle cx="600" cy="297.04" r="1" fill="#e69f6b" />
<circle cx="622.4" cy="297.04" r="1" fill="#e39970" />
<circle cx="622.02" cy="296.82" r="0.8" fill="#efae5b" fill-opacity="0.6"/>
<circle cx="607.39" cy="295.94" r="0.8" fill="#f2b357" fill-opacity="0.6"/>
<circle cx="604.04" cy="297.04" r="0.8" fill="#eead5d" fill-opacity="0.6"/>
<circle cx="611.19" cy="297.93" r="0.8" fill="#e7a06a" fill-opacity="0.6"/>
<circle cx="604.25" cy="297.57" r="0.8" fill="#e69f6b" fill-opacity="0.6"/>
<circle cx="601.75" cy="297.71" r="0.8" fill="#e09474" fill-opacity="0.6"/>
<circle cx="610.48" cy="298.21" r="0.8" fill="#df9474" fill-opacity="0.6"/>
<circle cx="560.6" cy="303.62" r="0.95" fill="#fcc73d" fill-opacity="0.85"/>
<linearGradient id="g30" x1="566.2" x2="632.6" y1="0" y2="0" gradientUnits="userSpaceOnUse"><stop offset="0" stop-color="#fcc73d"/><stop offset="0.33" stop-color="#eba862"/><stop offset="0.48" stop-color="#e19673"/><stop offset="0.73" stop-color="#f1b159"/><stop offset="1" stop-color="#f6ba4e"/></linearGradient>
<path d="M566.2,302.58 567.19,302.54 568.18,302.75 569.17,302.72 570.16,302.75 571.16,302.49 572.15,302.73 573.14,302.49 574.13,302.47 575.12,302.7 576.11,302.67 577.1,302.66 578.09,302.66 579.08,302.55 580.07,302.65 581.07,302.54 582.06,302.54 583.05,302.5 584.04,302.58 585.03,302.41 586.02,302.55 587.01,302.39 588,302.55 588.99,302.56 589.99,302.39 590.98,302.56 591.97,302.41 592.96,302.41 593.95,302.55 594.94,302.34 595.93,302.55 596.92,302.35 597.91,302.46 598.9,302.28 599.9,302.39 600.89,302.26 601.88,302.36 602.87,302.51 603.86,302.37 604.85,302.3 605.84,302.34 606.83,302.42 607.82,302.45 608.81,302.24 609.81,302.41 610.8,302.28 611.79,302.22 612.78,302.31 613.77,302.47 614.76,302.47 615.75,302.39 616.74,302.29 617.73,302.28 618.73,302.37 619.72,302.28 620.71,302.44 621.7,302.48 622.69,302.41 623.68,302.46 624.67,302.47 625.66,302.67 626.65,302.72 627.64,302.67 628.64,302.6 629.63,302.64 630.62,302.84 631.61,302.86 632.6,302.62 632.6,304.58 631.61,304.51 630.62,304.41 629.63,304.69 628.64,304.59 627.64,304.5 626.65,304.48 625.66,304.69 624.67,304.83 623.68,304.62 622.69,304.75 621.7,304.74 620.71,304.77 619.72,304.98 618.73,304.94 617.73,304.82 616.74,304.78 615.75,305.07 614.76,304.87 613.77,304.77 612.78,304.87 611.79,304.82 610.8,304.81 609.81,304.86 608.81,305.04 607.82,304.87 606.83,304.91 605.84,304.8 604.85,304.72 603.86,304.74 602.87,304.81 601.88,304.97 600.89,304.93 599.9,304.94 598.9,304.94 597.91,304.85 596.92,304.93 595.93,304.95 594.94,304.88 593.95,304.75 592.96,304.9 591.97,304.84 590.98,304.68 589.99,304.59 588.99,304.78 588,304.78 587.01,304.61 586.02,304.73 585.03,304.74 584.04,304.56 583.05,304.62 582.06,304.56 581.07,304.66 580.07,304.71 579.08,304.65 578.09,304.58 577.1,304.71 576.11,304.55 575.12,304.59 574.13,304.51 573.14,304.67 572.15,304.5 571.16,304.6 570.16,304.49 569.17,304.52 568.18,304.72 567.19,304.69 566.2,304.69Z" fill="url(#g30)" fill-opacity="0.9" stroke="url(#g30)" stroke-width="0.6" stroke-linejoin="round"/>
<circle cx="566.2" cy="303.62" r="1" fill="#fcc73d" />
<circle cx="632.6" cy="303.62" r="0.9" fill="#f6ba4e" />
<circle cx="602.58" cy="304.36" r="0.8" fill="#e8a268" fill-opacity="0.6"/>
<circle cx="608.8" cy="302.6" r="0.8" fill="#e8a268" fill-opacity="0.6"/>
<circle cx="581.43" cy="302.76" r="0.8" fill="#efae5c" fill-opacity="0.6"/>
<circle cx="601.49" cy="302.85" r="0.8" fill="#e19772" fill-opacity="0.6"/>
<circle cx="606.27" cy="304.31" r="0.8" fill="#eba763" fill-opacity="0.6"/>
<circle cx="610.77" cy="304.12" r="0.8" fill="#e9a466" fill-opacity="0.6"/>
<circle cx="624.9" cy="303.72" r="0.8" fill="#ffcc33" fill-opacity="0.6"/>
<circle cx="611.17" cy="304.66" r="0.8" fill="#f5b950" fill-opacity="0.6"/>
<circle cx="585.26" cy="304.13" r="0.8" fill="#f4b752" fill-opacity="0.6"/>
<circle cx="566.91" cy="303.58" r="0.8" fill="#ffcc33" fill-opacity="0.6"/>
<circle cx="583.69" cy="303.81" r="0.8" fill="#f8bf48" fill-opacity="0.6"/>
<circle cx="570.1" cy="302.99" r="0.8" fill="#fac244" fill-opacity="0.6"/>
<circle cx="606.5" cy="304.01" r="0.8" fill="#d98a7d" fill-opacity="0.6"/>
<circle cx="585.46" cy="303.54" r="0.8" fill="#eead5d" fill-opacity="0.6"/>
<circle cx="599.78" cy="304.24" r="0.8" fill="#f1b257" fill-opacity="0.6"/>
<circle cx="598.33" cy="303.41" r="0.8" fill="#d48283" fill-opacity="0.6"/>
<circle cx="598.06" cy="303.33" r="0.8" fill="#de9177" fill-opacity="0.6"/>
<circle cx="592.74" cy="302.8" r="0.8" fill="#e69f6a" fill-opacity="0.6"/>
<circle cx="611.21" cy="302.85" r="0.8" fill="#e8a268" fill-opacity="0.6"/>
<circle cx="606.18" cy="304.18" r="0.8" fill="#e19772" fill-opacity="0.6"/>
<circle cx="595.71" cy="303.21" r="0.8" fill="#efae5c" fill-opacity="0.6"/>
<circle cx="580.36" cy="302.73" r="0.8" fill="#e59c6d" fill-opacity="0.6"/>
<circle cx="625.02" cy="303.59" r="0.8" fill="#f0b159" fill-opacity="0.6"/>
<circle cx="637" cy="303.62" r="0.95" fill="#f1b159" fill-opacity="0.85"/>
<circle cx="639" cy="303.62" r="0.95" fill="#f1b159" fill-opacity="0.85"/>
<linearGradient id="g31" x1="566.2" x2="642.9" y1="0" y2="0" gradientUnits="userSpaceOnUse"><stop offset="0" stop-color="#fcc73d"/><stop offset="0.44" stop-color="#fcc73d"/><stop offset="0.83" stop-color="#f6ba4e"/><stop offset="0.92" stop-color="#aa4da9"/><stop offset="1" stop-color="#8223c0"/></linearGradient>
<path d="M566.2,309.08 567.2,309.33 568.19,309.28 569.19,309.16 570.18,309.06 571.18,309.29 572.18,309.29 573.17,309.12 574.17,309.04 575.16,309.24 576.16,309.11 577.16,309.19 578.15,309.2 579.15,309.23 580.15,308.96 581.14,309.13 582.14,308.94 583.13,309.19 584.13,309.14 585.13,308.89 586.12,309.08 587.12,309.05 588.11,308.91 589.11,309.02 590.11,308.9 591.1,308.96 592.1,309.06 593.09,308.83 594.09,308.88 595.09,308.95 596.08,308.77 597.08,309.02 598.08,308.87 599.07,308.82 600.07,308.79 601.06,308.93 602.06,308.94 603.06,308.95 604.05,308.95 605.05,308.81 606.04,308.87 607.04,308.96 608.04,309.01 609.03,309.06 610.03,308.82 611.02,309 612.02,309.08 613.02,308.86 614.01,309.06 615.01,309.08 616.01,309.05 617,309.11 618,309.05 618.99,308.97 619.99,309.01 620.99,309.11 621.98,309.18 622.98,308.99 623.97,309.23 624.97,309.06 625.97,309.23 626.96,309.14 627.96,309.14 628.95,308.99 629.95,309.21 630.95,309.23 631.94,309.24 632.94,309.16 633.94,309.01 634.93,309.06 635.93,309.12 636.92,309.21 637.92,309.16 638.92,309.21 639.91,309.24 640.91,309.22 641.9,309.21 642.9,309.42 642.9,310.99 641.9,311.2 640.91,311.15 639.91,311.21 638.92,311.15 637.92,311.09 636.92,311.28 635.93,311.25 634.93,311.36 633.94,311.26 632.94,311.16 631.94,311.16 630.95,311.31 629.95,311.39 628.95,311.32 627.96,311.43 626.96,311.45 625.97,311.29 624.97,311.26 623.97,311.31 622.98,311.36 621.98,311.21 620.99,311.25 619.99,311.44 618.99,311.22 618,311.3 617,311.32 616.01,311.38 615.01,311.51 614.01,311.49 613.02,311.3 612.02,311.47 611.02,311.33 610.03,311.39 609.03,311.55 608.04,311.41 607.04,311.52 606.04,311.58 605.05,311.58 604.05,311.45 603.06,311.54 602.06,311.47 601.06,311.54 600.07,311.64 599.07,311.53 598.08,311.53 597.08,311.56 596.08,311.52 595.09,311.39 594.09,311.44 593.09,311.47 592.1,311.36 591.1,311.34 590.11,311.51 589.11,311.41 588.11,311.5 587.12,311.31 586.12,311.41 585.13,311.49 584.13,311.38 583.13,311.35 582.14,311.43 581.14,311.39 580.15,311.34 579.15,311.42 578.15,311.33 577.16,311.4 576.16,311.25 575.16,311.11 574.17,311.33 573.17,311.22 572.18,311.08 571.18,311.3 570.18,311.16 569.19,311.07 568.19,311.19 567.2,311.25 566.2,311.27Z" fill="url(#g31)" fill-opacity="0.9" stroke="url(#g31)" stroke-width="0.6" stroke-linejoin="round"/>
<circle cx="566.2" cy="310.2" r="1" fill="#fcc73d" />
<circle cx="642.9" cy="310.2" r="0.9" fill="#8223c0" />
<circle cx="569.82" cy="309.62" r="0.8" fill="#f9c145" fill-opacity="0.6"/>
<circle cx="639.75" cy="309.89" r="0.8" fill="#a84baa" fill-opacity="0.6"/>
<circle cx="609.49" cy="309.73" r="0.8" fill="#f7bc4b" fill-opacity="0.6"/>
<circle cx="625.92" cy="309.88" r="0.8" fill="#eead5d" fill-opacity="0.6"/>
<circle cx="566.29" cy="310.28" r="0.8" fill="#ffcc33" fill-opacity="0.6"/>
<circle cx="573.34" cy="310.87" r="0.8" fill="#f7bc4b" fill-opacity="0.6"/>
<circle cx="625.16" cy="310.37" r="0.8" fill="#f4b752" fill-opacity="0.6"/>
<circle cx="617.36" cy="310.03" r="0.8" fill="#fdc939" fill-opacity="0.6"/>
<circle cx="601.66" cy="309.66" r="0.8" fill="#fdc73c" fill-opacity="0.6"/>
<circle cx="618.01" cy="309.42" r="0.8" fill="#f5b950" fill-opacity="0.6"/>
<circle cx="607.07" cy="310.38" r="0.8" fill="#f7bc4b" fill-opacity="0.6"/>
<circle cx="566.43" cy="311.03" r="0.8" fill="#f8bf47" fill-opacity="0.6"/>
<circle cx="578.38" cy="310.8" r="0.8" fill="#ffcc33" fill-opacity="0.6"/>
<circle cx="641.13" cy="309.7" r="0.8" fill="#8e30ba" fill-opacity="0.6"/>
<circle cx="638.08" cy="309.71" r="0.8" fill="#bb629b" fill-opacity="0.6"/>
<circle cx="575.44" cy="309.6" r="0.8" fill="#fac342" fill-opacity="0.6"/>
<circle cx="635.99" cy="310.16" r="0.8" fill="#9b3db3" fill-opacity="0.6"/>
<circle cx="575.98" cy="309.93" r="0.8" fill="#fcc53e" fill-opacity="0.6"/>
<circle cx="621.42" cy="310.73" r="0.8" fill="#eca961" fill-opacity="0.6"/>
<circle cx="599.72" cy="310.1" r="0.8" fill="#ffcc33" fill-opacity="0.6"/>
<circle cx="601.11" cy="310.61" r="0.8" fill="#fbc342" fill-opacity="0.6"/>
<circle cx="620.76" cy="309.86" r="0.8" fill="#fbc53f" fill-opacity="0.6"/>
<circle cx="569.67" cy="310.01" r="0.8" fill="#feca37" fill-opacity="0.6"/>
<circle cx="593.76" cy="309.19" r="0.8" fill="#f5b94f" fill-opacity="0.6"/>
<circle cx="638.47" cy="310.77" r="0.8" fill="#993bb3" fill-opacity="0.6"/>
<circle cx="568.52" cy="309.89" r="0.8" fill="#ffcc33" fill-opacity="0.6"/>
<circle cx="528.4" cy="316.78" r="0.95" fill="#6600cc" fill-opacity="0.85"/>
<circle cx="544.5" cy="316.78" r="0.95" fill="#db8d7a" fill-opacity="0.85"/>
<circle cx="559.8" cy="316.78" r="0.95" fill="#db8d7a" fill-opacity="0.85"/>
<circle cx="565.7" cy="316.78" r="0.95" fill="#6600cc" fill-opacity="0.85"/>
<linearGradient id="g32" x1="572.6" x2="623.7" y1="0" y2="0" gradientUnits="userSpaceOnUse"><stop offset="0" stop-color="#fcc73d"/><stop offset="0.46" stop-color="#fdc83a"/><stop offset="0.73" stop-color="#fcc73d"/><stop offset="1" stop-color="#fac342"/></linearGradient>
<path d="M572.6,315.89 573.58,315.68 574.57,315.87 575.55,315.9 576.53,315.82 577.51,315.63 578.5,315.78 579.48,315.58 580.46,315.69 581.44,315.64 582.43,315.47 583.41,315.42 584.39,315.45 585.38,315.31 586.36,315.25 587.34,315.27 588.32,315.38 589.31,315.19 590.29,315.35 591.27,315.13 592.25,315.35 593.24,315.26 594.22,315.06 595.2,315.09 596.18,315.26 597.17,315.23 598.15,315.33 599.13,315.25 600.12,315.29 601.1,315.36 602.08,315.29 603.06,315.39 604.05,315.5 605.03,315.53 606.01,315.62 606.99,315.54 607.98,315.45 608.96,315.59 609.94,315.72 610.93,315.5 611.91,315.6 612.89,315.54 613.87,315.55 614.86,315.55 615.84,315.64 616.82,315.72 617.8,315.75 618.79,315.69 619.77,315.75 620.75,315.82 621.73,316 622.72,315.91 623.7,315.98 623.7,317.7 622.72,317.82 621.73,317.69 620.75,317.84 619.77,317.77 618.79,317.63 617.8,317.89 616.82,317.85 615.84,317.85 614.86,317.96 613.87,318.03 612.89,317.95 611.91,317.92 610.93,317.99 609.94,317.86 608.96,317.99 607.98,317.96 606.99,317.88 606.01,317.91 605.03,318.03 604.05,318 603.06,318.14 602.08,318.17 601.1,318.12 600.12,318.32 599.13,318.35 598.15,318.22 597.17,318.29 596.18,318.45 595.2,318.25 594.22,318.4 593.24,318.34 592.25,318.28 591.27,318.32 590.29,318.42 589.31,318.32 588.32,318.22 587.34,318.09 586.36,318.07 585.38,318.02 584.39,318.22 583.41,318.17 582.43,317.93 581.44,317.96 580.46,317.92 579.48,317.97 578.5,317.81 577.51,317.72 576.53,317.89 575.55,317.88 574.57,317.67 573.58,317.75 572.6,317.81Z" fill="url(#g32)" fill-opacity="0.9" stroke="url(#g32)" stroke-width="0.6" stroke-linejoin="round"/>
<circle cx="572.6" cy="316.78" r="1" fill="#fcc73d" />
<circle cx="623.7" cy="316.78" r="0.9" fill="#fac342" />
<circle cx="579.98" cy="317.27" r="0.8" fill="#f8be49" fill-opacity="0.6"/>
<circle cx="597.59" cy="317.42" r="0.8" fill="#ffcc33" fill-opacity="0.6"/>
<circle cx="572.96" cy="316.31" r="0.8" fill="#edaa60" fill-opacity="0.6"/>
<circle cx="610.08" cy="317.55" r="0.8" fill="#fbc540" fill-opacity="0.6"/>
<circle cx="576.74" cy="317.15" r="0.8" fill="#ffcc33" fill-opacity="0.6"/>
<circle cx="609.98" cy="315.88" r="0.8" fill="#f4b653" fill-opacity="0.6"/>
<circle cx="574.31" cy="316.74" r="0.8" fill="#ffcc33" fill-opacity="0.6"/>
<circle cx="589.88" cy="315.77" r="0.8" fill="#efae5b" fill-opacity="0.6"/>
<circle cx="578.94" cy="316.68" r="0.8" fill="#ffcc33" fill-opacity="0.6"/>
<circle cx="586.57" cy="317.19" r="0.8" fill="#f7bd4a" fill-opacity="0.6"/>
<circle cx="593.57" cy="316.71" r="0.8" fill="#f9c047" fill-opacity="0.6"/>
<circle cx="594.84" cy="317.04" r="0.8" fill="#eca961" fill-opacity="0.6"/>
<circle cx="618.97" cy="317.33" r="0.8" fill="#ffcc33" fill-opacity="0.6"/>
<circle cx="584.27" cy="316.22" r="0.8" fill="#ffcc33" fill-opacity="0.6"/>
<circle cx="603.58" cy="316.43" r="0.8" fill="#fac243" fill-opacity="0.6"/>
<circle cx="623.28" cy="316.49" r="0.8" fill="#f7bd4b" fill-opacity="0.6"/>
<circle cx="583.3" cy="317.27" r="0.8" fill="#fcc73d" fill-opacity="0.6"/>
<circle cx="554.7" cy="323.36" r="0.95" fill="#6600cc" fill-opacity="0.85"/>
<circle cx="557.3" cy="323.36" r="0.95" fill="#6600cc" fill-opacity="0.85"/>
<circle cx="566.7" cy="323.36" r="0.95" fill="#6600cc" fill-opacity="0.85"/>
<linearGradient id="g33" x1="570" x2="617.3" y1="0" y2="0" gradientUnits="userSpaceOnUse"><stop offset="0" stop-color="#a143af"/><stop offset="0.47" stop-color="#c8728f"/><stop offset="0.74" stop-color="#e69f6b"/><stop offset="1" stop-color="#f6ba4e"/></linearGradient>
<path d="M570,322.26 570.99,322.44 571.97,322.27 572.96,322.42 573.94,322.2 574.93,322.26 575.91,322.24 576.9,322.29 577.88,322.27 578.87,322.31 579.85,322.34 580.84,322.3 581.83,322.05 582.81,322.04 583.8,322.05 584.78,322.11 585.77,322.05 586.75,322 587.74,322.22 588.72,322.08 589.71,321.92 590.69,322.01 591.68,322 592.66,322.01 593.65,321.92 594.64,321.92 595.62,322.06 596.61,321.87 597.59,321.98 598.58,321.84 599.56,321.83 600.55,321.72 601.53,321.52 602.52,321.75 603.5,321.54 604.49,321.53 605.47,321.61 606.46,321.54 607.45,321.58 608.43,321.65 609.42,321.7 610.4,321.79 611.39,322 612.37,322.05 613.36,322.06 614.34,322.29 615.33,322.21 616.31,322.2 617.3,322.25 617.3,324.44 616.31,324.4 615.33,324.45 614.34,324.32 613.36,324.58 612.37,324.68 611.39,324.59 610.4,324.98 609.42,325.07 608.43,325.05 607.45,325.21 606.46,325 605.47,325.03 604.49,325.11 603.5,325.21 602.52,325.23 601.53,325.13 600.55,325.09 599.56,324.89 598.58,324.84 597.59,324.71 596.61,324.81 595.62,324.74 594.64,324.7 593.65,324.75 592.66,324.53 591.68,324.62 590.69,324.71 589.71,324.64 588.72,324.76 587.74,324.7 586.75,324.48 585.77,324.71 584.78,324.46 583.8,324.66 582.81,324.65 581.83,324.66 580.84,324.42 579.85,324.63 578.87,324.51 577.88,324.49 576.9,324.36 575.91,324.49 574.93,324.39 573.94,324.52 572.96,324.25 571.97,324.49 570.99,324.28 570,324.22Z" fill="url(#g33)" fill-opacity="0.9" stroke="url(#g33)" stroke-width="0.6" stroke-linejoin="round"/>
<circle cx="570" cy="323.36" r="1" fill="#a143af" />
<circle cx="617.3" cy="323.36" r="1" fill="#f6ba4e" />
<circle cx="616.87" cy="323.3" r="0.8" fill="#efad5d" fill-opacity="0.6"/>
<circle cx="570.53" cy="323.06" r="0.8" fill="#aa4ea8" fill-opacity="0.6"/>
<circle cx="586.62" cy="324.41" r="0.8" fill="#c67091" fill-opacity="0.6"/>
<circle cx="602.67" cy="322.15" r="0.8" fill="#dd9078" fill-opacity="0.6"/>
<circle cx="584.45" cy="323.14" r="0.8" fill="#b054a4" fill-opacity="0.6"/>
<circle cx="590.01" cy="324.02" r="0.8" fill="#ba609c" fill-opacity="0.6"/>
<circle cx="586.06" cy="324.37" r="0.8" fill="#ba5f9c" fill-opacity="0.6"/>
<circle cx="580.7" cy="322.42" r="0.8" fill="#a649ab" fill-opacity="0.6"/>
<circle cx="584.27" cy="324.18" r="0.8" fill="#bf6698" fill-opacity="0.6"/>
<circle cx="594.78" cy="322.82" r="0.8" fill="#c36b94" fill-opacity="0.6"/>
<circle cx="595.3" cy="322.34" r="0.8" fill="#d58481" fill-opacity="0.6"/>
<circle cx="608.57" cy="324.12" r="0.8" fill="#e59d6d" fill-opacity="0.6"/>
<circle cx="603.15" cy="323.65" r="0.8" fill="#d8897e" fill-opacity="0.6"/>
<circle cx="572.61" cy="322.73" r="0.8" fill="#b65c9f" fill-opacity="0.6"/>
<circle cx="605.38" cy="324.4" r="0.8" fill="#d7877f" fill-opacity="0.6"/>
<circle cx="577.46" cy="323.48" r="0.8" fill="#b155a3" fill-opacity="0.6"/>
<circle cx="622.4" cy="323.36" r="0.95" fill="#fac342" fill-opacity="0.85"/>
<linearGradient id="g34" x1="584.1" x2="596" y1="0" y2="0" gradientUnits="userSpaceOnUse"><stop offset="0" stop-color="#ffcc33"/><stop offset="0.5" stop-color="#ffcc33"/><stop offset="1" stop-color="#fdc83a"/></linearGradient>
<path d="M584.1,328.7 585.09,328.76 586.08,328.41 587.08,327.94 588.07,327.88 589.06,327.59 590.05,327.5 591.04,327.58 592.03,327.63 593.02,327.93 594.02,328.42 595.01,328.68 596,328.77 596,331.12 595.01,331.34 594.02,331.63 593.02,331.96 592.03,332.28 591.04,332.4 590.05,332.47 589.06,332.28 588.07,332.18 587.08,331.76 586.08,331.4 585.09,331.37 584.1,331.17Z" fill="url(#g34)" fill-opacity="0.9" stroke="url(#g34)" stroke-width="0.6" stroke-linejoin="round"/>
<circle cx="584.1" cy="329.94" r="1.2" fill="#ffcc33" />
<circle cx="596" cy="329.94" r="1.3" fill="#fdc83a" />
<circle cx="595.39" cy="329.1" r="0.8" fill="#ffcc33" fill-opacity="0.6"/>
<circle cx="584.11" cy="330.54" r="0.8" fill="#ffcc33" fill-opacity="0.6"/>
<circle cx="584.82" cy="330.76" r="0.8" fill="#fbc53f" fill-opacity="0.6"/>
<circle cx="589.41" cy="327.96" r="0.8" fill="#ffcc33" fill-opacity="0.6"/>
<linearGradient id="g35" x1="600" x2="623.7" y1="0" y2="0" gradientUnits="userSpaceOnUse"><stop offset="0" stop-color="#fcc73d"/><stop offset="1" stop-color="#fac342"/></linearGradient>
<path d="M600,328.68 600.99,328.73 601.98,328.69 602.96,328.68 603.95,328.8 604.94,328.74 605.92,328.76 606.91,328.84 607.9,328.84 608.89,328.84 609.88,328.96 610.86,328.75 611.85,328.81 612.84,328.95 613.83,328.83 614.81,328.74 615.8,328.97 616.79,329.01 617.78,328.91 618.76,328.96 619.75,328.98 620.74,328.92 621.73,329.08 622.71,328.83 623.7,328.88 623.7,330.86 622.71,330.81 621.73,330.98 620.74,330.83 619.75,331.05 618.76,331.1 617.78,330.95 616.79,330.84 615.8,330.91 614.81,330.94 613.83,331.05 612.84,330.89 611.85,330.91 610.86,331.2 609.88,331.2 608.89,330.99 607.9,331.17 606.91,331.22 605.92,331.04 604.94,331.09 603.95,331.21 602.96,331.19 601.98,331.02 600.99,331.27 600,331Z" fill="url(#g35)" fill-opacity="0.9" stroke="url(#g35)" stroke-width="0.6" stroke-linejoin="round"/>
<circle cx="600" cy="329.94" r="1.2" fill="#fcc73d" />
<circle cx="623.7" cy="329.94" r="1" fill="#fac342" />
<circle cx="616.29" cy="330.53" r="0.8" fill="#fcc63e" fill-opacity="0.6"/>
<circle cx="603.7" cy="330.88" r="0.8" fill="#ffcc33" fill-opacity="0.6"/>
<circle cx="621.7" cy="330.66" r="0.8" fill="#fdc83b" fill-opacity="0.6"/>
<circle cx="608.74" cy="330.73" r="0.8" fill="#fcc63d" fill-opacity="0.6"/>
<circle cx="601.59" cy="329.52" r="0.8" fill="#ecaa60" fill-opacity="0.6"/>
<circle cx="608.38" cy="329.13" r="0.8" fill="#f7bd4a" fill-opacity="0.6"/>
<circle cx="608.44" cy="329.36" r="0.8" fill="#ffcc33" fill-opacity="0.6"/>
<circle cx="615.59" cy="329.22" r="0.8" fill="#f7bc4c" fill-opacity="0.6"/>
<linearGradient id="g36" x1="584" x2="596" y1="0" y2="0" gradientUnits="userSpaceOnUse"><stop offset="0" stop-color="#ffcc33"/><stop offset="0.5" stop-color="#ffcc33"/><stop offset="1" stop-color="#fdc83a"/></linearGradient>
<path d="M584,335.31 584.92,335.26 585.85,335.11 586.77,334.83 587.69,334.35 588.62,334.17 589.54,333.97 590.46,333.98 591.38,334.26 592.31,334.47 593.23,334.82 594.15,334.99 595.08,335.27 596,335.12 596,337.93 595.08,338.02 594.15,337.94 593.23,338.41 592.31,338.65 591.38,338.86 590.46,338.92 589.54,339.14 588.62,338.87 587.69,338.45 586.77,338.26 585.85,338.1 584.92,337.89 584,337.59Z" fill="url(#g36)" fill-opacity="0.9" stroke="url(#g36)" stroke-width="0.6" stroke-linejoin="round"/>
<circle cx="584" cy="336.52" r="1.2" fill="#ffcc33" />
<circle cx="596" cy="336.52" r="1.3" fill="#fdc83a" />
<circle cx="588.68" cy="338.46" r="0.8" fill="#f9c145" fill-opacity="0.6"/>
<circle cx="595.3" cy="335.86" r="0.8" fill="#f2b455" fill-opacity="0.6"/>
<circle cx="584.05" cy="335.76" r="0.8" fill="#f3b554" fill-opacity="0.6"/>
<circle cx="591.27" cy="336.42" r="0.8" fill="#f8be49" fill-opacity="0.6"/>
<linearGradient id="g37" x1="600" x2="619.9" y1="0" y2="0" gradientUnits="userSpaceOnUse"><stop offset="0" stop-color="#f1b159"/><stop offset="1" stop-color="#eba862"/></linearGradient>
<path d="M600,335.44 601,335.43 601.99,335.3 602.99,335.24 603.98,335.45 604.98,335.46 605.97,335.5 606.97,335.32 607.96,335.39 608.96,335.3 609.95,335.33 610.94,335.48 611.94,335.37 612.93,335.32 613.93,335.5 614.92,335.35 615.92,335.39 616.91,335.58 617.91,335.65 618.9,335.38 619.9,335.63 619.9,337.54 618.9,337.52 617.91,337.58 616.91,337.57 615.92,337.67 614.92,337.63 613.93,337.67 612.93,337.51 611.94,337.58 610.94,337.47 609.95,337.53 608.96,337.73 607.96,337.77 606.97,337.76 605.97,337.79 604.98,337.69 603.98,337.64 602.99,337.81 601.99,337.76 601,337.61 600,337.76Z" fill="url(#g37)" fill-opacity="0.9" stroke="url(#g37)" stroke-width="0.6" stroke-linejoin="round"/>
<circle cx="600" cy="336.52" r="1.2" fill="#f1b159" />
<circle cx="619.9" cy="336.52" r="1" fill="#eba862" />
<circle cx="601.3" cy="336.44" r="0.8" fill="#e9a367" fill-opacity="0.6"/>
<circle cx="616.28" cy="336.93" r="0.8" fill="#e8a268" fill-opacity="0.6"/>
<circle cx="616.98" cy="336.45" r="0.8" fill="#efae5c" fill-opacity="0.6"/>
<circle cx="615.7" cy="336.64" r="0.8" fill="#eca862" fill-opacity="0.6"/>
<circle cx="608.12" cy="335.84" r="0.8" fill="#f1b258" fill-opacity="0.6"/>
<circle cx="602.39" cy="335.67" r="0.8" fill="#efae5b" fill-opacity="0.6"/>
<circle cx="625" cy="336.52" r="0.95" fill="#e19673" fill-opacity="0.85"/>
<circle cx="566.2" cy="343.1" r="0.95" fill="#6600cc" fill-opacity="0.85"/>
<circle cx="571.3" cy="343.1" r="0.95" fill="#6600cc" fill-opacity="0.85"/>
<linearGradient id="g38" x1="573.9" x2="596" y1="0" y2="0" gradientUnits="userSpaceOnUse"><stop offset="0" stop-color="#db8d7a"/><stop offset="1" stop-color="#db8d7a"/></linearGradient>
<path d="M573.9,342.12 574.86,342 575.82,341.98 576.78,342.19 577.74,341.98 578.7,342.02 579.67,342.19 580.63,342.06 581.59,341.89 582.55,342.07 583.51,341.96 584.47,341.83 585.43,342.03 586.39,342.06 587.35,341.79 588.31,342.03 589.27,341.94 590.23,341.72 591.2,341.9 592.16,341.88 593.12,341.88 594.08,341.75 595.04,341.85 596,341.78 596,344.33 595.04,344.53 594.08,344.51 593.12,344.5 592.16,344.46 591.2,344.4 590.23,344.43 589.27,344.37 588.31,344.34 587.35,344.2 586.39,344.37 585.43,344.11 584.47,344.15 583.51,344.19 582.55,344.06 581.59,344.21 580.63,344.27 579.67,344.06 578.7,344.17 577.74,344.15 576.78,344.05 575.82,344.12 574.86,344.13 573.9,343.99Z" fill="url(#g38)" fill-opacity="0.9" stroke="url(#g38)" stroke-width="0.6" stroke-linejoin="round"/>
<circle cx="573.9" cy="343.1" r="1" fill="#db8d7a" />
<circle cx="596" cy="343.1" r="1.3" fill="#db8d7a" />
<circle cx="588.2" cy="342.71" r="0.8" fill="#d98a7d" fill-opacity="0.6"/>
<circle cx="587.39" cy="342.57" r="0.8" fill="#d98a7d" fill-opacity="0.6"/>
<circle cx="576.11" cy="343.57" r="0.8" fill="#d17e86" fill-opacity="0.6"/>
<circle cx="579.93" cy="342.86" r="0.8" fill="#ce7a89" fill-opacity="0.6"/>
<circle cx="594.51" cy="343.82" r="0.8" fill="#cd788b" fill-opacity="0.6"/>
<circle cx="587.24" cy="343.99" r="0.8" fill="#f0b05a" fill-opacity="0.6"/>
<circle cx="587.66" cy="343.27" r="0.8" fill="#df9375" fill-opacity="0.6"/>
<linearGradient id="g39" x1="599" x2="616" y1="0" y2="0" gradientUnits="userSpaceOnUse"><stop offset="0" stop-color="#fdc83a"/><stop offset="0.41" stop-color="#ffcc33"/><stop offset="1" stop-color="#fcc73d"/></linearGradient>
<path d="M599,341.78 599.94,341.72 600.89,341.58 601.83,341.62 602.78,341.31 603.72,341.1 604.67,340.95 605.61,340.85 606.56,340.89 607.5,341.08 608.44,340.95 609.39,341.27 610.33,341.37 611.28,341.65 612.22,341.85 613.17,341.94 614.11,342.09 615.06,342.07 616,342.06 616,344.13 615.06,344.03 614.11,344.08 613.17,344.23 612.22,344.39 611.28,344.73 610.33,344.81 609.39,345.01 608.44,345.27 607.5,345.22 606.56,345.21 605.61,345.31 604.67,345.24 603.72,345.09 602.78,345.01 601.83,344.68 600.89,344.47 599.94,344.55 599,344.32Z" fill="url(#g39)" fill-opacity="0.9" stroke="url(#g39)" stroke-width="0.6" stroke-linejoin="round"/>
<circle cx="599" cy="343.1" r="1.3" fill="#fdc83a" />
<circle cx="616" cy="343.1" r="1" fill="#fcc73d" />
<circle cx="609.62" cy="343.04" r="0.8" fill="#f7bd4a" fill-opacity="0.6"/>
<circle cx="609.41" cy="342.44" r="0.8" fill="#ffcc33" fill-opacity="0.6"/>
<circle cx="602.66" cy="343.81" r="0.8" fill="#fcc53f" fill-opacity="0.6"/>
<circle cx="608.95" cy="344.68" r="0.8" fill="#ffcc33" fill-opacity="0.6"/>
<circle cx="612.06" cy="342.59" r="0.8" fill="#ffcc33" fill-opacity="0.6"/>
<circle cx="561.1" cy="349.68" r="0.95" fill="#ba609c" fill-opacity="0.85"/>
<circle cx="567.5" cy="349.68" r="0.95" fill="#ba609c" fill-opacity="0.85"/>
<circle cx="573.4" cy="349.68" r="0.95" fill="#e19673" fill-opacity="0.85"/>
<circle cx="577" cy="349.68" r="0.95" fill="#e19673" fill-opacity="0.85"/>
<circle cx="582.8" cy="349.68" r="0.95" fill="#6600cc" fill-opacity="0.85"/>
<linearGradient id="g40" x1="585.4" x2="596" y1="0" y2="0" gradientUnits="userSpaceOnUse"><stop offset="0" stop-color="#fdc83a"/><stop offset="1" stop-color="#fcc73d"/></linearGradient>
<path d="M585.4,348.72 586.36,348.6 587.33,348.75 588.29,348.48 589.25,348.44 590.22,348.59 591.18,348.65 592.15,348.4 593.11,348.35 594.07,348.33 595.04,348.35 596,348.33 596,351 595.04,350.99 594.07,350.99 593.11,350.91 592.15,350.93 591.18,350.88 590.22,350.68 589.25,350.8 588.29,350.73 587.33,350.84 586.36,350.75 585.4,350.66Z" fill="url(#g40)" fill-opacity="0.9" stroke="url(#g40)" stroke-width="0.6" stroke-linejoin="round"/>
<circle cx="585.4" cy="349.68" r="1" fill="#fdc83a" />
<circle cx="596" cy="349.68" r="1.3" fill="#fcc73d" />
<circle cx="586.36" cy="349.98" r="0.8" fill="#ffcc33" fill-opacity="0.6"/>
<circle cx="595.68" cy="349.64" r="0.8" fill="#ffcc33" fill-opacity="0.6"/>
<circle cx="587.16" cy="349.7" r="0.8" fill="#ffcc33" fill-opacity="0.6"/>
<linearGradient id="g41" x1="598" x2="614.8" y1="0" y2="0" gradientUnits="userSpaceOnUse"><stop offset="0" stop-color="#f6ba4e"/><stop offset="0.42" stop-color="#f6ba4e"/><stop offset="1" stop-color="#f6ba4e"/></linearGradient>
<path d="M598,348.36 598.99,348.38 599.98,348.33 600.96,348.3 601.95,348.15 602.94,347.72 603.93,347.68 604.92,347.78 605.91,347.72 606.89,347.89 607.88,347.89 608.87,347.93 609.86,348.23 610.85,348.3 611.84,348.46 612.82,348.72 613.81,348.66 614.8,348.78 614.8,350.6 613.81,350.64 612.82,350.82 611.84,351 610.85,350.96 609.86,351.32 608.87,351.37 607.88,351.5 606.89,351.6 605.91,351.77 604.92,351.64 603.93,351.62 602.94,351.51 601.95,351.5 600.96,351.29 599.98,351.18 598.99,350.82 598,350.78Z" fill="url(#g41)" fill-opacity="0.9" stroke="url(#g41)" stroke-width="0.6" stroke-linejoin="round"/>
<circle cx="598" cy="349.68" r="1.2" fill="#f6ba4e" />
<circle cx="614.8" cy="349.68" r="1" fill="#f6ba4e" />
<circle cx="605.35" cy="349.42" r="0.8" fill="#f2b356" fill-opacity="0.6"/>
<circle cx="608.1" cy="348.99" r="0.8" fill="#fcc63e" fill-opacity="0.6"/>
<circle cx="611.37" cy="350.34" r="0.8" fill="#fbc53f" fill-opacity="0.6"/>
<circle cx="601.98" cy="351.05" r="0.8" fill="#fcc63d" fill-opacity="0.6"/>
<circle cx="602.28" cy="350.31" r="0.8" fill="#f8be4a" fill-opacity="0.6"/>
<circle cx="579" cy="356.26" r="0.95" fill="#6600cc" fill-opacity="0.85"/>
<circle cx="581.5" cy="356.26" r="0.95" fill="#8223c0" fill-opacity="0.85"/>
<circle cx="585.4" cy="356.26" r="0.95" fill="#8223c0" fill-opacity="0.85"/>
<linearGradient id="g42" x1="587" x2="596" y1="0" y2="0" gradientUnits="userSpaceOnUse"><stop offset="0" stop-color="#fcc73d"/><stop offset="1" stop-color="#fac342"/></linearGradient>
<path d="M587,355.28 587.9,355.33 588.8,355.3 589.7,355.22 590.6,355.13 591.5,355.1 592.4,354.93 593.3,355.14 594.2,355.13 595.1,354.87 596,355.1 596,357.46 595.1,357.49 594.2,357.4 593.3,357.64 592.4,357.53 591.5,357.43 590.6,357.37 589.7,357.29 588.8,357.4 587.9,357.38 587,357.32Z" fill="url(#g42)" fill-opacity="0.9" stroke="url(#g42)" stroke-width="0.6" stroke-linejoin="round"/>
<circle cx="587" cy="356.26" r="1" fill="#fcc73d" />
<circle cx="596" cy="356.26" r="1.3" fill="#fac342" />
<circle cx="591.46" cy="356.93" r="0.8" fill="#f7bc4c" fill-opacity="0.6"/>
<circle cx="587.11" cy="355.5" r="0.8" fill="#fcc53e" fill-opacity="0.6"/>
<circle cx="589.84" cy="356.24" r="0.8" fill="#f1b159" fill-opacity="0.6"/>
<linearGradient id="g43" x1="598" x2="614.8" y1="0" y2="0" gradientUnits="userSpaceOnUse"><stop offset="0" stop-color="#ce7b89"/><stop offset="0.48" stop-color="#ce7b89"/><stop offset="1" stop-color="#d58482"/></linearGradient>
<path d="M598,354.95 598.99,354.91 599.98,355.02 600.96,354.82 601.95,354.54 602.94,354.61 603.93,354.29 604.92,354.27 605.91,354.34 606.89,354.28 607.88,354.45 608.87,354.47 609.86,354.52 610.85,354.69 611.84,355 612.82,355.27 613.81,355.35 614.8,355.38 614.8,357.27 613.81,357.15 612.82,357.42 611.84,357.42 610.85,357.67 609.86,357.81 608.87,358.09 607.88,358.21 606.89,358.29 605.91,358.17 604.92,358.1 603.93,358.07 602.94,358 601.95,357.85 600.96,357.58 599.98,357.54 598.99,357.54 598,357.49Z" fill="url(#g43)" fill-opacity="0.9" stroke="url(#g43)" stroke-width="0.6" stroke-linejoin="round"/>
<circle cx="598" cy="356.26" r="1.2" fill="#ce7b89" />
<circle cx="614.8" cy="356.26" r="1" fill="#d58482" />
<circle cx="601.29" cy="355.66" r="0.8" fill="#d17f85" fill-opacity="0.6"/>
<circle cx="610.89" cy="356.13" r="0.8" fill="#c9738f" fill-opacity="0.6"/>
<circle cx="614.71" cy="356.47" r="0.8" fill="#c8728f" fill-opacity="0.6"/>
<circle cx="605.48" cy="356.39" r="0.8" fill="#d48382" fill-opacity="0.6"/>
<circle cx="611.2" cy="355.68" r="0.8" fill="#e39a6f" fill-opacity="0.6"/>
<circle cx="562.4" cy="362.84" r="0.95" fill="#e19673" fill-opacity="0.85"/>
<circle cx="571.3" cy="362.84" r="0.95" fill="#6600cc" fill-opacity="0.85"/>
<linearGradient id="g44" x1="566" x2="596" y1="0" y2="0" gradientUnits="userSpaceOnUse"><stop offset="0" stop-color="#eba862"/><stop offset="0.8" stop-color="#f6ba4e"/><stop offset="1" stop-color="#fac342"/></linearGradient>
<path d="M566,361.76 566.97,361.95 567.94,361.93 568.9,361.89 569.87,361.83 570.84,361.67 571.81,361.7 572.77,361.8 573.74,361.7 574.71,361.67 575.68,361.69 576.65,361.71 577.61,361.8 578.58,361.62 579.55,361.53 580.52,361.6 581.48,361.52 582.45,361.47 583.42,361.42 584.39,361.61 585.35,361.55 586.32,361.33 587.29,361.38 588.26,361.41 589.23,361.52 590.19,361.58 591.16,361.31 592.13,361.61 593.1,361.44 594.06,361.44 595.03,361.61 596,361.46 596,364.06 595.03,364.23 594.06,364.03 593.1,364.05 592.13,364.28 591.16,364.19 590.19,364.36 589.23,364.13 588.26,364.12 587.29,364.12 586.32,364.21 585.35,364.14 584.39,364.19 583.42,364.19 582.45,364.13 581.48,364.11 580.52,364.03 579.55,364.01 578.58,363.95 577.61,364.02 576.65,364.09 575.68,363.94 574.71,363.9 573.74,364.06 572.77,363.8 571.81,363.89 570.84,363.86 569.87,363.96 568.9,363.99 567.94,363.86 566.97,363.84 566,363.72Z" fill="url(#g44)" fill-opacity="0.9" stroke="url(#g44)" stroke-width="0.6" stroke-linejoin="round"/>
<circle cx="566" cy="362.84" r="1" fill="#eba862" />
<circle cx="596" cy="362.84" r="1.3" fill="#fac342" />
<circle cx="581.25" cy="363.49" r="0.8" fill="#fac145" fill-opacity="0.6"/>
<circle cx="571.55" cy="362.07" r="0.8" fill="#f4b752" fill-opacity="0.6"/>
<circle cx="571.64" cy="362.88" r="0.8" fill="#f5b94f" fill-opacity="0.6"/>
<circle cx="585.08" cy="362.99" r="0.8" fill="#f8bf47" fill-opacity="0.6"/>
<circle cx="585.37" cy="362.63" r="0.8" fill="#eead5d" fill-opacity="0.6"/>
<circle cx="592.41" cy="363.97" r="0.8" fill="#ffcc33" fill-opacity="0.6"/>
<circle cx="590.83" cy="363.49" r="0.8" fill="#fac244" fill-opacity="0.6"/>
<circle cx="573.43" cy="362.11" r="0.8" fill="#f8be49" fill-opacity="0.6"/>
<circle cx="585.83" cy="362.25" r="0.8" fill="#fbc540" fill-opacity="0.6"/>
<circle cx="584.22" cy="362.68" r="0.8" fill="#fac145" fill-opacity="0.6"/>
<linearGradient id="g45" x1="598" x2="608.4" y1="0" y2="0" gradientUnits="userSpaceOnUse"><stop offset="0" stop-color="#fdc83a"/><stop offset="0.38" stop-color="#ffcc33"/><stop offset="1" stop-color="#fdc83a"/></linearGradient>
<path d="M598,361.42 598.95,361.15 599.89,360.94 600.84,360.55 601.78,360.31 602.73,360.31 603.67,360.51 604.62,360.89 605.56,361.18 606.51,361.44 607.45,361.74 608.4,361.88 608.4,363.69 607.45,363.93 606.51,364.12 605.56,364.4 604.62,364.79 603.67,365.24 602.73,365.39 601.78,365.41 600.84,365.12 599.89,364.74 598.95,364.59 598,364.28Z" fill="url(#g45)" fill-opacity="0.9" stroke="url(#g45)" stroke-width="0.6" stroke-linejoin="round"/>
<circle cx="598" cy="362.84" r="1.5" fill="#fdc83a" />
<circle cx="608.4" cy="362.84" r="1" fill="#fdc83a" />
<circle cx="600.89" cy="362.75" r="0.8" fill="#fbc341" fill-opacity="0.6"/>
<circle cx="607.39" cy="363.72" r="0.8" fill="#ffcb34" fill-opacity="0.6"/>
<circle cx="606.23" cy="362.32" r="0.8" fill="#eeac5e" fill-opacity="0.6"/>
<linearGradient id="g46" x1="575.1" x2="596" y1="0" y2="0" gradientUnits="userSpaceOnUse"><stop offset="0" stop-color="#db8d7a"/><stop offset="1" stop-color="#e19673"/></linearGradient>
<path d="M575.1,368.55 576.1,368.29 577.09,368.32 578.09,368.5 579.08,368.52 580.08,368.38 581.07,368.43 582.07,368.45 583.06,368.46 584.06,368.28 585.05,368.31 586.05,368.19 587.04,368.12 588.04,368.28 589.03,368.17 590.03,368.12 591.02,368.03 592.02,368.23 593.01,368.1 594.01,368.11 595,368.13 596,368.16 596,370.74 595,370.71 594.01,370.64 593.01,370.81 592.02,370.77 591.02,370.67 590.03,370.53 589.03,370.78 588.04,370.64 587.04,370.51 586.05,370.6 585.05,370.69 584.06,370.6 583.06,370.54 582.07,370.42 581.07,370.53 580.08,370.56 579.08,370.41 578.09,370.44 577.09,370.53 576.1,370.47 575.1,370.36Z" fill="url(#g46)" fill-opacity="0.9" stroke="url(#g46)" stroke-width="0.6" stroke-linejoin="round"/>
<circle cx="575.1" cy="369.42" r="1" fill="#db8d7a" />
<circle cx="596" cy="369.42" r="1.3" fill="#e19673" />
<circle cx="578.22" cy="368.99" r="0.8" fill="#d98b7c" fill-opacity="0.6"/>
<circle cx="577.58" cy="368.61" r="0.8" fill="#eaa565" fill-opacity="0.6"/>
<circle cx="583.51" cy="370.18" r="0.8" fill="#e09474" fill-opacity="0.6"/>
<circle cx="587.82" cy="369.74" r="0.8" fill="#e39970" fill-opacity="0.6"/>
<circle cx="582.37" cy="370.05" r="0.8" fill="#c8728f" fill-opacity="0.6"/>
<circle cx="580.2" cy="370.22" r="0.8" fill="#df9376" fill-opacity="0.6"/>
<circle cx="590.39" cy="368.69" r="0.8" fill="#e49c6e" fill-opacity="0.6"/>
<circle cx="584" cy="369.42" r="0.95" fill="#6600cc" fill-opacity="0.85"/>
<circle cx="588.7" cy="369.42" r="0.95" fill="#6600cc" fill-opacity="0.85"/>
<linearGradient id="g47" x1="598" x2="613.5" y1="0" y2="0" gradientUnits="userSpaceOnUse"><stop offset="0" stop-color="#fdc83a"/><stop offset="0.39" stop-color="#fdc83a"/><stop offset="1" stop-color="#fcc73d"/></linearGradient>
<path d="M598,368.15 598.97,368.14 599.94,368.1 600.91,368 601.88,367.8 602.84,367.69 603.81,367.51 604.78,367.53 605.75,367.56 606.72,367.74 607.69,367.92 608.66,367.97 609.62,368.06 610.59,368.27 611.56,368.24 612.53,368.51 613.5,368.5 613.5,370.46 612.53,370.49 611.56,370.54 610.59,370.59 609.62,370.58 608.66,370.68 607.69,370.91 606.72,370.94 605.75,371.13 604.78,371.33 603.81,371.28 602.84,371.32 601.88,371.14 600.91,371.05 599.94,370.81 598.97,370.71 598,370.68Z" fill="url(#g47)" fill-opacity="0.9" stroke="url(#g47)" stroke-width="0.6" stroke-linejoin="round"/>
<circle cx="598" cy="369.42" r="1.3" fill="#fdc83a" />
<circle cx="613.5" cy="369.42" r="1" fill="#fcc73d" />
<circle cx="604.41" cy="370.81" r="0.8" fill="#ffcc33" fill-opacity="0.6"/>
<circle cx="602.81" cy="370.78" r="0.8" fill="#fbc53f" fill-opacity="0.6"/>
<circle cx="603.4" cy="368.64" r="0.8" fill="#ffcc33" fill-opacity="0.6"/>
<circle cx="612.58" cy="368.69" r="0.8" fill="#ffcb34" fill-opacity="0.6"/>
<circle cx="603.11" cy="370.09" r="0.8" fill="#ffcc33" fill-opacity="0.6"/>
<linearGradient id="g48" x1="589.2" x2="596" y1="0" y2="0" gradientUnits="userSpaceOnUse"><stop offset="0" stop-color="#ffcc33"/><stop offset="0.56" stop-color="#ffcc33"/><stop offset="1" stop-color="#fdc83a"/></linearGradient>
<path d="M589.2,374.75 590.17,374.74 591.14,374.19 592.11,373.73 593.09,373.64 594.06,373.7 595.03,374.38 596,374.63 596,377.39 595.03,377.81 594.06,378.12 593.09,378.51 592.11,378.22 591.14,377.78 590.17,377.3 589.2,377.08Z" fill="url(#g48)" fill-opacity="0.9" stroke="url(#g48)" stroke-width="0.6" stroke-linejoin="round"/>
<circle cx="589.2" cy="376" r="1.2" fill="#ffcc33" />
<circle cx="596" cy="376" r="1.5" fill="#fdc83a" />
<circle cx="592.54" cy="375.15" r="0.8" fill="#ffcb34" fill-opacity="0.6"/>
<circle cx="594.54" cy="376.02" r="0.8" fill="#ffcc33" fill-opacity="0.6"/>
<linearGradient id="g49" x1="598" x2="619.9" y1="0" y2="0" gradientUnits="userSpaceOnUse"><stop offset="0" stop-color="#eba862"/><stop offset="0.55" stop-color="#e69f6b"/><stop offset="1" stop-color="#e19673"/></linearGradient>
<path d="M598,374.84 599,374.73 599.99,374.81 600.99,374.67 601.98,374.8 602.98,374.53 603.97,374.64 604.97,374.61 605.96,374.72 606.96,374.63 607.95,374.74 608.95,374.72 609.95,374.61 610.94,374.52 611.94,374.7 612.93,374.83 613.93,374.88 614.92,374.68 615.92,374.73 616.91,374.86 617.91,374.98 618.9,375.02 619.9,375.05 619.9,377.05 618.9,377.06 617.91,377.07 616.91,376.96 615.92,377.15 614.92,377.22 613.93,377.4 612.93,377.19 611.94,377.33 610.94,377.4 609.95,377.34 608.95,377.48 607.95,377.33 606.96,377.44 605.96,377.42 604.97,377.36 603.97,377.42 602.98,377.49 601.98,377.46 600.99,377.21 599.99,377.29 599,377.4 598,377.4Z" fill="url(#g49)" fill-opacity="0.9" stroke="url(#g49)" stroke-width="0.6" stroke-linejoin="round"/>
<circle cx="598" cy="376" r="1.3" fill="#eba862" />
<circle cx="619.9" cy="376" r="1" fill="#e19673" />
<circle cx="602.56" cy="375.98" r="0.8" fill="#eba664" fill-opacity="0.6"/>
<circle cx="607.37" cy="376.06" r="0.8" fill="#e19772" fill-opacity="0.6"/>
<circle cx="613.67" cy="375.27" r="0.8" fill="#e29871" fill-opacity="0.6"/>
<circle cx="608.43" cy="377.17" r="0.8" fill="#f1b258" fill-opacity="0.6"/>
<circle cx="614.88" cy="376.96" r="0.8" fill="#eca961" fill-opacity="0.6"/>
<circle cx="606.49" cy="375.76" r="0.8" fill="#e8a169" fill-opacity="0.6"/>
<circle cx="608.27" cy="375.46" r="0.8" fill="#e9a367" fill-opacity="0.6"/>
<linearGradient id="g50" x1="577.7" x2="596" y1="0" y2="0" gradientUnits="userSpaceOnUse"><stop offset="0" stop-color="#fdc83a"/><stop offset="0.67" stop-color="#fdc83a"/><stop offset="1" stop-color="#fac342"/></linearGradient>
<path d="M577.7,381.56 578.66,381.46 579.63,381.46 580.59,381.4 581.55,381.32 582.52,381.24 583.48,381.22 584.44,380.92 585.41,381.03 586.37,380.68 587.33,380.79 588.29,380.72 589.26,380.6 590.22,380.65 591.18,380.73 592.15,380.68 593.11,380.92 594.07,380.99 595.04,380.92 596,381.09 596,384.15 595.04,384.16 594.07,384.18 593.11,384.45 592.15,384.49 591.18,384.4 590.22,384.48 589.26,384.47 588.29,384.54 587.33,384.6 586.37,384.43 585.41,384.31 584.44,384.16 583.48,383.94 582.52,383.89 581.55,383.8 580.59,383.84 579.63,383.51 578.66,383.6 577.7,383.65Z" fill="url(#g50)" fill-opacity="0.9" stroke="url(#g50)" stroke-width="0.6" stroke-linejoin="round"/>
<circle cx="577.7" cy="382.58" r="1" fill="#fdc83a" />
<circle cx="596" cy="382.58" r="1.5" fill="#fac342" />
<circle cx="591.25" cy="381.94" r="0.8" fill="#f1b258" fill-opacity="0.6"/>
<circle cx="591.39" cy="382.91" r="0.8" fill="#f7bd4a" fill-opacity="0.6"/>
<circle cx="579.84" cy="383.03" r="0.8" fill="#f7bd4b" fill-opacity="0.6"/>
<circle cx="589.08" cy="383.04" r="0.8" fill="#f1b158" fill-opacity="0.6"/>
<circle cx="579.07" cy="382.34" r="0.8" fill="#fec938" fill-opacity="0.6"/>
<circle cx="578.41" cy="382.43" r="0.8" fill="#ffcc33" fill-opacity="0.6"/>
<linearGradient id="g51" x1="598" x2="614.8" y1="0" y2="0" gradientUnits="userSpaceOnUse"><stop offset="0" stop-color="#d58482"/><stop offset="0.48" stop-color="#d58482"/><stop offset="1" stop-color="#db8d7a"/></linearGradient>
<path d="M598,381.07 598.99,381.24 599.98,380.99 600.96,380.94 601.95,380.81 602.94,380.87 603.93,380.54 604.92,380.71 605.91,380.5 606.89,380.73 607.88,380.55 608.87,380.8 609.86,380.91 610.85,381.06 611.84,381.32 612.82,381.47 613.81,381.51 614.8,381.55 614.8,383.71 613.81,383.7 612.82,383.68 611.84,383.98 610.85,384.08 609.86,384.22 608.87,384.22 607.88,384.59 606.89,384.66 605.91,384.51 604.92,384.62 603.93,384.35 602.94,384.33 601.95,384.13 600.96,384.07 599.98,384.17 598.99,383.88 598,384.02Z" fill="url(#g51)" fill-opacity="0.9" stroke="url(#g51)" stroke-width="0.6" stroke-linejoin="round"/>
<circle cx="598" cy="382.58" r="1.4" fill="#d58482" />
<circle cx="614.8" cy="382.58" r="1" fill="#db8d7a" />
<circle cx="602.56" cy="383.77" r="0.8" fill="#ce7a89" fill-opacity="0.6"/>
<circle cx="598.48" cy="382.82" r="0.8" fill="#db8d7a" fill-opacity="0.6"/>
<circle cx="608.41" cy="384.01" r="0.8" fill="#e49c6e" fill-opacity="0.6"/>
<circle cx="610.76" cy="381.77" r="0.8" fill="#dd9177" fill-opacity="0.6"/>
<circle cx="609.2" cy="382.4" r="0.8" fill="#d58581" fill-opacity="0.6"/>
<circle cx="579" cy="389.16" r="0.95" fill="#c8728f" fill-opacity="0.85"/>
<linearGradient id="g52" x1="582.8" x2="596" y1="0" y2="0" gradientUnits="userSpaceOnUse"><stop offset="0" stop-color="#fdc83a"/><stop offset="0.55" stop-color="#fdc83a"/><stop offset="1" stop-color="#fac342"/></linearGradient>
<path d="M582.8,388.2 583.74,388.1 584.69,388.13 585.63,387.75 586.57,387.54 587.51,387.49 588.46,387.33 589.4,387.27 590.34,387.18 591.29,387.36 592.23,387.28 593.17,387.56 594.11,387.54 595.06,387.71 596,387.67 596,390.62 595.06,390.59 594.11,390.71 593.17,390.91 592.23,391.02 591.29,391.14 590.34,391.02 589.4,391 588.46,391.15 587.51,390.88 586.57,390.57 585.63,390.6 584.69,390.41 583.74,390.15 582.8,390.23Z" fill="url(#g52)" fill-opacity="0.9" stroke="url(#g52)" stroke-width="0.6" stroke-linejoin="round"/>
<circle cx="582.8" cy="389.16" r="1" fill="#fdc83a" />
<circle cx="596" cy="389.16" r="1.5" fill="#fac342" />
<circle cx="590.53" cy="389.75" r="0.8" fill="#f7bd4b" fill-opacity="0.6"/>
<circle cx="586.44" cy="389.44" r="0.8" fill="#feca37" fill-opacity="0.6"/>
<circle cx="585.49" cy="389.37" r="0.8" fill="#f0b059" fill-opacity="0.6"/>
<circle cx="592.52" cy="390.08" r="0.8" fill="#ffcc33" fill-opacity="0.6"/>
<linearGradient id="g53" x1="598" x2="617.3" y1="0" y2="0" gradientUnits="userSpaceOnUse"><stop offset="0" stop-color="#e19673"/><stop offset="0.41" stop-color="#db8d7a"/><stop offset="1" stop-color="#e19673"/></linearGradient>
<path d="M598,387.61 598.97,387.78 599.93,387.64 600.89,387.68 601.86,387.43 602.83,387.24 603.79,387.26 604.75,387.25 605.72,387.28 606.68,387.23 607.65,387.07 608.62,387.2 609.58,387.25 610.54,387.52 611.51,387.78 612.47,387.82 613.44,388.02 614.4,388.13 615.37,387.96 616.33,388.13 617.3,388.08 617.3,390.16 616.33,390.06 615.37,390.36 614.4,390.4 613.44,390.29 612.47,390.6 611.51,390.8 610.54,390.86 609.58,390.81 608.62,391.02 607.65,391.07 606.68,391 605.72,391.27 604.75,390.99 603.79,391.01 602.83,391.05 601.86,390.81 600.89,390.61 599.93,390.53 598.97,390.51 598,390.65Z" fill="url(#g53)" fill-opacity="0.9" stroke="url(#g53)" stroke-width="0.6" stroke-linejoin="round"/>
<circle cx="598" cy="389.16" r="1.4" fill="#e19673" />
<circle cx="617.3" cy="389.16" r="1" fill="#e19673" />
<circle cx="613.1" cy="389.46" r="0.8" fill="#e29871" fill-opacity="0.6"/>
<circle cx="608.93" cy="388.13" r="0.8" fill="#da8b7c" fill-opacity="0.6"/>
<circle cx="606.34" cy="388.44" r="0.8" fill="#d8897e" fill-opacity="0.6"/>
<circle cx="616.42" cy="388.38" r="0.8" fill="#e09574" fill-opacity="0.6"/>
<circle cx="599.99" cy="390.23" r="0.8" fill="#e49b6e" fill-opacity="0.6"/>
<circle cx="602.24" cy="389.44" r="0.8" fill="#e59e6c" fill-opacity="0.6"/>
<linearGradient id="g54" x1="579" x2="596" y1="0" y2="0" gradientUnits="userSpaceOnUse"><stop offset="0" stop-color="#fdc83a"/><stop offset="0.65" stop-color="#fdc83a"/><stop offset="1" stop-color="#fcc73d"/></linearGradient>
<path d="M579,394.79 579.94,394.66 580.89,394.64 581.83,394.71 582.78,394.52 583.72,394.31 584.67,394.23 585.61,394.08 586.56,394.07 587.5,393.85 588.44,393.76 589.39,393.69 590.33,393.64 591.28,393.89 592.22,393.85 593.17,393.89 594.11,394.15 595.06,394.22 596,394.33 596,397.14 595.06,397.41 594.11,397.22 593.17,397.38 592.22,397.47 591.28,397.62 590.33,397.72 589.39,397.6 588.44,397.63 587.5,397.53 586.56,397.52 585.61,397.27 584.67,397.12 583.72,397.04 582.78,397.13 581.83,396.87 580.89,396.91 579.94,396.72 579,396.63Z" fill="url(#g54)" fill-opacity="0.9" stroke="url(#g54)" stroke-width="0.6" stroke-linejoin="round"/>
<circle cx="579" cy="395.74" r="1" fill="#fdc83a" />
<circle cx="596" cy="395.74" r="1.5" fill="#fcc73d" />
<circle cx="588.3" cy="396.2" r="0.8" fill="#ffcc33" fill-opacity="0.6"/>
<circle cx="581.43" cy="395.21" r="0.8" fill="#ffcc33" fill-opacity="0.6"/>
<circle cx="579.47" cy="396.07" r="0.8" fill="#ffcc33" fill-opacity="0.6"/>
<circle cx="593.76" cy="396.6" r="0.8" fill="#f9c145" fill-opacity="0.6"/>
<circle cx="584.27" cy="395.99" r="0.8" fill="#ffcc33" fill-opacity="0.6"/>
<linearGradient id="g55" x1="598" x2="614.8" y1="0" y2="0" gradientUnits="userSpaceOnUse"><stop offset="0" stop-color="#fac342"/><stop offset="0.48" stop-color="#fac342"/><stop offset="1" stop-color="#fac342"/></linearGradient>
<path d="M598,394.31 598.99,394.31 599.98,394.36 600.96,394.35 601.95,394.27 602.94,393.93 603.93,393.86 604.92,394.11 605.91,393.98 606.89,394.09 607.88,394.17 608.87,394.14 609.86,394.14 610.85,394.4 611.84,394.58 612.82,394.56 613.81,394.64 614.8,394.84 614.8,396.72 613.81,396.72 612.82,396.79 611.84,397.02 610.85,397.17 609.86,397.33 608.87,397.27 607.88,397.44 606.89,397.44 605.91,397.48 604.92,397.49 603.93,397.51 602.94,397.31 601.95,397.45 600.96,397.29 599.98,397.07 598.99,397.07 598,397.18Z" fill="url(#g55)" fill-opacity="0.9" stroke="url(#g55)" stroke-width="0.6" stroke-linejoin="round"/>
<circle cx="598" cy="395.74" r="1.4" fill="#fac342" />
<circle cx="614.8" cy="395.74" r="1" fill="#fac342" />
<circle cx="599.91" cy="396.28" r="0.8" fill="#fac342" fill-opacity="0.6"/>
<circle cx="611.59" cy="395.95" r="0.8" fill="#f1b258" fill-opacity="0.6"/>
<circle cx="613.27" cy="396.15" r="0.8" fill="#ffcb34" fill-opacity="0.6"/>
<circle cx="609.6" cy="396.82" r="0.8" fill="#ffcc33" fill-opacity="0.6"/>
<circle cx="607.99" cy="396.21" r="0.8" fill="#ffcc33" fill-opacity="0.6"/>
<circle cx="602.5" cy="395.74" r="0.95" fill="#6600cc" fill-opacity="0.85"/>
<circle cx="618.6" cy="395.74" r="0.95" fill="#fac342" fill-opacity="0.85"/>
<linearGradient id="g56" x1="581.5" x2="596" y1="0" y2="0" gradientUnits="userSpaceOnUse"><stop offset="0" stop-color="#e19673"/><stop offset="0.59" stop-color="#db8d7a"/><stop offset="1" stop-color="#e19673"/></linearGradient>
<path d="M581.5,401.19 582.47,401.38 583.43,401.25 584.4,401.02 585.37,400.98 586.33,400.74 587.3,400.56 588.27,400.36 589.23,400.46 590.2,400.29 591.17,400.36 592.13,400.31 593.1,400.6 594.07,400.65 595.03,400.64 596,400.91 596,403.74 595.03,403.72 594.07,404.03 593.1,404.15 592.13,404.29 591.17,404.28 590.2,404.35 589.23,404.33 588.27,404.36 587.3,403.97 586.33,403.98 585.37,403.79 584.4,403.43 583.43,403.51 582.47,403.35 581.5,403.26Z" fill="url(#g56)" fill-opacity="0.9" stroke="url(#g56)" stroke-width="0.6" stroke-linejoin="round"/>
<circle cx="581.5" cy="402.32" r="1" fill="#e19673" />
<circle cx="596" cy="402.32" r="1.5" fill="#e19673" />
<circle cx="593.37" cy="403.55" r="0.8" fill="#e29771" fill-opacity="0.6"/>
<circle cx="584.78" cy="402.29" r="0.8" fill="#d38184" fill-opacity="0.6"/>
<circle cx="590.01" cy="403.66" r="0.8" fill="#e49c6e" fill-opacity="0.6"/>
<circle cx="594.89" cy="401.25" r="0.8" fill="#d8897e" fill-opacity="0.6"/>
<circle cx="590.41" cy="403.18" r="0.8" fill="#dd9078" fill-opacity="0.6"/>
<circle cx="591.8" cy="402.32" r="0.95" fill="#6600cc" fill-opacity="0.85"/>
<linearGradient id="g57" x1="598" x2="608.4" y1="0" y2="0" gradientUnits="userSpaceOnUse"><stop offset="0" stop-color="#fcc73d"/><stop offset="0.38" stop-color="#fdc83a"/><stop offset="1" stop-color="#fac342"/></linearGradient>
<path d="M598,400.78 598.95,400.48 599.89,400.17 600.84,399.96 601.78,399.69 602.73,399.93 603.67,400.16 604.62,400.34 605.56,400.81 606.51,400.96 607.45,401.35 608.4,401.18 608.4,403.28 607.45,403.4 606.51,403.71 605.56,403.81 604.62,404.23 603.67,404.51 602.73,404.65 601.78,404.88 600.84,404.72 599.89,404.21 598.95,404.13 598,403.86Z" fill="url(#g57)" fill-opacity="0.9" stroke="url(#g57)" stroke-width="0.6" stroke-linejoin="round"/>
<circle cx="598" cy="402.32" r="1.6" fill="#fcc73d" />
<circle cx="608.4" cy="402.32" r="1" fill="#fac342" />
<circle cx="603.56" cy="403.53" r="0.8" fill="#edaa60" fill-opacity="0.6"/>
<circle cx="606.05" cy="402.9" r="0.8" fill="#f9c146" fill-opacity="0.6"/>
<circle cx="601.57" cy="402.29" r="0.8" fill="#fbc342" fill-opacity="0.6"/>
<circle cx="611" cy="402.32" r="0.95" fill="#e19673" fill-opacity="0.85"/>
<circle cx="613" cy="402.32" r="0.95" fill="#e19673" fill-opacity="0.85"/>
<circle cx="567.5" cy="408.9" r="0.95" fill="#ba609c" fill-opacity="0.85"/>
<circle cx="569.5" cy="408.9" r="0.95" fill="#ba609c" fill-opacity="0.85"/>
<circle cx="577" cy="408.9" r="0.95" fill="#6600cc" fill-opacity="0.85"/>
<circle cx="582.8" cy="408.9" r="0.95" fill="#ba609c" fill-opacity="0.85"/>
<linearGradient id="g58" x1="585.4" x2="596" y1="0" y2="0" gradientUnits="userSpaceOnUse"><stop offset="0" stop-color="#fdc83a"/><stop offset="0.62" stop-color="#fcc73d"/><stop offset="1" stop-color="#fcc73d"/></linearGradient>
<path d="M585.4,408.03 586.36,407.73 587.33,407.88 588.29,407.57 589.25,407.47 590.22,407.49 591.18,407.26 592.15,407.42 593.11,407.38 594.07,407.56 595.04,407.52 596,407.56 596,410.33 595.04,410.38 594.07,410.21 593.11,410.4 592.15,410.44 591.18,410.35 590.22,410.42 589.25,410.14 588.29,410.16 587.33,410.01 586.36,409.83 585.4,409.94Z" fill="url(#g58)" fill-opacity="0.9" stroke="url(#g58)" stroke-width="0.6" stroke-linejoin="round"/>
<circle cx="585.4" cy="408.9" r="1" fill="#fdc83a" />
<circle cx="596" cy="408.9" r="1.3" fill="#fcc73d" />
<circle cx="586.74" cy="409.11" r="0.8" fill="#feca37" fill-opacity="0.6"/>
<circle cx="589.27" cy="409.71" r="0.8" fill="#ffcc33" fill-opacity="0.6"/>
<circle cx="595.09" cy="409.94" r="0.8" fill="#ffcc33" fill-opacity="0.6"/>
<linearGradient id="g59" x1="598" x2="607.1" y1="0" y2="0" gradientUnits="userSpaceOnUse"><stop offset="0" stop-color="#fdc83a"/><stop offset="0.44" stop-color="#ffcc33"/><stop offset="1" stop-color="#fdc83a"/></linearGradient>
<path d="M598,407.41 598.91,407.31 599.82,407 600.73,406.65 601.64,406.3 602.55,406.51 603.46,406.82 604.37,407 605.28,407.44 606.19,407.78 607.1,407.97 607.1,409.89 606.19,409.89 605.28,410.21 604.37,410.62 603.46,411.2 602.55,411.36 601.64,411.27 600.73,411.05 599.82,410.95 598.91,410.63 598,410.48Z" fill="url(#g59)" fill-opacity="0.9" stroke="url(#g59)" stroke-width="0.6" stroke-linejoin="round"/>
<circle cx="598" cy="408.9" r="1.6" fill="#fdc83a" />
<circle cx="607.1" cy="408.9" r="1" fill="#fdc83a" />
<circle cx="602.95" cy="409.52" r="0.8" fill="#f9bf47" fill-opacity="0.6"/>
<circle cx="601.19" cy="407.71" r="0.8" fill="#ffcc33" fill-opacity="0.6"/>
<circle cx="604.71" cy="408.52" r="0.8" fill="#fdc83b" fill-opacity="0.6"/>
<circle cx="584.1" cy="415.48" r="0.95" fill="#6600cc" fill-opacity="0.85"/>
<circle cx="586.6" cy="415.48" r="0.95" fill="#6600cc" fill-opacity="0.85"/>
<linearGradient id="g60" x1="588" x2="596" y1="0" y2="0" gradientUnits="userSpaceOnUse"><stop offset="0" stop-color="#e19673"/><stop offset="1" stop-color="#e69f6b"/></linearGradient>
<path d="M588,414.5 588.89,414.48 589.78,414.43 590.67,414.43 591.56,414.21 592.44,414.2 593.33,414.17 594.22,414.13 595.11,414.13 596,414.05 596,416.88 595.11,416.89 594.22,416.94 593.33,416.81 592.44,416.7 591.56,416.56 590.67,416.58 589.78,416.56 588.89,416.59 588,416.58Z" fill="url(#g60)" fill-opacity="0.9" stroke="url(#g60)" stroke-width="0.6" stroke-linejoin="round"/>
<circle cx="588" cy="415.48" r="1" fill="#e19673" />
<circle cx="596" cy="415.48" r="1.5" fill="#e69f6b" />
<circle cx="594.68" cy="415.94" r="0.8" fill="#e09474" fill-opacity="0.6"/>
<circle cx="595.1" cy="414.55" r="0.8" fill="#e39970" fill-opacity="0.6"/>
<linearGradient id="g61" x1="598" x2="604.5" y1="0" y2="0" gradientUnits="userSpaceOnUse"><stop offset="0" stop-color="#fcc73d"/><stop offset="0.46" stop-color="#fdc83a"/><stop offset="1" stop-color="#fcc73d"/></linearGradient>
<path d="M598,413.88 598.93,413.69 599.86,413.75 600.79,413.53 601.71,413.73 602.64,414.04 603.57,414.4 604.5,414.58 604.5,416.58 603.57,416.59 602.64,417.14 601.71,417.34 600.79,417.45 599.86,417.21 598.93,417.28 598,417.18Z" fill="url(#g61)" fill-opacity="0.9" stroke="url(#g61)" stroke-width="0.6" stroke-linejoin="round"/>
<circle cx="598" cy="415.48" r="1.6" fill="#fcc73d" />
<circle cx="604.5" cy="415.48" r="1" fill="#fcc73d" />
<circle cx="598.73" cy="415.31" r="0.8" fill="#f6bb4d" fill-opacity="0.6"/>
<circle cx="599.43" cy="414.71" r="0.8" fill="#f0b059" fill-opacity="0.6"/>
<linearGradient id="g62" x1="582.8" x2="596" y1="0" y2="0" gradientUnits="userSpaceOnUse"><stop offset="0" stop-color="#e19673"/><stop offset="0.55" stop-color="#e19673"/><stop offset="1" stop-color="#e19673"/></linearGradient>
<path d="M582.8,420.99 583.74,420.88 584.69,420.89 585.63,420.93 586.57,420.63 587.51,420.32 588.46,420.42 589.4,420.24 590.34,420.35 591.29,420.21 592.23,420.33 593.17,420.35 594.11,420.49 595.06,420.64 596,420.53 596,423.56 595.06,423.49 594.11,423.56 593.17,423.58 592.23,423.6 591.29,423.89 590.34,423.99 589.4,423.71 588.46,423.92 587.51,423.74 586.57,423.6 585.63,423.34 584.69,423.11 583.74,423.23 582.8,423.02Z" fill="url(#g62)" fill-opacity="0.9" stroke="url(#g62)" stroke-width="0.6" stroke-linejoin="round"/>
<circle cx="582.8" cy="422.06" r="1" fill="#e19673" />
<circle cx="596" cy="422.06" r="1.4" fill="#e19673" />
<circle cx="588.01" cy="423.05" r="0.8" fill="#e19772" fill-opacity="0.6"/>
<circle cx="585.11" cy="421.76" r="0.8" fill="#e29871" fill-opacity="0.6"/>
<circle cx="588.09" cy="420.65" r="0.8" fill="#de9276" fill-opacity="0.6"/>
<circle cx="595.59" cy="422.82" r="0.8" fill="#e49b6e" fill-opacity="0.6"/>
<linearGradient id="g63" x1="598" x2="611" y1="0" y2="0" gradientUnits="userSpaceOnUse"><stop offset="0" stop-color="#db8d7a"/><stop offset="0.46" stop-color="#d58482"/><stop offset="1" stop-color="#d58482"/></linearGradient>
<path d="M598,420.73 598.93,420.69 599.86,420.55 600.79,420.51 601.71,420.23 602.64,420.16 603.57,420.14 604.5,420.2 605.43,420.15 606.36,420.22 607.29,420.62 608.21,420.58 609.14,420.81 610.07,421 611,421.12 611,423.15 610.07,423.07 609.14,423.29 608.21,423.36 607.29,423.72 606.36,423.92 605.43,423.86 604.5,424.17 603.57,424.13 602.64,424.13 601.71,423.94 600.79,423.69 599.86,423.61 598.93,423.37 598,423.54Z" fill="url(#g63)" fill-opacity="0.9" stroke="url(#g63)" stroke-width="0.6" stroke-linejoin="round"/>
<circle cx="598" cy="422.06" r="1.4" fill="#db8d7a" />
<circle cx="611" cy="422.06" r="1" fill="#d58482" />
<circle cx="608.17" cy="423.08" r="0.8" fill="#d48382" fill-opacity="0.6"/>
<circle cx="598.89" cy="422.23" r="0.8" fill="#dc8e79" fill-opacity="0.6"/>
<circle cx="598.27" cy="423" r="0.8" fill="#e19673" fill-opacity="0.6"/>
<circle cx="608.15" cy="422.55" r="0.8" fill="#da8c7c" fill-opacity="0.6"/>
<line x1="596.8" y1="240.4" x2="596.8" y2="426.8" stroke="#000" stroke-width="1.1" />
<rect x="509.9" y="240.4" width="173.9" height="186.4" fill="none" stroke="#333" stroke-width="1.4" />
<rect x="683.2" y="239.7" width="1.8" height="187.8" fill="#4a4a4a" />
<text x="508.2" y="246.38" font-size="6.6" text-anchor="end" fill="#3b5cb0" stroke="#3b5cb0" stroke-width="0.2" textLength="53.14" lengthAdjust="spacingAndGlyphs">SBS17b.Clonal.Late</text>
<text x="512" y="246.81" font-size="6.7" fill="#3a3a3a" stroke="#3a3a3a" stroke-width="0.2">0.762</text>
<text x="508.2" y="252.96" font-size="6.6" text-anchor="end" fill="#3b5cb0" stroke="#3b5cb0" stroke-width="0.2" textLength="46.57" lengthAdjust="spacingAndGlyphs">SBS2.Clonal.Late</text>
<text x="512" y="253.39" font-size="6.7" fill="#3a3a3a" stroke="#3a3a3a" stroke-width="0.2">0.691</text>
<text x="508.2" y="259.54" font-size="6.6" text-anchor="end" fill="#3fa64a" stroke="#3fa64a" stroke-width="0.2" textLength="42.64" lengthAdjust="spacingAndGlyphs">SBS1.Subclonal</text>
<text x="512" y="259.97" font-size="6.7" fill="#3a3a3a" stroke="#3a3a3a" stroke-width="0.2">0.672</text>
<text x="508.2" y="266.12" font-size="6.6" text-anchor="end" fill="#3fa64a" stroke="#3fa64a" stroke-width="0.2" textLength="45.92" lengthAdjust="spacingAndGlyphs">SBS18.Subclonal</text>
<text x="512" y="266.55" font-size="6.7" fill="#3a3a3a" stroke="#3a3a3a" stroke-width="0.2">0.639</text>
<text x="508.2" y="272.7" font-size="6.6" text-anchor="end" fill="#3fa64a" stroke="#3fa64a" stroke-width="0.2" textLength="45.92" lengthAdjust="spacingAndGlyphs">SBS40.Subclonal</text>
<text x="512" y="273.13" font-size="6.7" fill="#3a3a3a" stroke="#3a3a3a" stroke-width="0.2">0.580</text>
<text x="508.2" y="279.28" font-size="6.6" text-anchor="end" fill="#3fa64a" stroke="#3fa64a" stroke-width="0.2" textLength="42.64" lengthAdjust="spacingAndGlyphs">SBS5.Subclonal</text>
<text x="512" y="279.71" font-size="6.7" fill="#3a3a3a" stroke="#3a3a3a" stroke-width="0.2">0.534</text>
<text x="508.2" y="285.86" font-size="6.6" text-anchor="end" fill="#41a9e0" stroke="#41a9e0" stroke-width="0.2" textLength="51.81" lengthAdjust="spacingAndGlyphs">SBS41.Clonal.Early</text>
<text x="512" y="286.29" font-size="6.7" fill="#3a3a3a" stroke="#3a3a3a" stroke-width="0.2">0.531</text>
<text x="508.2" y="292.44" font-size="6.6" text-anchor="end" fill="#3fa64a" stroke="#3fa64a" stroke-width="0.2" textLength="42.64" lengthAdjust="spacingAndGlyphs">SBS8.Subclonal</text>
<text x="512" y="292.87" font-size="6.7" fill="#3a3a3a" stroke="#3a3a3a" stroke-width="0.2">0.482</text>
<text x="508.2" y="299.02" font-size="6.6" text-anchor="end" fill="#3b5cb0" stroke="#3b5cb0" stroke-width="0.2" textLength="46.57" lengthAdjust="spacingAndGlyphs">SBS1.Clonal.Late</text>
<text x="512" y="299.45" font-size="6.7" fill="#3a3a3a" stroke="#3a3a3a" stroke-width="0.2">0.419</text>
<text x="508.2" y="305.6" font-size="6.6" text-anchor="end" fill="#41a9e0" stroke="#41a9e0" stroke-width="0.2" textLength="51.81" lengthAdjust="spacingAndGlyphs">SBS40.Clonal.Early</text>
<text x="512" y="306.03" font-size="6.7" fill="#3a3a3a" stroke="#3a3a3a" stroke-width="0.2">0.370</text>
<text x="508.2" y="312.18" font-size="6.6" text-anchor="end" fill="#3fa64a" stroke="#3fa64a" stroke-width="0.2" textLength="45.92" lengthAdjust="spacingAndGlyphs">SBS44.Subclonal</text>
<text x="512" y="312.61" font-size="6.7" fill="#3a3a3a" stroke="#3a3a3a" stroke-width="0.2">0.333</text>
<text x="508.2" y="318.76" font-size="6.6" text-anchor="end" fill="#3b5cb0" stroke="#3b5cb0" stroke-width="0.2" textLength="49.85" lengthAdjust="spacingAndGlyphs">SBS44.Clonal.Late</text>
<text x="512" y="319.19" font-size="6.7" fill="#3a3a3a" stroke="#3a3a3a" stroke-width="0.2">0.274</text>
<text x="508.2" y="325.34" font-size="6.6" text-anchor="end" fill="#3fa64a" stroke="#3fa64a" stroke-width="0.2" textLength="49.2" lengthAdjust="spacingAndGlyphs">SBS17a.Subclonal</text>
<text x="512" y="325.77" font-size="6.7" fill="#3a3a3a" stroke="#3a3a3a" stroke-width="0.2">0.264</text>
<text x="508.2" y="331.92" font-size="6.6" text-anchor="end" fill="#3fa64a" stroke="#3fa64a" stroke-width="0.2" textLength="45.92" lengthAdjust="spacingAndGlyphs">SBS35.Subclonal</text>
<text x="512" y="332.35" font-size="6.7" fill="#3a3a3a" stroke="#3a3a3a" stroke-width="0.2">0.253</text>
<text x="508.2" y="338.5" font-size="6.6" text-anchor="end" fill="#41a9e0" stroke="#41a9e0" stroke-width="0.2" textLength="48.53" lengthAdjust="spacingAndGlyphs">SBS2.Clonal.Early</text>
<text x="512" y="338.93" font-size="6.7" fill="#3a3a3a" stroke="#3a3a3a" stroke-width="0.2">0.246</text>
<text x="508.2" y="345.08" font-size="6.6" text-anchor="end" fill="#3b5cb0" stroke="#3b5cb0" stroke-width="0.2" textLength="53.14" lengthAdjust="spacingAndGlyphs">SBS17a.Clonal.Late</text>
<text x="512" y="345.51" font-size="6.7" fill="#3a3a3a" stroke="#3a3a3a" stroke-width="0.2">0.231</text>
<text x="508.2" y="351.66" font-size="6.6" text-anchor="end" fill="#41a9e0" stroke="#41a9e0" stroke-width="0.2" textLength="48.53" lengthAdjust="spacingAndGlyphs">SBS5.Clonal.Early</text>
<text x="512" y="352.09" font-size="6.7" fill="#3a3a3a" stroke="#3a3a3a" stroke-width="0.2">0.220</text>
<text x="508.2" y="358.24" font-size="6.6" text-anchor="end" fill="#3b5cb0" stroke="#3b5cb0" stroke-width="0.2" textLength="49.85" lengthAdjust="spacingAndGlyphs">SBS40.Clonal.Late</text>
<text x="512" y="358.67" font-size="6.7" fill="#3a3a3a" stroke="#3a3a3a" stroke-width="0.2">0.194</text>
<text x="508.2" y="364.82" font-size="6.6" text-anchor="end" fill="#41a9e0" stroke="#41a9e0" stroke-width="0.2" textLength="51.81" lengthAdjust="spacingAndGlyphs">SBS44.Clonal.Early</text>
<text x="512" y="365.25" font-size="6.7" fill="#3a3a3a" stroke="#3a3a3a" stroke-width="0.2">0.193</text>
<text x="508.2" y="371.4" font-size="6.6" text-anchor="end" fill="#3b5cb0" stroke="#3b5cb0" stroke-width="0.2" textLength="49.85" lengthAdjust="spacingAndGlyphs">SBS18.Clonal.Late</text>
<text x="512" y="371.83" font-size="6.7" fill="#3a3a3a" stroke="#3a3a3a" stroke-width="0.2">0.175</text>
<text x="508.2" y="377.98" font-size="6.6" text-anchor="end" fill="#3b5cb0" stroke="#3b5cb0" stroke-width="0.2" textLength="46.57" lengthAdjust="spacingAndGlyphs">SBS8.Clonal.Late</text>
<text x="512" y="378.41" font-size="6.7" fill="#3a3a3a" stroke="#3a3a3a" stroke-width="0.2">0.169</text>
<text x="508.2" y="384.56" font-size="6.6" text-anchor="end" fill="#3b5cb0" stroke="#3b5cb0" stroke-width="0.2" textLength="49.85" lengthAdjust="spacingAndGlyphs">SBS41.Clonal.Late</text>
<text x="512" y="384.99" font-size="6.7" fill="#3a3a3a" stroke="#3a3a3a" stroke-width="0.2">0.169</text>
<text x="508.2" y="391.14" font-size="6.6" text-anchor="end" fill="#3fa64a" stroke="#3fa64a" stroke-width="0.2" textLength="42.64" lengthAdjust="spacingAndGlyphs">SBS2.Subclonal</text>
<text x="512" y="391.57" font-size="6.7" fill="#3a3a3a" stroke="#3a3a3a" stroke-width="0.2">0.167</text>
<text x="508.2" y="397.72" font-size="6.6" text-anchor="end" fill="#3b5cb0" stroke="#3b5cb0" stroke-width="0.2" textLength="49.85" lengthAdjust="spacingAndGlyphs">SBS35.Clonal.Late</text>
<text x="512" y="398.15" font-size="6.7" fill="#3a3a3a" stroke="#3a3a3a" stroke-width="0.2">0.161</text>
<text x="508.2" y="404.3" font-size="6.6" text-anchor="end" fill="#3fa64a" stroke="#3fa64a" stroke-width="0.2" textLength="49.2" lengthAdjust="spacingAndGlyphs">SBS17b.Subclonal</text>
<text x="512" y="404.73" font-size="6.7" fill="#3a3a3a" stroke="#3a3a3a" stroke-width="0.2">0.123</text>
<text x="508.2" y="410.88" font-size="6.6" text-anchor="end" fill="#41a9e0" stroke="#41a9e0" stroke-width="0.2" textLength="48.53" lengthAdjust="spacingAndGlyphs">SBS8.Clonal.Early</text>
<text x="512" y="411.31" font-size="6.7" fill="#3a3a3a" stroke="#3a3a3a" stroke-width="0.2">0.123</text>
<text x="508.2" y="417.46" font-size="6.6" text-anchor="end" fill="#41a9e0" stroke="#41a9e0" stroke-width="0.2" textLength="51.81" lengthAdjust="spacingAndGlyphs">SBS18.Clonal.Early</text>
<text x="512" y="417.89" font-size="6.7" fill="#3a3a3a" stroke="#3a3a3a" stroke-width="0.2">0.121</text>
<text x="508.2" y="424.04" font-size="6.6" text-anchor="end" fill="#41a9e0" stroke="#41a9e0" stroke-width="0.2" textLength="48.53" lengthAdjust="spacingAndGlyphs">SBS1.Clonal.Early</text>
<text x="512" y="424.47" font-size="6.7" fill="#3a3a3a" stroke="#3a3a3a" stroke-width="0.2">0.121</text>
<circle cx="520.3" cy="244.4" r="1" fill="#c16996" fill-opacity="0.85"/>
<circle cx="522" cy="244.4" r="1" fill="#c8728f" fill-opacity="0.85"/>
<circle cx="524" cy="244.4" r="1" fill="#ba609c" fill-opacity="0.85"/>
<circle cx="526" cy="244.4" r="1" fill="#aa4da9" fill-opacity="0.85"/>
<circle cx="528" cy="244.4" r="1" fill="#ba609c" fill-opacity="0.85"/>
<circle cx="530.5" cy="244.4" r="1" fill="#c8728f" fill-opacity="0.85"/>
<circle cx="517.6" cy="257.56" r="1" fill="#6600cc" fill-opacity="0.85"/>
<circle cx="526" cy="257.56" r="1" fill="#d58482" fill-opacity="0.85"/>
<circle cx="528" cy="257.56" r="1" fill="#c8728f" fill-opacity="0.85"/>
<line x1="523.3" y1="426.8" x2="523.3" y2="429.4" stroke="#333" stroke-width="0.9" />
<text x="523.3" y="434.21" font-size="6.7" text-anchor="middle" fill="#4d4d4d" stroke="#4d4d4d" stroke-width="0.2">−2</text>
<line x1="560.05" y1="426.8" x2="560.05" y2="429.4" stroke="#333" stroke-width="0.9" />
<text x="560.05" y="434.21" font-size="6.7" text-anchor="middle" fill="#4d4d4d" stroke="#4d4d4d" stroke-width="0.2">−1</text>
<line x1="596.8" y1="426.8" x2="596.8" y2="429.4" stroke="#333" stroke-width="0.9" />
<text x="596.8" y="434.21" font-size="6.7" text-anchor="middle" fill="#4d4d4d" stroke="#4d4d4d" stroke-width="0.2">0</text>
<line x1="633.55" y1="426.8" x2="633.55" y2="429.4" stroke="#333" stroke-width="0.9" />
<text x="633.55" y="434.21" font-size="6.7" text-anchor="middle" fill="#4d4d4d" stroke="#4d4d4d" stroke-width="0.2">1</text>
<line x1="670.3" y1="426.8" x2="670.3" y2="429.4" stroke="#333" stroke-width="0.9" />
<text x="670.3" y="434.21" font-size="6.7" text-anchor="middle" fill="#4d4d4d" stroke="#4d4d4d" stroke-width="0.2">2</text>
<text x="597" y="444.71" font-size="6.7" text-anchor="middle" fill="#222" stroke="#222" stroke-width="0.2">SHAP value (impact on model output)</text>
<rect x="667.7" y="380.6" width="6.3" height="34" fill="url(#cb)" />
<text x="671.7" y="378.51" font-size="6.7" text-anchor="middle" fill="#222" stroke="#222" stroke-width="0.2">High</text>
<text x="671.7" y="421.31" font-size="6.7" text-anchor="middle" fill="#222" stroke="#222" stroke-width="0.2">Low</text>
<text x="653.4" y="395.41" font-size="6.7" text-anchor="middle" fill="#222" stroke="#222" stroke-width="0.2">Feature</text>
<text x="653.4" y="403.61" font-size="6.7" text-anchor="middle" fill="#222" stroke="#222" stroke-width="0.2">value</text>
</svg></body></html>
